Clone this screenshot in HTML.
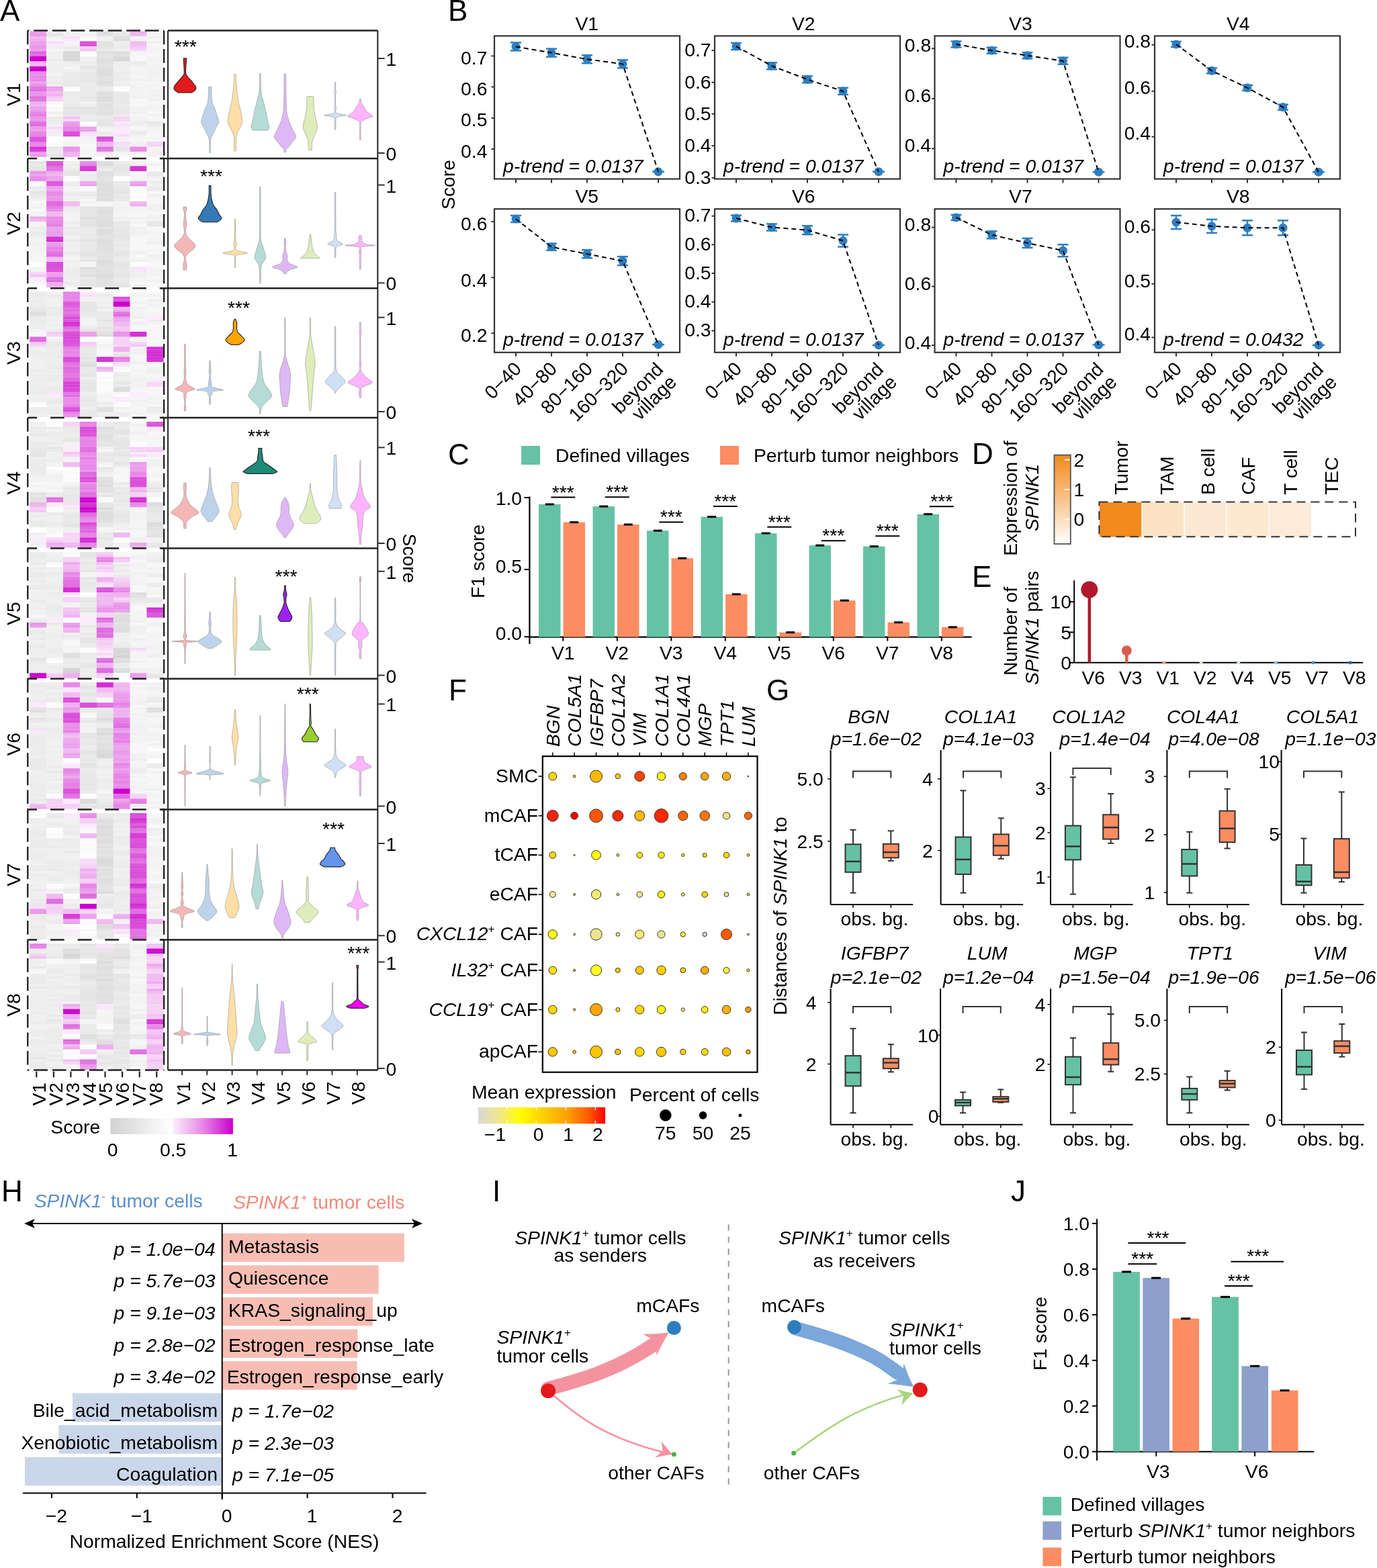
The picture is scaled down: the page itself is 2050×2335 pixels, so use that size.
<!DOCTYPE html>
<html><head><meta charset="utf-8"><style>
html,body{margin:0;padding:0;background:#fff;overflow:hidden;}
svg{display:block;}
text{font-family:"Liberation Sans", Arial, sans-serif;font-size:28.3px;}
</style></head><body>
<svg width="2050" height="2335" viewBox="0 0 2050 2335">
<rect width="2050" height="2335" fill="#fff"/>
<text x="0" y="31" style="font-size:44px;">A</text>
<rect x="44.2" y="46.5" width="25.2" height="4" fill="#EA9BEA"/>
<rect x="44.2" y="50.2" width="25.2" height="4" fill="#E997E9"/>
<rect x="44.2" y="54" width="25.2" height="4" fill="#F0BAF0"/>
<rect x="44.2" y="57.7" width="25.2" height="4" fill="#EEABEE"/>
<rect x="44.2" y="61.4" width="25.2" height="4" fill="#EBA1EB"/>
<rect x="44.2" y="65.2" width="25.2" height="4" fill="#EA9DEA"/>
<rect x="44.2" y="68.9" width="25.2" height="4" fill="#E995E9"/>
<rect x="44.2" y="72.7" width="25.2" height="4" fill="#EBA0EB"/>
<rect x="44.2" y="76.4" width="25.2" height="4" fill="#DF68DF"/>
<rect x="44.2" y="80.1" width="25.2" height="4" fill="#E06FE0"/>
<rect x="44.2" y="83.9" width="25.2" height="7.8" fill="#CC00CC"/>
<rect x="44.2" y="91.3" width="25.2" height="4" fill="#F0B6F0"/>
<rect x="44.2" y="95.1" width="25.2" height="4" fill="#F1BCF1"/>
<rect x="44.2" y="98.8" width="25.2" height="7.8" fill="#CC00CC"/>
<rect x="44.2" y="106.3" width="25.2" height="4" fill="#E88AE8"/>
<rect x="44.2" y="110" width="25.2" height="4" fill="#EA91EA"/>
<rect x="44.2" y="113.7" width="25.2" height="4" fill="#E889E8"/>
<rect x="44.2" y="117.5" width="25.2" height="4" fill="#E886E8"/>
<rect x="44.2" y="121.2" width="25.2" height="4" fill="#EDA7ED"/>
<rect x="44.2" y="125" width="25.2" height="4" fill="#E994E9"/>
<rect x="44.2" y="128.7" width="25.2" height="4" fill="#E278E2"/>
<rect x="44.2" y="132.4" width="25.2" height="4" fill="#DF6CDF"/>
<rect x="44.2" y="136.2" width="25.2" height="4" fill="#E997E9"/>
<rect x="44.2" y="139.9" width="25.2" height="4" fill="#E996E9"/>
<rect x="44.2" y="143.6" width="25.2" height="4" fill="#DF6DDF"/>
<rect x="44.2" y="147.4" width="25.2" height="4" fill="#E277E2"/>
<rect x="44.2" y="151.1" width="25.2" height="4" fill="#EEAFEE"/>
<rect x="44.2" y="154.8" width="25.2" height="4" fill="#F0B9F0"/>
<rect x="44.2" y="158.6" width="25.2" height="4" fill="#EBA2EB"/>
<rect x="44.2" y="162.3" width="25.2" height="4" fill="#EA9DEA"/>
<rect x="44.2" y="166.1" width="25.2" height="4" fill="#E889E8"/>
<rect x="44.2" y="169.8" width="25.2" height="4" fill="#E67EE6"/>
<rect x="44.2" y="173.5" width="25.2" height="4" fill="#E995E9"/>
<rect x="44.2" y="177.3" width="25.2" height="4" fill="#EA98EA"/>
<rect x="44.2" y="181" width="25.2" height="4" fill="#E174E1"/>
<rect x="44.2" y="184.7" width="25.2" height="4" fill="#E06FE0"/>
<rect x="44.2" y="188.5" width="25.2" height="4" fill="#EA9BEA"/>
<rect x="44.2" y="192.2" width="25.2" height="4" fill="#EBA1EB"/>
<rect x="44.2" y="195.9" width="25.2" height="4" fill="#E887E8"/>
<rect x="44.2" y="199.7" width="25.2" height="4" fill="#E784E7"/>
<rect x="44.2" y="203.4" width="25.2" height="4" fill="#DC58DC"/>
<rect x="44.2" y="207.1" width="25.2" height="4" fill="#DB56DB"/>
<rect x="44.2" y="210.9" width="25.2" height="4" fill="#E782E7"/>
<rect x="44.2" y="214.6" width="25.2" height="4" fill="#E889E8"/>
<rect x="44.2" y="218.4" width="25.2" height="4" fill="#D431D4"/>
<rect x="44.2" y="222.1" width="25.2" height="4" fill="#D73CD7"/>
<rect x="44.2" y="225.8" width="25.2" height="4" fill="#ECA3EC"/>
<rect x="44.2" y="229.6" width="25.2" height="4" fill="#EA9BEA"/>
<rect x="69.1" y="46.5" width="25.2" height="4" fill="#ECECEC"/>
<rect x="69.1" y="50.2" width="25.2" height="4" fill="#E5E5E5"/>
<rect x="69.1" y="54" width="25.2" height="4" fill="#F3F3F3"/>
<rect x="69.1" y="57.7" width="25.2" height="4" fill="#F6F6F6"/>
<rect x="69.1" y="61.4" width="25.2" height="4" fill="#F8DDF8"/>
<rect x="69.1" y="65.2" width="25.2" height="4" fill="#FBEAFB"/>
<rect x="69.1" y="68.9" width="25.2" height="4" fill="#F0F0F0"/>
<rect x="69.1" y="72.7" width="25.2" height="4" fill="#F5F5F5"/>
<rect x="69.1" y="76.4" width="25.2" height="4" fill="#F0F0F0"/>
<rect x="69.1" y="80.1" width="25.2" height="4" fill="#EFEFEF"/>
<rect x="69.1" y="83.9" width="25.2" height="4" fill="#F1F1F1"/>
<rect x="69.1" y="87.6" width="25.2" height="4" fill="#EDEDED"/>
<rect x="69.1" y="91.3" width="25.2" height="4" fill="#F0F0F0"/>
<rect x="69.1" y="95.1" width="25.2" height="7.8" fill="#EFEFEF"/>
<rect x="69.1" y="102.5" width="25.2" height="4" fill="#EEEEEE"/>
<rect x="69.1" y="106.3" width="25.2" height="4" fill="#F1F1F1"/>
<rect x="69.1" y="110" width="25.2" height="4" fill="#F2F2F2"/>
<rect x="69.1" y="113.7" width="25.2" height="4" fill="#EEEEEE"/>
<rect x="69.1" y="117.5" width="25.2" height="4" fill="#EFEFEF"/>
<rect x="69.1" y="121.2" width="25.2" height="4" fill="#EAEAEA"/>
<rect x="69.1" y="125" width="25.2" height="4" fill="#F0F0F0"/>
<rect x="69.1" y="128.7" width="25.2" height="4" fill="#EBA2EB"/>
<rect x="69.1" y="132.4" width="25.2" height="4" fill="#EDA7ED"/>
<rect x="69.1" y="136.2" width="25.2" height="4" fill="#F1BCF1"/>
<rect x="69.1" y="139.9" width="25.2" height="4" fill="#EFB2EF"/>
<rect x="69.1" y="143.6" width="25.2" height="4" fill="#F5CEF5"/>
<rect x="69.1" y="147.4" width="25.2" height="4" fill="#F6D3F6"/>
<rect x="69.1" y="151.1" width="25.2" height="4" fill="#F8F8F8"/>
<rect x="69.1" y="154.8" width="25.2" height="4" fill="#FCFCFC"/>
<rect x="69.1" y="158.6" width="25.2" height="7.8" fill="#F9F9F9"/>
<rect x="69.1" y="166.1" width="25.2" height="4" fill="#F0F0F0"/>
<rect x="69.1" y="169.8" width="25.2" height="4" fill="#F6F6F6"/>
<rect x="69.1" y="173.5" width="25.2" height="4" fill="#EBEBEB"/>
<rect x="69.1" y="177.3" width="25.2" height="4" fill="#ECECEC"/>
<rect x="69.1" y="181" width="25.2" height="4" fill="#EDEDED"/>
<rect x="69.1" y="184.7" width="25.2" height="4" fill="#F1F1F1"/>
<rect x="69.1" y="188.5" width="25.2" height="4" fill="#F8DAF8"/>
<rect x="69.1" y="192.2" width="25.2" height="4" fill="#FBE8FB"/>
<rect x="69.1" y="195.9" width="25.2" height="4" fill="#EEEEEE"/>
<rect x="69.1" y="199.7" width="25.2" height="4" fill="#F1F1F1"/>
<rect x="69.1" y="203.4" width="25.2" height="7.8" fill="#FFFFFF"/>
<rect x="69.1" y="210.9" width="25.2" height="4" fill="#FAFAFA"/>
<rect x="69.1" y="214.6" width="25.2" height="4" fill="#FBFBFB"/>
<rect x="69.1" y="218.4" width="25.2" height="4" fill="#E7E7E7"/>
<rect x="69.1" y="222.1" width="25.2" height="4" fill="#EBEBEB"/>
<rect x="69.1" y="225.8" width="25.2" height="4" fill="#ECECEC"/>
<rect x="69.1" y="229.6" width="25.2" height="4" fill="#E5E5E5"/>
<rect x="94" y="46.5" width="25.2" height="4" fill="#F1F1F1"/>
<rect x="94" y="50.2" width="25.2" height="4" fill="#F2F2F2"/>
<rect x="94" y="54" width="25.2" height="4" fill="#F9E0F9"/>
<rect x="94" y="57.7" width="25.2" height="4" fill="#FBE9FB"/>
<rect x="94" y="61.4" width="25.2" height="4" fill="#F5F5F5"/>
<rect x="94" y="65.2" width="25.2" height="4" fill="#F2F2F2"/>
<rect x="94" y="68.9" width="25.2" height="4" fill="#EAEAEA"/>
<rect x="94" y="72.7" width="25.2" height="4" fill="#EDEDED"/>
<rect x="94" y="76.4" width="25.2" height="4" fill="#D5D5D5"/>
<rect x="94" y="80.1" width="25.2" height="4" fill="#D7D7D7"/>
<rect x="94" y="83.9" width="25.2" height="4" fill="#DADADA"/>
<rect x="94" y="87.6" width="25.2" height="4" fill="#D8D8D8"/>
<rect x="94" y="91.3" width="25.2" height="4" fill="#EEEEEE"/>
<rect x="94" y="95.1" width="25.2" height="4" fill="#EFEFEF"/>
<rect x="94" y="98.8" width="25.2" height="4" fill="#F5F5F5"/>
<rect x="94" y="102.5" width="25.2" height="4" fill="#F0F0F0"/>
<rect x="94" y="106.3" width="25.2" height="4" fill="#EBEBEB"/>
<rect x="94" y="110" width="25.2" height="4" fill="#EAEAEA"/>
<rect x="94" y="113.7" width="25.2" height="4" fill="#EBEBEB"/>
<rect x="94" y="117.5" width="25.2" height="4" fill="#EAEAEA"/>
<rect x="94" y="121.2" width="25.2" height="7.8" fill="#E7E7E7"/>
<rect x="94" y="128.7" width="25.2" height="4" fill="#F9F9F9"/>
<rect x="94" y="132.4" width="25.2" height="4" fill="#FDFDFD"/>
<rect x="94" y="136.2" width="25.2" height="4" fill="#EAEAEA"/>
<rect x="94" y="139.9" width="25.2" height="4" fill="#EBEBEB"/>
<rect x="94" y="143.6" width="25.2" height="4" fill="#ECECEC"/>
<rect x="94" y="147.4" width="25.2" height="4" fill="#EBEBEB"/>
<rect x="94" y="151.1" width="25.2" height="4" fill="#EDEDED"/>
<rect x="94" y="154.8" width="25.2" height="4" fill="#EAEAEA"/>
<rect x="94" y="158.6" width="25.2" height="4" fill="#E4E4E4"/>
<rect x="94" y="162.3" width="25.2" height="7.8" fill="#E5E5E5"/>
<rect x="94" y="169.8" width="25.2" height="4" fill="#E7E7E7"/>
<rect x="94" y="173.5" width="25.2" height="4" fill="#F3C2F3"/>
<rect x="94" y="177.3" width="25.2" height="4" fill="#F7D5F7"/>
<rect x="94" y="181" width="25.2" height="4" fill="#EBA2EB"/>
<rect x="94" y="184.7" width="25.2" height="4" fill="#E997E9"/>
<rect x="94" y="188.5" width="25.2" height="4" fill="#E783E7"/>
<rect x="94" y="192.2" width="25.2" height="4" fill="#E785E7"/>
<rect x="94" y="195.9" width="25.2" height="4" fill="#DA4EDA"/>
<rect x="94" y="199.7" width="25.2" height="4" fill="#D94BD9"/>
<rect x="94" y="203.4" width="25.2" height="4" fill="#F7F7F7"/>
<rect x="94" y="207.1" width="25.2" height="4" fill="#F8F8F8"/>
<rect x="94" y="210.9" width="25.2" height="7.8" fill="#F4F4F4"/>
<rect x="94" y="218.4" width="25.2" height="4" fill="#E995E9"/>
<rect x="94" y="222.1" width="25.2" height="4" fill="#E996E9"/>
<rect x="94" y="225.8" width="25.2" height="4" fill="#EFB3EF"/>
<rect x="94" y="229.6" width="25.2" height="4" fill="#EFB1EF"/>
<rect x="118.9" y="46.5" width="25.2" height="4" fill="#F7F7F7"/>
<rect x="118.9" y="50.2" width="25.2" height="4" fill="#F1F1F1"/>
<rect x="118.9" y="54" width="25.2" height="4" fill="#F8F8F8"/>
<rect x="118.9" y="57.7" width="25.2" height="4" fill="#FFFFFF"/>
<rect x="118.9" y="61.4" width="25.2" height="4" fill="#DA51DA"/>
<rect x="118.9" y="65.2" width="25.2" height="4" fill="#D94BD9"/>
<rect x="118.9" y="68.9" width="25.2" height="4" fill="#F6D2F6"/>
<rect x="118.9" y="72.7" width="25.2" height="4" fill="#F3C2F3"/>
<rect x="118.9" y="76.4" width="25.2" height="4" fill="#FCFCFC"/>
<rect x="118.9" y="80.1" width="25.2" height="4" fill="#FFFFFF"/>
<rect x="118.9" y="83.9" width="25.2" height="4" fill="#F1F1F1"/>
<rect x="118.9" y="87.6" width="25.2" height="4" fill="#F0F0F0"/>
<rect x="118.9" y="91.3" width="25.2" height="4" fill="#ECECEC"/>
<rect x="118.9" y="95.1" width="25.2" height="4" fill="#EDEDED"/>
<rect x="118.9" y="98.8" width="25.2" height="4" fill="#E5E5E5"/>
<rect x="118.9" y="102.5" width="25.2" height="4" fill="#EAEAEA"/>
<rect x="118.9" y="106.3" width="25.2" height="4" fill="#E8E8E8"/>
<rect x="118.9" y="110" width="25.2" height="4" fill="#EAEAEA"/>
<rect x="118.9" y="113.7" width="25.2" height="4" fill="#E7E7E7"/>
<rect x="118.9" y="117.5" width="25.2" height="4" fill="#E6E6E6"/>
<rect x="118.9" y="121.2" width="25.2" height="4" fill="#EAEAEA"/>
<rect x="118.9" y="125" width="25.2" height="4" fill="#ECECEC"/>
<rect x="118.9" y="128.7" width="25.2" height="4" fill="#EBEBEB"/>
<rect x="118.9" y="132.4" width="25.2" height="4" fill="#EAEAEA"/>
<rect x="118.9" y="136.2" width="25.2" height="4" fill="#EBEBEB"/>
<rect x="118.9" y="139.9" width="25.2" height="4" fill="#EAEAEA"/>
<rect x="118.9" y="143.6" width="25.2" height="4" fill="#E6E6E6"/>
<rect x="118.9" y="147.4" width="25.2" height="4" fill="#E8E8E8"/>
<rect x="118.9" y="151.1" width="25.2" height="4" fill="#F3F3F3"/>
<rect x="118.9" y="154.8" width="25.2" height="4" fill="#F0F0F0"/>
<rect x="118.9" y="158.6" width="25.2" height="4" fill="#E4E4E4"/>
<rect x="118.9" y="162.3" width="25.2" height="7.8" fill="#E6E6E6"/>
<rect x="118.9" y="169.8" width="25.2" height="4" fill="#EAEAEA"/>
<rect x="118.9" y="173.5" width="25.2" height="4" fill="#ECECEC"/>
<rect x="118.9" y="177.3" width="25.2" height="4" fill="#E8E8E8"/>
<rect x="118.9" y="181" width="25.2" height="7.8" fill="#FFFFFF"/>
<rect x="118.9" y="188.5" width="25.2" height="4" fill="#ECA7EC"/>
<rect x="118.9" y="192.2" width="25.2" height="4" fill="#EA9DEA"/>
<rect x="118.9" y="195.9" width="25.2" height="7.8" fill="#F9E0F9"/>
<rect x="118.9" y="203.4" width="25.2" height="7.8" fill="#F2F2F2"/>
<rect x="118.9" y="210.9" width="25.2" height="4" fill="#F5F5F5"/>
<rect x="118.9" y="214.6" width="25.2" height="7.8" fill="#F7F7F7"/>
<rect x="118.9" y="222.1" width="25.2" height="4" fill="#F4F4F4"/>
<rect x="118.9" y="225.8" width="25.2" height="4" fill="#F5F5F5"/>
<rect x="118.9" y="229.6" width="25.2" height="4" fill="#F6F6F6"/>
<rect x="143.8" y="46.5" width="25.2" height="4" fill="#DDDDDD"/>
<rect x="143.8" y="50.2" width="25.2" height="4" fill="#E1E1E1"/>
<rect x="143.8" y="54" width="25.2" height="4" fill="#F1F1F1"/>
<rect x="143.8" y="57.7" width="25.2" height="4" fill="#F0F0F0"/>
<rect x="143.8" y="61.4" width="25.2" height="4" fill="#E2E2E2"/>
<rect x="143.8" y="65.2" width="25.2" height="4" fill="#E0E0E0"/>
<rect x="143.8" y="68.9" width="25.2" height="4" fill="#E5E5E5"/>
<rect x="143.8" y="72.7" width="25.2" height="4" fill="#EAEAEA"/>
<rect x="143.8" y="76.4" width="25.2" height="4" fill="#DFDFDF"/>
<rect x="143.8" y="80.1" width="25.2" height="4" fill="#E2E2E2"/>
<rect x="143.8" y="83.9" width="25.2" height="4" fill="#E4E4E4"/>
<rect x="143.8" y="87.6" width="25.2" height="7.8" fill="#DFDFDF"/>
<rect x="143.8" y="95.1" width="25.2" height="4" fill="#E4E4E4"/>
<rect x="143.8" y="98.8" width="25.2" height="4" fill="#E2E2E2"/>
<rect x="143.8" y="102.5" width="25.2" height="11.5" fill="#DDDDDD"/>
<rect x="143.8" y="113.7" width="25.2" height="4" fill="#E3E3E3"/>
<rect x="143.8" y="117.5" width="25.2" height="4" fill="#E2E2E2"/>
<rect x="143.8" y="121.2" width="25.2" height="4" fill="#DDDDDD"/>
<rect x="143.8" y="125" width="25.2" height="4" fill="#E3E3E3"/>
<rect x="143.8" y="128.7" width="25.2" height="4" fill="#ECECEC"/>
<rect x="143.8" y="132.4" width="25.2" height="4" fill="#E9E9E9"/>
<rect x="143.8" y="136.2" width="25.2" height="4" fill="#DFDFDF"/>
<rect x="143.8" y="139.9" width="25.2" height="4" fill="#E0E0E0"/>
<rect x="143.8" y="143.6" width="25.2" height="4" fill="#DDDDDD"/>
<rect x="143.8" y="147.4" width="25.2" height="4" fill="#DCDCDC"/>
<rect x="143.8" y="151.1" width="25.2" height="4" fill="#E4E4E4"/>
<rect x="143.8" y="154.8" width="25.2" height="4" fill="#E1E1E1"/>
<rect x="143.8" y="158.6" width="25.2" height="4" fill="#E0E0E0"/>
<rect x="143.8" y="162.3" width="25.2" height="4" fill="#E3E3E3"/>
<rect x="143.8" y="166.1" width="25.2" height="4" fill="#DFDFDF"/>
<rect x="143.8" y="169.8" width="25.2" height="4" fill="#E3E3E3"/>
<rect x="143.8" y="173.5" width="25.2" height="4" fill="#EBEBEB"/>
<rect x="143.8" y="177.3" width="25.2" height="11.5" fill="#E6E6E6"/>
<rect x="143.8" y="188.5" width="25.2" height="4" fill="#F2F2F2"/>
<rect x="143.8" y="192.2" width="25.2" height="4" fill="#F5F5F5"/>
<rect x="143.8" y="195.9" width="25.2" height="4" fill="#ECECEC"/>
<rect x="143.8" y="199.7" width="25.2" height="4" fill="#EDEDED"/>
<rect x="143.8" y="203.4" width="25.2" height="4" fill="#D94BD9"/>
<rect x="143.8" y="207.1" width="25.2" height="4" fill="#DC5BDC"/>
<rect x="143.8" y="210.9" width="25.2" height="4" fill="#EFB4EF"/>
<rect x="143.8" y="214.6" width="25.2" height="4" fill="#F0B7F0"/>
<rect x="143.8" y="218.4" width="25.2" height="4" fill="#E072E0"/>
<rect x="143.8" y="222.1" width="25.2" height="4" fill="#E279E2"/>
<rect x="143.8" y="225.8" width="25.2" height="4" fill="#FAE7FA"/>
<rect x="143.8" y="229.6" width="25.2" height="4" fill="#FBEBFB"/>
<rect x="168.7" y="46.5" width="25.2" height="7.8" fill="#E8E8E8"/>
<rect x="168.7" y="54" width="25.2" height="4" fill="#E0E0E0"/>
<rect x="168.7" y="57.7" width="25.2" height="4" fill="#DCDCDC"/>
<rect x="168.7" y="61.4" width="25.2" height="4" fill="#EEEEEE"/>
<rect x="168.7" y="65.2" width="25.2" height="4" fill="#EBEBEB"/>
<rect x="168.7" y="68.9" width="25.2" height="4" fill="#EAEAEA"/>
<rect x="168.7" y="72.7" width="25.2" height="4" fill="#F0F0F0"/>
<rect x="168.7" y="76.4" width="25.2" height="4" fill="#DDDDDD"/>
<rect x="168.7" y="80.1" width="25.2" height="4" fill="#E0E0E0"/>
<rect x="168.7" y="83.9" width="25.2" height="4" fill="#D8D8D8"/>
<rect x="168.7" y="87.6" width="25.2" height="4" fill="#D6D6D6"/>
<rect x="168.7" y="91.3" width="25.2" height="4" fill="#EDEDED"/>
<rect x="168.7" y="95.1" width="25.2" height="7.8" fill="#EEEEEE"/>
<rect x="168.7" y="102.5" width="25.2" height="4" fill="#F0F0F0"/>
<rect x="168.7" y="106.3" width="25.2" height="4" fill="#EBEBEB"/>
<rect x="168.7" y="110" width="25.2" height="4" fill="#EEEEEE"/>
<rect x="168.7" y="113.7" width="25.2" height="7.8" fill="#ECECEC"/>
<rect x="168.7" y="121.2" width="25.2" height="4" fill="#F0F0F0"/>
<rect x="168.7" y="125" width="25.2" height="4" fill="#EEEEEE"/>
<rect x="168.7" y="128.7" width="25.2" height="4" fill="#FCFCFC"/>
<rect x="168.7" y="132.4" width="25.2" height="4" fill="#FEFEFE"/>
<rect x="168.7" y="136.2" width="25.2" height="4" fill="#EBEBEB"/>
<rect x="168.7" y="139.9" width="25.2" height="4" fill="#E8E8E8"/>
<rect x="168.7" y="143.6" width="25.2" height="4" fill="#E9E9E9"/>
<rect x="168.7" y="147.4" width="25.2" height="7.8" fill="#E8E8E8"/>
<rect x="168.7" y="154.8" width="25.2" height="4" fill="#EAEAEA"/>
<rect x="168.7" y="158.6" width="25.2" height="11.5" fill="#E8E8E8"/>
<rect x="168.7" y="169.8" width="25.2" height="4" fill="#ECECEC"/>
<rect x="168.7" y="173.5" width="25.2" height="4" fill="#F6D3F6"/>
<rect x="168.7" y="177.3" width="25.2" height="4" fill="#F7D5F7"/>
<rect x="168.7" y="181" width="25.2" height="4" fill="#FBEBFB"/>
<rect x="168.7" y="184.7" width="25.2" height="4" fill="#F9E1F9"/>
<rect x="168.7" y="188.5" width="25.2" height="4" fill="#FBEAFB"/>
<rect x="168.7" y="192.2" width="25.2" height="7.8" fill="#FBEBFB"/>
<rect x="168.7" y="199.7" width="25.2" height="4" fill="#F8DCF8"/>
<rect x="168.7" y="203.4" width="25.2" height="4" fill="#F1F1F1"/>
<rect x="168.7" y="207.1" width="25.2" height="4" fill="#F4F4F4"/>
<rect x="168.7" y="210.9" width="25.2" height="4" fill="#F8DAF8"/>
<rect x="168.7" y="214.6" width="25.2" height="4" fill="#F9E0F9"/>
<rect x="168.7" y="218.4" width="25.2" height="4" fill="#E5E5E5"/>
<rect x="168.7" y="222.1" width="25.2" height="4" fill="#E9E9E9"/>
<rect x="168.7" y="225.8" width="25.2" height="4" fill="#F6F6F6"/>
<rect x="168.7" y="229.6" width="25.2" height="4" fill="#F7F7F7"/>
<rect x="193.5" y="46.5" width="25.2" height="4" fill="#EEAEEE"/>
<rect x="193.5" y="50.2" width="25.2" height="4" fill="#F1BAF1"/>
<rect x="193.5" y="54" width="25.2" height="4" fill="#F5F5F5"/>
<rect x="193.5" y="57.7" width="25.2" height="4" fill="#F1F1F1"/>
<rect x="193.5" y="61.4" width="25.2" height="4" fill="#F1BCF1"/>
<rect x="193.5" y="65.2" width="25.2" height="4" fill="#F1BDF1"/>
<rect x="193.5" y="68.9" width="25.2" height="4" fill="#F4C9F4"/>
<rect x="193.5" y="72.7" width="25.2" height="4" fill="#F7D5F7"/>
<rect x="193.5" y="76.4" width="25.2" height="4" fill="#F3F3F3"/>
<rect x="193.5" y="80.1" width="25.2" height="4" fill="#F4F4F4"/>
<rect x="193.5" y="83.9" width="25.2" height="4" fill="#F8F8F8"/>
<rect x="193.5" y="87.6" width="25.2" height="4" fill="#F7F7F7"/>
<rect x="193.5" y="91.3" width="25.2" height="4" fill="#EBEBEB"/>
<rect x="193.5" y="95.1" width="25.2" height="4" fill="#EDEDED"/>
<rect x="193.5" y="98.8" width="25.2" height="4" fill="#F4F4F4"/>
<rect x="193.5" y="102.5" width="25.2" height="4" fill="#F3F3F3"/>
<rect x="193.5" y="106.3" width="25.2" height="4" fill="#F2F2F2"/>
<rect x="193.5" y="110" width="25.2" height="4" fill="#F3F3F3"/>
<rect x="193.5" y="113.7" width="25.2" height="4" fill="#F6F6F6"/>
<rect x="193.5" y="117.5" width="25.2" height="4" fill="#F0F0F0"/>
<rect x="193.5" y="121.2" width="25.2" height="7.8" fill="#F4F4F4"/>
<rect x="193.5" y="128.7" width="25.2" height="4" fill="#F0F0F0"/>
<rect x="193.5" y="132.4" width="25.2" height="4" fill="#F3F3F3"/>
<rect x="193.5" y="136.2" width="25.2" height="4" fill="#F5F5F5"/>
<rect x="193.5" y="139.9" width="25.2" height="4" fill="#F4F4F4"/>
<rect x="193.5" y="143.6" width="25.2" height="4" fill="#F1F1F1"/>
<rect x="193.5" y="147.4" width="25.2" height="4" fill="#F8F8F8"/>
<rect x="193.5" y="151.1" width="25.2" height="4" fill="#F6F6F6"/>
<rect x="193.5" y="154.8" width="25.2" height="4" fill="#F8F8F8"/>
<rect x="193.5" y="158.6" width="25.2" height="4" fill="#F1F1F1"/>
<rect x="193.5" y="162.3" width="25.2" height="4" fill="#F2F2F2"/>
<rect x="193.5" y="166.1" width="25.2" height="4" fill="#F0F0F0"/>
<rect x="193.5" y="169.8" width="25.2" height="4" fill="#F6F6F6"/>
<rect x="193.5" y="173.5" width="25.2" height="4" fill="#F2F2F2"/>
<rect x="193.5" y="177.3" width="25.2" height="4" fill="#F1F1F1"/>
<rect x="193.5" y="181" width="25.2" height="4" fill="#EDEDED"/>
<rect x="193.5" y="184.7" width="25.2" height="4" fill="#F1F1F1"/>
<rect x="193.5" y="188.5" width="25.2" height="4" fill="#F7F7F7"/>
<rect x="193.5" y="192.2" width="25.2" height="4" fill="#F2F2F2"/>
<rect x="193.5" y="195.9" width="25.2" height="4" fill="#EBEBEB"/>
<rect x="193.5" y="199.7" width="25.2" height="4" fill="#F1F1F1"/>
<rect x="193.5" y="203.4" width="25.2" height="4" fill="#F5F5F5"/>
<rect x="193.5" y="207.1" width="25.2" height="4" fill="#F6F6F6"/>
<rect x="193.5" y="210.9" width="25.2" height="4" fill="#F1F1F1"/>
<rect x="193.5" y="214.6" width="25.2" height="4" fill="#F0F0F0"/>
<rect x="193.5" y="218.4" width="25.2" height="4" fill="#E98CE9"/>
<rect x="193.5" y="222.1" width="25.2" height="4" fill="#E886E8"/>
<rect x="193.5" y="225.8" width="25.2" height="4" fill="#F1F1F1"/>
<rect x="193.5" y="229.6" width="25.2" height="4" fill="#F8F8F8"/>
<rect x="218.4" y="46.5" width="25.2" height="4" fill="#F5F5F5"/>
<rect x="218.4" y="50.2" width="25.2" height="4" fill="#F6F6F6"/>
<rect x="218.4" y="54" width="25.2" height="4" fill="#F1F1F1"/>
<rect x="218.4" y="57.7" width="25.2" height="4" fill="#F7F7F7"/>
<rect x="218.4" y="61.4" width="25.2" height="4" fill="#F1F1F1"/>
<rect x="218.4" y="65.2" width="25.2" height="4" fill="#F7F7F7"/>
<rect x="218.4" y="68.9" width="25.2" height="4" fill="#F4F4F4"/>
<rect x="218.4" y="72.7" width="25.2" height="4" fill="#F3F3F3"/>
<rect x="218.4" y="76.4" width="25.2" height="4" fill="#F4F4F4"/>
<rect x="218.4" y="80.1" width="25.2" height="4" fill="#F7F7F7"/>
<rect x="218.4" y="83.9" width="25.2" height="4" fill="#F2F2F2"/>
<rect x="218.4" y="87.6" width="25.2" height="4" fill="#F1F1F1"/>
<rect x="218.4" y="91.3" width="25.2" height="4" fill="#F4F4F4"/>
<rect x="218.4" y="95.1" width="25.2" height="4" fill="#F2F2F2"/>
<rect x="218.4" y="98.8" width="25.2" height="7.8" fill="#F1F1F1"/>
<rect x="218.4" y="106.3" width="25.2" height="4" fill="#F0F0F0"/>
<rect x="218.4" y="110" width="25.2" height="11.5" fill="#F2F2F2"/>
<rect x="218.4" y="121.2" width="25.2" height="4" fill="#F6F6F6"/>
<rect x="218.4" y="125" width="25.2" height="4" fill="#F2F2F2"/>
<rect x="218.4" y="128.7" width="25.2" height="4" fill="#F4F4F4"/>
<rect x="218.4" y="132.4" width="25.2" height="4" fill="#F1F1F1"/>
<rect x="218.4" y="136.2" width="25.2" height="4" fill="#F3F3F3"/>
<rect x="218.4" y="139.9" width="25.2" height="4" fill="#F0F0F0"/>
<rect x="218.4" y="143.6" width="25.2" height="4" fill="#F2F2F2"/>
<rect x="218.4" y="147.4" width="25.2" height="4" fill="#F0F0F0"/>
<rect x="218.4" y="151.1" width="25.2" height="4" fill="#F6F6F6"/>
<rect x="218.4" y="154.8" width="25.2" height="4" fill="#F4F4F4"/>
<rect x="218.4" y="158.6" width="25.2" height="4" fill="#F2F2F2"/>
<rect x="218.4" y="162.3" width="25.2" height="4" fill="#F4F4F4"/>
<rect x="218.4" y="166.1" width="25.2" height="4" fill="#F7F7F7"/>
<rect x="218.4" y="169.8" width="25.2" height="4" fill="#F1F1F1"/>
<rect x="218.4" y="173.5" width="25.2" height="4" fill="#F7F7F7"/>
<rect x="218.4" y="177.3" width="25.2" height="4" fill="#F3F3F3"/>
<rect x="218.4" y="181" width="25.2" height="4" fill="#E8E8E8"/>
<rect x="218.4" y="184.7" width="25.2" height="4" fill="#EBEBEB"/>
<rect x="218.4" y="188.5" width="25.2" height="4" fill="#F3F3F3"/>
<rect x="218.4" y="192.2" width="25.2" height="4" fill="#F4F4F4"/>
<rect x="218.4" y="195.9" width="25.2" height="4" fill="#F6F6F6"/>
<rect x="218.4" y="199.7" width="25.2" height="4" fill="#F8F8F8"/>
<rect x="218.4" y="203.4" width="25.2" height="4" fill="#F3F3F3"/>
<rect x="218.4" y="207.1" width="25.2" height="4" fill="#F7F7F7"/>
<rect x="218.4" y="210.9" width="25.2" height="7.8" fill="#F6D3F6"/>
<rect x="218.4" y="218.4" width="25.2" height="7.8" fill="#F3F3F3"/>
<rect x="218.4" y="225.8" width="25.2" height="4" fill="#F0F0F0"/>
<rect x="218.4" y="229.6" width="25.2" height="4" fill="#F1F1F1"/>
<line x1="41.3" y1="45.5" x2="41.3" y2="236" stroke="#222" stroke-width="2.4" stroke-dasharray="20.7 6.9"/>
<line x1="244.1" y1="45.5" x2="244.1" y2="236" stroke="#222" stroke-width="2.4" stroke-dasharray="20.7 6.9"/>
<rect x="44.2" y="239.8" width="25.2" height="4.1" fill="#E5E5E5"/>
<rect x="44.2" y="243.6" width="25.2" height="4.1" fill="#EAEAEA"/>
<rect x="44.2" y="247.3" width="25.2" height="4.1" fill="#E6E6E6"/>
<rect x="44.2" y="251.1" width="25.2" height="4.1" fill="#E5E5E5"/>
<rect x="44.2" y="254.8" width="25.2" height="4.1" fill="#E995E9"/>
<rect x="44.2" y="258.6" width="25.2" height="4.1" fill="#ECA5EC"/>
<rect x="44.2" y="262.3" width="25.2" height="4.1" fill="#E98FE9"/>
<rect x="44.2" y="266.1" width="25.2" height="4.1" fill="#E98BE9"/>
<rect x="44.2" y="269.8" width="25.2" height="7.8" fill="#FAFAFA"/>
<rect x="44.2" y="277.4" width="25.2" height="4.1" fill="#ECECEC"/>
<rect x="44.2" y="281.1" width="25.2" height="4.1" fill="#EEEEEE"/>
<rect x="44.2" y="284.9" width="25.2" height="4.1" fill="#E5E5E5"/>
<rect x="44.2" y="288.6" width="25.2" height="4.1" fill="#E8E8E8"/>
<rect x="44.2" y="292.4" width="25.2" height="4.1" fill="#ECECEC"/>
<rect x="44.2" y="296.1" width="25.2" height="4.1" fill="#F2F2F2"/>
<rect x="44.2" y="299.9" width="25.2" height="4.1" fill="#F8F8F8"/>
<rect x="44.2" y="303.7" width="25.2" height="4.1" fill="#F4F4F4"/>
<rect x="44.2" y="307.4" width="25.2" height="4.1" fill="#F2F2F2"/>
<rect x="44.2" y="311.2" width="25.2" height="4.1" fill="#F8F8F8"/>
<rect x="44.2" y="314.9" width="25.2" height="4.1" fill="#F2F2F2"/>
<rect x="44.2" y="318.7" width="25.2" height="4.1" fill="#F3F3F3"/>
<rect x="44.2" y="322.4" width="25.2" height="4.1" fill="#EDA9ED"/>
<rect x="44.2" y="326.2" width="25.2" height="4.1" fill="#EFB5EF"/>
<rect x="44.2" y="329.9" width="25.2" height="7.8" fill="#F4F4F4"/>
<rect x="44.2" y="337.5" width="25.2" height="4.1" fill="#ECECEC"/>
<rect x="44.2" y="341.2" width="25.2" height="4.1" fill="#EEEEEE"/>
<rect x="44.2" y="345" width="25.2" height="4.1" fill="#EAEAEA"/>
<rect x="44.2" y="348.7" width="25.2" height="4.1" fill="#ECECEC"/>
<rect x="44.2" y="352.5" width="25.2" height="4.1" fill="#F1F1F1"/>
<rect x="44.2" y="356.2" width="25.2" height="4.1" fill="#F3F3F3"/>
<rect x="44.2" y="360" width="25.2" height="7.8" fill="#F0F0F0"/>
<rect x="44.2" y="367.5" width="25.2" height="7.8" fill="#F2F2F2"/>
<rect x="44.2" y="375" width="25.2" height="4.1" fill="#F5F5F5"/>
<rect x="44.2" y="378.8" width="25.2" height="4.1" fill="#F4F4F4"/>
<rect x="44.2" y="382.5" width="25.2" height="4.1" fill="#F6F6F6"/>
<rect x="44.2" y="386.3" width="25.2" height="4.1" fill="#F5F5F5"/>
<rect x="44.2" y="390" width="25.2" height="4.1" fill="#FEFEFE"/>
<rect x="44.2" y="393.8" width="25.2" height="4.1" fill="#FFFFFF"/>
<rect x="44.2" y="397.6" width="25.2" height="7.8" fill="#F3F3F3"/>
<rect x="44.2" y="405.1" width="25.2" height="4.1" fill="#F7D5F7"/>
<rect x="44.2" y="408.8" width="25.2" height="4.1" fill="#F4C6F4"/>
<rect x="44.2" y="412.6" width="25.2" height="4.1" fill="#FBEBFB"/>
<rect x="44.2" y="416.3" width="25.2" height="4.1" fill="#FBEAFB"/>
<rect x="44.2" y="420.1" width="25.2" height="4.1" fill="#F8F8F8"/>
<rect x="44.2" y="423.8" width="25.2" height="4.1" fill="#FFFFFF"/>
<rect x="69.1" y="239.8" width="25.2" height="4.1" fill="#DC5BDC"/>
<rect x="69.1" y="243.6" width="25.2" height="4.1" fill="#DB54DB"/>
<rect x="69.1" y="247.3" width="25.2" height="4.1" fill="#E175E1"/>
<rect x="69.1" y="251.1" width="25.2" height="4.1" fill="#E277E2"/>
<rect x="69.1" y="254.8" width="25.2" height="4.1" fill="#EEADEE"/>
<rect x="69.1" y="258.6" width="25.2" height="4.1" fill="#F0B8F0"/>
<rect x="69.1" y="262.3" width="25.2" height="4.1" fill="#EBA0EB"/>
<rect x="69.1" y="266.1" width="25.2" height="4.1" fill="#ECA5EC"/>
<rect x="69.1" y="269.8" width="25.2" height="7.8" fill="#DC59DC"/>
<rect x="69.1" y="277.4" width="25.2" height="4.1" fill="#EBA1EB"/>
<rect x="69.1" y="281.1" width="25.2" height="4.1" fill="#ECA6EC"/>
<rect x="69.1" y="284.9" width="25.2" height="4.1" fill="#E98BE9"/>
<rect x="69.1" y="288.6" width="25.2" height="4.1" fill="#E98CE9"/>
<rect x="69.1" y="292.4" width="25.2" height="4.1" fill="#EA99EA"/>
<rect x="69.1" y="296.1" width="25.2" height="4.1" fill="#E994E9"/>
<rect x="69.1" y="299.9" width="25.2" height="4.1" fill="#DF69DF"/>
<rect x="69.1" y="303.7" width="25.2" height="4.1" fill="#E06EE0"/>
<rect x="69.1" y="307.4" width="25.2" height="4.1" fill="#E67FE6"/>
<rect x="69.1" y="311.2" width="25.2" height="4.1" fill="#E98EE9"/>
<rect x="69.1" y="314.9" width="25.2" height="7.8" fill="#F0B9F0"/>
<rect x="69.1" y="322.4" width="25.2" height="4.1" fill="#E88AE8"/>
<rect x="69.1" y="326.2" width="25.2" height="4.1" fill="#E98BE9"/>
<rect x="69.1" y="329.9" width="25.2" height="4.1" fill="#E888E8"/>
<rect x="69.1" y="333.7" width="25.2" height="4.1" fill="#E67DE6"/>
<rect x="69.1" y="337.5" width="25.2" height="4.1" fill="#ECA5EC"/>
<rect x="69.1" y="341.2" width="25.2" height="4.1" fill="#ECA4EC"/>
<rect x="69.1" y="345" width="25.2" height="4.1" fill="#EBA0EB"/>
<rect x="69.1" y="348.7" width="25.2" height="4.1" fill="#EBA1EB"/>
<rect x="69.1" y="352.5" width="25.2" height="4.1" fill="#D535D5"/>
<rect x="69.1" y="356.2" width="25.2" height="4.1" fill="#D32DD3"/>
<rect x="69.1" y="360" width="25.2" height="4.1" fill="#ECA4EC"/>
<rect x="69.1" y="363.7" width="25.2" height="4.1" fill="#EA9AEA"/>
<rect x="69.1" y="367.5" width="25.2" height="4.1" fill="#E67FE6"/>
<rect x="69.1" y="371.3" width="25.2" height="4.1" fill="#E783E7"/>
<rect x="69.1" y="375" width="25.2" height="4.1" fill="#E175E1"/>
<rect x="69.1" y="378.8" width="25.2" height="4.1" fill="#DF6BDF"/>
<rect x="69.1" y="382.5" width="25.2" height="4.1" fill="#F1BBF1"/>
<rect x="69.1" y="386.3" width="25.2" height="4.1" fill="#F1BDF1"/>
<rect x="69.1" y="390" width="25.2" height="4.1" fill="#DA50DA"/>
<rect x="69.1" y="393.8" width="25.2" height="4.1" fill="#DA4EDA"/>
<rect x="69.1" y="397.6" width="25.2" height="4.1" fill="#DA50DA"/>
<rect x="69.1" y="401.3" width="25.2" height="4.1" fill="#DB55DB"/>
<rect x="69.1" y="405.1" width="25.2" height="4.1" fill="#ECA4EC"/>
<rect x="69.1" y="408.8" width="25.2" height="4.1" fill="#EBA2EB"/>
<rect x="69.1" y="412.6" width="25.2" height="4.1" fill="#E173E1"/>
<rect x="69.1" y="416.3" width="25.2" height="4.1" fill="#DF68DF"/>
<rect x="69.1" y="420.1" width="25.2" height="4.1" fill="#EEAEEE"/>
<rect x="69.1" y="423.8" width="25.2" height="4.1" fill="#EFB1EF"/>
<rect x="94" y="239.8" width="25.2" height="4.1" fill="#F0F0F0"/>
<rect x="94" y="243.6" width="25.2" height="4.1" fill="#ECECEC"/>
<rect x="94" y="247.3" width="25.2" height="4.1" fill="#EFEFEF"/>
<rect x="94" y="251.1" width="25.2" height="4.1" fill="#EAEAEA"/>
<rect x="94" y="254.8" width="25.2" height="4.1" fill="#E4E4E4"/>
<rect x="94" y="258.6" width="25.2" height="4.1" fill="#E6E6E6"/>
<rect x="94" y="262.3" width="25.2" height="4.1" fill="#FDFDFD"/>
<rect x="94" y="266.1" width="25.2" height="4.1" fill="#FEFEFE"/>
<rect x="94" y="269.8" width="25.2" height="4.1" fill="#EFEFEF"/>
<rect x="94" y="273.6" width="25.2" height="4.1" fill="#ECECEC"/>
<rect x="94" y="277.4" width="25.2" height="7.8" fill="#F4F4F4"/>
<rect x="94" y="284.9" width="25.2" height="4.1" fill="#EEEEEE"/>
<rect x="94" y="288.6" width="25.2" height="4.1" fill="#EBEBEB"/>
<rect x="94" y="292.4" width="25.2" height="4.1" fill="#F1F1F1"/>
<rect x="94" y="296.1" width="25.2" height="4.1" fill="#ECECEC"/>
<rect x="94" y="299.9" width="25.2" height="7.8" fill="#F1BDF1"/>
<rect x="94" y="307.4" width="25.2" height="4.1" fill="#EAEAEA"/>
<rect x="94" y="311.2" width="25.2" height="4.1" fill="#EEEEEE"/>
<rect x="94" y="314.9" width="25.2" height="4.1" fill="#F1F1F1"/>
<rect x="94" y="318.7" width="25.2" height="4.1" fill="#F2F2F2"/>
<rect x="94" y="322.4" width="25.2" height="4.1" fill="#F4F4F4"/>
<rect x="94" y="326.2" width="25.2" height="4.1" fill="#F2F2F2"/>
<rect x="94" y="329.9" width="25.2" height="4.1" fill="#ECECEC"/>
<rect x="94" y="333.7" width="25.2" height="4.1" fill="#F2F2F2"/>
<rect x="94" y="337.5" width="25.2" height="4.1" fill="#ECECEC"/>
<rect x="94" y="341.2" width="25.2" height="4.1" fill="#EFEFEF"/>
<rect x="94" y="345" width="25.2" height="4.1" fill="#EBEBEB"/>
<rect x="94" y="348.7" width="25.2" height="4.1" fill="#EEEEEE"/>
<rect x="94" y="352.5" width="25.2" height="4.1" fill="#F2F2F2"/>
<rect x="94" y="356.2" width="25.2" height="4.1" fill="#EBEBEB"/>
<rect x="94" y="360" width="25.2" height="4.1" fill="#F1F1F1"/>
<rect x="94" y="363.7" width="25.2" height="4.1" fill="#EEEEEE"/>
<rect x="94" y="367.5" width="25.2" height="4.1" fill="#F1F1F1"/>
<rect x="94" y="371.3" width="25.2" height="4.1" fill="#F0F0F0"/>
<rect x="94" y="375" width="25.2" height="4.1" fill="#ECECEC"/>
<rect x="94" y="378.8" width="25.2" height="4.1" fill="#F1F1F1"/>
<rect x="94" y="382.5" width="25.2" height="4.1" fill="#F4F4F4"/>
<rect x="94" y="386.3" width="25.2" height="7.8" fill="#F0F0F0"/>
<rect x="94" y="393.8" width="25.2" height="4.1" fill="#F4F4F4"/>
<rect x="94" y="397.6" width="25.2" height="4.1" fill="#EEEEEE"/>
<rect x="94" y="401.3" width="25.2" height="4.1" fill="#ECECEC"/>
<rect x="94" y="405.1" width="25.2" height="4.1" fill="#EBEBEB"/>
<rect x="94" y="408.8" width="25.2" height="7.8" fill="#EDEDED"/>
<rect x="94" y="416.3" width="25.2" height="4.1" fill="#F1F1F1"/>
<rect x="94" y="420.1" width="25.2" height="4.1" fill="#EAEAEA"/>
<rect x="94" y="423.8" width="25.2" height="4.1" fill="#F0F0F0"/>
<rect x="118.9" y="239.8" width="25.2" height="4.1" fill="#E98EE9"/>
<rect x="118.9" y="243.6" width="25.2" height="4.1" fill="#E680E6"/>
<rect x="118.9" y="247.3" width="25.2" height="4.1" fill="#D73ED7"/>
<rect x="118.9" y="251.1" width="25.2" height="4.1" fill="#D537D5"/>
<rect x="118.9" y="254.8" width="25.2" height="4.1" fill="#F1F1F1"/>
<rect x="118.9" y="258.6" width="25.2" height="4.1" fill="#ECECEC"/>
<rect x="118.9" y="262.3" width="25.2" height="7.8" fill="#EDEDED"/>
<rect x="118.9" y="269.8" width="25.2" height="4.1" fill="#EDA8ED"/>
<rect x="118.9" y="273.6" width="25.2" height="4.1" fill="#EBA1EB"/>
<rect x="118.9" y="277.4" width="25.2" height="7.8" fill="#FBFBFB"/>
<rect x="118.9" y="284.9" width="25.2" height="4.1" fill="#ECECEC"/>
<rect x="118.9" y="288.6" width="25.2" height="4.1" fill="#EAEAEA"/>
<rect x="118.9" y="292.4" width="25.2" height="4.1" fill="#F1F1F1"/>
<rect x="118.9" y="296.1" width="25.2" height="4.1" fill="#F7F7F7"/>
<rect x="118.9" y="299.9" width="25.2" height="4.1" fill="#F2F2F2"/>
<rect x="118.9" y="303.7" width="25.2" height="4.1" fill="#F7F7F7"/>
<rect x="118.9" y="307.4" width="25.2" height="7.8" fill="#E6E6E6"/>
<rect x="118.9" y="314.9" width="25.2" height="4.1" fill="#E8E8E8"/>
<rect x="118.9" y="318.7" width="25.2" height="4.1" fill="#E6E6E6"/>
<rect x="118.9" y="322.4" width="25.2" height="4.1" fill="#DFDFDF"/>
<rect x="118.9" y="326.2" width="25.2" height="4.1" fill="#E4E4E4"/>
<rect x="118.9" y="329.9" width="25.2" height="4.1" fill="#E3E3E3"/>
<rect x="118.9" y="333.7" width="25.2" height="4.1" fill="#E2E2E2"/>
<rect x="118.9" y="337.5" width="25.2" height="4.1" fill="#E9E9E9"/>
<rect x="118.9" y="341.2" width="25.2" height="4.1" fill="#EBEBEB"/>
<rect x="118.9" y="345" width="25.2" height="4.1" fill="#ECECEC"/>
<rect x="118.9" y="348.7" width="25.2" height="4.1" fill="#E8E8E8"/>
<rect x="118.9" y="352.5" width="25.2" height="4.1" fill="#EAEAEA"/>
<rect x="118.9" y="356.2" width="25.2" height="4.1" fill="#E4E4E4"/>
<rect x="118.9" y="360" width="25.2" height="4.1" fill="#EAEAEA"/>
<rect x="118.9" y="363.7" width="25.2" height="4.1" fill="#E8E8E8"/>
<rect x="118.9" y="367.5" width="25.2" height="4.1" fill="#EAEAEA"/>
<rect x="118.9" y="371.3" width="25.2" height="4.1" fill="#E9E9E9"/>
<rect x="118.9" y="375" width="25.2" height="4.1" fill="#E6E6E6"/>
<rect x="118.9" y="378.8" width="25.2" height="4.1" fill="#E4E4E4"/>
<rect x="118.9" y="382.5" width="25.2" height="4.1" fill="#EBEBEB"/>
<rect x="118.9" y="386.3" width="25.2" height="4.1" fill="#E5E5E5"/>
<rect x="118.9" y="390" width="25.2" height="4.1" fill="#F4F4F4"/>
<rect x="118.9" y="393.8" width="25.2" height="4.1" fill="#F3F3F3"/>
<rect x="118.9" y="397.6" width="25.2" height="4.1" fill="#DEDEDE"/>
<rect x="118.9" y="401.3" width="25.2" height="4.1" fill="#E2E2E2"/>
<rect x="118.9" y="405.1" width="25.2" height="4.1" fill="#E4E4E4"/>
<rect x="118.9" y="408.8" width="25.2" height="4.1" fill="#DEDEDE"/>
<rect x="118.9" y="412.6" width="25.2" height="4.1" fill="#E9E9E9"/>
<rect x="118.9" y="416.3" width="25.2" height="4.1" fill="#E6E6E6"/>
<rect x="118.9" y="420.1" width="25.2" height="4.1" fill="#E8E8E8"/>
<rect x="118.9" y="423.8" width="25.2" height="4.1" fill="#E7E7E7"/>
<rect x="143.8" y="239.8" width="25.2" height="7.8" fill="#DDDDDD"/>
<rect x="143.8" y="247.3" width="25.2" height="4.1" fill="#E6E6E6"/>
<rect x="143.8" y="251.1" width="25.2" height="4.1" fill="#EBEBEB"/>
<rect x="143.8" y="254.8" width="25.2" height="4.1" fill="#E0E0E0"/>
<rect x="143.8" y="258.6" width="25.2" height="4.1" fill="#DEDEDE"/>
<rect x="143.8" y="262.3" width="25.2" height="4.1" fill="#E3E3E3"/>
<rect x="143.8" y="266.1" width="25.2" height="4.1" fill="#E4E4E4"/>
<rect x="143.8" y="269.8" width="25.2" height="4.1" fill="#E0E0E0"/>
<rect x="143.8" y="273.6" width="25.2" height="4.1" fill="#DDDDDD"/>
<rect x="143.8" y="277.4" width="25.2" height="4.1" fill="#DEDEDE"/>
<rect x="143.8" y="281.1" width="25.2" height="4.1" fill="#DDDDDD"/>
<rect x="143.8" y="284.9" width="25.2" height="4.1" fill="#DFDFDF"/>
<rect x="143.8" y="288.6" width="25.2" height="4.1" fill="#DDDDDD"/>
<rect x="143.8" y="292.4" width="25.2" height="7.8" fill="#DEDEDE"/>
<rect x="143.8" y="299.9" width="25.2" height="4.1" fill="#F5F5F5"/>
<rect x="143.8" y="303.7" width="25.2" height="4.1" fill="#F7F7F7"/>
<rect x="143.8" y="307.4" width="25.2" height="4.1" fill="#E2E2E2"/>
<rect x="143.8" y="311.2" width="25.2" height="7.8" fill="#DFDFDF"/>
<rect x="143.8" y="318.7" width="25.2" height="4.1" fill="#E0E0E0"/>
<rect x="143.8" y="322.4" width="25.2" height="7.8" fill="#DFDFDF"/>
<rect x="143.8" y="329.9" width="25.2" height="4.1" fill="#DCDCDC"/>
<rect x="143.8" y="333.7" width="25.2" height="4.1" fill="#DEDEDE"/>
<rect x="143.8" y="337.5" width="25.2" height="4.1" fill="#E4E4E4"/>
<rect x="143.8" y="341.2" width="25.2" height="4.1" fill="#DDDDDD"/>
<rect x="143.8" y="345" width="25.2" height="4.1" fill="#E0E0E0"/>
<rect x="143.8" y="348.7" width="25.2" height="4.1" fill="#E1E1E1"/>
<rect x="143.8" y="352.5" width="25.2" height="4.1" fill="#E3E3E3"/>
<rect x="143.8" y="356.2" width="25.2" height="11.6" fill="#DEDEDE"/>
<rect x="143.8" y="367.5" width="25.2" height="4.1" fill="#DFDFDF"/>
<rect x="143.8" y="371.3" width="25.2" height="4.1" fill="#E0E0E0"/>
<rect x="143.8" y="375" width="25.2" height="4.1" fill="#E4E4E4"/>
<rect x="143.8" y="378.8" width="25.2" height="7.8" fill="#E3E3E3"/>
<rect x="143.8" y="386.3" width="25.2" height="7.8" fill="#DCDCDC"/>
<rect x="143.8" y="393.8" width="25.2" height="4.1" fill="#E2E2E2"/>
<rect x="143.8" y="397.6" width="25.2" height="4.1" fill="#E3E3E3"/>
<rect x="143.8" y="401.3" width="25.2" height="4.1" fill="#E0E0E0"/>
<rect x="143.8" y="405.1" width="25.2" height="4.1" fill="#E1E1E1"/>
<rect x="143.8" y="408.8" width="25.2" height="4.1" fill="#DCDCDC"/>
<rect x="143.8" y="412.6" width="25.2" height="4.1" fill="#DFDFDF"/>
<rect x="143.8" y="416.3" width="25.2" height="11.6" fill="#E3E3E3"/>
<rect x="168.7" y="239.8" width="25.2" height="4.1" fill="#ECECEC"/>
<rect x="168.7" y="243.6" width="25.2" height="4.1" fill="#E6E6E6"/>
<rect x="168.7" y="247.3" width="25.2" height="7.8" fill="#E5E5E5"/>
<rect x="168.7" y="254.8" width="25.2" height="4.1" fill="#E8E8E8"/>
<rect x="168.7" y="258.6" width="25.2" height="4.1" fill="#E9E9E9"/>
<rect x="168.7" y="262.3" width="25.2" height="4.1" fill="#FFFFFF"/>
<rect x="168.7" y="266.1" width="25.2" height="4.1" fill="#FEFEFE"/>
<rect x="168.7" y="269.8" width="25.2" height="4.1" fill="#E9E9E9"/>
<rect x="168.7" y="273.6" width="25.2" height="4.1" fill="#EAEAEA"/>
<rect x="168.7" y="277.4" width="25.2" height="7.8" fill="#E8E8E8"/>
<rect x="168.7" y="284.9" width="25.2" height="4.1" fill="#E4E4E4"/>
<rect x="168.7" y="288.6" width="25.2" height="4.1" fill="#EAEAEA"/>
<rect x="168.7" y="292.4" width="25.2" height="4.1" fill="#E6E6E6"/>
<rect x="168.7" y="296.1" width="25.2" height="4.1" fill="#EBEBEB"/>
<rect x="168.7" y="299.9" width="25.2" height="4.1" fill="#F5F5F5"/>
<rect x="168.7" y="303.7" width="25.2" height="4.1" fill="#F2F2F2"/>
<rect x="168.7" y="307.4" width="25.2" height="4.1" fill="#F1F1F1"/>
<rect x="168.7" y="311.2" width="25.2" height="4.1" fill="#F2F2F2"/>
<rect x="168.7" y="314.9" width="25.2" height="4.1" fill="#F5F5F5"/>
<rect x="168.7" y="318.7" width="25.2" height="4.1" fill="#F6F6F6"/>
<rect x="168.7" y="322.4" width="25.2" height="7.8" fill="#F1F1F1"/>
<rect x="168.7" y="329.9" width="25.2" height="4.1" fill="#E8E8E8"/>
<rect x="168.7" y="333.7" width="25.2" height="4.1" fill="#E9E9E9"/>
<rect x="168.7" y="337.5" width="25.2" height="4.1" fill="#E7E7E7"/>
<rect x="168.7" y="341.2" width="25.2" height="4.1" fill="#E6E6E6"/>
<rect x="168.7" y="345" width="25.2" height="4.1" fill="#E9E9E9"/>
<rect x="168.7" y="348.7" width="25.2" height="4.1" fill="#E4E4E4"/>
<rect x="168.7" y="352.5" width="25.2" height="4.1" fill="#E6E6E6"/>
<rect x="168.7" y="356.2" width="25.2" height="4.1" fill="#E8E8E8"/>
<rect x="168.7" y="360" width="25.2" height="4.1" fill="#ECECEC"/>
<rect x="168.7" y="363.7" width="25.2" height="4.1" fill="#E9E9E9"/>
<rect x="168.7" y="367.5" width="25.2" height="4.1" fill="#EBEBEB"/>
<rect x="168.7" y="371.3" width="25.2" height="4.1" fill="#E8E8E8"/>
<rect x="168.7" y="375" width="25.2" height="7.8" fill="#E6E6E6"/>
<rect x="168.7" y="382.5" width="25.2" height="4.1" fill="#ECECEC"/>
<rect x="168.7" y="386.3" width="25.2" height="4.1" fill="#EAEAEA"/>
<rect x="168.7" y="390" width="25.2" height="4.1" fill="#E6E6E6"/>
<rect x="168.7" y="393.8" width="25.2" height="4.1" fill="#E4E4E4"/>
<rect x="168.7" y="397.6" width="25.2" height="4.1" fill="#E8E8E8"/>
<rect x="168.7" y="401.3" width="25.2" height="4.1" fill="#E9E9E9"/>
<rect x="168.7" y="405.1" width="25.2" height="4.1" fill="#E7E7E7"/>
<rect x="168.7" y="408.8" width="25.2" height="4.1" fill="#E6E6E6"/>
<rect x="168.7" y="412.6" width="25.2" height="4.1" fill="#E9E9E9"/>
<rect x="168.7" y="416.3" width="25.2" height="4.1" fill="#EBEBEB"/>
<rect x="168.7" y="420.1" width="25.2" height="4.1" fill="#E6E6E6"/>
<rect x="168.7" y="423.8" width="25.2" height="4.1" fill="#E4E4E4"/>
<rect x="193.5" y="239.8" width="25.2" height="7.8" fill="#F3F3F3"/>
<rect x="193.5" y="247.3" width="25.2" height="4.1" fill="#D536D5"/>
<rect x="193.5" y="251.1" width="25.2" height="4.1" fill="#D42ED4"/>
<rect x="193.5" y="254.8" width="25.2" height="7.8" fill="#F6F6F6"/>
<rect x="193.5" y="262.3" width="25.2" height="4.1" fill="#F4F4F4"/>
<rect x="193.5" y="266.1" width="25.2" height="4.1" fill="#F2F2F2"/>
<rect x="193.5" y="269.8" width="25.2" height="4.1" fill="#EDA7ED"/>
<rect x="193.5" y="273.6" width="25.2" height="4.1" fill="#EA9BEA"/>
<rect x="193.5" y="277.4" width="25.2" height="4.1" fill="#FFFFFF"/>
<rect x="193.5" y="281.1" width="25.2" height="7.8" fill="#FAFAFA"/>
<rect x="193.5" y="288.6" width="25.2" height="4.1" fill="#FEFEFE"/>
<rect x="193.5" y="292.4" width="25.2" height="4.1" fill="#FAFAFA"/>
<rect x="193.5" y="296.1" width="25.2" height="4.1" fill="#FFFFFF"/>
<rect x="193.5" y="299.9" width="25.2" height="4.1" fill="#F0B8F0"/>
<rect x="193.5" y="303.7" width="25.2" height="4.1" fill="#EEAFEE"/>
<rect x="193.5" y="307.4" width="25.2" height="4.1" fill="#F2F2F2"/>
<rect x="193.5" y="311.2" width="25.2" height="4.1" fill="#F3F3F3"/>
<rect x="193.5" y="314.9" width="25.2" height="4.1" fill="#F5F5F5"/>
<rect x="193.5" y="318.7" width="25.2" height="4.1" fill="#F8F8F8"/>
<rect x="193.5" y="322.4" width="25.2" height="4.1" fill="#F1F1F1"/>
<rect x="193.5" y="326.2" width="25.2" height="4.1" fill="#F3F3F3"/>
<rect x="193.5" y="329.9" width="25.2" height="4.1" fill="#F2F2F2"/>
<rect x="193.5" y="333.7" width="25.2" height="4.1" fill="#F8F8F8"/>
<rect x="193.5" y="337.5" width="25.2" height="4.1" fill="#F1F1F1"/>
<rect x="193.5" y="341.2" width="25.2" height="7.8" fill="#F0F0F0"/>
<rect x="193.5" y="348.7" width="25.2" height="4.1" fill="#F3F3F3"/>
<rect x="193.5" y="352.5" width="25.2" height="7.8" fill="#F7F7F7"/>
<rect x="193.5" y="360" width="25.2" height="4.1" fill="#F6F6F6"/>
<rect x="193.5" y="363.7" width="25.2" height="4.1" fill="#F8F8F8"/>
<rect x="193.5" y="367.5" width="25.2" height="4.1" fill="#F7F7F7"/>
<rect x="193.5" y="371.3" width="25.2" height="4.1" fill="#F3F3F3"/>
<rect x="193.5" y="375" width="25.2" height="4.1" fill="#F1F1F1"/>
<rect x="193.5" y="378.8" width="25.2" height="4.1" fill="#F7F7F7"/>
<rect x="193.5" y="382.5" width="25.2" height="4.1" fill="#F6F6F6"/>
<rect x="193.5" y="386.3" width="25.2" height="4.1" fill="#F0F0F0"/>
<rect x="193.5" y="390" width="25.2" height="4.1" fill="#FDFDFD"/>
<rect x="193.5" y="393.8" width="25.2" height="4.1" fill="#FBFBFB"/>
<rect x="193.5" y="397.6" width="25.2" height="4.1" fill="#FAE5FA"/>
<rect x="193.5" y="401.3" width="25.2" height="4.1" fill="#FAE4FA"/>
<rect x="193.5" y="405.1" width="25.2" height="4.1" fill="#F1F1F1"/>
<rect x="193.5" y="408.8" width="25.2" height="4.1" fill="#F0F0F0"/>
<rect x="193.5" y="412.6" width="25.2" height="4.1" fill="#F2F2F2"/>
<rect x="193.5" y="416.3" width="25.2" height="4.1" fill="#F3F3F3"/>
<rect x="193.5" y="420.1" width="25.2" height="4.1" fill="#F8F8F8"/>
<rect x="193.5" y="423.8" width="25.2" height="4.1" fill="#F1F1F1"/>
<rect x="218.4" y="239.8" width="25.2" height="4.1" fill="#F8F8F8"/>
<rect x="218.4" y="243.6" width="25.2" height="4.1" fill="#F2F2F2"/>
<rect x="218.4" y="247.3" width="25.2" height="4.1" fill="#FBFBFB"/>
<rect x="218.4" y="251.1" width="25.2" height="4.1" fill="#FFFFFF"/>
<rect x="218.4" y="254.8" width="25.2" height="4.1" fill="#EBEBEB"/>
<rect x="218.4" y="258.6" width="25.2" height="4.1" fill="#E7E7E7"/>
<rect x="218.4" y="262.3" width="25.2" height="4.1" fill="#F0F0F0"/>
<rect x="218.4" y="266.1" width="25.2" height="4.1" fill="#F4F4F4"/>
<rect x="218.4" y="269.8" width="25.2" height="4.1" fill="#EDEDED"/>
<rect x="218.4" y="273.6" width="25.2" height="4.1" fill="#F1F1F1"/>
<rect x="218.4" y="277.4" width="25.2" height="4.1" fill="#ECECEC"/>
<rect x="218.4" y="281.1" width="25.2" height="4.1" fill="#EDEDED"/>
<rect x="218.4" y="284.9" width="25.2" height="4.1" fill="#F7F7F7"/>
<rect x="218.4" y="288.6" width="25.2" height="4.1" fill="#F0F0F0"/>
<rect x="218.4" y="292.4" width="25.2" height="4.1" fill="#F3F3F3"/>
<rect x="218.4" y="296.1" width="25.2" height="7.8" fill="#F6F6F6"/>
<rect x="218.4" y="303.7" width="25.2" height="7.8" fill="#F0F0F0"/>
<rect x="218.4" y="311.2" width="25.2" height="4.1" fill="#F1F1F1"/>
<rect x="218.4" y="314.9" width="25.2" height="4.1" fill="#F7F7F7"/>
<rect x="218.4" y="318.7" width="25.2" height="4.1" fill="#F2F2F2"/>
<rect x="218.4" y="322.4" width="25.2" height="4.1" fill="#F0F0F0"/>
<rect x="218.4" y="326.2" width="25.2" height="4.1" fill="#F1F1F1"/>
<rect x="218.4" y="329.9" width="25.2" height="4.1" fill="#E7E7E7"/>
<rect x="218.4" y="333.7" width="25.2" height="4.1" fill="#E6E6E6"/>
<rect x="218.4" y="337.5" width="25.2" height="4.1" fill="#F8F8F8"/>
<rect x="218.4" y="341.2" width="25.2" height="4.1" fill="#F5F5F5"/>
<rect x="218.4" y="345" width="25.2" height="4.1" fill="#F2F2F2"/>
<rect x="218.4" y="348.7" width="25.2" height="4.1" fill="#F6F6F6"/>
<rect x="218.4" y="352.5" width="25.2" height="4.1" fill="#F3F3F3"/>
<rect x="218.4" y="356.2" width="25.2" height="4.1" fill="#F2F2F2"/>
<rect x="218.4" y="360" width="25.2" height="4.1" fill="#F0F0F0"/>
<rect x="218.4" y="363.7" width="25.2" height="4.1" fill="#F6F6F6"/>
<rect x="218.4" y="367.5" width="25.2" height="4.1" fill="#F7F7F7"/>
<rect x="218.4" y="371.3" width="25.2" height="4.1" fill="#F5F5F5"/>
<rect x="218.4" y="375" width="25.2" height="4.1" fill="#F8F8F8"/>
<rect x="218.4" y="378.8" width="25.2" height="4.1" fill="#F0F0F0"/>
<rect x="218.4" y="382.5" width="25.2" height="4.1" fill="#F2F2F2"/>
<rect x="218.4" y="386.3" width="25.2" height="4.1" fill="#F4F4F4"/>
<rect x="218.4" y="390" width="25.2" height="7.8" fill="#F8F8F8"/>
<rect x="218.4" y="397.6" width="25.2" height="4.1" fill="#F3F3F3"/>
<rect x="218.4" y="401.3" width="25.2" height="4.1" fill="#F2F2F2"/>
<rect x="218.4" y="405.1" width="25.2" height="4.1" fill="#F3F3F3"/>
<rect x="218.4" y="408.8" width="25.2" height="4.1" fill="#F4F4F4"/>
<rect x="218.4" y="412.6" width="25.2" height="4.1" fill="#F7F7F7"/>
<rect x="218.4" y="416.3" width="25.2" height="4.1" fill="#F1F1F1"/>
<rect x="218.4" y="420.1" width="25.2" height="7.8" fill="#F6F6F6"/>
<line x1="41.3" y1="236" x2="41.3" y2="429.3" stroke="#222" stroke-width="2.4" stroke-dasharray="20.7 6.9"/>
<line x1="244.1" y1="236" x2="244.1" y2="429.3" stroke="#222" stroke-width="2.4" stroke-dasharray="20.7 6.9"/>
<rect x="44.2" y="434.3" width="25.2" height="4" fill="#EBEBEB"/>
<rect x="44.2" y="438" width="25.2" height="4" fill="#EAEAEA"/>
<rect x="44.2" y="441.8" width="25.2" height="4" fill="#EFEFEF"/>
<rect x="44.2" y="445.5" width="25.2" height="11.5" fill="#EDEDED"/>
<rect x="44.2" y="456.7" width="25.2" height="4" fill="#EAEAEA"/>
<rect x="44.2" y="460.4" width="25.2" height="4" fill="#E5E5E5"/>
<rect x="44.2" y="464.2" width="25.2" height="4" fill="#DEDEDE"/>
<rect x="44.2" y="467.9" width="25.2" height="4" fill="#E2E2E2"/>
<rect x="44.2" y="471.6" width="25.2" height="4" fill="#ECECEC"/>
<rect x="44.2" y="475.4" width="25.2" height="4" fill="#EBEBEB"/>
<rect x="44.2" y="479.1" width="25.2" height="4" fill="#EAEAEA"/>
<rect x="44.2" y="482.8" width="25.2" height="4" fill="#EEEEEE"/>
<rect x="44.2" y="486.6" width="25.2" height="4" fill="#EDEDED"/>
<rect x="44.2" y="490.3" width="25.2" height="4" fill="#F2F2F2"/>
<rect x="44.2" y="494" width="25.2" height="4" fill="#F7F7F7"/>
<rect x="44.2" y="497.8" width="25.2" height="4" fill="#F8F8F8"/>
<rect x="44.2" y="501.5" width="25.2" height="4" fill="#DF6CDF"/>
<rect x="44.2" y="505.2" width="25.2" height="4" fill="#DF69DF"/>
<rect x="44.2" y="509" width="25.2" height="4" fill="#F3C4F3"/>
<rect x="44.2" y="512.7" width="25.2" height="4" fill="#F6D2F6"/>
<rect x="44.2" y="516.4" width="25.2" height="4" fill="#F0F0F0"/>
<rect x="44.2" y="520.2" width="25.2" height="4" fill="#EEEEEE"/>
<rect x="44.2" y="523.9" width="25.2" height="4" fill="#ECECEC"/>
<rect x="44.2" y="527.6" width="25.2" height="4" fill="#EDEDED"/>
<rect x="44.2" y="531.4" width="25.2" height="7.8" fill="#EFEFEF"/>
<rect x="44.2" y="538.9" width="25.2" height="4" fill="#F0F0F0"/>
<rect x="44.2" y="542.6" width="25.2" height="4" fill="#F1F1F1"/>
<rect x="44.2" y="546.3" width="25.2" height="4" fill="#EFEFEF"/>
<rect x="44.2" y="550.1" width="25.2" height="4" fill="#EBEBEB"/>
<rect x="44.2" y="553.8" width="25.2" height="4" fill="#F1F1F1"/>
<rect x="44.2" y="557.5" width="25.2" height="4" fill="#ECECEC"/>
<rect x="44.2" y="561.3" width="25.2" height="4" fill="#EFEFEF"/>
<rect x="44.2" y="565" width="25.2" height="4" fill="#EDEDED"/>
<rect x="44.2" y="568.7" width="25.2" height="4" fill="#F0F0F0"/>
<rect x="44.2" y="572.5" width="25.2" height="11.5" fill="#ECECEC"/>
<rect x="44.2" y="583.7" width="25.2" height="4" fill="#EBEBEB"/>
<rect x="44.2" y="587.4" width="25.2" height="4" fill="#F1F1F1"/>
<rect x="44.2" y="591.1" width="25.2" height="4" fill="#EFEFEF"/>
<rect x="44.2" y="594.9" width="25.2" height="4" fill="#EDEDED"/>
<rect x="44.2" y="598.6" width="25.2" height="4" fill="#FBFBFB"/>
<rect x="44.2" y="602.3" width="25.2" height="4" fill="#FFFFFF"/>
<rect x="44.2" y="606.1" width="25.2" height="4" fill="#EEEEEE"/>
<rect x="44.2" y="609.8" width="25.2" height="4" fill="#ECECEC"/>
<rect x="44.2" y="613.5" width="25.2" height="4" fill="#F0F0F0"/>
<rect x="44.2" y="617.3" width="25.2" height="4" fill="#EFEFEF"/>
<rect x="69.1" y="434.3" width="25.2" height="4" fill="#F2F2F2"/>
<rect x="69.1" y="438" width="25.2" height="4" fill="#EBEBEB"/>
<rect x="69.1" y="441.8" width="25.2" height="4" fill="#EEEEEE"/>
<rect x="69.1" y="445.5" width="25.2" height="11.5" fill="#F1F1F1"/>
<rect x="69.1" y="456.7" width="25.2" height="4" fill="#EAEAEA"/>
<rect x="69.1" y="460.4" width="25.2" height="4" fill="#ECECEC"/>
<rect x="69.1" y="464.2" width="25.2" height="4" fill="#EBEBEB"/>
<rect x="69.1" y="467.9" width="25.2" height="4" fill="#ECECEC"/>
<rect x="69.1" y="471.6" width="25.2" height="4" fill="#F2F2F2"/>
<rect x="69.1" y="475.4" width="25.2" height="4" fill="#EFEFEF"/>
<rect x="69.1" y="479.1" width="25.2" height="4" fill="#F1F1F1"/>
<rect x="69.1" y="482.8" width="25.2" height="4" fill="#EDEDED"/>
<rect x="69.1" y="486.6" width="25.2" height="4" fill="#F1F1F1"/>
<rect x="69.1" y="490.3" width="25.2" height="4" fill="#EEEEEE"/>
<rect x="69.1" y="494" width="25.2" height="4" fill="#F4CAF4"/>
<rect x="69.1" y="497.8" width="25.2" height="4" fill="#F6D4F6"/>
<rect x="69.1" y="501.5" width="25.2" height="4" fill="#F8F8F8"/>
<rect x="69.1" y="505.2" width="25.2" height="4" fill="#F1F1F1"/>
<rect x="69.1" y="509" width="25.2" height="7.8" fill="#E9E9E9"/>
<rect x="69.1" y="516.4" width="25.2" height="4" fill="#ECECEC"/>
<rect x="69.1" y="520.2" width="25.2" height="4" fill="#EDEDED"/>
<rect x="69.1" y="523.9" width="25.2" height="4" fill="#EBEBEB"/>
<rect x="69.1" y="527.6" width="25.2" height="7.8" fill="#ECECEC"/>
<rect x="69.1" y="535.1" width="25.2" height="7.8" fill="#EFEFEF"/>
<rect x="69.1" y="542.6" width="25.2" height="4" fill="#ECECEC"/>
<rect x="69.1" y="546.3" width="25.2" height="4" fill="#EAEAEA"/>
<rect x="69.1" y="550.1" width="25.2" height="4" fill="#EDEDED"/>
<rect x="69.1" y="553.8" width="25.2" height="4" fill="#EFEFEF"/>
<rect x="69.1" y="557.5" width="25.2" height="4" fill="#EBEBEB"/>
<rect x="69.1" y="561.3" width="25.2" height="7.8" fill="#ECECEC"/>
<rect x="69.1" y="568.7" width="25.2" height="4" fill="#F0F0F0"/>
<rect x="69.1" y="572.5" width="25.2" height="4" fill="#EEEEEE"/>
<rect x="69.1" y="576.2" width="25.2" height="7.8" fill="#EBEBEB"/>
<rect x="69.1" y="583.7" width="25.2" height="4" fill="#FAE6FA"/>
<rect x="69.1" y="587.4" width="25.2" height="4" fill="#FBEAFB"/>
<rect x="69.1" y="591.1" width="25.2" height="4" fill="#EFEFEF"/>
<rect x="69.1" y="594.9" width="25.2" height="7.8" fill="#EBEBEB"/>
<rect x="69.1" y="602.3" width="25.2" height="4" fill="#F0F0F0"/>
<rect x="69.1" y="606.1" width="25.2" height="4" fill="#EDEDED"/>
<rect x="69.1" y="609.8" width="25.2" height="7.8" fill="#ECECEC"/>
<rect x="69.1" y="617.3" width="25.2" height="4" fill="#F2F2F2"/>
<rect x="94" y="434.3" width="25.2" height="4" fill="#E784E7"/>
<rect x="94" y="438" width="25.2" height="4" fill="#E889E8"/>
<rect x="94" y="441.8" width="25.2" height="4" fill="#E785E7"/>
<rect x="94" y="445.5" width="25.2" height="4" fill="#E886E8"/>
<rect x="94" y="449.2" width="25.2" height="4" fill="#DC5ADC"/>
<rect x="94" y="453" width="25.2" height="4" fill="#DD5EDD"/>
<rect x="94" y="456.7" width="25.2" height="4" fill="#E06EE0"/>
<rect x="94" y="460.4" width="25.2" height="4" fill="#DF6BDF"/>
<rect x="94" y="464.2" width="25.2" height="4" fill="#E175E1"/>
<rect x="94" y="467.9" width="25.2" height="4" fill="#DF6BDF"/>
<rect x="94" y="471.6" width="25.2" height="4" fill="#D94AD9"/>
<rect x="94" y="475.4" width="25.2" height="4" fill="#DC5BDC"/>
<rect x="94" y="479.1" width="25.2" height="4" fill="#D42FD4"/>
<rect x="94" y="482.8" width="25.2" height="4" fill="#D63BD6"/>
<rect x="94" y="486.6" width="25.2" height="4" fill="#E06EE0"/>
<rect x="94" y="490.3" width="25.2" height="4" fill="#E279E2"/>
<rect x="94" y="494" width="25.2" height="4" fill="#DA4FDA"/>
<rect x="94" y="497.8" width="25.2" height="4" fill="#D94CD9"/>
<rect x="94" y="501.5" width="25.2" height="4" fill="#D94AD9"/>
<rect x="94" y="505.2" width="25.2" height="4" fill="#DA51DA"/>
<rect x="94" y="509" width="25.2" height="4" fill="#DB54DB"/>
<rect x="94" y="512.7" width="25.2" height="4" fill="#DC5BDC"/>
<rect x="94" y="516.4" width="25.2" height="4" fill="#E67FE6"/>
<rect x="94" y="520.2" width="25.2" height="4" fill="#E88AE8"/>
<rect x="94" y="523.9" width="25.2" height="4" fill="#E785E7"/>
<rect x="94" y="527.6" width="25.2" height="4" fill="#E888E8"/>
<rect x="94" y="531.4" width="25.2" height="4" fill="#D94BD9"/>
<rect x="94" y="535.1" width="25.2" height="4" fill="#DA4DDA"/>
<rect x="94" y="538.9" width="25.2" height="4" fill="#E070E0"/>
<rect x="94" y="542.6" width="25.2" height="4" fill="#E27AE2"/>
<rect x="94" y="546.3" width="25.2" height="4" fill="#DF69DF"/>
<rect x="94" y="550.1" width="25.2" height="4" fill="#E070E0"/>
<rect x="94" y="553.8" width="25.2" height="4" fill="#E277E2"/>
<rect x="94" y="557.5" width="25.2" height="4" fill="#E27BE2"/>
<rect x="94" y="561.3" width="25.2" height="4" fill="#DF6BDF"/>
<rect x="94" y="565" width="25.2" height="4" fill="#DF69DF"/>
<rect x="94" y="568.7" width="25.2" height="4" fill="#D73FD7"/>
<rect x="94" y="572.5" width="25.2" height="4" fill="#D740D7"/>
<rect x="94" y="576.2" width="25.2" height="4" fill="#DA50DA"/>
<rect x="94" y="579.9" width="25.2" height="4" fill="#D94AD9"/>
<rect x="94" y="583.7" width="25.2" height="4" fill="#E27AE2"/>
<rect x="94" y="587.4" width="25.2" height="4" fill="#E06EE0"/>
<rect x="94" y="591.1" width="25.2" height="4" fill="#E990E9"/>
<rect x="94" y="594.9" width="25.2" height="4" fill="#E88AE8"/>
<rect x="94" y="598.6" width="25.2" height="4" fill="#E98EE9"/>
<rect x="94" y="602.3" width="25.2" height="4" fill="#E681E6"/>
<rect x="94" y="606.1" width="25.2" height="4" fill="#DC58DC"/>
<rect x="94" y="609.8" width="25.2" height="4" fill="#D94CD9"/>
<rect x="94" y="613.5" width="25.2" height="4" fill="#E886E8"/>
<rect x="94" y="617.3" width="25.2" height="4" fill="#E98FE9"/>
<rect x="118.9" y="434.3" width="25.2" height="4" fill="#FBEBFB"/>
<rect x="118.9" y="438" width="25.2" height="4" fill="#F9DEF9"/>
<rect x="118.9" y="441.8" width="25.2" height="4" fill="#F2F2F2"/>
<rect x="118.9" y="445.5" width="25.2" height="4" fill="#F3F3F3"/>
<rect x="118.9" y="449.2" width="25.2" height="4" fill="#E8E8E8"/>
<rect x="118.9" y="453" width="25.2" height="4" fill="#E7E7E7"/>
<rect x="118.9" y="456.7" width="25.2" height="4" fill="#E5E5E5"/>
<rect x="118.9" y="460.4" width="25.2" height="4" fill="#E6E6E6"/>
<rect x="118.9" y="464.2" width="25.2" height="4" fill="#EAEAEA"/>
<rect x="118.9" y="467.9" width="25.2" height="4" fill="#EBEBEB"/>
<rect x="118.9" y="471.6" width="25.2" height="4" fill="#F0F0F0"/>
<rect x="118.9" y="475.4" width="25.2" height="4" fill="#F4F4F4"/>
<rect x="118.9" y="479.1" width="25.2" height="4" fill="#F6F6F6"/>
<rect x="118.9" y="482.8" width="25.2" height="4" fill="#F0F0F0"/>
<rect x="118.9" y="486.6" width="25.2" height="4" fill="#EBEBEB"/>
<rect x="118.9" y="490.3" width="25.2" height="4" fill="#E5E5E5"/>
<rect x="118.9" y="494" width="25.2" height="4" fill="#EBA2EB"/>
<rect x="118.9" y="497.8" width="25.2" height="4" fill="#EBA1EB"/>
<rect x="118.9" y="501.5" width="25.2" height="4" fill="#FDFDFD"/>
<rect x="118.9" y="505.2" width="25.2" height="4" fill="#FAFAFA"/>
<rect x="118.9" y="509" width="25.2" height="4" fill="#F5CFF5"/>
<rect x="118.9" y="512.7" width="25.2" height="4" fill="#F6D3F6"/>
<rect x="118.9" y="516.4" width="25.2" height="4" fill="#E7E7E7"/>
<rect x="118.9" y="520.2" width="25.2" height="4" fill="#E9E9E9"/>
<rect x="118.9" y="523.9" width="25.2" height="7.8" fill="#E8E8E8"/>
<rect x="118.9" y="531.4" width="25.2" height="4" fill="#E4E4E4"/>
<rect x="118.9" y="535.1" width="25.2" height="4" fill="#E9E9E9"/>
<rect x="118.9" y="538.9" width="25.2" height="4" fill="#E0E0E0"/>
<rect x="118.9" y="542.6" width="25.2" height="4" fill="#DEDEDE"/>
<rect x="118.9" y="546.3" width="25.2" height="7.8" fill="#EAEAEA"/>
<rect x="118.9" y="553.8" width="25.2" height="4" fill="#E8E8E8"/>
<rect x="118.9" y="557.5" width="25.2" height="4" fill="#E5E5E5"/>
<rect x="118.9" y="561.3" width="25.2" height="4" fill="#EEEEEE"/>
<rect x="118.9" y="565" width="25.2" height="4" fill="#EBEBEB"/>
<rect x="118.9" y="568.7" width="25.2" height="4" fill="#E5E5E5"/>
<rect x="118.9" y="572.5" width="25.2" height="4" fill="#E7E7E7"/>
<rect x="118.9" y="576.2" width="25.2" height="4" fill="#E5E5E5"/>
<rect x="118.9" y="579.9" width="25.2" height="4" fill="#E8E8E8"/>
<rect x="118.9" y="583.7" width="25.2" height="4" fill="#EEEEEE"/>
<rect x="118.9" y="587.4" width="25.2" height="4" fill="#EAEAEA"/>
<rect x="118.9" y="591.1" width="25.2" height="4" fill="#E9E9E9"/>
<rect x="118.9" y="594.9" width="25.2" height="4" fill="#E5E5E5"/>
<rect x="118.9" y="598.6" width="25.2" height="7.8" fill="#EAEAEA"/>
<rect x="118.9" y="606.1" width="25.2" height="4" fill="#EEEEEE"/>
<rect x="118.9" y="609.8" width="25.2" height="4" fill="#EAEAEA"/>
<rect x="118.9" y="613.5" width="25.2" height="4" fill="#E8E8E8"/>
<rect x="118.9" y="617.3" width="25.2" height="4" fill="#E7E7E7"/>
<rect x="143.8" y="434.3" width="25.2" height="4" fill="#F2F2F2"/>
<rect x="143.8" y="438" width="25.2" height="4" fill="#EBEBEB"/>
<rect x="143.8" y="441.8" width="25.2" height="4" fill="#F1F1F1"/>
<rect x="143.8" y="445.5" width="25.2" height="4" fill="#F2F2F2"/>
<rect x="143.8" y="449.2" width="25.2" height="4" fill="#F0F0F0"/>
<rect x="143.8" y="453" width="25.2" height="4" fill="#F1F1F1"/>
<rect x="143.8" y="456.7" width="25.2" height="4" fill="#ECECEC"/>
<rect x="143.8" y="460.4" width="25.2" height="4" fill="#F2F2F2"/>
<rect x="143.8" y="464.2" width="25.2" height="4" fill="#E8E8E8"/>
<rect x="143.8" y="467.9" width="25.2" height="4" fill="#ECECEC"/>
<rect x="143.8" y="471.6" width="25.2" height="4" fill="#EBEBEB"/>
<rect x="143.8" y="475.4" width="25.2" height="4" fill="#E5E5E5"/>
<rect x="143.8" y="479.1" width="25.2" height="4" fill="#EAEAEA"/>
<rect x="143.8" y="482.8" width="25.2" height="4" fill="#EBEBEB"/>
<rect x="143.8" y="486.6" width="25.2" height="4" fill="#E5E5E5"/>
<rect x="143.8" y="490.3" width="25.2" height="4" fill="#E7E7E7"/>
<rect x="143.8" y="494" width="25.2" height="4" fill="#E2E2E2"/>
<rect x="143.8" y="497.8" width="25.2" height="4" fill="#DDDDDD"/>
<rect x="143.8" y="501.5" width="25.2" height="4" fill="#FFFFFF"/>
<rect x="143.8" y="505.2" width="25.2" height="4" fill="#FAFAFA"/>
<rect x="143.8" y="509" width="25.2" height="4" fill="#F7F7F7"/>
<rect x="143.8" y="512.7" width="25.2" height="4" fill="#F1F1F1"/>
<rect x="143.8" y="516.4" width="25.2" height="4" fill="#F4F4F4"/>
<rect x="143.8" y="520.2" width="25.2" height="4" fill="#F7F7F7"/>
<rect x="143.8" y="523.9" width="25.2" height="7.8" fill="#FAFAFA"/>
<rect x="143.8" y="531.4" width="25.2" height="4" fill="#D430D4"/>
<rect x="143.8" y="535.1" width="25.2" height="4" fill="#D42FD4"/>
<rect x="143.8" y="538.9" width="25.2" height="4" fill="#F8F8F8"/>
<rect x="143.8" y="542.6" width="25.2" height="4" fill="#F9F9F9"/>
<rect x="143.8" y="546.3" width="25.2" height="4" fill="#EEAEEE"/>
<rect x="143.8" y="550.1" width="25.2" height="4" fill="#F1BDF1"/>
<rect x="143.8" y="553.8" width="25.2" height="4" fill="#FDFDFD"/>
<rect x="143.8" y="557.5" width="25.2" height="4" fill="#FFFFFF"/>
<rect x="143.8" y="561.3" width="25.2" height="4" fill="#F9F9F9"/>
<rect x="143.8" y="565" width="25.2" height="4" fill="#FEFEFE"/>
<rect x="143.8" y="568.7" width="25.2" height="4" fill="#F9F9F9"/>
<rect x="143.8" y="572.5" width="25.2" height="4" fill="#FCFCFC"/>
<rect x="143.8" y="576.2" width="25.2" height="4" fill="#FDFDFD"/>
<rect x="143.8" y="579.9" width="25.2" height="4" fill="#FBFBFB"/>
<rect x="143.8" y="583.7" width="25.2" height="4" fill="#F7F7F7"/>
<rect x="143.8" y="587.4" width="25.2" height="4" fill="#F4F4F4"/>
<rect x="143.8" y="591.1" width="25.2" height="4" fill="#F5F5F5"/>
<rect x="143.8" y="594.9" width="25.2" height="4" fill="#F7F7F7"/>
<rect x="143.8" y="598.6" width="25.2" height="4" fill="#EBEBEB"/>
<rect x="143.8" y="602.3" width="25.2" height="4" fill="#F2F2F2"/>
<rect x="143.8" y="606.1" width="25.2" height="4" fill="#E1E1E1"/>
<rect x="143.8" y="609.8" width="25.2" height="4" fill="#DFDFDF"/>
<rect x="143.8" y="613.5" width="25.2" height="4" fill="#F0F0F0"/>
<rect x="143.8" y="617.3" width="25.2" height="4" fill="#ECECEC"/>
<rect x="168.7" y="434.3" width="25.2" height="4" fill="#FFFFFF"/>
<rect x="168.7" y="438" width="25.2" height="4" fill="#FDFDFD"/>
<rect x="168.7" y="441.8" width="25.2" height="4" fill="#DA4EDA"/>
<rect x="168.7" y="445.5" width="25.2" height="4" fill="#DC57DC"/>
<rect x="168.7" y="449.2" width="25.2" height="7.8" fill="#CC00CC"/>
<rect x="168.7" y="456.7" width="25.2" height="4" fill="#F1BBF1"/>
<rect x="168.7" y="460.4" width="25.2" height="4" fill="#EDABED"/>
<rect x="168.7" y="464.2" width="25.2" height="4" fill="#E277E2"/>
<rect x="168.7" y="467.9" width="25.2" height="4" fill="#DF6CDF"/>
<rect x="168.7" y="471.6" width="25.2" height="4" fill="#EBA2EB"/>
<rect x="168.7" y="475.4" width="25.2" height="4" fill="#EDA7ED"/>
<rect x="168.7" y="479.1" width="25.2" height="4" fill="#F0B9F0"/>
<rect x="168.7" y="482.8" width="25.2" height="4" fill="#F0BAF0"/>
<rect x="168.7" y="486.6" width="25.2" height="4" fill="#F5CCF5"/>
<rect x="168.7" y="490.3" width="25.2" height="4" fill="#F3C1F3"/>
<rect x="168.7" y="494" width="25.2" height="4" fill="#E994E9"/>
<rect x="168.7" y="497.8" width="25.2" height="4" fill="#E997E9"/>
<rect x="168.7" y="501.5" width="25.2" height="4" fill="#F6D3F6"/>
<rect x="168.7" y="505.2" width="25.2" height="4" fill="#F6D0F6"/>
<rect x="168.7" y="509" width="25.2" height="4" fill="#F6D2F6"/>
<rect x="168.7" y="512.7" width="25.2" height="4" fill="#F7D5F7"/>
<rect x="168.7" y="516.4" width="25.2" height="4" fill="#EEADEE"/>
<rect x="168.7" y="520.2" width="25.2" height="4" fill="#EEB0EE"/>
<rect x="168.7" y="523.9" width="25.2" height="4" fill="#E9E9E9"/>
<rect x="168.7" y="527.6" width="25.2" height="4" fill="#E4E4E4"/>
<rect x="168.7" y="531.4" width="25.2" height="4" fill="#E67DE6"/>
<rect x="168.7" y="535.1" width="25.2" height="4" fill="#E785E7"/>
<rect x="168.7" y="538.9" width="25.2" height="4" fill="#F8DBF8"/>
<rect x="168.7" y="542.6" width="25.2" height="4" fill="#FAE5FA"/>
<rect x="168.7" y="546.3" width="25.2" height="4" fill="#FAFAFA"/>
<rect x="168.7" y="550.1" width="25.2" height="4" fill="#FDFDFD"/>
<rect x="168.7" y="553.8" width="25.2" height="4" fill="#EFEFEF"/>
<rect x="168.7" y="557.5" width="25.2" height="4" fill="#ECECEC"/>
<rect x="168.7" y="561.3" width="25.2" height="4" fill="#EFEFEF"/>
<rect x="168.7" y="565" width="25.2" height="4" fill="#EEEEEE"/>
<rect x="168.7" y="568.7" width="25.2" height="4" fill="#E5E5E5"/>
<rect x="168.7" y="572.5" width="25.2" height="4" fill="#EBEBEB"/>
<rect x="168.7" y="576.2" width="25.2" height="4" fill="#DEDEDE"/>
<rect x="168.7" y="579.9" width="25.2" height="4" fill="#DDDDDD"/>
<rect x="168.7" y="583.7" width="25.2" height="4" fill="#F9F9F9"/>
<rect x="168.7" y="587.4" width="25.2" height="4" fill="#FDFDFD"/>
<rect x="168.7" y="591.1" width="25.2" height="7.8" fill="#FBEBFB"/>
<rect x="168.7" y="598.6" width="25.2" height="4" fill="#FBFBFB"/>
<rect x="168.7" y="602.3" width="25.2" height="4" fill="#FAFAFA"/>
<rect x="168.7" y="606.1" width="25.2" height="4" fill="#F0F0F0"/>
<rect x="168.7" y="609.8" width="25.2" height="4" fill="#F5F5F5"/>
<rect x="168.7" y="613.5" width="25.2" height="4" fill="#EEEEEE"/>
<rect x="168.7" y="617.3" width="25.2" height="4" fill="#EDEDED"/>
<rect x="193.5" y="434.3" width="25.2" height="4" fill="#F5F5F5"/>
<rect x="193.5" y="438" width="25.2" height="4" fill="#F4F4F4"/>
<rect x="193.5" y="441.8" width="25.2" height="4" fill="#F7F7F7"/>
<rect x="193.5" y="445.5" width="25.2" height="4" fill="#F6F6F6"/>
<rect x="193.5" y="449.2" width="25.2" height="4" fill="#F2F2F2"/>
<rect x="193.5" y="453" width="25.2" height="4" fill="#F7F7F7"/>
<rect x="193.5" y="456.7" width="25.2" height="4" fill="#F0F0F0"/>
<rect x="193.5" y="460.4" width="25.2" height="4" fill="#F4F4F4"/>
<rect x="193.5" y="464.2" width="25.2" height="4" fill="#F3F3F3"/>
<rect x="193.5" y="467.9" width="25.2" height="4" fill="#F2F2F2"/>
<rect x="193.5" y="471.6" width="25.2" height="4" fill="#F0F0F0"/>
<rect x="193.5" y="475.4" width="25.2" height="4" fill="#F6F6F6"/>
<rect x="193.5" y="479.1" width="25.2" height="4" fill="#F0F0F0"/>
<rect x="193.5" y="482.8" width="25.2" height="4" fill="#F4F4F4"/>
<rect x="193.5" y="486.6" width="25.2" height="4" fill="#F8F8F8"/>
<rect x="193.5" y="490.3" width="25.2" height="4" fill="#F1F1F1"/>
<rect x="193.5" y="494" width="25.2" height="4" fill="#D42ED4"/>
<rect x="193.5" y="497.8" width="25.2" height="4" fill="#D534D5"/>
<rect x="193.5" y="501.5" width="25.2" height="4" fill="#F4F4F4"/>
<rect x="193.5" y="505.2" width="25.2" height="4" fill="#F5F5F5"/>
<rect x="193.5" y="509" width="25.2" height="4" fill="#F6D4F6"/>
<rect x="193.5" y="512.7" width="25.2" height="4" fill="#F4C7F4"/>
<rect x="193.5" y="516.4" width="25.2" height="7.8" fill="#F2F2F2"/>
<rect x="193.5" y="523.9" width="25.2" height="4" fill="#F0F0F0"/>
<rect x="193.5" y="527.6" width="25.2" height="4" fill="#F7F7F7"/>
<rect x="193.5" y="531.4" width="25.2" height="7.8" fill="#F6F6F6"/>
<rect x="193.5" y="538.9" width="25.2" height="4" fill="#F0F0F0"/>
<rect x="193.5" y="542.6" width="25.2" height="4" fill="#F7F7F7"/>
<rect x="193.5" y="546.3" width="25.2" height="4" fill="#F6F6F6"/>
<rect x="193.5" y="550.1" width="25.2" height="4" fill="#F4F4F4"/>
<rect x="193.5" y="553.8" width="25.2" height="4" fill="#F6F6F6"/>
<rect x="193.5" y="557.5" width="25.2" height="4" fill="#F4F4F4"/>
<rect x="193.5" y="561.3" width="25.2" height="4" fill="#F2F2F2"/>
<rect x="193.5" y="565" width="25.2" height="4" fill="#F1F1F1"/>
<rect x="193.5" y="568.7" width="25.2" height="4" fill="#F2F2F2"/>
<rect x="193.5" y="572.5" width="25.2" height="4" fill="#F0F0F0"/>
<rect x="193.5" y="576.2" width="25.2" height="4" fill="#F3F3F3"/>
<rect x="193.5" y="579.9" width="25.2" height="4" fill="#F6F6F6"/>
<rect x="193.5" y="583.7" width="25.2" height="7.8" fill="#FBEBFB"/>
<rect x="193.5" y="591.1" width="25.2" height="4" fill="#F6F6F6"/>
<rect x="193.5" y="594.9" width="25.2" height="4" fill="#F2F2F2"/>
<rect x="193.5" y="598.6" width="25.2" height="4" fill="#F4F4F4"/>
<rect x="193.5" y="602.3" width="25.2" height="4" fill="#F3F3F3"/>
<rect x="193.5" y="606.1" width="25.2" height="4" fill="#F6F6F6"/>
<rect x="193.5" y="609.8" width="25.2" height="4" fill="#F4F4F4"/>
<rect x="193.5" y="613.5" width="25.2" height="4" fill="#F2F2F2"/>
<rect x="193.5" y="617.3" width="25.2" height="4" fill="#F5F5F5"/>
<rect x="218.4" y="434.3" width="25.2" height="4" fill="#F8F8F8"/>
<rect x="218.4" y="438" width="25.2" height="4" fill="#F2F2F2"/>
<rect x="218.4" y="441.8" width="25.2" height="4" fill="#F7F7F7"/>
<rect x="218.4" y="445.5" width="25.2" height="4" fill="#F0F0F0"/>
<rect x="218.4" y="449.2" width="25.2" height="7.8" fill="#F2F2F2"/>
<rect x="218.4" y="456.7" width="25.2" height="4" fill="#F6F6F6"/>
<rect x="218.4" y="460.4" width="25.2" height="4" fill="#F8F8F8"/>
<rect x="218.4" y="464.2" width="25.2" height="4" fill="#F6F6F6"/>
<rect x="218.4" y="467.9" width="25.2" height="4" fill="#F3F3F3"/>
<rect x="218.4" y="471.6" width="25.2" height="4" fill="#FBEBFB"/>
<rect x="218.4" y="475.4" width="25.2" height="4" fill="#FAE4FA"/>
<rect x="218.4" y="479.1" width="25.2" height="4" fill="#F2F2F2"/>
<rect x="218.4" y="482.8" width="25.2" height="4" fill="#F7F7F7"/>
<rect x="218.4" y="486.6" width="25.2" height="4" fill="#F5F5F5"/>
<rect x="218.4" y="490.3" width="25.2" height="4" fill="#F6F6F6"/>
<rect x="218.4" y="494" width="25.2" height="4" fill="#F5F5F5"/>
<rect x="218.4" y="497.8" width="25.2" height="4" fill="#F8F8F8"/>
<rect x="218.4" y="501.5" width="25.2" height="4" fill="#F4F4F4"/>
<rect x="218.4" y="505.2" width="25.2" height="4" fill="#F7F7F7"/>
<rect x="218.4" y="509" width="25.2" height="4" fill="#F6F6F6"/>
<rect x="218.4" y="512.7" width="25.2" height="4" fill="#F7F7F7"/>
<rect x="218.4" y="516.4" width="25.2" height="4" fill="#D430D4"/>
<rect x="218.4" y="520.2" width="25.2" height="4" fill="#D637D6"/>
<rect x="218.4" y="523.9" width="25.2" height="4" fill="#D432D4"/>
<rect x="218.4" y="527.6" width="25.2" height="4" fill="#D42FD4"/>
<rect x="218.4" y="531.4" width="25.2" height="4" fill="#D42ED4"/>
<rect x="218.4" y="535.1" width="25.2" height="4" fill="#D534D5"/>
<rect x="218.4" y="538.9" width="25.2" height="4" fill="#F1F1F1"/>
<rect x="218.4" y="542.6" width="25.2" height="4" fill="#F7F7F7"/>
<rect x="218.4" y="546.3" width="25.2" height="4" fill="#F1F1F1"/>
<rect x="218.4" y="550.1" width="25.2" height="4" fill="#F0F0F0"/>
<rect x="218.4" y="553.8" width="25.2" height="4" fill="#F1F1F1"/>
<rect x="218.4" y="557.5" width="25.2" height="4" fill="#F7F7F7"/>
<rect x="218.4" y="561.3" width="25.2" height="4" fill="#F3F3F3"/>
<rect x="218.4" y="565" width="25.2" height="4" fill="#F1F1F1"/>
<rect x="218.4" y="568.7" width="25.2" height="4" fill="#F7D8F7"/>
<rect x="218.4" y="572.5" width="25.2" height="4" fill="#F8D9F8"/>
<rect x="218.4" y="576.2" width="25.2" height="4" fill="#F6F6F6"/>
<rect x="218.4" y="579.9" width="25.2" height="4" fill="#F5F5F5"/>
<rect x="218.4" y="583.7" width="25.2" height="7.8" fill="#F6F6F6"/>
<rect x="218.4" y="591.1" width="25.2" height="4" fill="#F1F1F1"/>
<rect x="218.4" y="594.9" width="25.2" height="4" fill="#F5F5F5"/>
<rect x="218.4" y="598.6" width="25.2" height="4" fill="#F3F3F3"/>
<rect x="218.4" y="602.3" width="25.2" height="4" fill="#F7F7F7"/>
<rect x="218.4" y="606.1" width="25.2" height="7.8" fill="#EBEBEB"/>
<rect x="218.4" y="613.5" width="25.2" height="4" fill="#F1F1F1"/>
<rect x="218.4" y="617.3" width="25.2" height="4" fill="#F7F7F7"/>
<line x1="41.3" y1="429.3" x2="41.3" y2="622" stroke="#222" stroke-width="2.4" stroke-dasharray="20.7 6.9"/>
<line x1="244.1" y1="429.3" x2="244.1" y2="622" stroke="#222" stroke-width="2.4" stroke-dasharray="20.7 6.9"/>
<rect x="44.2" y="628" width="25.2" height="4" fill="#F1F1F1"/>
<rect x="44.2" y="631.8" width="25.2" height="4" fill="#F2F2F2"/>
<rect x="44.2" y="635.5" width="25.2" height="4" fill="#EBEBEB"/>
<rect x="44.2" y="639.2" width="25.2" height="4" fill="#ECECEC"/>
<rect x="44.2" y="643" width="25.2" height="4" fill="#EBEBEB"/>
<rect x="44.2" y="646.8" width="25.2" height="4" fill="#EAEAEA"/>
<rect x="44.2" y="650.5" width="25.2" height="4" fill="#F1F1F1"/>
<rect x="44.2" y="654.2" width="25.2" height="4" fill="#F0F0F0"/>
<rect x="44.2" y="658" width="25.2" height="4" fill="#E9E9E9"/>
<rect x="44.2" y="661.8" width="25.2" height="4" fill="#EBEBEB"/>
<rect x="44.2" y="665.5" width="25.2" height="4" fill="#E9E9E9"/>
<rect x="44.2" y="669.2" width="25.2" height="4" fill="#E6E6E6"/>
<rect x="44.2" y="673" width="25.2" height="7.8" fill="#E5E5E5"/>
<rect x="44.2" y="680.5" width="25.2" height="4" fill="#F0F0F0"/>
<rect x="44.2" y="684.2" width="25.2" height="4" fill="#ECECEC"/>
<rect x="44.2" y="688" width="25.2" height="7.8" fill="#EDEDED"/>
<rect x="44.2" y="695.5" width="25.2" height="4" fill="#EAEAEA"/>
<rect x="44.2" y="699.2" width="25.2" height="7.8" fill="#ECECEC"/>
<rect x="44.2" y="706.8" width="25.2" height="4" fill="#F0F0F0"/>
<rect x="44.2" y="710.5" width="25.2" height="7.8" fill="#F3F3F3"/>
<rect x="44.2" y="718" width="25.2" height="4" fill="#F8F8F8"/>
<rect x="44.2" y="721.8" width="25.2" height="4" fill="#F4F4F4"/>
<rect x="44.2" y="725.5" width="25.2" height="4" fill="#F7F7F7"/>
<rect x="44.2" y="729.2" width="25.2" height="4" fill="#F5F5F5"/>
<rect x="44.2" y="733" width="25.2" height="4" fill="#E4E4E4"/>
<rect x="44.2" y="736.8" width="25.2" height="4" fill="#E7E7E7"/>
<rect x="44.2" y="740.5" width="25.2" height="4" fill="#DFDFDF"/>
<rect x="44.2" y="744.2" width="25.2" height="4" fill="#E2E2E2"/>
<rect x="44.2" y="748" width="25.2" height="4" fill="#EFB3EF"/>
<rect x="44.2" y="751.8" width="25.2" height="4" fill="#F0BAF0"/>
<rect x="44.2" y="755.5" width="25.2" height="4" fill="#F6D2F6"/>
<rect x="44.2" y="759.2" width="25.2" height="4" fill="#F4C8F4"/>
<rect x="44.2" y="763" width="25.2" height="4" fill="#F1F1F1"/>
<rect x="44.2" y="766.8" width="25.2" height="4" fill="#EBEBEB"/>
<rect x="44.2" y="770.5" width="25.2" height="4" fill="#F1F1F1"/>
<rect x="44.2" y="774.2" width="25.2" height="4" fill="#EBEBEB"/>
<rect x="44.2" y="778" width="25.2" height="4" fill="#EAEAEA"/>
<rect x="44.2" y="781.8" width="25.2" height="4" fill="#ECECEC"/>
<rect x="44.2" y="785.5" width="25.2" height="4" fill="#FEFEFE"/>
<rect x="44.2" y="789.2" width="25.2" height="4" fill="#FFFFFF"/>
<rect x="44.2" y="793" width="25.2" height="4" fill="#F0F0F0"/>
<rect x="44.2" y="796.8" width="25.2" height="4" fill="#F4F4F4"/>
<rect x="44.2" y="800.5" width="25.2" height="4" fill="#FBEAFB"/>
<rect x="44.2" y="804.2" width="25.2" height="4" fill="#FBEBFB"/>
<rect x="44.2" y="808" width="25.2" height="4" fill="#F1F1F1"/>
<rect x="44.2" y="811.8" width="25.2" height="4" fill="#F4F4F4"/>
<rect x="69.1" y="628" width="25.2" height="4" fill="#FBFBFB"/>
<rect x="69.1" y="631.8" width="25.2" height="4" fill="#FFFFFF"/>
<rect x="69.1" y="635.5" width="25.2" height="4" fill="#ECECEC"/>
<rect x="69.1" y="639.2" width="25.2" height="4" fill="#F2F2F2"/>
<rect x="69.1" y="643" width="25.2" height="7.8" fill="#ECECEC"/>
<rect x="69.1" y="650.5" width="25.2" height="4" fill="#F0F0F0"/>
<rect x="69.1" y="654.2" width="25.2" height="4" fill="#EEEEEE"/>
<rect x="69.1" y="658" width="25.2" height="4" fill="#EBEBEB"/>
<rect x="69.1" y="661.8" width="25.2" height="4" fill="#EFEFEF"/>
<rect x="69.1" y="665.5" width="25.2" height="4" fill="#E5E5E5"/>
<rect x="69.1" y="669.2" width="25.2" height="4" fill="#EAEAEA"/>
<rect x="69.1" y="673" width="25.2" height="7.8" fill="#F0F0F0"/>
<rect x="69.1" y="680.5" width="25.2" height="4" fill="#EFEFEF"/>
<rect x="69.1" y="684.2" width="25.2" height="4" fill="#EDEDED"/>
<rect x="69.1" y="688" width="25.2" height="7.8" fill="#F3F3F3"/>
<rect x="69.1" y="695.5" width="25.2" height="4" fill="#FFFFFF"/>
<rect x="69.1" y="699.2" width="25.2" height="4" fill="#F9F9F9"/>
<rect x="69.1" y="703" width="25.2" height="4" fill="#F7F7F7"/>
<rect x="69.1" y="706.8" width="25.2" height="4" fill="#F0F0F0"/>
<rect x="69.1" y="710.5" width="25.2" height="7.8" fill="#F2F2F2"/>
<rect x="69.1" y="718" width="25.2" height="4" fill="#F7F7F7"/>
<rect x="69.1" y="721.8" width="25.2" height="4" fill="#F4F4F4"/>
<rect x="69.1" y="725.5" width="25.2" height="4" fill="#F3F3F3"/>
<rect x="69.1" y="729.2" width="25.2" height="4" fill="#F7F7F7"/>
<rect x="69.1" y="733" width="25.2" height="4" fill="#ECECEC"/>
<rect x="69.1" y="736.8" width="25.2" height="4" fill="#EEEEEE"/>
<rect x="69.1" y="740.5" width="25.2" height="4" fill="#E071E0"/>
<rect x="69.1" y="744.2" width="25.2" height="4" fill="#E176E1"/>
<rect x="69.1" y="748" width="25.2" height="4" fill="#FBEBFB"/>
<rect x="69.1" y="751.8" width="25.2" height="4" fill="#FBEAFB"/>
<rect x="69.1" y="755.5" width="25.2" height="7.8" fill="#FBFBFB"/>
<rect x="69.1" y="763" width="25.2" height="4" fill="#EBEBEB"/>
<rect x="69.1" y="766.8" width="25.2" height="4" fill="#F1F1F1"/>
<rect x="69.1" y="770.5" width="25.2" height="4" fill="#EFEFEF"/>
<rect x="69.1" y="774.2" width="25.2" height="4" fill="#F0F0F0"/>
<rect x="69.1" y="778" width="25.2" height="4" fill="#EBEBEB"/>
<rect x="69.1" y="781.8" width="25.2" height="4" fill="#EEEEEE"/>
<rect x="69.1" y="785.5" width="25.2" height="4" fill="#F6F6F6"/>
<rect x="69.1" y="789.2" width="25.2" height="4" fill="#F5F5F5"/>
<rect x="69.1" y="793" width="25.2" height="4" fill="#F9F9F9"/>
<rect x="69.1" y="796.8" width="25.2" height="4" fill="#FCFCFC"/>
<rect x="69.1" y="800.5" width="25.2" height="4" fill="#F7D5F7"/>
<rect x="69.1" y="804.2" width="25.2" height="4" fill="#F4C9F4"/>
<rect x="69.1" y="808" width="25.2" height="4" fill="#EEAFEE"/>
<rect x="69.1" y="811.8" width="25.2" height="4" fill="#EFB2EF"/>
<rect x="94" y="628" width="25.2" height="4" fill="#F6D3F6"/>
<rect x="94" y="631.8" width="25.2" height="4" fill="#F6D4F6"/>
<rect x="94" y="635.5" width="25.2" height="7.8" fill="#EBEBEB"/>
<rect x="94" y="643" width="25.2" height="4" fill="#ECECEC"/>
<rect x="94" y="646.8" width="25.2" height="4" fill="#EDEDED"/>
<rect x="94" y="650.5" width="25.2" height="4" fill="#E8E8E8"/>
<rect x="94" y="654.2" width="25.2" height="4" fill="#E5E5E5"/>
<rect x="94" y="658" width="25.2" height="4" fill="#F3F3F3"/>
<rect x="94" y="661.8" width="25.2" height="4" fill="#F2F2F2"/>
<rect x="94" y="665.5" width="25.2" height="4" fill="#FBECFB"/>
<rect x="94" y="669.2" width="25.2" height="4" fill="#FBEBFB"/>
<rect x="94" y="673" width="25.2" height="4" fill="#F3C5F3"/>
<rect x="94" y="676.8" width="25.2" height="4" fill="#F7D5F7"/>
<rect x="94" y="680.5" width="25.2" height="4" fill="#F1F1F1"/>
<rect x="94" y="684.2" width="25.2" height="4" fill="#F3F3F3"/>
<rect x="94" y="688" width="25.2" height="4" fill="#F1BDF1"/>
<rect x="94" y="691.8" width="25.2" height="4" fill="#F1BBF1"/>
<rect x="94" y="695.5" width="25.2" height="4" fill="#FEFEFE"/>
<rect x="94" y="699.2" width="25.2" height="4" fill="#FBFBFB"/>
<rect x="94" y="703" width="25.2" height="4" fill="#FAFAFA"/>
<rect x="94" y="706.8" width="25.2" height="4" fill="#FDFDFD"/>
<rect x="94" y="710.5" width="25.2" height="4" fill="#F9F9F9"/>
<rect x="94" y="714.2" width="25.2" height="4" fill="#FAFAFA"/>
<rect x="94" y="718" width="25.2" height="4" fill="#F3F3F3"/>
<rect x="94" y="721.8" width="25.2" height="4" fill="#F0F0F0"/>
<rect x="94" y="725.5" width="25.2" height="4" fill="#E7E7E7"/>
<rect x="94" y="729.2" width="25.2" height="7.8" fill="#EAEAEA"/>
<rect x="94" y="736.8" width="25.2" height="4" fill="#E8E8E8"/>
<rect x="94" y="740.5" width="25.2" height="4" fill="#E9E9E9"/>
<rect x="94" y="744.2" width="25.2" height="4" fill="#E8E8E8"/>
<rect x="94" y="748" width="25.2" height="4" fill="#F8DDF8"/>
<rect x="94" y="751.8" width="25.2" height="4" fill="#FBEAFB"/>
<rect x="94" y="755.5" width="25.2" height="4" fill="#EDEDED"/>
<rect x="94" y="759.2" width="25.2" height="4" fill="#F0F0F0"/>
<rect x="94" y="763" width="25.2" height="4" fill="#EBEBEB"/>
<rect x="94" y="766.8" width="25.2" height="4" fill="#E7E7E7"/>
<rect x="94" y="770.5" width="25.2" height="4" fill="#E9E9E9"/>
<rect x="94" y="774.2" width="25.2" height="4" fill="#EAEAEA"/>
<rect x="94" y="778" width="25.2" height="4" fill="#E7E7E7"/>
<rect x="94" y="781.8" width="25.2" height="4" fill="#E6E6E6"/>
<rect x="94" y="785.5" width="25.2" height="4" fill="#F0F0F0"/>
<rect x="94" y="789.2" width="25.2" height="4" fill="#F1F1F1"/>
<rect x="94" y="793" width="25.2" height="4" fill="#F6D4F6"/>
<rect x="94" y="796.8" width="25.2" height="4" fill="#F6D3F6"/>
<rect x="94" y="800.5" width="25.2" height="4" fill="#F7D5F7"/>
<rect x="94" y="804.2" width="25.2" height="4" fill="#F6D3F6"/>
<rect x="94" y="808" width="25.2" height="4" fill="#F0BAF0"/>
<rect x="94" y="811.8" width="25.2" height="4" fill="#F0B7F0"/>
<rect x="118.9" y="628" width="25.2" height="4" fill="#E784E7"/>
<rect x="118.9" y="631.8" width="25.2" height="4" fill="#E88AE8"/>
<rect x="118.9" y="635.5" width="25.2" height="4" fill="#D94BD9"/>
<rect x="118.9" y="639.2" width="25.2" height="4" fill="#DA4FDA"/>
<rect x="118.9" y="643" width="25.2" height="4" fill="#DC58DC"/>
<rect x="118.9" y="646.8" width="25.2" height="4" fill="#DB56DB"/>
<rect x="118.9" y="650.5" width="25.2" height="4" fill="#E88AE8"/>
<rect x="118.9" y="654.2" width="25.2" height="4" fill="#E783E7"/>
<rect x="118.9" y="658" width="25.2" height="4" fill="#E886E8"/>
<rect x="118.9" y="661.8" width="25.2" height="4" fill="#E887E8"/>
<rect x="118.9" y="665.5" width="25.2" height="4" fill="#E173E1"/>
<rect x="118.9" y="669.2" width="25.2" height="4" fill="#E06EE0"/>
<rect x="118.9" y="673" width="25.2" height="4" fill="#E98BE9"/>
<rect x="118.9" y="676.8" width="25.2" height="4" fill="#EA90EA"/>
<rect x="118.9" y="680.5" width="25.2" height="4" fill="#E781E7"/>
<rect x="118.9" y="684.2" width="25.2" height="4" fill="#E98BE9"/>
<rect x="118.9" y="688" width="25.2" height="4" fill="#E98DE9"/>
<rect x="118.9" y="691.8" width="25.2" height="4" fill="#E886E8"/>
<rect x="118.9" y="695.5" width="25.2" height="4" fill="#E888E8"/>
<rect x="118.9" y="699.2" width="25.2" height="4" fill="#EA91EA"/>
<rect x="118.9" y="703" width="25.2" height="4" fill="#DF68DF"/>
<rect x="118.9" y="706.8" width="25.2" height="4" fill="#E071E0"/>
<rect x="118.9" y="710.5" width="25.2" height="4" fill="#D94CD9"/>
<rect x="118.9" y="714.2" width="25.2" height="4" fill="#DC58DC"/>
<rect x="118.9" y="718" width="25.2" height="4" fill="#EA90EA"/>
<rect x="118.9" y="721.8" width="25.2" height="4" fill="#E888E8"/>
<rect x="118.9" y="725.5" width="25.2" height="4" fill="#E67FE6"/>
<rect x="118.9" y="729.2" width="25.2" height="4" fill="#E889E8"/>
<rect x="118.9" y="733" width="25.2" height="4" fill="#E071E0"/>
<rect x="118.9" y="736.8" width="25.2" height="4" fill="#E175E1"/>
<rect x="118.9" y="740.5" width="25.2" height="4" fill="#CC00CC"/>
<rect x="118.9" y="744.2" width="25.2" height="4" fill="#CD06CD"/>
<rect x="118.9" y="748" width="25.2" height="4" fill="#D63BD6"/>
<rect x="118.9" y="751.8" width="25.2" height="4" fill="#D431D4"/>
<rect x="118.9" y="755.5" width="25.2" height="4" fill="#CC00CC"/>
<rect x="118.9" y="759.2" width="25.2" height="4" fill="#D012D0"/>
<rect x="118.9" y="763" width="25.2" height="4" fill="#DF6BDF"/>
<rect x="118.9" y="766.8" width="25.2" height="4" fill="#E174E1"/>
<rect x="118.9" y="770.5" width="25.2" height="4" fill="#E886E8"/>
<rect x="118.9" y="774.2" width="25.2" height="4" fill="#E98DE9"/>
<rect x="118.9" y="778" width="25.2" height="4" fill="#D94BD9"/>
<rect x="118.9" y="781.8" width="25.2" height="4" fill="#DD5EDD"/>
<rect x="118.9" y="785.5" width="25.2" height="4" fill="#E06DE0"/>
<rect x="118.9" y="789.2" width="25.2" height="4" fill="#DF68DF"/>
<rect x="118.9" y="793" width="25.2" height="4" fill="#E783E7"/>
<rect x="118.9" y="796.8" width="25.2" height="4" fill="#E886E8"/>
<rect x="118.9" y="800.5" width="25.2" height="4" fill="#D32CD3"/>
<rect x="118.9" y="804.2" width="25.2" height="4" fill="#D42FD4"/>
<rect x="118.9" y="808" width="25.2" height="4" fill="#E886E8"/>
<rect x="118.9" y="811.8" width="25.2" height="4" fill="#E98CE9"/>
<rect x="143.8" y="628" width="25.2" height="4" fill="#EDEDED"/>
<rect x="143.8" y="631.8" width="25.2" height="4" fill="#ECECEC"/>
<rect x="143.8" y="635.5" width="25.2" height="4" fill="#DEDEDE"/>
<rect x="143.8" y="639.2" width="25.2" height="4" fill="#E2E2E2"/>
<rect x="143.8" y="643" width="25.2" height="4" fill="#E4E4E4"/>
<rect x="143.8" y="646.8" width="25.2" height="4" fill="#E0E0E0"/>
<rect x="143.8" y="650.5" width="25.2" height="4" fill="#DEDEDE"/>
<rect x="143.8" y="654.2" width="25.2" height="4" fill="#E2E2E2"/>
<rect x="143.8" y="658" width="25.2" height="4" fill="#E7E7E7"/>
<rect x="143.8" y="661.8" width="25.2" height="4" fill="#E6E6E6"/>
<rect x="143.8" y="665.5" width="25.2" height="4" fill="#F1F1F1"/>
<rect x="143.8" y="669.2" width="25.2" height="4" fill="#F6F6F6"/>
<rect x="143.8" y="673" width="25.2" height="4" fill="#EAEAEA"/>
<rect x="143.8" y="676.8" width="25.2" height="4" fill="#E9E9E9"/>
<rect x="143.8" y="680.5" width="25.2" height="7.8" fill="#E8E8E8"/>
<rect x="143.8" y="688" width="25.2" height="4" fill="#F2F2F2"/>
<rect x="143.8" y="691.8" width="25.2" height="4" fill="#F8F8F8"/>
<rect x="143.8" y="695.5" width="25.2" height="4" fill="#E7E7E7"/>
<rect x="143.8" y="699.2" width="25.2" height="4" fill="#E9E9E9"/>
<rect x="143.8" y="703" width="25.2" height="7.8" fill="#F1F1F1"/>
<rect x="143.8" y="710.5" width="25.2" height="4" fill="#E0E0E0"/>
<rect x="143.8" y="714.2" width="25.2" height="4" fill="#DEDEDE"/>
<rect x="143.8" y="718" width="25.2" height="4" fill="#E0E0E0"/>
<rect x="143.8" y="721.8" width="25.2" height="4" fill="#DDDDDD"/>
<rect x="143.8" y="725.5" width="25.2" height="4" fill="#E3E3E3"/>
<rect x="143.8" y="729.2" width="25.2" height="4" fill="#DFDFDF"/>
<rect x="143.8" y="733" width="25.2" height="4" fill="#EBEBEB"/>
<rect x="143.8" y="736.8" width="25.2" height="4" fill="#E6E6E6"/>
<rect x="143.8" y="740.5" width="25.2" height="4" fill="#FBFBFB"/>
<rect x="143.8" y="744.2" width="25.2" height="4" fill="#FAFAFA"/>
<rect x="143.8" y="748" width="25.2" height="4" fill="#E7E7E7"/>
<rect x="143.8" y="751.8" width="25.2" height="4" fill="#E5E5E5"/>
<rect x="143.8" y="755.5" width="25.2" height="4" fill="#DCDCDC"/>
<rect x="143.8" y="759.2" width="25.2" height="4" fill="#E2E2E2"/>
<rect x="143.8" y="763" width="25.2" height="11.6" fill="#DEDEDE"/>
<rect x="143.8" y="774.2" width="25.2" height="4" fill="#E0E0E0"/>
<rect x="143.8" y="778" width="25.2" height="4" fill="#E7E7E7"/>
<rect x="143.8" y="781.8" width="25.2" height="4" fill="#E9E9E9"/>
<rect x="143.8" y="785.5" width="25.2" height="4" fill="#F5F5F5"/>
<rect x="143.8" y="789.2" width="25.2" height="4" fill="#F3F3F3"/>
<rect x="143.8" y="793" width="25.2" height="7.8" fill="#EBEBEB"/>
<rect x="143.8" y="800.5" width="25.2" height="4" fill="#E4E4E4"/>
<rect x="143.8" y="804.2" width="25.2" height="7.8" fill="#EBEBEB"/>
<rect x="143.8" y="811.8" width="25.2" height="4" fill="#EAEAEA"/>
<rect x="168.7" y="628" width="25.2" height="4" fill="#E5E5E5"/>
<rect x="168.7" y="631.8" width="25.2" height="4" fill="#EBEBEB"/>
<rect x="168.7" y="635.5" width="25.2" height="4" fill="#E9E9E9"/>
<rect x="168.7" y="639.2" width="25.2" height="7.8" fill="#E4E4E4"/>
<rect x="168.7" y="646.8" width="25.2" height="4" fill="#ECECEC"/>
<rect x="168.7" y="650.5" width="25.2" height="4" fill="#E9E9E9"/>
<rect x="168.7" y="654.2" width="25.2" height="4" fill="#E6E6E6"/>
<rect x="168.7" y="658" width="25.2" height="7.8" fill="#E5E5E5"/>
<rect x="168.7" y="665.5" width="25.2" height="4" fill="#E6E6E6"/>
<rect x="168.7" y="669.2" width="25.2" height="4" fill="#EAEAEA"/>
<rect x="168.7" y="673" width="25.2" height="4" fill="#E7E7E7"/>
<rect x="168.7" y="676.8" width="25.2" height="4" fill="#E5E5E5"/>
<rect x="168.7" y="680.5" width="25.2" height="4" fill="#EBEBEB"/>
<rect x="168.7" y="684.2" width="25.2" height="4" fill="#EAEAEA"/>
<rect x="168.7" y="688" width="25.2" height="4" fill="#E5E5E5"/>
<rect x="168.7" y="691.8" width="25.2" height="4" fill="#EBEBEB"/>
<rect x="168.7" y="695.5" width="25.2" height="4" fill="#F5F5F5"/>
<rect x="168.7" y="699.2" width="25.2" height="4" fill="#F6F6F6"/>
<rect x="168.7" y="703" width="25.2" height="4" fill="#F5F5F5"/>
<rect x="168.7" y="706.8" width="25.2" height="4" fill="#F7F7F7"/>
<rect x="168.7" y="710.5" width="25.2" height="4" fill="#F6F6F6"/>
<rect x="168.7" y="714.2" width="25.2" height="4" fill="#F7F7F7"/>
<rect x="168.7" y="718" width="25.2" height="4" fill="#ECECEC"/>
<rect x="168.7" y="721.8" width="25.2" height="4" fill="#F0F0F0"/>
<rect x="168.7" y="725.5" width="25.2" height="4" fill="#E8E8E8"/>
<rect x="168.7" y="729.2" width="25.2" height="4" fill="#EAEAEA"/>
<rect x="168.7" y="733" width="25.2" height="4" fill="#E8E8E8"/>
<rect x="168.7" y="736.8" width="25.2" height="4" fill="#EBEBEB"/>
<rect x="168.7" y="740.5" width="25.2" height="4" fill="#E8E8E8"/>
<rect x="168.7" y="744.2" width="25.2" height="4" fill="#E6E6E6"/>
<rect x="168.7" y="748" width="25.2" height="4" fill="#ECECEC"/>
<rect x="168.7" y="751.8" width="25.2" height="4" fill="#EBEBEB"/>
<rect x="168.7" y="755.5" width="25.2" height="4" fill="#EEEEEE"/>
<rect x="168.7" y="759.2" width="25.2" height="4" fill="#EAEAEA"/>
<rect x="168.7" y="763" width="25.2" height="4" fill="#E8E8E8"/>
<rect x="168.7" y="766.8" width="25.2" height="4" fill="#E5E5E5"/>
<rect x="168.7" y="770.5" width="25.2" height="7.8" fill="#E8E8E8"/>
<rect x="168.7" y="778" width="25.2" height="4" fill="#EEEEEE"/>
<rect x="168.7" y="781.8" width="25.2" height="4" fill="#F1F1F1"/>
<rect x="168.7" y="785.5" width="25.2" height="4" fill="#F0F0F0"/>
<rect x="168.7" y="789.2" width="25.2" height="4" fill="#F7F7F7"/>
<rect x="168.7" y="793" width="25.2" height="4" fill="#F0B7F0"/>
<rect x="168.7" y="796.8" width="25.2" height="4" fill="#F0B9F0"/>
<rect x="168.7" y="800.5" width="25.2" height="4" fill="#FDFDFD"/>
<rect x="168.7" y="804.2" width="25.2" height="4" fill="#FFFFFF"/>
<rect x="168.7" y="808" width="25.2" height="7.8" fill="#F3F3F3"/>
<rect x="193.5" y="628" width="25.2" height="4" fill="#F8F8F8"/>
<rect x="193.5" y="631.8" width="25.2" height="4" fill="#F1F1F1"/>
<rect x="193.5" y="635.5" width="25.2" height="7.8" fill="#F5F5F5"/>
<rect x="193.5" y="643" width="25.2" height="4" fill="#F0F0F0"/>
<rect x="193.5" y="646.8" width="25.2" height="7.8" fill="#F5F5F5"/>
<rect x="193.5" y="654.2" width="25.2" height="4" fill="#F7F7F7"/>
<rect x="193.5" y="658" width="25.2" height="4" fill="#FBFBFB"/>
<rect x="193.5" y="661.8" width="25.2" height="4" fill="#FFFFFF"/>
<rect x="193.5" y="665.5" width="25.2" height="4" fill="#F6D2F6"/>
<rect x="193.5" y="669.2" width="25.2" height="4" fill="#F6D1F6"/>
<rect x="193.5" y="673" width="25.2" height="4" fill="#FBEBFB"/>
<rect x="193.5" y="676.8" width="25.2" height="4" fill="#F7D9F7"/>
<rect x="193.5" y="680.5" width="25.2" height="4" fill="#F6F6F6"/>
<rect x="193.5" y="684.2" width="25.2" height="4" fill="#F5F5F5"/>
<rect x="193.5" y="688" width="25.2" height="4" fill="#EA9CEA"/>
<rect x="193.5" y="691.8" width="25.2" height="4" fill="#ECA5EC"/>
<rect x="193.5" y="695.5" width="25.2" height="4" fill="#EA9DEA"/>
<rect x="193.5" y="699.2" width="25.2" height="4" fill="#EB9FEB"/>
<rect x="193.5" y="703" width="25.2" height="4" fill="#E888E8"/>
<rect x="193.5" y="706.8" width="25.2" height="4" fill="#E98DE9"/>
<rect x="193.5" y="710.5" width="25.2" height="4" fill="#D94CD9"/>
<rect x="193.5" y="714.2" width="25.2" height="7.8" fill="#DA4FDA"/>
<rect x="193.5" y="721.8" width="25.2" height="4" fill="#DA52DA"/>
<rect x="193.5" y="725.5" width="25.2" height="4" fill="#F1BCF1"/>
<rect x="193.5" y="729.2" width="25.2" height="4" fill="#EFB2EF"/>
<rect x="193.5" y="733" width="25.2" height="4" fill="#F6D4F6"/>
<rect x="193.5" y="736.8" width="25.2" height="4" fill="#F5CFF5"/>
<rect x="193.5" y="740.5" width="25.2" height="4" fill="#D430D4"/>
<rect x="193.5" y="744.2" width="25.2" height="4" fill="#D42ED4"/>
<rect x="193.5" y="748" width="25.2" height="4" fill="#E888E8"/>
<rect x="193.5" y="751.8" width="25.2" height="4" fill="#EA91EA"/>
<rect x="193.5" y="755.5" width="25.2" height="4" fill="#F5F5F5"/>
<rect x="193.5" y="759.2" width="25.2" height="4" fill="#F6F6F6"/>
<rect x="193.5" y="763" width="25.2" height="7.8" fill="#F3F3F3"/>
<rect x="193.5" y="770.5" width="25.2" height="4" fill="#F2F2F2"/>
<rect x="193.5" y="774.2" width="25.2" height="7.8" fill="#F5F5F5"/>
<rect x="193.5" y="781.8" width="25.2" height="4" fill="#F6F6F6"/>
<rect x="193.5" y="785.5" width="25.2" height="4" fill="#F0F0F0"/>
<rect x="193.5" y="789.2" width="25.2" height="4" fill="#F6F6F6"/>
<rect x="193.5" y="793" width="25.2" height="4" fill="#F7F7F7"/>
<rect x="193.5" y="796.8" width="25.2" height="4" fill="#F4F4F4"/>
<rect x="193.5" y="800.5" width="25.2" height="4" fill="#F0F0F0"/>
<rect x="193.5" y="804.2" width="25.2" height="4" fill="#F2F2F2"/>
<rect x="193.5" y="808" width="25.2" height="4" fill="#EDA9ED"/>
<rect x="193.5" y="811.8" width="25.2" height="4" fill="#EEAFEE"/>
<rect x="218.4" y="628" width="25.2" height="4" fill="#DC5CDC"/>
<rect x="218.4" y="631.8" width="25.2" height="4" fill="#DB53DB"/>
<rect x="218.4" y="635.5" width="25.2" height="7.8" fill="#FBEBFB"/>
<rect x="218.4" y="643" width="25.2" height="4" fill="#F7F7F7"/>
<rect x="218.4" y="646.8" width="25.2" height="11.6" fill="#F5F5F5"/>
<rect x="218.4" y="658" width="25.2" height="4" fill="#F6F6F6"/>
<rect x="218.4" y="661.8" width="25.2" height="4" fill="#F5F5F5"/>
<rect x="218.4" y="665.5" width="25.2" height="4" fill="#F6D3F6"/>
<rect x="218.4" y="669.2" width="25.2" height="4" fill="#F4C8F4"/>
<rect x="218.4" y="673" width="25.2" height="4" fill="#FBEBFB"/>
<rect x="218.4" y="676.8" width="25.2" height="4" fill="#FBE8FB"/>
<rect x="218.4" y="680.5" width="25.2" height="4" fill="#F6F6F6"/>
<rect x="218.4" y="684.2" width="25.2" height="7.8" fill="#F1F1F1"/>
<rect x="218.4" y="691.8" width="25.2" height="4" fill="#F0F0F0"/>
<rect x="218.4" y="695.5" width="25.2" height="4" fill="#F6F6F6"/>
<rect x="218.4" y="699.2" width="25.2" height="4" fill="#F7F7F7"/>
<rect x="218.4" y="703" width="25.2" height="4" fill="#F5F5F5"/>
<rect x="218.4" y="706.8" width="25.2" height="4" fill="#F3F3F3"/>
<rect x="218.4" y="710.5" width="25.2" height="4" fill="#F7F7F7"/>
<rect x="218.4" y="714.2" width="25.2" height="4" fill="#F6F6F6"/>
<rect x="218.4" y="718" width="25.2" height="4" fill="#EEEEEE"/>
<rect x="218.4" y="721.8" width="25.2" height="4" fill="#ECECEC"/>
<rect x="218.4" y="725.5" width="25.2" height="4" fill="#E6E6E6"/>
<rect x="218.4" y="729.2" width="25.2" height="4" fill="#E7E7E7"/>
<rect x="218.4" y="733" width="25.2" height="7.8" fill="#F3F3F3"/>
<rect x="218.4" y="740.5" width="25.2" height="4" fill="#FDFDFD"/>
<rect x="218.4" y="744.2" width="25.2" height="4" fill="#FFFFFF"/>
<rect x="218.4" y="748" width="25.2" height="4" fill="#DCDCDC"/>
<rect x="218.4" y="751.8" width="25.2" height="4" fill="#E1E1E1"/>
<rect x="218.4" y="755.5" width="25.2" height="4" fill="#E4E4E4"/>
<rect x="218.4" y="759.2" width="25.2" height="4" fill="#E5E5E5"/>
<rect x="218.4" y="763" width="25.2" height="4" fill="#EAEAEA"/>
<rect x="218.4" y="766.8" width="25.2" height="4" fill="#E9E9E9"/>
<rect x="218.4" y="770.5" width="25.2" height="4" fill="#EBEBEB"/>
<rect x="218.4" y="774.2" width="25.2" height="4" fill="#E8E8E8"/>
<rect x="218.4" y="778" width="25.2" height="4" fill="#DCDCDC"/>
<rect x="218.4" y="781.8" width="25.2" height="4" fill="#DFDFDF"/>
<rect x="218.4" y="785.5" width="25.2" height="4" fill="#E1E1E1"/>
<rect x="218.4" y="789.2" width="25.2" height="7.8" fill="#E4E4E4"/>
<rect x="218.4" y="796.8" width="25.2" height="4" fill="#E0E0E0"/>
<rect x="218.4" y="800.5" width="25.2" height="4" fill="#F3F3F3"/>
<rect x="218.4" y="804.2" width="25.2" height="4" fill="#F1F1F1"/>
<rect x="218.4" y="808" width="25.2" height="4" fill="#E9E9E9"/>
<rect x="218.4" y="811.8" width="25.2" height="4" fill="#E6E6E6"/>
<line x1="41.3" y1="622" x2="41.3" y2="816.5" stroke="#222" stroke-width="2.4" stroke-dasharray="20.7 6.9"/>
<line x1="244.1" y1="622" x2="244.1" y2="816.5" stroke="#222" stroke-width="2.4" stroke-dasharray="20.7 6.9"/>
<rect x="44.2" y="822" width="25.2" height="4.1" fill="#EBEBEB"/>
<rect x="44.2" y="825.8" width="25.2" height="7.8" fill="#EAEAEA"/>
<rect x="44.2" y="833.3" width="25.2" height="4.1" fill="#EFEFEF"/>
<rect x="44.2" y="837" width="25.2" height="4.1" fill="#EBEBEB"/>
<rect x="44.2" y="840.8" width="25.2" height="4.1" fill="#F2F2F2"/>
<rect x="44.2" y="844.5" width="25.2" height="4.1" fill="#EBEBEB"/>
<rect x="44.2" y="848.3" width="25.2" height="4.1" fill="#F1F1F1"/>
<rect x="44.2" y="852" width="25.2" height="4.1" fill="#EBEBEB"/>
<rect x="44.2" y="855.8" width="25.2" height="4.1" fill="#EAEAEA"/>
<rect x="44.2" y="859.6" width="25.2" height="4.1" fill="#F0F0F0"/>
<rect x="44.2" y="863.3" width="25.2" height="4.1" fill="#ECECEC"/>
<rect x="44.2" y="867.1" width="25.2" height="4.1" fill="#F0F0F0"/>
<rect x="44.2" y="870.8" width="25.2" height="4.1" fill="#EBEBEB"/>
<rect x="44.2" y="874.6" width="25.2" height="4.1" fill="#EAEAEA"/>
<rect x="44.2" y="878.3" width="25.2" height="7.8" fill="#F0F0F0"/>
<rect x="44.2" y="885.9" width="25.2" height="4.1" fill="#F1F1F1"/>
<rect x="44.2" y="889.6" width="25.2" height="4.1" fill="#F0F0F0"/>
<rect x="44.2" y="893.4" width="25.2" height="4.1" fill="#EBEBEB"/>
<rect x="44.2" y="897.1" width="25.2" height="4.1" fill="#EFEFEF"/>
<rect x="44.2" y="900.9" width="25.2" height="4.1" fill="#F0F0F0"/>
<rect x="44.2" y="904.6" width="25.2" height="4.1" fill="#EEEEEE"/>
<rect x="44.2" y="908.4" width="25.2" height="4.1" fill="#F1F1F1"/>
<rect x="44.2" y="912.1" width="25.2" height="4.1" fill="#F2F2F2"/>
<rect x="44.2" y="915.9" width="25.2" height="4.1" fill="#F8F8F8"/>
<rect x="44.2" y="919.7" width="25.2" height="4.1" fill="#F0F0F0"/>
<rect x="44.2" y="923.4" width="25.2" height="4.1" fill="#EAEAEA"/>
<rect x="44.2" y="927.2" width="25.2" height="4.1" fill="#E994E9"/>
<rect x="44.2" y="930.9" width="25.2" height="4.1" fill="#EBA2EB"/>
<rect x="44.2" y="934.7" width="25.2" height="4.1" fill="#F1F1F1"/>
<rect x="44.2" y="938.4" width="25.2" height="4.1" fill="#EBEBEB"/>
<rect x="44.2" y="942.2" width="25.2" height="4.1" fill="#ECECEC"/>
<rect x="44.2" y="945.9" width="25.2" height="4.1" fill="#F0F0F0"/>
<rect x="44.2" y="949.7" width="25.2" height="4.1" fill="#EBEBEB"/>
<rect x="44.2" y="953.5" width="25.2" height="4.1" fill="#F1F1F1"/>
<rect x="44.2" y="957.2" width="25.2" height="4.1" fill="#EEEEEE"/>
<rect x="44.2" y="961" width="25.2" height="4.1" fill="#EAEAEA"/>
<rect x="44.2" y="964.7" width="25.2" height="4.1" fill="#EDEDED"/>
<rect x="44.2" y="968.5" width="25.2" height="4.1" fill="#EFEFEF"/>
<rect x="44.2" y="972.2" width="25.2" height="4.1" fill="#EEEEEE"/>
<rect x="44.2" y="976" width="25.2" height="4.1" fill="#EFEFEF"/>
<rect x="44.2" y="979.8" width="25.2" height="4.1" fill="#E5E5E5"/>
<rect x="44.2" y="983.5" width="25.2" height="4.1" fill="#EAEAEA"/>
<rect x="44.2" y="987.3" width="25.2" height="4.1" fill="#EDEDED"/>
<rect x="44.2" y="991" width="25.2" height="7.8" fill="#EFEFEF"/>
<rect x="44.2" y="998.5" width="25.2" height="4.1" fill="#EDEDED"/>
<rect x="44.2" y="1002.3" width="25.2" height="4.1" fill="#CC00CC"/>
<rect x="44.2" y="1006" width="25.2" height="4.1" fill="#CE0CCE"/>
<rect x="69.1" y="822" width="25.2" height="4.1" fill="#F2F2F2"/>
<rect x="69.1" y="825.8" width="25.2" height="4.1" fill="#F0F0F0"/>
<rect x="69.1" y="829.5" width="25.2" height="4.1" fill="#EFEFEF"/>
<rect x="69.1" y="833.3" width="25.2" height="4.1" fill="#ECECEC"/>
<rect x="69.1" y="837" width="25.2" height="4.1" fill="#F8F8F8"/>
<rect x="69.1" y="840.8" width="25.2" height="4.1" fill="#FFFFFF"/>
<rect x="69.1" y="844.5" width="25.2" height="4.1" fill="#F0F0F0"/>
<rect x="69.1" y="848.3" width="25.2" height="4.1" fill="#F1F1F1"/>
<rect x="69.1" y="852" width="25.2" height="4.1" fill="#EDEDED"/>
<rect x="69.1" y="855.8" width="25.2" height="4.1" fill="#EFEFEF"/>
<rect x="69.1" y="859.6" width="25.2" height="4.1" fill="#F2F2F2"/>
<rect x="69.1" y="863.3" width="25.2" height="4.1" fill="#F1F1F1"/>
<rect x="69.1" y="867.1" width="25.2" height="4.1" fill="#EFEFEF"/>
<rect x="69.1" y="870.8" width="25.2" height="4.1" fill="#ECECEC"/>
<rect x="69.1" y="874.6" width="25.2" height="4.1" fill="#EDEDED"/>
<rect x="69.1" y="878.3" width="25.2" height="4.1" fill="#F1F1F1"/>
<rect x="69.1" y="882.1" width="25.2" height="4.1" fill="#EDEDED"/>
<rect x="69.1" y="885.9" width="25.2" height="7.8" fill="#EFEFEF"/>
<rect x="69.1" y="893.4" width="25.2" height="4.1" fill="#F1F1F1"/>
<rect x="69.1" y="897.1" width="25.2" height="4.1" fill="#F0F0F0"/>
<rect x="69.1" y="900.9" width="25.2" height="4.1" fill="#ECECEC"/>
<rect x="69.1" y="904.6" width="25.2" height="4.1" fill="#EAEAEA"/>
<rect x="69.1" y="908.4" width="25.2" height="4.1" fill="#ECECEC"/>
<rect x="69.1" y="912.1" width="25.2" height="4.1" fill="#EDEDED"/>
<rect x="69.1" y="915.9" width="25.2" height="4.1" fill="#EFEFEF"/>
<rect x="69.1" y="919.7" width="25.2" height="7.8" fill="#FBEBFB"/>
<rect x="69.1" y="927.2" width="25.2" height="4.1" fill="#EAEAEA"/>
<rect x="69.1" y="930.9" width="25.2" height="4.1" fill="#F1F1F1"/>
<rect x="69.1" y="934.7" width="25.2" height="4.1" fill="#F0F0F0"/>
<rect x="69.1" y="938.4" width="25.2" height="4.1" fill="#F1F1F1"/>
<rect x="69.1" y="942.2" width="25.2" height="4.1" fill="#EFEFEF"/>
<rect x="69.1" y="945.9" width="25.2" height="4.1" fill="#ECECEC"/>
<rect x="69.1" y="949.7" width="25.2" height="4.1" fill="#F1F1F1"/>
<rect x="69.1" y="953.5" width="25.2" height="4.1" fill="#F0F0F0"/>
<rect x="69.1" y="957.2" width="25.2" height="4.1" fill="#EFEFEF"/>
<rect x="69.1" y="961" width="25.2" height="4.1" fill="#F1F1F1"/>
<rect x="69.1" y="964.7" width="25.2" height="4.1" fill="#EDEDED"/>
<rect x="69.1" y="968.5" width="25.2" height="4.1" fill="#EBEBEB"/>
<rect x="69.1" y="972.2" width="25.2" height="4.1" fill="#EEEEEE"/>
<rect x="69.1" y="976" width="25.2" height="4.1" fill="#F0F0F0"/>
<rect x="69.1" y="979.8" width="25.2" height="4.1" fill="#FAFAFA"/>
<rect x="69.1" y="983.5" width="25.2" height="4.1" fill="#FEFEFE"/>
<rect x="69.1" y="987.3" width="25.2" height="4.1" fill="#F1F1F1"/>
<rect x="69.1" y="991" width="25.2" height="4.1" fill="#ECECEC"/>
<rect x="69.1" y="994.8" width="25.2" height="7.8" fill="#EFEFEF"/>
<rect x="69.1" y="1002.3" width="25.2" height="4.1" fill="#F6D1F6"/>
<rect x="69.1" y="1006" width="25.2" height="4.1" fill="#F4C8F4"/>
<rect x="94" y="822" width="25.2" height="4.1" fill="#FAFAFA"/>
<rect x="94" y="825.8" width="25.2" height="4.1" fill="#FEFEFE"/>
<rect x="94" y="829.5" width="25.2" height="4.1" fill="#F6D4F6"/>
<rect x="94" y="833.3" width="25.2" height="4.1" fill="#F6D1F6"/>
<rect x="94" y="837" width="25.2" height="4.1" fill="#EEACEE"/>
<rect x="94" y="840.8" width="25.2" height="7.8" fill="#F1BBF1"/>
<rect x="94" y="848.3" width="25.2" height="4.1" fill="#EEB0EE"/>
<rect x="94" y="852" width="25.2" height="4.1" fill="#E88AE8"/>
<rect x="94" y="855.8" width="25.2" height="4.1" fill="#E990E9"/>
<rect x="94" y="859.6" width="25.2" height="4.1" fill="#E279E2"/>
<rect x="94" y="863.3" width="25.2" height="4.1" fill="#E071E0"/>
<rect x="94" y="867.1" width="25.2" height="4.1" fill="#E070E0"/>
<rect x="94" y="870.8" width="25.2" height="4.1" fill="#E072E0"/>
<rect x="94" y="874.6" width="25.2" height="7.8" fill="#D42ED4"/>
<rect x="94" y="882.1" width="25.2" height="4.1" fill="#F9DEF9"/>
<rect x="94" y="885.9" width="25.2" height="4.1" fill="#FBEBFB"/>
<rect x="94" y="889.6" width="25.2" height="4.1" fill="#F5CDF5"/>
<rect x="94" y="893.4" width="25.2" height="4.1" fill="#F6D2F6"/>
<rect x="94" y="897.1" width="25.2" height="4.1" fill="#F3F3F3"/>
<rect x="94" y="900.9" width="25.2" height="4.1" fill="#F4F4F4"/>
<rect x="94" y="904.6" width="25.2" height="4.1" fill="#F4C6F4"/>
<rect x="94" y="908.4" width="25.2" height="4.1" fill="#F3C3F3"/>
<rect x="94" y="912.1" width="25.2" height="4.1" fill="#F1BEF1"/>
<rect x="94" y="915.9" width="25.2" height="4.1" fill="#EFB4EF"/>
<rect x="94" y="919.7" width="25.2" height="4.1" fill="#F9F9F9"/>
<rect x="94" y="923.4" width="25.2" height="4.1" fill="#FDFDFD"/>
<rect x="94" y="927.2" width="25.2" height="4.1" fill="#ECA4EC"/>
<rect x="94" y="930.9" width="25.2" height="4.1" fill="#E997E9"/>
<rect x="94" y="934.7" width="25.2" height="4.1" fill="#F0B9F0"/>
<rect x="94" y="938.4" width="25.2" height="4.1" fill="#EFB3EF"/>
<rect x="94" y="942.2" width="25.2" height="4.1" fill="#EEEEEE"/>
<rect x="94" y="945.9" width="25.2" height="4.1" fill="#EAEAEA"/>
<rect x="94" y="949.7" width="25.2" height="4.1" fill="#F0F0F0"/>
<rect x="94" y="953.5" width="25.2" height="4.1" fill="#F8F8F8"/>
<rect x="94" y="957.2" width="25.2" height="4.1" fill="#F7F7F7"/>
<rect x="94" y="961" width="25.2" height="4.1" fill="#F4F4F4"/>
<rect x="94" y="964.7" width="25.2" height="4.1" fill="#F5F5F5"/>
<rect x="94" y="968.5" width="25.2" height="4.1" fill="#F2F2F2"/>
<rect x="94" y="972.2" width="25.2" height="4.1" fill="#E2E2E2"/>
<rect x="94" y="976" width="25.2" height="4.1" fill="#DFDFDF"/>
<rect x="94" y="979.8" width="25.2" height="4.1" fill="#ECECEC"/>
<rect x="94" y="983.5" width="25.2" height="4.1" fill="#EAEAEA"/>
<rect x="94" y="987.3" width="25.2" height="4.1" fill="#EBEBEB"/>
<rect x="94" y="991" width="25.2" height="4.1" fill="#ECECEC"/>
<rect x="94" y="994.8" width="25.2" height="4.1" fill="#D4D4D4"/>
<rect x="94" y="998.5" width="25.2" height="4.1" fill="#D2D2D2"/>
<rect x="94" y="1002.3" width="25.2" height="7.8" fill="#EEAFEE"/>
<rect x="118.9" y="822" width="25.2" height="4.1" fill="#E5E5E5"/>
<rect x="118.9" y="825.8" width="25.2" height="4.1" fill="#E4E4E4"/>
<rect x="118.9" y="829.5" width="25.2" height="4.1" fill="#E8E8E8"/>
<rect x="118.9" y="833.3" width="25.2" height="4.1" fill="#EBEBEB"/>
<rect x="118.9" y="837" width="25.2" height="4.1" fill="#E8E8E8"/>
<rect x="118.9" y="840.8" width="25.2" height="4.1" fill="#ECECEC"/>
<rect x="118.9" y="844.5" width="25.2" height="4.1" fill="#EBEBEB"/>
<rect x="118.9" y="848.3" width="25.2" height="4.1" fill="#E5E5E5"/>
<rect x="118.9" y="852" width="25.2" height="4.1" fill="#F5F5F5"/>
<rect x="118.9" y="855.8" width="25.2" height="4.1" fill="#F3F3F3"/>
<rect x="118.9" y="859.6" width="25.2" height="4.1" fill="#E5E5E5"/>
<rect x="118.9" y="863.3" width="25.2" height="4.1" fill="#ECECEC"/>
<rect x="118.9" y="867.1" width="25.2" height="4.1" fill="#E6E6E6"/>
<rect x="118.9" y="870.8" width="25.2" height="7.8" fill="#E9E9E9"/>
<rect x="118.9" y="878.3" width="25.2" height="4.1" fill="#ECECEC"/>
<rect x="118.9" y="882.1" width="25.2" height="4.1" fill="#FDFDFD"/>
<rect x="118.9" y="885.9" width="25.2" height="4.1" fill="#FBFBFB"/>
<rect x="118.9" y="889.6" width="25.2" height="4.1" fill="#E8E8E8"/>
<rect x="118.9" y="893.4" width="25.2" height="4.1" fill="#E5E5E5"/>
<rect x="118.9" y="897.1" width="25.2" height="7.8" fill="#ECECEC"/>
<rect x="118.9" y="904.6" width="25.2" height="4.1" fill="#E6E6E6"/>
<rect x="118.9" y="908.4" width="25.2" height="4.1" fill="#E4E4E4"/>
<rect x="118.9" y="912.1" width="25.2" height="4.1" fill="#F2F2F2"/>
<rect x="118.9" y="915.9" width="25.2" height="4.1" fill="#F3F3F3"/>
<rect x="118.9" y="919.7" width="25.2" height="7.8" fill="#FBEBFB"/>
<rect x="118.9" y="927.2" width="25.2" height="4.1" fill="#F1F1F1"/>
<rect x="118.9" y="930.9" width="25.2" height="4.1" fill="#EAEAEA"/>
<rect x="118.9" y="934.7" width="25.2" height="7.8" fill="#F0F0F0"/>
<rect x="118.9" y="942.2" width="25.2" height="4.1" fill="#E9E9E9"/>
<rect x="118.9" y="945.9" width="25.2" height="4.1" fill="#ECECEC"/>
<rect x="118.9" y="949.7" width="25.2" height="4.1" fill="#E4E4E4"/>
<rect x="118.9" y="953.5" width="25.2" height="4.1" fill="#E5E5E5"/>
<rect x="118.9" y="957.2" width="25.2" height="4.1" fill="#EAEAEA"/>
<rect x="118.9" y="961" width="25.2" height="4.1" fill="#ECECEC"/>
<rect x="118.9" y="964.7" width="25.2" height="4.1" fill="#FDFDFD"/>
<rect x="118.9" y="968.5" width="25.2" height="4.1" fill="#FAFAFA"/>
<rect x="118.9" y="972.2" width="25.2" height="4.1" fill="#E9E9E9"/>
<rect x="118.9" y="976" width="25.2" height="4.1" fill="#EAEAEA"/>
<rect x="118.9" y="979.8" width="25.2" height="4.1" fill="#EBEBEB"/>
<rect x="118.9" y="983.5" width="25.2" height="4.1" fill="#EDEDED"/>
<rect x="118.9" y="987.3" width="25.2" height="4.1" fill="#E6E6E6"/>
<rect x="118.9" y="991" width="25.2" height="4.1" fill="#E5E5E5"/>
<rect x="118.9" y="994.8" width="25.2" height="4.1" fill="#EEEEEE"/>
<rect x="118.9" y="998.5" width="25.2" height="4.1" fill="#EBEBEB"/>
<rect x="118.9" y="1002.3" width="25.2" height="4.1" fill="#ECECEC"/>
<rect x="118.9" y="1006" width="25.2" height="4.1" fill="#EBEBEB"/>
<rect x="143.8" y="822" width="25.2" height="4.1" fill="#F6D3F6"/>
<rect x="143.8" y="825.8" width="25.2" height="4.1" fill="#F3C2F3"/>
<rect x="143.8" y="829.5" width="25.2" height="4.1" fill="#E98CE9"/>
<rect x="143.8" y="833.3" width="25.2" height="4.1" fill="#E781E7"/>
<rect x="143.8" y="837" width="25.2" height="4.1" fill="#F3C2F3"/>
<rect x="143.8" y="840.8" width="25.2" height="4.1" fill="#F7D5F7"/>
<rect x="143.8" y="844.5" width="25.2" height="4.1" fill="#F4C9F4"/>
<rect x="143.8" y="848.3" width="25.2" height="4.1" fill="#F7D5F7"/>
<rect x="143.8" y="852" width="25.2" height="7.8" fill="#FBEBFB"/>
<rect x="143.8" y="859.6" width="25.2" height="4.1" fill="#EEADEE"/>
<rect x="143.8" y="863.3" width="25.2" height="4.1" fill="#F0B6F0"/>
<rect x="143.8" y="867.1" width="25.2" height="4.1" fill="#F8DBF8"/>
<rect x="143.8" y="870.8" width="25.2" height="4.1" fill="#FBEBFB"/>
<rect x="143.8" y="874.6" width="25.2" height="4.1" fill="#DC5ADC"/>
<rect x="143.8" y="878.3" width="25.2" height="4.1" fill="#DB54DB"/>
<rect x="143.8" y="882.1" width="25.2" height="4.1" fill="#F0B7F0"/>
<rect x="143.8" y="885.9" width="25.2" height="4.1" fill="#EFB3EF"/>
<rect x="143.8" y="889.6" width="25.2" height="4.1" fill="#F1BCF1"/>
<rect x="143.8" y="893.4" width="25.2" height="4.1" fill="#F0B7F0"/>
<rect x="143.8" y="897.1" width="25.2" height="4.1" fill="#F0B9F0"/>
<rect x="143.8" y="900.9" width="25.2" height="4.1" fill="#EEADEE"/>
<rect x="143.8" y="904.6" width="25.2" height="4.1" fill="#EA99EA"/>
<rect x="143.8" y="908.4" width="25.2" height="4.1" fill="#E995E9"/>
<rect x="143.8" y="912.1" width="25.2" height="4.1" fill="#F6D4F6"/>
<rect x="143.8" y="915.9" width="25.2" height="4.1" fill="#F6D2F6"/>
<rect x="143.8" y="919.7" width="25.2" height="4.1" fill="#DF6ADF"/>
<rect x="143.8" y="923.4" width="25.2" height="4.1" fill="#E278E2"/>
<rect x="143.8" y="927.2" width="25.2" height="4.1" fill="#EFB1EF"/>
<rect x="143.8" y="930.9" width="25.2" height="4.1" fill="#EFB5EF"/>
<rect x="143.8" y="934.7" width="25.2" height="4.1" fill="#DF6ADF"/>
<rect x="143.8" y="938.4" width="25.2" height="4.1" fill="#DF6CDF"/>
<rect x="143.8" y="942.2" width="25.2" height="4.1" fill="#E278E2"/>
<rect x="143.8" y="945.9" width="25.2" height="4.1" fill="#DF6DDF"/>
<rect x="143.8" y="949.7" width="25.2" height="4.1" fill="#F4C7F4"/>
<rect x="143.8" y="953.5" width="25.2" height="4.1" fill="#F6D2F6"/>
<rect x="143.8" y="957.2" width="25.2" height="4.1" fill="#F5CCF5"/>
<rect x="143.8" y="961" width="25.2" height="4.1" fill="#F7D5F7"/>
<rect x="143.8" y="964.7" width="25.2" height="4.1" fill="#F8DCF8"/>
<rect x="143.8" y="968.5" width="25.2" height="4.1" fill="#FBECFB"/>
<rect x="143.8" y="972.2" width="25.2" height="4.1" fill="#F8D9F8"/>
<rect x="143.8" y="976" width="25.2" height="4.1" fill="#FBEBFB"/>
<rect x="143.8" y="979.8" width="25.2" height="4.1" fill="#E174E1"/>
<rect x="143.8" y="983.5" width="25.2" height="4.1" fill="#DF6BDF"/>
<rect x="143.8" y="987.3" width="25.2" height="4.1" fill="#F0B7F0"/>
<rect x="143.8" y="991" width="25.2" height="4.1" fill="#EFB2EF"/>
<rect x="143.8" y="994.8" width="25.2" height="4.1" fill="#DF6CDF"/>
<rect x="143.8" y="998.5" width="25.2" height="4.1" fill="#DF6BDF"/>
<rect x="143.8" y="1002.3" width="25.2" height="4.1" fill="#F5CDF5"/>
<rect x="143.8" y="1006" width="25.2" height="4.1" fill="#F7D6F7"/>
<rect x="168.7" y="822" width="25.2" height="4.1" fill="#F8F8F8"/>
<rect x="168.7" y="825.8" width="25.2" height="4.1" fill="#F7F7F7"/>
<rect x="168.7" y="829.5" width="25.2" height="4.1" fill="#F3C4F3"/>
<rect x="168.7" y="833.3" width="25.2" height="4.1" fill="#F5CBF5"/>
<rect x="168.7" y="837" width="25.2" height="4.1" fill="#F1F1F1"/>
<rect x="168.7" y="840.8" width="25.2" height="4.1" fill="#EAEAEA"/>
<rect x="168.7" y="844.5" width="25.2" height="4.1" fill="#F0F0F0"/>
<rect x="168.7" y="848.3" width="25.2" height="4.1" fill="#ECECEC"/>
<rect x="168.7" y="852" width="25.2" height="4.1" fill="#F2F2F2"/>
<rect x="168.7" y="855.8" width="25.2" height="4.1" fill="#EAEAEA"/>
<rect x="168.7" y="859.6" width="25.2" height="4.1" fill="#F6D4F6"/>
<rect x="168.7" y="863.3" width="25.2" height="4.1" fill="#F5CDF5"/>
<rect x="168.7" y="867.1" width="25.2" height="4.1" fill="#F4C6F4"/>
<rect x="168.7" y="870.8" width="25.2" height="4.1" fill="#F3C1F3"/>
<rect x="168.7" y="874.6" width="25.2" height="4.1" fill="#E98EE9"/>
<rect x="168.7" y="878.3" width="25.2" height="4.1" fill="#E889E8"/>
<rect x="168.7" y="882.1" width="25.2" height="4.1" fill="#EEAFEE"/>
<rect x="168.7" y="885.9" width="25.2" height="4.1" fill="#F0B6F0"/>
<rect x="168.7" y="889.6" width="25.2" height="4.1" fill="#F7D5F7"/>
<rect x="168.7" y="893.4" width="25.2" height="4.1" fill="#F4C9F4"/>
<rect x="168.7" y="897.1" width="25.2" height="4.1" fill="#EBA1EB"/>
<rect x="168.7" y="900.9" width="25.2" height="4.1" fill="#E997E9"/>
<rect x="168.7" y="904.6" width="25.2" height="4.1" fill="#E998E9"/>
<rect x="168.7" y="908.4" width="25.2" height="4.1" fill="#ECA4EC"/>
<rect x="168.7" y="912.1" width="25.2" height="4.1" fill="#E2E2E2"/>
<rect x="168.7" y="915.9" width="25.2" height="4.1" fill="#DEDEDE"/>
<rect x="168.7" y="919.7" width="25.2" height="7.8" fill="#DDDDDD"/>
<rect x="168.7" y="927.2" width="25.2" height="4.1" fill="#E1E1E1"/>
<rect x="168.7" y="930.9" width="25.2" height="4.1" fill="#E0E0E0"/>
<rect x="168.7" y="934.7" width="25.2" height="7.8" fill="#DEDEDE"/>
<rect x="168.7" y="942.2" width="25.2" height="4.1" fill="#EFEFEF"/>
<rect x="168.7" y="945.9" width="25.2" height="7.8" fill="#F0F0F0"/>
<rect x="168.7" y="953.5" width="25.2" height="4.1" fill="#EFEFEF"/>
<rect x="168.7" y="957.2" width="25.2" height="4.1" fill="#ECECEC"/>
<rect x="168.7" y="961" width="25.2" height="4.1" fill="#EBEBEB"/>
<rect x="168.7" y="964.7" width="25.2" height="4.1" fill="#D8D8D8"/>
<rect x="168.7" y="968.5" width="25.2" height="4.1" fill="#D5D5D5"/>
<rect x="168.7" y="972.2" width="25.2" height="4.1" fill="#D8D8D8"/>
<rect x="168.7" y="976" width="25.2" height="4.1" fill="#D2D2D2"/>
<rect x="168.7" y="979.8" width="25.2" height="4.1" fill="#E2E2E2"/>
<rect x="168.7" y="983.5" width="25.2" height="4.1" fill="#DFDFDF"/>
<rect x="168.7" y="987.3" width="25.2" height="7.8" fill="#EBEBEB"/>
<rect x="168.7" y="994.8" width="25.2" height="4.1" fill="#E0E0E0"/>
<rect x="168.7" y="998.5" width="25.2" height="4.1" fill="#DCDCDC"/>
<rect x="168.7" y="1002.3" width="25.2" height="4.1" fill="#FFFFFF"/>
<rect x="168.7" y="1006" width="25.2" height="4.1" fill="#FCFCFC"/>
<rect x="193.5" y="822" width="25.2" height="4.1" fill="#F7F7F7"/>
<rect x="193.5" y="825.8" width="25.2" height="4.1" fill="#F2F2F2"/>
<rect x="193.5" y="829.5" width="25.2" height="4.1" fill="#F1F1F1"/>
<rect x="193.5" y="833.3" width="25.2" height="4.1" fill="#F7F7F7"/>
<rect x="193.5" y="837" width="25.2" height="4.1" fill="#F3F3F3"/>
<rect x="193.5" y="840.8" width="25.2" height="4.1" fill="#F1F1F1"/>
<rect x="193.5" y="844.5" width="25.2" height="4.1" fill="#F3F3F3"/>
<rect x="193.5" y="848.3" width="25.2" height="4.1" fill="#F5F5F5"/>
<rect x="193.5" y="852" width="25.2" height="4.1" fill="#F0F0F0"/>
<rect x="193.5" y="855.8" width="25.2" height="11.6" fill="#F4F4F4"/>
<rect x="193.5" y="867.1" width="25.2" height="4.1" fill="#F1F1F1"/>
<rect x="193.5" y="870.8" width="25.2" height="4.1" fill="#F6F6F6"/>
<rect x="193.5" y="874.6" width="25.2" height="7.8" fill="#F7F7F7"/>
<rect x="193.5" y="882.1" width="25.2" height="4.1" fill="#DFDFDF"/>
<rect x="193.5" y="885.9" width="25.2" height="4.1" fill="#E2E2E2"/>
<rect x="193.5" y="889.6" width="25.2" height="4.1" fill="#E7E7E7"/>
<rect x="193.5" y="893.4" width="25.2" height="4.1" fill="#EAEAEA"/>
<rect x="193.5" y="897.1" width="25.2" height="4.1" fill="#F0F0F0"/>
<rect x="193.5" y="900.9" width="25.2" height="4.1" fill="#F7F7F7"/>
<rect x="193.5" y="904.6" width="25.2" height="4.1" fill="#F8F8F8"/>
<rect x="193.5" y="908.4" width="25.2" height="15.3" fill="#F4F4F4"/>
<rect x="193.5" y="923.4" width="25.2" height="4.1" fill="#F0F0F0"/>
<rect x="193.5" y="927.2" width="25.2" height="4.1" fill="#F8F8F8"/>
<rect x="193.5" y="930.9" width="25.2" height="4.1" fill="#F2F2F2"/>
<rect x="193.5" y="934.7" width="25.2" height="7.8" fill="#F1F1F1"/>
<rect x="193.5" y="942.2" width="25.2" height="4.1" fill="#F2F2F2"/>
<rect x="193.5" y="945.9" width="25.2" height="4.1" fill="#F7F7F7"/>
<rect x="193.5" y="949.7" width="25.2" height="4.1" fill="#F0F0F0"/>
<rect x="193.5" y="953.5" width="25.2" height="4.1" fill="#F1F1F1"/>
<rect x="193.5" y="957.2" width="25.2" height="4.1" fill="#F6F6F6"/>
<rect x="193.5" y="961" width="25.2" height="4.1" fill="#F2F2F2"/>
<rect x="193.5" y="964.7" width="25.2" height="4.1" fill="#F7D8F7"/>
<rect x="193.5" y="968.5" width="25.2" height="4.1" fill="#FBEAFB"/>
<rect x="193.5" y="972.2" width="25.2" height="4.1" fill="#F5F5F5"/>
<rect x="193.5" y="976" width="25.2" height="4.1" fill="#F4F4F4"/>
<rect x="193.5" y="979.8" width="25.2" height="4.1" fill="#F6F6F6"/>
<rect x="193.5" y="983.5" width="25.2" height="4.1" fill="#F1F1F1"/>
<rect x="193.5" y="987.3" width="25.2" height="4.1" fill="#F7F7F7"/>
<rect x="193.5" y="991" width="25.2" height="4.1" fill="#F6F6F6"/>
<rect x="193.5" y="994.8" width="25.2" height="4.1" fill="#F0F0F0"/>
<rect x="193.5" y="998.5" width="25.2" height="4.1" fill="#F1F1F1"/>
<rect x="193.5" y="1002.3" width="25.2" height="7.8" fill="#EBA0EB"/>
<rect x="218.4" y="822" width="25.2" height="4.1" fill="#F2F2F2"/>
<rect x="218.4" y="825.8" width="25.2" height="4.1" fill="#F1F1F1"/>
<rect x="218.4" y="829.5" width="25.2" height="4.1" fill="#EDEDED"/>
<rect x="218.4" y="833.3" width="25.2" height="4.1" fill="#EBEBEB"/>
<rect x="218.4" y="837" width="25.2" height="4.1" fill="#F5F5F5"/>
<rect x="218.4" y="840.8" width="25.2" height="4.1" fill="#F7F7F7"/>
<rect x="218.4" y="844.5" width="25.2" height="4.1" fill="#F1F1F1"/>
<rect x="218.4" y="848.3" width="25.2" height="4.1" fill="#F5F5F5"/>
<rect x="218.4" y="852" width="25.2" height="4.1" fill="#F0F0F0"/>
<rect x="218.4" y="855.8" width="25.2" height="4.1" fill="#EBEBEB"/>
<rect x="218.4" y="859.6" width="25.2" height="4.1" fill="#F7F7F7"/>
<rect x="218.4" y="863.3" width="25.2" height="4.1" fill="#F8F8F8"/>
<rect x="218.4" y="867.1" width="25.2" height="7.8" fill="#EDEDED"/>
<rect x="218.4" y="874.6" width="25.2" height="4.1" fill="#F7F7F7"/>
<rect x="218.4" y="878.3" width="25.2" height="4.1" fill="#F4F4F4"/>
<rect x="218.4" y="882.1" width="25.2" height="4.1" fill="#F3F3F3"/>
<rect x="218.4" y="885.9" width="25.2" height="4.1" fill="#F8F8F8"/>
<rect x="218.4" y="889.6" width="25.2" height="4.1" fill="#EAEAEA"/>
<rect x="218.4" y="893.4" width="25.2" height="4.1" fill="#E7E7E7"/>
<rect x="218.4" y="897.1" width="25.2" height="4.1" fill="#F2F2F2"/>
<rect x="218.4" y="900.9" width="25.2" height="4.1" fill="#F3F3F3"/>
<rect x="218.4" y="904.6" width="25.2" height="4.1" fill="#D430D4"/>
<rect x="218.4" y="908.4" width="25.2" height="4.1" fill="#D740D7"/>
<rect x="218.4" y="912.1" width="25.2" height="4.1" fill="#DC59DC"/>
<rect x="218.4" y="915.9" width="25.2" height="4.1" fill="#DC5CDC"/>
<rect x="218.4" y="919.7" width="25.2" height="7.8" fill="#F7F7F7"/>
<rect x="218.4" y="927.2" width="25.2" height="4.1" fill="#F0F0F0"/>
<rect x="218.4" y="930.9" width="25.2" height="4.1" fill="#F4F4F4"/>
<rect x="218.4" y="934.7" width="25.2" height="4.1" fill="#F8F8F8"/>
<rect x="218.4" y="938.4" width="25.2" height="4.1" fill="#F7F7F7"/>
<rect x="218.4" y="942.2" width="25.2" height="4.1" fill="#F2F2F2"/>
<rect x="218.4" y="945.9" width="25.2" height="4.1" fill="#F3F3F3"/>
<rect x="218.4" y="949.7" width="25.2" height="4.1" fill="#F5F5F5"/>
<rect x="218.4" y="953.5" width="25.2" height="4.1" fill="#F3F3F3"/>
<rect x="218.4" y="957.2" width="25.2" height="4.1" fill="#F4F4F4"/>
<rect x="218.4" y="961" width="25.2" height="4.1" fill="#F1F1F1"/>
<rect x="218.4" y="964.7" width="25.2" height="4.1" fill="#F3F3F3"/>
<rect x="218.4" y="968.5" width="25.2" height="4.1" fill="#F4F4F4"/>
<rect x="218.4" y="972.2" width="25.2" height="4.1" fill="#F0F0F0"/>
<rect x="218.4" y="976" width="25.2" height="4.1" fill="#F1F1F1"/>
<rect x="218.4" y="979.8" width="25.2" height="4.1" fill="#F8F8F8"/>
<rect x="218.4" y="983.5" width="25.2" height="4.1" fill="#F6F6F6"/>
<rect x="218.4" y="987.3" width="25.2" height="4.1" fill="#F7F7F7"/>
<rect x="218.4" y="991" width="25.2" height="4.1" fill="#F5F5F5"/>
<rect x="218.4" y="994.8" width="25.2" height="4.1" fill="#F0F0F0"/>
<rect x="218.4" y="998.5" width="25.2" height="4.1" fill="#F1F1F1"/>
<rect x="218.4" y="1002.3" width="25.2" height="4.1" fill="#EBEBEB"/>
<rect x="218.4" y="1006" width="25.2" height="4.1" fill="#E4E4E4"/>
<line x1="41.3" y1="816.5" x2="41.3" y2="1010.8" stroke="#222" stroke-width="2.4" stroke-dasharray="20.7 6.9"/>
<line x1="244.1" y1="816.5" x2="244.1" y2="1010.8" stroke="#222" stroke-width="2.4" stroke-dasharray="20.7 6.9"/>
<rect x="44.2" y="1016.1" width="25.2" height="4.1" fill="#EFEFEF"/>
<rect x="44.2" y="1019.9" width="25.2" height="4.1" fill="#ECECEC"/>
<rect x="44.2" y="1023.6" width="25.2" height="4.1" fill="#EFEFEF"/>
<rect x="44.2" y="1027.4" width="25.2" height="4.1" fill="#ECECEC"/>
<rect x="44.2" y="1031.2" width="25.2" height="4.1" fill="#EEEEEE"/>
<rect x="44.2" y="1034.9" width="25.2" height="4.1" fill="#F1F1F1"/>
<rect x="44.2" y="1038.7" width="25.2" height="4.1" fill="#EFEFEF"/>
<rect x="44.2" y="1042.5" width="25.2" height="4.1" fill="#ECECEC"/>
<rect x="44.2" y="1046.2" width="25.2" height="4.1" fill="#FBEAFB"/>
<rect x="44.2" y="1050" width="25.2" height="4.1" fill="#FBE8FB"/>
<rect x="44.2" y="1053.8" width="25.2" height="4.1" fill="#E4E4E4"/>
<rect x="44.2" y="1057.5" width="25.2" height="4.1" fill="#DEDEDE"/>
<rect x="44.2" y="1061.3" width="25.2" height="4.1" fill="#ECECEC"/>
<rect x="44.2" y="1065.1" width="25.2" height="4.1" fill="#EFEFEF"/>
<rect x="44.2" y="1068.9" width="25.2" height="4.1" fill="#E5E5E5"/>
<rect x="44.2" y="1072.6" width="25.2" height="4.1" fill="#E9E9E9"/>
<rect x="44.2" y="1076.4" width="25.2" height="4.1" fill="#F2F2F2"/>
<rect x="44.2" y="1080.2" width="25.2" height="4.1" fill="#EEEEEE"/>
<rect x="44.2" y="1083.9" width="25.2" height="4.1" fill="#F9E1F9"/>
<rect x="44.2" y="1087.7" width="25.2" height="4.1" fill="#FBE9FB"/>
<rect x="44.2" y="1091.5" width="25.2" height="4.1" fill="#EEEEEE"/>
<rect x="44.2" y="1095.2" width="25.2" height="11.6" fill="#EBEBEB"/>
<rect x="44.2" y="1106.5" width="25.2" height="4.1" fill="#ECECEC"/>
<rect x="44.2" y="1110.3" width="25.2" height="4.1" fill="#EDEDED"/>
<rect x="44.2" y="1114.1" width="25.2" height="7.8" fill="#ECECEC"/>
<rect x="44.2" y="1121.6" width="25.2" height="4.1" fill="#EBEBEB"/>
<rect x="44.2" y="1125.4" width="25.2" height="4.1" fill="#EEEEEE"/>
<rect x="44.2" y="1129.1" width="25.2" height="4.1" fill="#EBEBEB"/>
<rect x="44.2" y="1132.9" width="25.2" height="11.6" fill="#E9E9E9"/>
<rect x="44.2" y="1144.2" width="25.2" height="4.1" fill="#ECECEC"/>
<rect x="44.2" y="1148" width="25.2" height="4.1" fill="#F0F0F0"/>
<rect x="44.2" y="1151.7" width="25.2" height="7.8" fill="#EEEEEE"/>
<rect x="44.2" y="1159.3" width="25.2" height="4.1" fill="#EFEFEF"/>
<rect x="44.2" y="1163.1" width="25.2" height="4.1" fill="#EEEEEE"/>
<rect x="44.2" y="1166.8" width="25.2" height="11.6" fill="#ECECEC"/>
<rect x="44.2" y="1178.1" width="25.2" height="4.1" fill="#EEEEEE"/>
<rect x="44.2" y="1181.9" width="25.2" height="4.1" fill="#EDEDED"/>
<rect x="44.2" y="1185.7" width="25.2" height="4.1" fill="#EFEFEF"/>
<rect x="44.2" y="1189.4" width="25.2" height="4.1" fill="#EAEAEA"/>
<rect x="44.2" y="1193.2" width="25.2" height="4.1" fill="#EDEDED"/>
<rect x="44.2" y="1197" width="25.2" height="4.1" fill="#F1BCF1"/>
<rect x="44.2" y="1200.7" width="25.2" height="4.1" fill="#EEB0EE"/>
<rect x="69.1" y="1016.1" width="25.2" height="7.8" fill="#EEEEEE"/>
<rect x="69.1" y="1023.6" width="25.2" height="4.1" fill="#ECECEC"/>
<rect x="69.1" y="1027.4" width="25.2" height="4.1" fill="#F2F2F2"/>
<rect x="69.1" y="1031.2" width="25.2" height="4.1" fill="#ECECEC"/>
<rect x="69.1" y="1034.9" width="25.2" height="4.1" fill="#F0F0F0"/>
<rect x="69.1" y="1038.7" width="25.2" height="7.8" fill="#EBEBEB"/>
<rect x="69.1" y="1046.2" width="25.2" height="4.1" fill="#FFFFFF"/>
<rect x="69.1" y="1050" width="25.2" height="4.1" fill="#FCFCFC"/>
<rect x="69.1" y="1053.8" width="25.2" height="4.1" fill="#EAEAEA"/>
<rect x="69.1" y="1057.5" width="25.2" height="4.1" fill="#EDEDED"/>
<rect x="69.1" y="1061.3" width="25.2" height="4.1" fill="#EEEEEE"/>
<rect x="69.1" y="1065.1" width="25.2" height="4.1" fill="#F0F0F0"/>
<rect x="69.1" y="1068.9" width="25.2" height="4.1" fill="#EBEBEB"/>
<rect x="69.1" y="1072.6" width="25.2" height="4.1" fill="#ECECEC"/>
<rect x="69.1" y="1076.4" width="25.2" height="4.1" fill="#F2F2F2"/>
<rect x="69.1" y="1080.2" width="25.2" height="4.1" fill="#F0F0F0"/>
<rect x="69.1" y="1083.9" width="25.2" height="4.1" fill="#EBEBEB"/>
<rect x="69.1" y="1087.7" width="25.2" height="7.8" fill="#EDEDED"/>
<rect x="69.1" y="1095.2" width="25.2" height="7.8" fill="#EFEFEF"/>
<rect x="69.1" y="1102.8" width="25.2" height="7.8" fill="#F1F1F1"/>
<rect x="69.1" y="1110.3" width="25.2" height="4.1" fill="#EEEEEE"/>
<rect x="69.1" y="1114.1" width="25.2" height="11.6" fill="#F0F0F0"/>
<rect x="69.1" y="1125.4" width="25.2" height="4.1" fill="#EEEEEE"/>
<rect x="69.1" y="1129.1" width="25.2" height="7.8" fill="#F0F0F0"/>
<rect x="69.1" y="1136.7" width="25.2" height="4.1" fill="#F1F1F1"/>
<rect x="69.1" y="1140.4" width="25.2" height="4.1" fill="#EBEBEB"/>
<rect x="69.1" y="1144.2" width="25.2" height="4.1" fill="#F1F1F1"/>
<rect x="69.1" y="1148" width="25.2" height="4.1" fill="#EAEAEA"/>
<rect x="69.1" y="1151.7" width="25.2" height="4.1" fill="#F0F0F0"/>
<rect x="69.1" y="1155.5" width="25.2" height="4.1" fill="#EFEFEF"/>
<rect x="69.1" y="1159.3" width="25.2" height="4.1" fill="#EEEEEE"/>
<rect x="69.1" y="1163.1" width="25.2" height="4.1" fill="#F2F2F2"/>
<rect x="69.1" y="1166.8" width="25.2" height="4.1" fill="#EFEFEF"/>
<rect x="69.1" y="1170.6" width="25.2" height="4.1" fill="#EDEDED"/>
<rect x="69.1" y="1174.4" width="25.2" height="4.1" fill="#F0F0F0"/>
<rect x="69.1" y="1178.1" width="25.2" height="4.1" fill="#F1F1F1"/>
<rect x="69.1" y="1181.9" width="25.2" height="4.1" fill="#FDFDFD"/>
<rect x="69.1" y="1185.7" width="25.2" height="4.1" fill="#FBFBFB"/>
<rect x="69.1" y="1189.4" width="25.2" height="4.1" fill="#F6D0F6"/>
<rect x="69.1" y="1193.2" width="25.2" height="4.1" fill="#F6D1F6"/>
<rect x="69.1" y="1197" width="25.2" height="4.1" fill="#F6D4F6"/>
<rect x="69.1" y="1200.7" width="25.2" height="4.1" fill="#F5CBF5"/>
<rect x="94" y="1016.1" width="25.2" height="4.1" fill="#E886E8"/>
<rect x="94" y="1019.9" width="25.2" height="4.1" fill="#E889E8"/>
<rect x="94" y="1023.6" width="25.2" height="4.1" fill="#FAE6FA"/>
<rect x="94" y="1027.4" width="25.2" height="4.1" fill="#FAE3FA"/>
<rect x="94" y="1031.2" width="25.2" height="4.1" fill="#F1BBF1"/>
<rect x="94" y="1034.9" width="25.2" height="4.1" fill="#F1BCF1"/>
<rect x="94" y="1038.7" width="25.2" height="4.1" fill="#DA50DA"/>
<rect x="94" y="1042.5" width="25.2" height="4.1" fill="#DA4FDA"/>
<rect x="94" y="1046.2" width="25.2" height="4.1" fill="#EEAFEE"/>
<rect x="94" y="1050" width="25.2" height="4.1" fill="#EFB2EF"/>
<rect x="94" y="1053.8" width="25.2" height="4.1" fill="#E997E9"/>
<rect x="94" y="1057.5" width="25.2" height="4.1" fill="#EBA1EB"/>
<rect x="94" y="1061.3" width="25.2" height="4.1" fill="#DA52DA"/>
<rect x="94" y="1065.1" width="25.2" height="4.1" fill="#D94BD9"/>
<rect x="94" y="1068.9" width="25.2" height="4.1" fill="#DC5CDC"/>
<rect x="94" y="1072.6" width="25.2" height="4.1" fill="#DA4EDA"/>
<rect x="94" y="1076.4" width="25.2" height="4.1" fill="#E98FE9"/>
<rect x="94" y="1080.2" width="25.2" height="4.1" fill="#E98EE9"/>
<rect x="94" y="1083.9" width="25.2" height="4.1" fill="#EA91EA"/>
<rect x="94" y="1087.7" width="25.2" height="4.1" fill="#E782E7"/>
<rect x="94" y="1091.5" width="25.2" height="4.1" fill="#F0B6F0"/>
<rect x="94" y="1095.2" width="25.2" height="4.1" fill="#F1BDF1"/>
<rect x="94" y="1099" width="25.2" height="4.1" fill="#EDAAED"/>
<rect x="94" y="1102.8" width="25.2" height="4.1" fill="#EDABED"/>
<rect x="94" y="1106.5" width="25.2" height="4.1" fill="#EBA1EB"/>
<rect x="94" y="1110.3" width="25.2" height="4.1" fill="#EBA0EB"/>
<rect x="94" y="1114.1" width="25.2" height="4.1" fill="#F1BDF1"/>
<rect x="94" y="1117.8" width="25.2" height="4.1" fill="#F1BBF1"/>
<rect x="94" y="1121.6" width="25.2" height="4.1" fill="#EBA1EB"/>
<rect x="94" y="1125.4" width="25.2" height="4.1" fill="#EDA8ED"/>
<rect x="94" y="1129.1" width="25.2" height="7.8" fill="#FCFCFC"/>
<rect x="94" y="1136.7" width="25.2" height="4.1" fill="#FBEBFB"/>
<rect x="94" y="1140.4" width="25.2" height="4.1" fill="#FAE6FA"/>
<rect x="94" y="1144.2" width="25.2" height="4.1" fill="#E785E7"/>
<rect x="94" y="1148" width="25.2" height="4.1" fill="#E88AE8"/>
<rect x="94" y="1151.7" width="25.2" height="4.1" fill="#EA9CEA"/>
<rect x="94" y="1155.5" width="25.2" height="4.1" fill="#ECA7EC"/>
<rect x="94" y="1159.3" width="25.2" height="4.1" fill="#E98BE9"/>
<rect x="94" y="1163.1" width="25.2" height="4.1" fill="#E888E8"/>
<rect x="94" y="1166.8" width="25.2" height="4.1" fill="#E67FE6"/>
<rect x="94" y="1170.6" width="25.2" height="4.1" fill="#E785E7"/>
<rect x="94" y="1174.4" width="25.2" height="4.1" fill="#DA4FDA"/>
<rect x="94" y="1178.1" width="25.2" height="4.1" fill="#DA52DA"/>
<rect x="94" y="1181.9" width="25.2" height="4.1" fill="#E072E0"/>
<rect x="94" y="1185.7" width="25.2" height="4.1" fill="#E279E2"/>
<rect x="94" y="1189.4" width="25.2" height="4.1" fill="#FBECFB"/>
<rect x="94" y="1193.2" width="25.2" height="4.1" fill="#FBEAFB"/>
<rect x="94" y="1197" width="25.2" height="4.1" fill="#F6D0F6"/>
<rect x="94" y="1200.7" width="25.2" height="4.1" fill="#F6D3F6"/>
<rect x="118.9" y="1016.1" width="25.2" height="4.1" fill="#ECECEC"/>
<rect x="118.9" y="1019.9" width="25.2" height="4.1" fill="#E7E7E7"/>
<rect x="118.9" y="1023.6" width="25.2" height="4.1" fill="#E8E8E8"/>
<rect x="118.9" y="1027.4" width="25.2" height="4.1" fill="#EBEBEB"/>
<rect x="118.9" y="1031.2" width="25.2" height="4.1" fill="#E5E5E5"/>
<rect x="118.9" y="1034.9" width="25.2" height="4.1" fill="#E7E7E7"/>
<rect x="118.9" y="1038.7" width="25.2" height="4.1" fill="#ECECEC"/>
<rect x="118.9" y="1042.5" width="25.2" height="4.1" fill="#EBEBEB"/>
<rect x="118.9" y="1046.2" width="25.2" height="4.1" fill="#DA50DA"/>
<rect x="118.9" y="1050" width="25.2" height="4.1" fill="#D94BD9"/>
<rect x="118.9" y="1053.8" width="25.2" height="4.1" fill="#EBEBEB"/>
<rect x="118.9" y="1057.5" width="25.2" height="4.1" fill="#EAEAEA"/>
<rect x="118.9" y="1061.3" width="25.2" height="4.1" fill="#F7F7F7"/>
<rect x="118.9" y="1065.1" width="25.2" height="4.1" fill="#F8F8F8"/>
<rect x="118.9" y="1068.9" width="25.2" height="4.1" fill="#EBEBEB"/>
<rect x="118.9" y="1072.6" width="25.2" height="4.1" fill="#E7E7E7"/>
<rect x="118.9" y="1076.4" width="25.2" height="4.1" fill="#F1F1F1"/>
<rect x="118.9" y="1080.2" width="25.2" height="4.1" fill="#F2F2F2"/>
<rect x="118.9" y="1083.9" width="25.2" height="7.8" fill="#F4F4F4"/>
<rect x="118.9" y="1091.5" width="25.2" height="4.1" fill="#E6E6E6"/>
<rect x="118.9" y="1095.2" width="25.2" height="4.1" fill="#E5E5E5"/>
<rect x="118.9" y="1099" width="25.2" height="7.8" fill="#E9E9E9"/>
<rect x="118.9" y="1106.5" width="25.2" height="4.1" fill="#E7E7E7"/>
<rect x="118.9" y="1110.3" width="25.2" height="4.1" fill="#ECECEC"/>
<rect x="118.9" y="1114.1" width="25.2" height="4.1" fill="#E9E9E9"/>
<rect x="118.9" y="1117.8" width="25.2" height="4.1" fill="#E4E4E4"/>
<rect x="118.9" y="1121.6" width="25.2" height="4.1" fill="#E7E7E7"/>
<rect x="118.9" y="1125.4" width="25.2" height="4.1" fill="#EAEAEA"/>
<rect x="118.9" y="1129.1" width="25.2" height="4.1" fill="#E6E6E6"/>
<rect x="118.9" y="1132.9" width="25.2" height="4.1" fill="#EAEAEA"/>
<rect x="118.9" y="1136.7" width="25.2" height="4.1" fill="#E4E4E4"/>
<rect x="118.9" y="1140.4" width="25.2" height="4.1" fill="#E6E6E6"/>
<rect x="118.9" y="1144.2" width="25.2" height="4.1" fill="#EBEBEB"/>
<rect x="118.9" y="1148" width="25.2" height="7.8" fill="#E9E9E9"/>
<rect x="118.9" y="1155.5" width="25.2" height="4.1" fill="#E6E6E6"/>
<rect x="118.9" y="1159.3" width="25.2" height="7.8" fill="#E8E8E8"/>
<rect x="118.9" y="1166.8" width="25.2" height="4.1" fill="#E6E6E6"/>
<rect x="118.9" y="1170.6" width="25.2" height="4.1" fill="#E9E9E9"/>
<rect x="118.9" y="1174.4" width="25.2" height="4.1" fill="#E8E8E8"/>
<rect x="118.9" y="1178.1" width="25.2" height="4.1" fill="#ECECEC"/>
<rect x="118.9" y="1181.9" width="25.2" height="4.1" fill="#FDFDFD"/>
<rect x="118.9" y="1185.7" width="25.2" height="4.1" fill="#FBFBFB"/>
<rect x="118.9" y="1189.4" width="25.2" height="7.8" fill="#DDDDDD"/>
<rect x="118.9" y="1197" width="25.2" height="4.1" fill="#EAEAEA"/>
<rect x="118.9" y="1200.7" width="25.2" height="4.1" fill="#E5E5E5"/>
<rect x="143.8" y="1016.1" width="25.2" height="4.1" fill="#D32DD3"/>
<rect x="143.8" y="1019.9" width="25.2" height="4.1" fill="#D42DD4"/>
<rect x="143.8" y="1023.6" width="25.2" height="4.1" fill="#F0B8F0"/>
<rect x="143.8" y="1027.4" width="25.2" height="4.1" fill="#F1BCF1"/>
<rect x="143.8" y="1031.2" width="25.2" height="4.1" fill="#F6D3F6"/>
<rect x="143.8" y="1034.9" width="25.2" height="4.1" fill="#F6D4F6"/>
<rect x="143.8" y="1038.7" width="25.2" height="7.8" fill="#F8F8F8"/>
<rect x="143.8" y="1046.2" width="25.2" height="4.1" fill="#E176E1"/>
<rect x="143.8" y="1050" width="25.2" height="4.1" fill="#DF6DDF"/>
<rect x="143.8" y="1053.8" width="25.2" height="4.1" fill="#EAEAEA"/>
<rect x="143.8" y="1057.5" width="25.2" height="4.1" fill="#E7E7E7"/>
<rect x="143.8" y="1061.3" width="25.2" height="4.1" fill="#E5E5E5"/>
<rect x="143.8" y="1065.1" width="25.2" height="4.1" fill="#E6E6E6"/>
<rect x="143.8" y="1068.9" width="25.2" height="4.1" fill="#DDDDDD"/>
<rect x="143.8" y="1072.6" width="25.2" height="4.1" fill="#E3E3E3"/>
<rect x="143.8" y="1076.4" width="25.2" height="4.1" fill="#EFEFEF"/>
<rect x="143.8" y="1080.2" width="25.2" height="4.1" fill="#EDEDED"/>
<rect x="143.8" y="1083.9" width="25.2" height="4.1" fill="#E0E0E0"/>
<rect x="143.8" y="1087.7" width="25.2" height="4.1" fill="#DFDFDF"/>
<rect x="143.8" y="1091.5" width="25.2" height="4.1" fill="#DCDCDC"/>
<rect x="143.8" y="1095.2" width="25.2" height="4.1" fill="#E3E3E3"/>
<rect x="143.8" y="1099" width="25.2" height="4.1" fill="#E1E1E1"/>
<rect x="143.8" y="1102.8" width="25.2" height="4.1" fill="#E4E4E4"/>
<rect x="143.8" y="1106.5" width="25.2" height="4.1" fill="#E0E0E0"/>
<rect x="143.8" y="1110.3" width="25.2" height="4.1" fill="#E1E1E1"/>
<rect x="143.8" y="1114.1" width="25.2" height="4.1" fill="#DEDEDE"/>
<rect x="143.8" y="1117.8" width="25.2" height="4.1" fill="#DCDCDC"/>
<rect x="143.8" y="1121.6" width="25.2" height="7.8" fill="#D9D9D9"/>
<rect x="143.8" y="1129.1" width="25.2" height="4.1" fill="#EDEDED"/>
<rect x="143.8" y="1132.9" width="25.2" height="7.8" fill="#F1F1F1"/>
<rect x="143.8" y="1140.4" width="25.2" height="4.1" fill="#ECECEC"/>
<rect x="143.8" y="1144.2" width="25.2" height="4.1" fill="#EFEFEF"/>
<rect x="143.8" y="1148" width="25.2" height="4.1" fill="#F2F2F2"/>
<rect x="143.8" y="1151.7" width="25.2" height="4.1" fill="#EEEEEE"/>
<rect x="143.8" y="1155.5" width="25.2" height="4.1" fill="#F2F2F2"/>
<rect x="143.8" y="1159.3" width="25.2" height="4.1" fill="#ECECEC"/>
<rect x="143.8" y="1163.1" width="25.2" height="4.1" fill="#EDEDED"/>
<rect x="143.8" y="1166.8" width="25.2" height="4.1" fill="#F0F0F0"/>
<rect x="143.8" y="1170.6" width="25.2" height="4.1" fill="#ECECEC"/>
<rect x="143.8" y="1174.4" width="25.2" height="4.1" fill="#F2F2F2"/>
<rect x="143.8" y="1178.1" width="25.2" height="4.1" fill="#F7F7F7"/>
<rect x="143.8" y="1181.9" width="25.2" height="4.1" fill="#EEEEEE"/>
<rect x="143.8" y="1185.7" width="25.2" height="4.1" fill="#F0F0F0"/>
<rect x="143.8" y="1189.4" width="25.2" height="4.1" fill="#ECECEC"/>
<rect x="143.8" y="1193.2" width="25.2" height="4.1" fill="#EBEBEB"/>
<rect x="143.8" y="1197" width="25.2" height="4.1" fill="#E7E7E7"/>
<rect x="143.8" y="1200.7" width="25.2" height="4.1" fill="#E5E5E5"/>
<rect x="168.7" y="1016.1" width="25.2" height="4.1" fill="#F1BDF1"/>
<rect x="168.7" y="1019.9" width="25.2" height="4.1" fill="#EFB2EF"/>
<rect x="168.7" y="1023.6" width="25.2" height="4.1" fill="#F0B9F0"/>
<rect x="168.7" y="1027.4" width="25.2" height="4.1" fill="#EEADEE"/>
<rect x="168.7" y="1031.2" width="25.2" height="4.1" fill="#EBA1EB"/>
<rect x="168.7" y="1034.9" width="25.2" height="4.1" fill="#EA9DEA"/>
<rect x="168.7" y="1038.7" width="25.2" height="4.1" fill="#EB9EEB"/>
<rect x="168.7" y="1042.5" width="25.2" height="4.1" fill="#E995E9"/>
<rect x="168.7" y="1046.2" width="25.2" height="4.1" fill="#E680E6"/>
<rect x="168.7" y="1050" width="25.2" height="4.1" fill="#E98EE9"/>
<rect x="168.7" y="1053.8" width="25.2" height="4.1" fill="#EFB4EF"/>
<rect x="168.7" y="1057.5" width="25.2" height="4.1" fill="#EFB0EF"/>
<rect x="168.7" y="1061.3" width="25.2" height="4.1" fill="#EEAFEE"/>
<rect x="168.7" y="1065.1" width="25.2" height="4.1" fill="#EFB2EF"/>
<rect x="168.7" y="1068.9" width="25.2" height="4.1" fill="#E782E7"/>
<rect x="168.7" y="1072.6" width="25.2" height="4.1" fill="#E67EE6"/>
<rect x="168.7" y="1076.4" width="25.2" height="4.1" fill="#E174E1"/>
<rect x="168.7" y="1080.2" width="25.2" height="4.1" fill="#DF6DDF"/>
<rect x="168.7" y="1083.9" width="25.2" height="4.1" fill="#E997E9"/>
<rect x="168.7" y="1087.7" width="25.2" height="4.1" fill="#ECA3EC"/>
<rect x="168.7" y="1091.5" width="25.2" height="4.1" fill="#E67FE6"/>
<rect x="168.7" y="1095.2" width="25.2" height="4.1" fill="#E783E7"/>
<rect x="168.7" y="1099" width="25.2" height="4.1" fill="#E98EE9"/>
<rect x="168.7" y="1102.8" width="25.2" height="4.1" fill="#E680E6"/>
<rect x="168.7" y="1106.5" width="25.2" height="4.1" fill="#EB9FEB"/>
<rect x="168.7" y="1110.3" width="25.2" height="7.8" fill="#ECA5EC"/>
<rect x="168.7" y="1117.8" width="25.2" height="4.1" fill="#E997E9"/>
<rect x="168.7" y="1121.6" width="25.2" height="4.1" fill="#EA9CEA"/>
<rect x="168.7" y="1125.4" width="25.2" height="4.1" fill="#ECA3EC"/>
<rect x="168.7" y="1129.1" width="25.2" height="4.1" fill="#EA9DEA"/>
<rect x="168.7" y="1132.9" width="25.2" height="4.1" fill="#ECA7EC"/>
<rect x="168.7" y="1136.7" width="25.2" height="4.1" fill="#E782E7"/>
<rect x="168.7" y="1140.4" width="25.2" height="4.1" fill="#EA91EA"/>
<rect x="168.7" y="1144.2" width="25.2" height="4.1" fill="#EBA0EB"/>
<rect x="168.7" y="1148" width="25.2" height="4.1" fill="#EA99EA"/>
<rect x="168.7" y="1151.7" width="25.2" height="4.1" fill="#E887E8"/>
<rect x="168.7" y="1155.5" width="25.2" height="4.1" fill="#E680E6"/>
<rect x="168.7" y="1159.3" width="25.2" height="4.1" fill="#E98CE9"/>
<rect x="168.7" y="1163.1" width="25.2" height="4.1" fill="#E783E7"/>
<rect x="168.7" y="1166.8" width="25.2" height="4.1" fill="#E990E9"/>
<rect x="168.7" y="1170.6" width="25.2" height="4.1" fill="#E88AE8"/>
<rect x="168.7" y="1174.4" width="25.2" height="7.8" fill="#CC00CC"/>
<rect x="168.7" y="1181.9" width="25.2" height="4.1" fill="#E172E1"/>
<rect x="168.7" y="1185.7" width="25.2" height="4.1" fill="#DF6BDF"/>
<rect x="168.7" y="1189.4" width="25.2" height="4.1" fill="#ECA6EC"/>
<rect x="168.7" y="1193.2" width="25.2" height="4.1" fill="#E996E9"/>
<rect x="168.7" y="1197" width="25.2" height="4.1" fill="#E888E8"/>
<rect x="168.7" y="1200.7" width="25.2" height="4.1" fill="#E889E8"/>
<rect x="193.5" y="1016.1" width="25.2" height="4.1" fill="#F2F2F2"/>
<rect x="193.5" y="1019.9" width="25.2" height="4.1" fill="#F6F6F6"/>
<rect x="193.5" y="1023.6" width="25.2" height="4.1" fill="#F3F3F3"/>
<rect x="193.5" y="1027.4" width="25.2" height="7.8" fill="#F5F5F5"/>
<rect x="193.5" y="1034.9" width="25.2" height="4.1" fill="#F2F2F2"/>
<rect x="193.5" y="1038.7" width="25.2" height="4.1" fill="#F3F3F3"/>
<rect x="193.5" y="1042.5" width="25.2" height="7.8" fill="#F1F1F1"/>
<rect x="193.5" y="1050" width="25.2" height="4.1" fill="#F7F7F7"/>
<rect x="193.5" y="1053.8" width="25.2" height="4.1" fill="#F3F3F3"/>
<rect x="193.5" y="1057.5" width="25.2" height="4.1" fill="#F5F5F5"/>
<rect x="193.5" y="1061.3" width="25.2" height="4.1" fill="#F1F1F1"/>
<rect x="193.5" y="1065.1" width="25.2" height="4.1" fill="#F4F4F4"/>
<rect x="193.5" y="1068.9" width="25.2" height="4.1" fill="#F3F3F3"/>
<rect x="193.5" y="1072.6" width="25.2" height="4.1" fill="#F4F4F4"/>
<rect x="193.5" y="1076.4" width="25.2" height="4.1" fill="#F2F2F2"/>
<rect x="193.5" y="1080.2" width="25.2" height="4.1" fill="#F1F1F1"/>
<rect x="193.5" y="1083.9" width="25.2" height="7.8" fill="#F2F2F2"/>
<rect x="193.5" y="1091.5" width="25.2" height="4.1" fill="#F1F1F1"/>
<rect x="193.5" y="1095.2" width="25.2" height="4.1" fill="#F6F6F6"/>
<rect x="193.5" y="1099" width="25.2" height="4.1" fill="#F2F2F2"/>
<rect x="193.5" y="1102.8" width="25.2" height="4.1" fill="#F3F3F3"/>
<rect x="193.5" y="1106.5" width="25.2" height="4.1" fill="#F7F7F7"/>
<rect x="193.5" y="1110.3" width="25.2" height="4.1" fill="#F6F6F6"/>
<rect x="193.5" y="1114.1" width="25.2" height="7.8" fill="#F7F7F7"/>
<rect x="193.5" y="1121.6" width="25.2" height="4.1" fill="#F1F1F1"/>
<rect x="193.5" y="1125.4" width="25.2" height="4.1" fill="#F2F2F2"/>
<rect x="193.5" y="1129.1" width="25.2" height="4.1" fill="#F0F0F0"/>
<rect x="193.5" y="1132.9" width="25.2" height="7.8" fill="#F5F5F5"/>
<rect x="193.5" y="1140.4" width="25.2" height="4.1" fill="#F3F3F3"/>
<rect x="193.5" y="1144.2" width="25.2" height="4.1" fill="#EDEDED"/>
<rect x="193.5" y="1148" width="25.2" height="4.1" fill="#EFEFEF"/>
<rect x="193.5" y="1151.7" width="25.2" height="4.1" fill="#F6F6F6"/>
<rect x="193.5" y="1155.5" width="25.2" height="4.1" fill="#F2F2F2"/>
<rect x="193.5" y="1159.3" width="25.2" height="4.1" fill="#F7F7F7"/>
<rect x="193.5" y="1163.1" width="25.2" height="4.1" fill="#F3F3F3"/>
<rect x="193.5" y="1166.8" width="25.2" height="4.1" fill="#F5F5F5"/>
<rect x="193.5" y="1170.6" width="25.2" height="7.8" fill="#F1F1F1"/>
<rect x="193.5" y="1178.1" width="25.2" height="4.1" fill="#F7F7F7"/>
<rect x="193.5" y="1181.9" width="25.2" height="7.8" fill="#F6D4F6"/>
<rect x="193.5" y="1189.4" width="25.2" height="7.8" fill="#E67EE6"/>
<rect x="193.5" y="1197" width="25.2" height="4.1" fill="#F1F1F1"/>
<rect x="193.5" y="1200.7" width="25.2" height="4.1" fill="#F2F2F2"/>
<rect x="218.4" y="1016.1" width="25.2" height="4.1" fill="#F2F2F2"/>
<rect x="218.4" y="1019.9" width="25.2" height="4.1" fill="#F3F3F3"/>
<rect x="218.4" y="1023.6" width="25.2" height="4.1" fill="#F0F0F0"/>
<rect x="218.4" y="1027.4" width="25.2" height="4.1" fill="#F2F2F2"/>
<rect x="218.4" y="1031.2" width="25.2" height="4.1" fill="#F5F5F5"/>
<rect x="218.4" y="1034.9" width="25.2" height="4.1" fill="#F1F1F1"/>
<rect x="218.4" y="1038.7" width="25.2" height="4.1" fill="#EBEBEB"/>
<rect x="218.4" y="1042.5" width="25.2" height="4.1" fill="#E9E9E9"/>
<rect x="218.4" y="1046.2" width="25.2" height="4.1" fill="#F6F6F6"/>
<rect x="218.4" y="1050" width="25.2" height="4.1" fill="#F2F2F2"/>
<rect x="218.4" y="1053.8" width="25.2" height="4.1" fill="#DFDFDF"/>
<rect x="218.4" y="1057.5" width="25.2" height="4.1" fill="#E1E1E1"/>
<rect x="218.4" y="1061.3" width="25.2" height="4.1" fill="#F3F3F3"/>
<rect x="218.4" y="1065.1" width="25.2" height="4.1" fill="#F0F0F0"/>
<rect x="218.4" y="1068.9" width="25.2" height="4.1" fill="#F7F7F7"/>
<rect x="218.4" y="1072.6" width="25.2" height="4.1" fill="#F6F6F6"/>
<rect x="218.4" y="1076.4" width="25.2" height="4.1" fill="#F2F2F2"/>
<rect x="218.4" y="1080.2" width="25.2" height="4.1" fill="#F0F0F0"/>
<rect x="218.4" y="1083.9" width="25.2" height="4.1" fill="#F7F7F7"/>
<rect x="218.4" y="1087.7" width="25.2" height="4.1" fill="#F5F5F5"/>
<rect x="218.4" y="1091.5" width="25.2" height="4.1" fill="#F0F0F0"/>
<rect x="218.4" y="1095.2" width="25.2" height="4.1" fill="#F2F2F2"/>
<rect x="218.4" y="1099" width="25.2" height="4.1" fill="#F1F1F1"/>
<rect x="218.4" y="1102.8" width="25.2" height="4.1" fill="#F6F6F6"/>
<rect x="218.4" y="1106.5" width="25.2" height="4.1" fill="#F2F2F2"/>
<rect x="218.4" y="1110.3" width="25.2" height="4.1" fill="#F7F7F7"/>
<rect x="218.4" y="1114.1" width="25.2" height="4.1" fill="#FEFEFE"/>
<rect x="218.4" y="1117.8" width="25.2" height="4.1" fill="#F9F9F9"/>
<rect x="218.4" y="1121.6" width="25.2" height="4.1" fill="#F6F6F6"/>
<rect x="218.4" y="1125.4" width="25.2" height="4.1" fill="#F3F3F3"/>
<rect x="218.4" y="1129.1" width="25.2" height="4.1" fill="#FEFEFE"/>
<rect x="218.4" y="1132.9" width="25.2" height="4.1" fill="#FFFFFF"/>
<rect x="218.4" y="1136.7" width="25.2" height="4.1" fill="#ECECEC"/>
<rect x="218.4" y="1140.4" width="25.2" height="4.1" fill="#EBEBEB"/>
<rect x="218.4" y="1144.2" width="25.2" height="4.1" fill="#F8F8F8"/>
<rect x="218.4" y="1148" width="25.2" height="4.1" fill="#F3F3F3"/>
<rect x="218.4" y="1151.7" width="25.2" height="4.1" fill="#F7F7F7"/>
<rect x="218.4" y="1155.5" width="25.2" height="7.8" fill="#F6F6F6"/>
<rect x="218.4" y="1163.1" width="25.2" height="4.1" fill="#F7F7F7"/>
<rect x="218.4" y="1166.8" width="25.2" height="4.1" fill="#F5F5F5"/>
<rect x="218.4" y="1170.6" width="25.2" height="4.1" fill="#F4F4F4"/>
<rect x="218.4" y="1174.4" width="25.2" height="4.1" fill="#F0F0F0"/>
<rect x="218.4" y="1178.1" width="25.2" height="4.1" fill="#F6F6F6"/>
<rect x="218.4" y="1181.9" width="25.2" height="4.1" fill="#F3F3F3"/>
<rect x="218.4" y="1185.7" width="25.2" height="4.1" fill="#F4F4F4"/>
<rect x="218.4" y="1189.4" width="25.2" height="4.1" fill="#F7F7F7"/>
<rect x="218.4" y="1193.2" width="25.2" height="4.1" fill="#F1F1F1"/>
<rect x="218.4" y="1197" width="25.2" height="4.1" fill="#F6F6F6"/>
<rect x="218.4" y="1200.7" width="25.2" height="4.1" fill="#F0F0F0"/>
<line x1="41.3" y1="1010.8" x2="41.3" y2="1205.5" stroke="#222" stroke-width="2.4" stroke-dasharray="20.7 6.9"/>
<line x1="244.1" y1="1010.8" x2="244.1" y2="1205.5" stroke="#222" stroke-width="2.4" stroke-dasharray="20.7 6.9"/>
<rect x="44.2" y="1210.8" width="25.2" height="7.8" fill="#FEFEFE"/>
<rect x="44.2" y="1218.3" width="25.2" height="4.1" fill="#ECECEC"/>
<rect x="44.2" y="1222.1" width="25.2" height="4.1" fill="#EEEEEE"/>
<rect x="44.2" y="1225.8" width="25.2" height="4.1" fill="#F2F2F2"/>
<rect x="44.2" y="1229.6" width="25.2" height="4.1" fill="#EFEFEF"/>
<rect x="44.2" y="1233.3" width="25.2" height="4.1" fill="#EEEEEE"/>
<rect x="44.2" y="1237.1" width="25.2" height="4.1" fill="#ECECEC"/>
<rect x="44.2" y="1240.8" width="25.2" height="4.1" fill="#EAEAEA"/>
<rect x="44.2" y="1244.6" width="25.2" height="7.8" fill="#EDEDED"/>
<rect x="44.2" y="1252.1" width="25.2" height="7.8" fill="#ECECEC"/>
<rect x="44.2" y="1259.6" width="25.2" height="4.1" fill="#EBEBEB"/>
<rect x="44.2" y="1263.4" width="25.2" height="4.1" fill="#F0F0F0"/>
<rect x="44.2" y="1267.1" width="25.2" height="4.1" fill="#EFEFEF"/>
<rect x="44.2" y="1270.9" width="25.2" height="7.8" fill="#ECECEC"/>
<rect x="44.2" y="1278.4" width="25.2" height="7.8" fill="#EEEEEE"/>
<rect x="44.2" y="1285.9" width="25.2" height="4.1" fill="#F1F1F1"/>
<rect x="44.2" y="1289.6" width="25.2" height="4.1" fill="#EDEDED"/>
<rect x="44.2" y="1293.4" width="25.2" height="4.1" fill="#ECECEC"/>
<rect x="44.2" y="1297.1" width="25.2" height="4.1" fill="#F1F1F1"/>
<rect x="44.2" y="1300.9" width="25.2" height="4.1" fill="#EBEBEB"/>
<rect x="44.2" y="1304.7" width="25.2" height="4.1" fill="#EFEFEF"/>
<rect x="44.2" y="1308.4" width="25.2" height="4.1" fill="#EDEDED"/>
<rect x="44.2" y="1312.2" width="25.2" height="4.1" fill="#F1F1F1"/>
<rect x="44.2" y="1315.9" width="25.2" height="4.1" fill="#EEEEEE"/>
<rect x="44.2" y="1319.7" width="25.2" height="4.1" fill="#F0F0F0"/>
<rect x="44.2" y="1323.4" width="25.2" height="4.1" fill="#EBEBEB"/>
<rect x="44.2" y="1327.2" width="25.2" height="7.8" fill="#EFEFEF"/>
<rect x="44.2" y="1334.7" width="25.2" height="4.1" fill="#EEEEEE"/>
<rect x="44.2" y="1338.4" width="25.2" height="4.1" fill="#EAEAEA"/>
<rect x="44.2" y="1342.2" width="25.2" height="4.1" fill="#EBEBEB"/>
<rect x="44.2" y="1345.9" width="25.2" height="4.1" fill="#F8DCF8"/>
<rect x="44.2" y="1349.7" width="25.2" height="4.1" fill="#F9E2F9"/>
<rect x="44.2" y="1353.5" width="25.2" height="4.1" fill="#EA9CEA"/>
<rect x="44.2" y="1357.2" width="25.2" height="4.1" fill="#EA98EA"/>
<rect x="44.2" y="1361" width="25.2" height="4.1" fill="#EAEAEA"/>
<rect x="44.2" y="1364.7" width="25.2" height="7.8" fill="#ECECEC"/>
<rect x="44.2" y="1372.2" width="25.2" height="4.1" fill="#F0F0F0"/>
<rect x="44.2" y="1376" width="25.2" height="4.1" fill="#EEEEEE"/>
<rect x="44.2" y="1379.7" width="25.2" height="4.1" fill="#EBEBEB"/>
<rect x="44.2" y="1383.5" width="25.2" height="4.1" fill="#EDEDED"/>
<rect x="44.2" y="1387.2" width="25.2" height="4.1" fill="#EEEEEE"/>
<rect x="44.2" y="1391" width="25.2" height="4.1" fill="#EDEDED"/>
<rect x="44.2" y="1394.7" width="25.2" height="4.1" fill="#EBEBEB"/>
<rect x="69.1" y="1210.8" width="25.2" height="4.1" fill="#EBEBEB"/>
<rect x="69.1" y="1214.6" width="25.2" height="4.1" fill="#EAEAEA"/>
<rect x="69.1" y="1218.3" width="25.2" height="4.1" fill="#F2F2F2"/>
<rect x="69.1" y="1222.1" width="25.2" height="4.1" fill="#F0F0F0"/>
<rect x="69.1" y="1225.8" width="25.2" height="4.1" fill="#EBEBEB"/>
<rect x="69.1" y="1229.6" width="25.2" height="4.1" fill="#F0F0F0"/>
<rect x="69.1" y="1233.3" width="25.2" height="4.1" fill="#FFFFFF"/>
<rect x="69.1" y="1237.1" width="25.2" height="4.1" fill="#FDFDFD"/>
<rect x="69.1" y="1240.8" width="25.2" height="4.1" fill="#F9F9F9"/>
<rect x="69.1" y="1244.6" width="25.2" height="4.1" fill="#FCFCFC"/>
<rect x="69.1" y="1248.3" width="25.2" height="4.1" fill="#EDEDED"/>
<rect x="69.1" y="1252.1" width="25.2" height="4.1" fill="#ECECEC"/>
<rect x="69.1" y="1255.8" width="25.2" height="4.1" fill="#EEEEEE"/>
<rect x="69.1" y="1259.6" width="25.2" height="4.1" fill="#EAEAEA"/>
<rect x="69.1" y="1263.4" width="25.2" height="4.1" fill="#F1F1F1"/>
<rect x="69.1" y="1267.1" width="25.2" height="7.8" fill="#EFEFEF"/>
<rect x="69.1" y="1274.6" width="25.2" height="4.1" fill="#F1F1F1"/>
<rect x="69.1" y="1278.4" width="25.2" height="4.1" fill="#EFEFEF"/>
<rect x="69.1" y="1282.1" width="25.2" height="7.8" fill="#ECECEC"/>
<rect x="69.1" y="1289.6" width="25.2" height="4.1" fill="#EBEBEB"/>
<rect x="69.1" y="1293.4" width="25.2" height="4.1" fill="#EAEAEA"/>
<rect x="69.1" y="1297.1" width="25.2" height="4.1" fill="#F0F0F0"/>
<rect x="69.1" y="1300.9" width="25.2" height="4.1" fill="#F1F1F1"/>
<rect x="69.1" y="1304.7" width="25.2" height="4.1" fill="#ECECEC"/>
<rect x="69.1" y="1308.4" width="25.2" height="4.1" fill="#EBEBEB"/>
<rect x="69.1" y="1312.2" width="25.2" height="4.1" fill="#EFEFEF"/>
<rect x="69.1" y="1315.9" width="25.2" height="7.8" fill="#FFFFFF"/>
<rect x="69.1" y="1323.4" width="25.2" height="4.1" fill="#F1F1F1"/>
<rect x="69.1" y="1327.2" width="25.2" height="4.1" fill="#F6F6F6"/>
<rect x="69.1" y="1330.9" width="25.2" height="4.1" fill="#F1BCF1"/>
<rect x="69.1" y="1334.7" width="25.2" height="4.1" fill="#F1BBF1"/>
<rect x="69.1" y="1338.4" width="25.2" height="4.1" fill="#DF6DDF"/>
<rect x="69.1" y="1342.2" width="25.2" height="4.1" fill="#DF6ADF"/>
<rect x="69.1" y="1345.9" width="25.2" height="4.1" fill="#F6D4F6"/>
<rect x="69.1" y="1349.7" width="25.2" height="4.1" fill="#F5CCF5"/>
<rect x="69.1" y="1353.5" width="25.2" height="4.1" fill="#F5CEF5"/>
<rect x="69.1" y="1357.2" width="25.2" height="4.1" fill="#F6D2F6"/>
<rect x="69.1" y="1361" width="25.2" height="4.1" fill="#EDEDED"/>
<rect x="69.1" y="1364.7" width="25.2" height="4.1" fill="#F1F1F1"/>
<rect x="69.1" y="1368.5" width="25.2" height="4.1" fill="#ECECEC"/>
<rect x="69.1" y="1372.2" width="25.2" height="4.1" fill="#EAEAEA"/>
<rect x="69.1" y="1376" width="25.2" height="7.8" fill="#F5F5F5"/>
<rect x="69.1" y="1383.5" width="25.2" height="4.1" fill="#F1F1F1"/>
<rect x="69.1" y="1387.2" width="25.2" height="4.1" fill="#F0F0F0"/>
<rect x="69.1" y="1391" width="25.2" height="4.1" fill="#F1F1F1"/>
<rect x="69.1" y="1394.7" width="25.2" height="4.1" fill="#F2F2F2"/>
<rect x="94" y="1210.8" width="25.2" height="7.8" fill="#FBEAFB"/>
<rect x="94" y="1218.3" width="25.2" height="4.1" fill="#F1F1F1"/>
<rect x="94" y="1222.1" width="25.2" height="4.1" fill="#F2F2F2"/>
<rect x="94" y="1225.8" width="25.2" height="4.1" fill="#EFEFEF"/>
<rect x="94" y="1229.6" width="25.2" height="4.1" fill="#EBEBEB"/>
<rect x="94" y="1233.3" width="25.2" height="4.1" fill="#F0F0F0"/>
<rect x="94" y="1237.1" width="25.2" height="4.1" fill="#EBEBEB"/>
<rect x="94" y="1240.8" width="25.2" height="4.1" fill="#EEEEEE"/>
<rect x="94" y="1244.6" width="25.2" height="4.1" fill="#F2F2F2"/>
<rect x="94" y="1248.3" width="25.2" height="4.1" fill="#EBEBEB"/>
<rect x="94" y="1252.1" width="25.2" height="4.1" fill="#EAEAEA"/>
<rect x="94" y="1255.8" width="25.2" height="4.1" fill="#EEEEEE"/>
<rect x="94" y="1259.6" width="25.2" height="4.1" fill="#ECECEC"/>
<rect x="94" y="1263.4" width="25.2" height="4.1" fill="#F0F0F0"/>
<rect x="94" y="1267.1" width="25.2" height="4.1" fill="#EAEAEA"/>
<rect x="94" y="1270.9" width="25.2" height="7.8" fill="#F1F1F1"/>
<rect x="94" y="1278.4" width="25.2" height="4.1" fill="#F0F0F0"/>
<rect x="94" y="1282.1" width="25.2" height="4.1" fill="#EDEDED"/>
<rect x="94" y="1285.9" width="25.2" height="4.1" fill="#ECECEC"/>
<rect x="94" y="1289.6" width="25.2" height="4.1" fill="#EFEFEF"/>
<rect x="94" y="1293.4" width="25.2" height="4.1" fill="#EEEEEE"/>
<rect x="94" y="1297.1" width="25.2" height="7.8" fill="#EDEDED"/>
<rect x="94" y="1304.7" width="25.2" height="4.1" fill="#EEEEEE"/>
<rect x="94" y="1308.4" width="25.2" height="4.1" fill="#EFEFEF"/>
<rect x="94" y="1312.2" width="25.2" height="4.1" fill="#F1F1F1"/>
<rect x="94" y="1315.9" width="25.2" height="4.1" fill="#F7F7F7"/>
<rect x="94" y="1319.7" width="25.2" height="4.1" fill="#F1F1F1"/>
<rect x="94" y="1323.4" width="25.2" height="4.1" fill="#ECECEC"/>
<rect x="94" y="1327.2" width="25.2" height="4.1" fill="#EEEEEE"/>
<rect x="94" y="1330.9" width="25.2" height="4.1" fill="#FDFDFD"/>
<rect x="94" y="1334.7" width="25.2" height="4.1" fill="#FBFBFB"/>
<rect x="94" y="1338.4" width="25.2" height="4.1" fill="#F2F2F2"/>
<rect x="94" y="1342.2" width="25.2" height="4.1" fill="#F1F1F1"/>
<rect x="94" y="1345.9" width="25.2" height="4.1" fill="#EDEDED"/>
<rect x="94" y="1349.7" width="25.2" height="4.1" fill="#EEEEEE"/>
<rect x="94" y="1353.5" width="25.2" height="7.8" fill="#F1BDF1"/>
<rect x="94" y="1361" width="25.2" height="4.1" fill="#D73CD7"/>
<rect x="94" y="1364.7" width="25.2" height="4.1" fill="#D740D7"/>
<rect x="94" y="1368.5" width="25.2" height="4.1" fill="#ECA7EC"/>
<rect x="94" y="1372.2" width="25.2" height="4.1" fill="#EBA2EB"/>
<rect x="94" y="1376" width="25.2" height="4.1" fill="#FEFEFE"/>
<rect x="94" y="1379.7" width="25.2" height="4.1" fill="#F8F8F8"/>
<rect x="94" y="1383.5" width="25.2" height="4.1" fill="#FBEBFB"/>
<rect x="94" y="1387.2" width="25.2" height="4.1" fill="#FBEAFB"/>
<rect x="94" y="1391" width="25.2" height="4.1" fill="#F2F2F2"/>
<rect x="94" y="1394.7" width="25.2" height="4.1" fill="#F5F5F5"/>
<rect x="118.9" y="1210.8" width="25.2" height="4.1" fill="#EA91EA"/>
<rect x="118.9" y="1214.6" width="25.2" height="4.1" fill="#E888E8"/>
<rect x="118.9" y="1218.3" width="25.2" height="4.1" fill="#F6D3F6"/>
<rect x="118.9" y="1222.1" width="25.2" height="4.1" fill="#F5CBF5"/>
<rect x="118.9" y="1225.8" width="25.2" height="4.1" fill="#FAE4FA"/>
<rect x="118.9" y="1229.6" width="25.2" height="4.1" fill="#FBEBFB"/>
<rect x="118.9" y="1233.3" width="25.2" height="4.1" fill="#F8F8F8"/>
<rect x="118.9" y="1237.1" width="25.2" height="4.1" fill="#FAFAFA"/>
<rect x="118.9" y="1240.8" width="25.2" height="4.1" fill="#F0BAF0"/>
<rect x="118.9" y="1244.6" width="25.2" height="4.1" fill="#F0B6F0"/>
<rect x="118.9" y="1248.3" width="25.2" height="4.1" fill="#F9F9F9"/>
<rect x="118.9" y="1252.1" width="25.2" height="4.1" fill="#FDFDFD"/>
<rect x="118.9" y="1255.8" width="25.2" height="4.1" fill="#FBFBFB"/>
<rect x="118.9" y="1259.6" width="25.2" height="4.1" fill="#FDFDFD"/>
<rect x="118.9" y="1263.4" width="25.2" height="4.1" fill="#FBFBFB"/>
<rect x="118.9" y="1267.1" width="25.2" height="4.1" fill="#FCFCFC"/>
<rect x="118.9" y="1270.9" width="25.2" height="4.1" fill="#FDFDFD"/>
<rect x="118.9" y="1274.6" width="25.2" height="4.1" fill="#FBFBFB"/>
<rect x="118.9" y="1278.4" width="25.2" height="4.1" fill="#F8DCF8"/>
<rect x="118.9" y="1282.1" width="25.2" height="4.1" fill="#F9DEF9"/>
<rect x="118.9" y="1285.9" width="25.2" height="4.1" fill="#F7D5F7"/>
<rect x="118.9" y="1289.6" width="25.2" height="4.1" fill="#F6D2F6"/>
<rect x="118.9" y="1293.4" width="25.2" height="4.1" fill="#EEADEE"/>
<rect x="118.9" y="1297.1" width="25.2" height="4.1" fill="#F1BCF1"/>
<rect x="118.9" y="1300.9" width="25.2" height="4.1" fill="#EFB1EF"/>
<rect x="118.9" y="1304.7" width="25.2" height="4.1" fill="#EEACEE"/>
<rect x="118.9" y="1308.4" width="25.2" height="4.1" fill="#F6D2F6"/>
<rect x="118.9" y="1312.2" width="25.2" height="4.1" fill="#F4CAF4"/>
<rect x="118.9" y="1315.9" width="25.2" height="4.1" fill="#E888E8"/>
<rect x="118.9" y="1319.7" width="25.2" height="4.1" fill="#E889E8"/>
<rect x="118.9" y="1323.4" width="25.2" height="4.1" fill="#EA99EA"/>
<rect x="118.9" y="1327.2" width="25.2" height="4.1" fill="#EBA1EB"/>
<rect x="118.9" y="1330.9" width="25.2" height="4.1" fill="#DF69DF"/>
<rect x="118.9" y="1334.7" width="25.2" height="4.1" fill="#E070E0"/>
<rect x="118.9" y="1338.4" width="25.2" height="4.1" fill="#FDFDFD"/>
<rect x="118.9" y="1342.2" width="25.2" height="4.1" fill="#F9F9F9"/>
<rect x="118.9" y="1345.9" width="25.2" height="7.8" fill="#CC00CC"/>
<rect x="118.9" y="1353.5" width="25.2" height="4.1" fill="#F6D0F6"/>
<rect x="118.9" y="1357.2" width="25.2" height="4.1" fill="#F7D5F7"/>
<rect x="118.9" y="1361" width="25.2" height="4.1" fill="#EBA1EB"/>
<rect x="118.9" y="1364.7" width="25.2" height="4.1" fill="#ECA3EC"/>
<rect x="118.9" y="1368.5" width="25.2" height="4.1" fill="#FEFEFE"/>
<rect x="118.9" y="1372.2" width="25.2" height="4.1" fill="#F9F9F9"/>
<rect x="118.9" y="1376" width="25.2" height="4.1" fill="#FFFFFF"/>
<rect x="118.9" y="1379.7" width="25.2" height="4.1" fill="#FEFEFE"/>
<rect x="118.9" y="1383.5" width="25.2" height="4.1" fill="#F9F9F9"/>
<rect x="118.9" y="1387.2" width="25.2" height="4.1" fill="#FFFFFF"/>
<rect x="118.9" y="1391" width="25.2" height="4.1" fill="#FBFBFB"/>
<rect x="118.9" y="1394.7" width="25.2" height="4.1" fill="#F9F9F9"/>
<rect x="143.8" y="1210.8" width="25.2" height="4.1" fill="#ECECEC"/>
<rect x="143.8" y="1214.6" width="25.2" height="4.1" fill="#E9E9E9"/>
<rect x="143.8" y="1218.3" width="25.2" height="4.1" fill="#E2E2E2"/>
<rect x="143.8" y="1222.1" width="25.2" height="4.1" fill="#DDDDDD"/>
<rect x="143.8" y="1225.8" width="25.2" height="4.1" fill="#E2E2E2"/>
<rect x="143.8" y="1229.6" width="25.2" height="4.1" fill="#DCDCDC"/>
<rect x="143.8" y="1233.3" width="25.2" height="4.1" fill="#DEDEDE"/>
<rect x="143.8" y="1237.1" width="25.2" height="4.1" fill="#DFDFDF"/>
<rect x="143.8" y="1240.8" width="25.2" height="4.1" fill="#DCDCDC"/>
<rect x="143.8" y="1244.6" width="25.2" height="4.1" fill="#E1E1E1"/>
<rect x="143.8" y="1248.3" width="25.2" height="7.8" fill="#DEDEDE"/>
<rect x="143.8" y="1255.8" width="25.2" height="4.1" fill="#E2E2E2"/>
<rect x="143.8" y="1259.6" width="25.2" height="4.1" fill="#DFDFDF"/>
<rect x="143.8" y="1263.4" width="25.2" height="4.1" fill="#E3E3E3"/>
<rect x="143.8" y="1267.1" width="25.2" height="4.1" fill="#E1E1E1"/>
<rect x="143.8" y="1270.9" width="25.2" height="4.1" fill="#E3E3E3"/>
<rect x="143.8" y="1274.6" width="25.2" height="4.1" fill="#E1E1E1"/>
<rect x="143.8" y="1278.4" width="25.2" height="7.8" fill="#D9D9D9"/>
<rect x="143.8" y="1285.9" width="25.2" height="4.1" fill="#DDDDDD"/>
<rect x="143.8" y="1289.6" width="25.2" height="4.1" fill="#E2E2E2"/>
<rect x="143.8" y="1293.4" width="25.2" height="4.1" fill="#DFDFDF"/>
<rect x="143.8" y="1297.1" width="25.2" height="4.1" fill="#E2E2E2"/>
<rect x="143.8" y="1300.9" width="25.2" height="4.1" fill="#E1E1E1"/>
<rect x="143.8" y="1304.7" width="25.2" height="4.1" fill="#E3E3E3"/>
<rect x="143.8" y="1308.4" width="25.2" height="4.1" fill="#DDDDDD"/>
<rect x="143.8" y="1312.2" width="25.2" height="4.1" fill="#DFDFDF"/>
<rect x="143.8" y="1315.9" width="25.2" height="4.1" fill="#E2E2E2"/>
<rect x="143.8" y="1319.7" width="25.2" height="4.1" fill="#E4E4E4"/>
<rect x="143.8" y="1323.4" width="25.2" height="4.1" fill="#E2E2E2"/>
<rect x="143.8" y="1327.2" width="25.2" height="4.1" fill="#DCDCDC"/>
<rect x="143.8" y="1330.9" width="25.2" height="4.1" fill="#EFEFEF"/>
<rect x="143.8" y="1334.7" width="25.2" height="4.1" fill="#EBEBEB"/>
<rect x="143.8" y="1338.4" width="25.2" height="4.1" fill="#E8E8E8"/>
<rect x="143.8" y="1342.2" width="25.2" height="4.1" fill="#EAEAEA"/>
<rect x="143.8" y="1345.9" width="25.2" height="4.1" fill="#E5E5E5"/>
<rect x="143.8" y="1349.7" width="25.2" height="4.1" fill="#EBEBEB"/>
<rect x="143.8" y="1353.5" width="25.2" height="4.1" fill="#F5F5F5"/>
<rect x="143.8" y="1357.2" width="25.2" height="4.1" fill="#F2F2F2"/>
<rect x="143.8" y="1361" width="25.2" height="4.1" fill="#FAFAFA"/>
<rect x="143.8" y="1364.7" width="25.2" height="4.1" fill="#FCFCFC"/>
<rect x="143.8" y="1368.5" width="25.2" height="4.1" fill="#F1BCF1"/>
<rect x="143.8" y="1372.2" width="25.2" height="4.1" fill="#F0B9F0"/>
<rect x="143.8" y="1376" width="25.2" height="4.1" fill="#DDDDDD"/>
<rect x="143.8" y="1379.7" width="25.2" height="4.1" fill="#DCDCDC"/>
<rect x="143.8" y="1383.5" width="25.2" height="4.1" fill="#E5E5E5"/>
<rect x="143.8" y="1387.2" width="25.2" height="4.1" fill="#EAEAEA"/>
<rect x="143.8" y="1391" width="25.2" height="4.1" fill="#E5E5E5"/>
<rect x="143.8" y="1394.7" width="25.2" height="4.1" fill="#E8E8E8"/>
<rect x="168.7" y="1210.8" width="25.2" height="4.1" fill="#ECECEC"/>
<rect x="168.7" y="1214.6" width="25.2" height="4.1" fill="#EFEFEF"/>
<rect x="168.7" y="1218.3" width="25.2" height="4.1" fill="#EDEDED"/>
<rect x="168.7" y="1222.1" width="25.2" height="4.1" fill="#EBEBEB"/>
<rect x="168.7" y="1225.8" width="25.2" height="4.1" fill="#F1F1F1"/>
<rect x="168.7" y="1229.6" width="25.2" height="4.1" fill="#EEEEEE"/>
<rect x="168.7" y="1233.3" width="25.2" height="7.8" fill="#F0F0F0"/>
<rect x="168.7" y="1240.8" width="25.2" height="4.1" fill="#F2F2F2"/>
<rect x="168.7" y="1244.6" width="25.2" height="4.1" fill="#EAEAEA"/>
<rect x="168.7" y="1248.3" width="25.2" height="4.1" fill="#EDEDED"/>
<rect x="168.7" y="1252.1" width="25.2" height="4.1" fill="#EBEBEB"/>
<rect x="168.7" y="1255.8" width="25.2" height="4.1" fill="#EEEEEE"/>
<rect x="168.7" y="1259.6" width="25.2" height="4.1" fill="#F1F1F1"/>
<rect x="168.7" y="1263.4" width="25.2" height="4.1" fill="#F0F0F0"/>
<rect x="168.7" y="1267.1" width="25.2" height="4.1" fill="#EAEAEA"/>
<rect x="168.7" y="1270.9" width="25.2" height="4.1" fill="#EBEBEB"/>
<rect x="168.7" y="1274.6" width="25.2" height="4.1" fill="#F1F1F1"/>
<rect x="168.7" y="1278.4" width="25.2" height="4.1" fill="#EFEFEF"/>
<rect x="168.7" y="1282.1" width="25.2" height="4.1" fill="#EDEDED"/>
<rect x="168.7" y="1285.9" width="25.2" height="4.1" fill="#EEEEEE"/>
<rect x="168.7" y="1289.6" width="25.2" height="4.1" fill="#EBEBEB"/>
<rect x="168.7" y="1293.4" width="25.2" height="4.1" fill="#F1F1F1"/>
<rect x="168.7" y="1297.1" width="25.2" height="4.1" fill="#EDEDED"/>
<rect x="168.7" y="1300.9" width="25.2" height="4.1" fill="#F1F1F1"/>
<rect x="168.7" y="1304.7" width="25.2" height="4.1" fill="#EFEFEF"/>
<rect x="168.7" y="1308.4" width="25.2" height="4.1" fill="#EBEBEB"/>
<rect x="168.7" y="1312.2" width="25.2" height="4.1" fill="#EDEDED"/>
<rect x="168.7" y="1315.9" width="25.2" height="4.1" fill="#ECECEC"/>
<rect x="168.7" y="1319.7" width="25.2" height="4.1" fill="#F1F1F1"/>
<rect x="168.7" y="1323.4" width="25.2" height="4.1" fill="#EFEFEF"/>
<rect x="168.7" y="1327.2" width="25.2" height="4.1" fill="#EAEAEA"/>
<rect x="168.7" y="1330.9" width="25.2" height="4.1" fill="#EBEBEB"/>
<rect x="168.7" y="1334.7" width="25.2" height="4.1" fill="#EDEDED"/>
<rect x="168.7" y="1338.4" width="25.2" height="4.1" fill="#EEEEEE"/>
<rect x="168.7" y="1342.2" width="25.2" height="4.1" fill="#EFEFEF"/>
<rect x="168.7" y="1345.9" width="25.2" height="7.8" fill="#EDEDED"/>
<rect x="168.7" y="1353.5" width="25.2" height="4.1" fill="#EAEAEA"/>
<rect x="168.7" y="1357.2" width="25.2" height="4.1" fill="#EFEFEF"/>
<rect x="168.7" y="1361" width="25.2" height="4.1" fill="#EFB3EF"/>
<rect x="168.7" y="1364.7" width="25.2" height="4.1" fill="#EDAAED"/>
<rect x="168.7" y="1368.5" width="25.2" height="4.1" fill="#EEEEEE"/>
<rect x="168.7" y="1372.2" width="25.2" height="4.1" fill="#F2F2F2"/>
<rect x="168.7" y="1376" width="25.2" height="4.1" fill="#F3C3F3"/>
<rect x="168.7" y="1379.7" width="25.2" height="4.1" fill="#F4C6F4"/>
<rect x="168.7" y="1383.5" width="25.2" height="4.1" fill="#FBEBFB"/>
<rect x="168.7" y="1387.2" width="25.2" height="4.1" fill="#F9E1F9"/>
<rect x="168.7" y="1391" width="25.2" height="4.1" fill="#FAFAFA"/>
<rect x="168.7" y="1394.7" width="25.2" height="4.1" fill="#FCFCFC"/>
<rect x="193.5" y="1210.8" width="25.2" height="4.1" fill="#D94DD9"/>
<rect x="193.5" y="1214.6" width="25.2" height="4.1" fill="#DA52DA"/>
<rect x="193.5" y="1218.3" width="25.2" height="4.1" fill="#D431D4"/>
<rect x="193.5" y="1222.1" width="25.2" height="4.1" fill="#D73FD7"/>
<rect x="193.5" y="1225.8" width="25.2" height="4.1" fill="#DD5EDD"/>
<rect x="193.5" y="1229.6" width="25.2" height="4.1" fill="#D94AD9"/>
<rect x="193.5" y="1233.3" width="25.2" height="4.1" fill="#E071E0"/>
<rect x="193.5" y="1237.1" width="25.2" height="4.1" fill="#E176E1"/>
<rect x="193.5" y="1240.8" width="25.2" height="4.1" fill="#D73CD7"/>
<rect x="193.5" y="1244.6" width="25.2" height="4.1" fill="#D639D6"/>
<rect x="193.5" y="1248.3" width="25.2" height="7.8" fill="#DB54DB"/>
<rect x="193.5" y="1255.8" width="25.2" height="4.1" fill="#DA4EDA"/>
<rect x="193.5" y="1259.6" width="25.2" height="4.1" fill="#DA4DDA"/>
<rect x="193.5" y="1263.4" width="25.2" height="4.1" fill="#E177E1"/>
<rect x="193.5" y="1267.1" width="25.2" height="4.1" fill="#E279E2"/>
<rect x="193.5" y="1270.9" width="25.2" height="4.1" fill="#DD5CDD"/>
<rect x="193.5" y="1274.6" width="25.2" height="4.1" fill="#DB55DB"/>
<rect x="193.5" y="1278.4" width="25.2" height="4.1" fill="#DF6CDF"/>
<rect x="193.5" y="1282.1" width="25.2" height="4.1" fill="#E176E1"/>
<rect x="193.5" y="1285.9" width="25.2" height="4.1" fill="#DB57DB"/>
<rect x="193.5" y="1289.6" width="25.2" height="4.1" fill="#DA50DA"/>
<rect x="193.5" y="1293.4" width="25.2" height="4.1" fill="#DB54DB"/>
<rect x="193.5" y="1297.1" width="25.2" height="4.1" fill="#DA4EDA"/>
<rect x="193.5" y="1300.9" width="25.2" height="4.1" fill="#DA51DA"/>
<rect x="193.5" y="1304.7" width="25.2" height="4.1" fill="#DA4FDA"/>
<rect x="193.5" y="1308.4" width="25.2" height="4.1" fill="#DF68DF"/>
<rect x="193.5" y="1312.2" width="25.2" height="4.1" fill="#DF6DDF"/>
<rect x="193.5" y="1315.9" width="25.2" height="4.1" fill="#D42FD4"/>
<rect x="193.5" y="1319.7" width="25.2" height="4.1" fill="#D740D7"/>
<rect x="193.5" y="1323.4" width="25.2" height="4.1" fill="#E070E0"/>
<rect x="193.5" y="1327.2" width="25.2" height="4.1" fill="#E06EE0"/>
<rect x="193.5" y="1330.9" width="25.2" height="7.8" fill="#D94DD9"/>
<rect x="193.5" y="1338.4" width="25.2" height="4.1" fill="#DA4EDA"/>
<rect x="193.5" y="1342.2" width="25.2" height="4.1" fill="#D94BD9"/>
<rect x="193.5" y="1345.9" width="25.2" height="4.1" fill="#D32CD3"/>
<rect x="193.5" y="1349.7" width="25.2" height="4.1" fill="#D73CD7"/>
<rect x="193.5" y="1353.5" width="25.2" height="7.8" fill="#E06FE0"/>
<rect x="193.5" y="1361" width="25.2" height="4.1" fill="#D432D4"/>
<rect x="193.5" y="1364.7" width="25.2" height="4.1" fill="#D42ED4"/>
<rect x="193.5" y="1368.5" width="25.2" height="4.1" fill="#D94CD9"/>
<rect x="193.5" y="1372.2" width="25.2" height="4.1" fill="#D94AD9"/>
<rect x="193.5" y="1376" width="25.2" height="4.1" fill="#DA4DDA"/>
<rect x="193.5" y="1379.7" width="25.2" height="4.1" fill="#DA4EDA"/>
<rect x="193.5" y="1383.5" width="25.2" height="4.1" fill="#E175E1"/>
<rect x="193.5" y="1387.2" width="25.2" height="4.1" fill="#E071E0"/>
<rect x="193.5" y="1391" width="25.2" height="4.1" fill="#E27AE2"/>
<rect x="193.5" y="1394.7" width="25.2" height="4.1" fill="#DF6DDF"/>
<rect x="218.4" y="1210.8" width="25.2" height="4.1" fill="#F7F7F7"/>
<rect x="218.4" y="1214.6" width="25.2" height="4.1" fill="#F5F5F5"/>
<rect x="218.4" y="1218.3" width="25.2" height="7.8" fill="#F1F1F1"/>
<rect x="218.4" y="1225.8" width="25.2" height="4.1" fill="#F5F5F5"/>
<rect x="218.4" y="1229.6" width="25.2" height="4.1" fill="#F8F8F8"/>
<rect x="218.4" y="1233.3" width="25.2" height="4.1" fill="#EDEDED"/>
<rect x="218.4" y="1237.1" width="25.2" height="4.1" fill="#F0F0F0"/>
<rect x="218.4" y="1240.8" width="25.2" height="4.1" fill="#F3F3F3"/>
<rect x="218.4" y="1244.6" width="25.2" height="4.1" fill="#F7F7F7"/>
<rect x="218.4" y="1248.3" width="25.2" height="4.1" fill="#F1F1F1"/>
<rect x="218.4" y="1252.1" width="25.2" height="4.1" fill="#F4F4F4"/>
<rect x="218.4" y="1255.8" width="25.2" height="4.1" fill="#F7F7F7"/>
<rect x="218.4" y="1259.6" width="25.2" height="7.8" fill="#F2F2F2"/>
<rect x="218.4" y="1267.1" width="25.2" height="4.1" fill="#F0F0F0"/>
<rect x="218.4" y="1270.9" width="25.2" height="4.1" fill="#F1F1F1"/>
<rect x="218.4" y="1274.6" width="25.2" height="4.1" fill="#F2F2F2"/>
<rect x="218.4" y="1278.4" width="25.2" height="4.1" fill="#F6F6F6"/>
<rect x="218.4" y="1282.1" width="25.2" height="4.1" fill="#F2F2F2"/>
<rect x="218.4" y="1285.9" width="25.2" height="4.1" fill="#F3F3F3"/>
<rect x="218.4" y="1289.6" width="25.2" height="4.1" fill="#F2F2F2"/>
<rect x="218.4" y="1293.4" width="25.2" height="4.1" fill="#F5F5F5"/>
<rect x="218.4" y="1297.1" width="25.2" height="4.1" fill="#F7F7F7"/>
<rect x="218.4" y="1300.9" width="25.2" height="4.1" fill="#F5F5F5"/>
<rect x="218.4" y="1304.7" width="25.2" height="4.1" fill="#F2F2F2"/>
<rect x="218.4" y="1308.4" width="25.2" height="4.1" fill="#F6F6F6"/>
<rect x="218.4" y="1312.2" width="25.2" height="4.1" fill="#F8F8F8"/>
<rect x="218.4" y="1315.9" width="25.2" height="4.1" fill="#EFEFEF"/>
<rect x="218.4" y="1319.7" width="25.2" height="4.1" fill="#EBEBEB"/>
<rect x="218.4" y="1323.4" width="25.2" height="4.1" fill="#F0F0F0"/>
<rect x="218.4" y="1327.2" width="25.2" height="4.1" fill="#F1F1F1"/>
<rect x="218.4" y="1330.9" width="25.2" height="4.1" fill="#F3F3F3"/>
<rect x="218.4" y="1334.7" width="25.2" height="4.1" fill="#F1F1F1"/>
<rect x="218.4" y="1338.4" width="25.2" height="4.1" fill="#F2F2F2"/>
<rect x="218.4" y="1342.2" width="25.2" height="4.1" fill="#F4F4F4"/>
<rect x="218.4" y="1345.9" width="25.2" height="4.1" fill="#F1F1F1"/>
<rect x="218.4" y="1349.7" width="25.2" height="4.1" fill="#EFEFEF"/>
<rect x="218.4" y="1353.5" width="25.2" height="4.1" fill="#F7F7F7"/>
<rect x="218.4" y="1357.2" width="25.2" height="4.1" fill="#F2F2F2"/>
<rect x="218.4" y="1361" width="25.2" height="4.1" fill="#F3F3F3"/>
<rect x="218.4" y="1364.7" width="25.2" height="4.1" fill="#F6F6F6"/>
<rect x="218.4" y="1368.5" width="25.2" height="4.1" fill="#F0BAF0"/>
<rect x="218.4" y="1372.2" width="25.2" height="4.1" fill="#EFB5EF"/>
<rect x="218.4" y="1376" width="25.2" height="4.1" fill="#F5F5F5"/>
<rect x="218.4" y="1379.7" width="25.2" height="4.1" fill="#F3F3F3"/>
<rect x="218.4" y="1383.5" width="25.2" height="4.1" fill="#F0F0F0"/>
<rect x="218.4" y="1387.2" width="25.2" height="4.1" fill="#F3F3F3"/>
<rect x="218.4" y="1391" width="25.2" height="4.1" fill="#F0F0F0"/>
<rect x="218.4" y="1394.7" width="25.2" height="4.1" fill="#F5F5F5"/>
<line x1="41.3" y1="1205.5" x2="41.3" y2="1399.5" stroke="#222" stroke-width="2.4" stroke-dasharray="20.7 6.9"/>
<line x1="244.1" y1="1205.5" x2="244.1" y2="1399.5" stroke="#222" stroke-width="2.4" stroke-dasharray="20.7 6.9"/>
<rect x="44.2" y="1405.1" width="25.2" height="4.1" fill="#E784E7"/>
<rect x="44.2" y="1408.9" width="25.2" height="4.1" fill="#E888E8"/>
<rect x="44.2" y="1412.6" width="25.2" height="4.1" fill="#EFEFEF"/>
<rect x="44.2" y="1416.4" width="25.2" height="4.1" fill="#ECECEC"/>
<rect x="44.2" y="1420.1" width="25.2" height="4.1" fill="#F6D1F6"/>
<rect x="44.2" y="1423.9" width="25.2" height="4.1" fill="#F3C2F3"/>
<rect x="44.2" y="1427.6" width="25.2" height="4.1" fill="#F1F1F1"/>
<rect x="44.2" y="1431.4" width="25.2" height="4.1" fill="#EFEFEF"/>
<rect x="44.2" y="1435.1" width="25.2" height="4.1" fill="#F2F2F2"/>
<rect x="44.2" y="1438.9" width="25.2" height="4.1" fill="#EAEAEA"/>
<rect x="44.2" y="1442.6" width="25.2" height="4.1" fill="#F5F5F5"/>
<rect x="44.2" y="1446.4" width="25.2" height="4.1" fill="#F6F6F6"/>
<rect x="44.2" y="1450.1" width="25.2" height="4.1" fill="#EDEDED"/>
<rect x="44.2" y="1453.9" width="25.2" height="11.6" fill="#EBEBEB"/>
<rect x="44.2" y="1465.1" width="25.2" height="4.1" fill="#F0F0F0"/>
<rect x="44.2" y="1468.9" width="25.2" height="4.1" fill="#EBEBEB"/>
<rect x="44.2" y="1472.6" width="25.2" height="4.1" fill="#F1F1F1"/>
<rect x="44.2" y="1476.4" width="25.2" height="4.1" fill="#EDEDED"/>
<rect x="44.2" y="1480.1" width="25.2" height="4.1" fill="#EEEEEE"/>
<rect x="44.2" y="1483.9" width="25.2" height="4.1" fill="#EFEFEF"/>
<rect x="44.2" y="1487.6" width="25.2" height="4.1" fill="#EEEEEE"/>
<rect x="44.2" y="1491.4" width="25.2" height="7.8" fill="#EFEFEF"/>
<rect x="44.2" y="1498.9" width="25.2" height="4.1" fill="#EDEDED"/>
<rect x="44.2" y="1502.7" width="25.2" height="4.1" fill="#F0F0F0"/>
<rect x="44.2" y="1506.4" width="25.2" height="4.1" fill="#ECECEC"/>
<rect x="44.2" y="1510.2" width="25.2" height="11.6" fill="#F0F0F0"/>
<rect x="44.2" y="1521.4" width="25.2" height="4.1" fill="#ECECEC"/>
<rect x="44.2" y="1525.2" width="25.2" height="4.1" fill="#F0F0F0"/>
<rect x="44.2" y="1528.9" width="25.2" height="4.1" fill="#F2F2F2"/>
<rect x="44.2" y="1532.7" width="25.2" height="4.1" fill="#EEEEEE"/>
<rect x="44.2" y="1536.4" width="25.2" height="4.1" fill="#ECECEC"/>
<rect x="44.2" y="1540.2" width="25.2" height="4.1" fill="#EEEEEE"/>
<rect x="44.2" y="1543.9" width="25.2" height="4.1" fill="#F2F2F2"/>
<rect x="44.2" y="1547.7" width="25.2" height="4.1" fill="#EBEBEB"/>
<rect x="44.2" y="1551.4" width="25.2" height="4.1" fill="#EAEAEA"/>
<rect x="44.2" y="1555.2" width="25.2" height="4.1" fill="#EEEEEE"/>
<rect x="44.2" y="1558.9" width="25.2" height="4.1" fill="#EFEFEF"/>
<rect x="44.2" y="1562.7" width="25.2" height="4.1" fill="#F0F0F0"/>
<rect x="44.2" y="1566.4" width="25.2" height="4.1" fill="#EDEDED"/>
<rect x="44.2" y="1570.2" width="25.2" height="4.1" fill="#ECECEC"/>
<rect x="44.2" y="1573.9" width="25.2" height="4.1" fill="#E6E6E6"/>
<rect x="44.2" y="1577.7" width="25.2" height="4.1" fill="#F0F0F0"/>
<rect x="44.2" y="1581.4" width="25.2" height="4.1" fill="#EBEBEB"/>
<rect x="44.2" y="1585.2" width="25.2" height="4.1" fill="#EAEAEA"/>
<rect x="44.2" y="1588.9" width="25.2" height="4.1" fill="#EBEBEB"/>
<rect x="69.1" y="1405.1" width="25.2" height="4.1" fill="#EAEAEA"/>
<rect x="69.1" y="1408.9" width="25.2" height="7.8" fill="#EEEEEE"/>
<rect x="69.1" y="1416.4" width="25.2" height="4.1" fill="#EBEBEB"/>
<rect x="69.1" y="1420.1" width="25.2" height="4.1" fill="#ECECEC"/>
<rect x="69.1" y="1423.9" width="25.2" height="4.1" fill="#E7E7E7"/>
<rect x="69.1" y="1427.6" width="25.2" height="7.8" fill="#F9F9F9"/>
<rect x="69.1" y="1435.1" width="25.2" height="4.1" fill="#F0F0F0"/>
<rect x="69.1" y="1438.9" width="25.2" height="4.1" fill="#F1F1F1"/>
<rect x="69.1" y="1442.6" width="25.2" height="4.1" fill="#EBEBEB"/>
<rect x="69.1" y="1446.4" width="25.2" height="4.1" fill="#EAEAEA"/>
<rect x="69.1" y="1450.1" width="25.2" height="4.1" fill="#F0F0F0"/>
<rect x="69.1" y="1453.9" width="25.2" height="4.1" fill="#ECECEC"/>
<rect x="69.1" y="1457.6" width="25.2" height="4.1" fill="#F2F2F2"/>
<rect x="69.1" y="1461.4" width="25.2" height="4.1" fill="#EEEEEE"/>
<rect x="69.1" y="1465.1" width="25.2" height="4.1" fill="#EFEFEF"/>
<rect x="69.1" y="1468.9" width="25.2" height="4.1" fill="#EDEDED"/>
<rect x="69.1" y="1472.6" width="25.2" height="4.1" fill="#F0F0F0"/>
<rect x="69.1" y="1476.4" width="25.2" height="4.1" fill="#EEEEEE"/>
<rect x="69.1" y="1480.1" width="25.2" height="4.1" fill="#EDEDED"/>
<rect x="69.1" y="1483.9" width="25.2" height="4.1" fill="#F1F1F1"/>
<rect x="69.1" y="1487.6" width="25.2" height="4.1" fill="#EBEBEB"/>
<rect x="69.1" y="1491.4" width="25.2" height="4.1" fill="#F0F0F0"/>
<rect x="69.1" y="1495.1" width="25.2" height="4.1" fill="#EBEBEB"/>
<rect x="69.1" y="1498.9" width="25.2" height="4.1" fill="#EFEFEF"/>
<rect x="69.1" y="1502.7" width="25.2" height="4.1" fill="#EDEDED"/>
<rect x="69.1" y="1506.4" width="25.2" height="4.1" fill="#F1F1F1"/>
<rect x="69.1" y="1510.2" width="25.2" height="4.1" fill="#EAEAEA"/>
<rect x="69.1" y="1513.9" width="25.2" height="4.1" fill="#EFEFEF"/>
<rect x="69.1" y="1517.7" width="25.2" height="4.1" fill="#E7E7E7"/>
<rect x="69.1" y="1521.4" width="25.2" height="4.1" fill="#EBEBEB"/>
<rect x="69.1" y="1525.2" width="25.2" height="4.1" fill="#F2F2F2"/>
<rect x="69.1" y="1528.9" width="25.2" height="4.1" fill="#EFEFEF"/>
<rect x="69.1" y="1532.7" width="25.2" height="11.6" fill="#ECECEC"/>
<rect x="69.1" y="1543.9" width="25.2" height="4.1" fill="#EDEDED"/>
<rect x="69.1" y="1547.7" width="25.2" height="7.8" fill="#ECECEC"/>
<rect x="69.1" y="1555.2" width="25.2" height="4.1" fill="#F0F0F0"/>
<rect x="69.1" y="1558.9" width="25.2" height="4.1" fill="#EFEFEF"/>
<rect x="69.1" y="1562.7" width="25.2" height="4.1" fill="#ECECEC"/>
<rect x="69.1" y="1566.4" width="25.2" height="4.1" fill="#F2F2F2"/>
<rect x="69.1" y="1570.2" width="25.2" height="4.1" fill="#ECECEC"/>
<rect x="69.1" y="1573.9" width="25.2" height="4.1" fill="#EFEFEF"/>
<rect x="69.1" y="1577.7" width="25.2" height="4.1" fill="#EBEBEB"/>
<rect x="69.1" y="1581.4" width="25.2" height="7.8" fill="#F1F1F1"/>
<rect x="69.1" y="1588.9" width="25.2" height="4.1" fill="#ECECEC"/>
<rect x="94" y="1405.1" width="25.2" height="4.1" fill="#EAEAEA"/>
<rect x="94" y="1408.9" width="25.2" height="4.1" fill="#EBEBEB"/>
<rect x="94" y="1412.6" width="25.2" height="4.1" fill="#DEDEDE"/>
<rect x="94" y="1416.4" width="25.2" height="4.1" fill="#DFDFDF"/>
<rect x="94" y="1420.1" width="25.2" height="4.1" fill="#D6D6D6"/>
<rect x="94" y="1423.9" width="25.2" height="4.1" fill="#D9D9D9"/>
<rect x="94" y="1427.6" width="25.2" height="4.1" fill="#F1F1F1"/>
<rect x="94" y="1431.4" width="25.2" height="4.1" fill="#F5F5F5"/>
<rect x="94" y="1435.1" width="25.2" height="4.1" fill="#EFEFEF"/>
<rect x="94" y="1438.9" width="25.2" height="4.1" fill="#EEEEEE"/>
<rect x="94" y="1442.6" width="25.2" height="4.1" fill="#EFEFEF"/>
<rect x="94" y="1446.4" width="25.2" height="4.1" fill="#F1F1F1"/>
<rect x="94" y="1450.1" width="25.2" height="4.1" fill="#ECECEC"/>
<rect x="94" y="1453.9" width="25.2" height="4.1" fill="#F1F1F1"/>
<rect x="94" y="1457.6" width="25.2" height="4.1" fill="#EDEDED"/>
<rect x="94" y="1461.4" width="25.2" height="4.1" fill="#F0F0F0"/>
<rect x="94" y="1465.1" width="25.2" height="4.1" fill="#F1F1F1"/>
<rect x="94" y="1468.9" width="25.2" height="4.1" fill="#EBEBEB"/>
<rect x="94" y="1472.6" width="25.2" height="4.1" fill="#F1F1F1"/>
<rect x="94" y="1476.4" width="25.2" height="4.1" fill="#F2F2F2"/>
<rect x="94" y="1480.1" width="25.2" height="4.1" fill="#ECECEC"/>
<rect x="94" y="1483.9" width="25.2" height="4.1" fill="#EAEAEA"/>
<rect x="94" y="1487.6" width="25.2" height="4.1" fill="#EBEBEB"/>
<rect x="94" y="1491.4" width="25.2" height="4.1" fill="#F2F2F2"/>
<rect x="94" y="1495.1" width="25.2" height="4.1" fill="#EDAAED"/>
<rect x="94" y="1498.9" width="25.2" height="4.1" fill="#F1BDF1"/>
<rect x="94" y="1502.7" width="25.2" height="4.1" fill="#CC00CC"/>
<rect x="94" y="1506.4" width="25.2" height="4.1" fill="#CE0ACE"/>
<rect x="94" y="1510.2" width="25.2" height="4.1" fill="#EEACEE"/>
<rect x="94" y="1513.9" width="25.2" height="4.1" fill="#EEAEEE"/>
<rect x="94" y="1517.7" width="25.2" height="4.1" fill="#F6D3F6"/>
<rect x="94" y="1521.4" width="25.2" height="4.1" fill="#F3C4F3"/>
<rect x="94" y="1525.2" width="25.2" height="4.1" fill="#DF6DDF"/>
<rect x="94" y="1528.9" width="25.2" height="4.1" fill="#E27AE2"/>
<rect x="94" y="1532.7" width="25.2" height="7.8" fill="#FBEBFB"/>
<rect x="94" y="1540.2" width="25.2" height="4.1" fill="#FFFFFF"/>
<rect x="94" y="1543.9" width="25.2" height="4.1" fill="#F8F8F8"/>
<rect x="94" y="1547.7" width="25.2" height="4.1" fill="#DF6BDF"/>
<rect x="94" y="1551.4" width="25.2" height="4.1" fill="#E177E1"/>
<rect x="94" y="1555.2" width="25.2" height="4.1" fill="#F0BAF0"/>
<rect x="94" y="1558.9" width="25.2" height="4.1" fill="#EDAAED"/>
<rect x="94" y="1562.7" width="25.2" height="4.1" fill="#FCFCFC"/>
<rect x="94" y="1566.4" width="25.2" height="4.1" fill="#FAFAFA"/>
<rect x="94" y="1570.2" width="25.2" height="4.1" fill="#FBFBFB"/>
<rect x="94" y="1573.9" width="25.2" height="4.1" fill="#F9F9F9"/>
<rect x="94" y="1577.7" width="25.2" height="4.1" fill="#F3C2F3"/>
<rect x="94" y="1581.4" width="25.2" height="4.1" fill="#F7D6F7"/>
<rect x="94" y="1585.2" width="25.2" height="4.1" fill="#F3F3F3"/>
<rect x="94" y="1588.9" width="25.2" height="4.1" fill="#F7F7F7"/>
<rect x="118.9" y="1405.1" width="25.2" height="4.1" fill="#E5E5E5"/>
<rect x="118.9" y="1408.9" width="25.2" height="4.1" fill="#E8E8E8"/>
<rect x="118.9" y="1412.6" width="25.2" height="4.1" fill="#E5E5E5"/>
<rect x="118.9" y="1416.4" width="25.2" height="4.1" fill="#E7E7E7"/>
<rect x="118.9" y="1420.1" width="25.2" height="4.1" fill="#E5E5E5"/>
<rect x="118.9" y="1423.9" width="25.2" height="4.1" fill="#E9E9E9"/>
<rect x="118.9" y="1427.6" width="25.2" height="4.1" fill="#F9F9F9"/>
<rect x="118.9" y="1431.4" width="25.2" height="4.1" fill="#FEFEFE"/>
<rect x="118.9" y="1435.1" width="25.2" height="4.1" fill="#E8E8E8"/>
<rect x="118.9" y="1438.9" width="25.2" height="4.1" fill="#E5E5E5"/>
<rect x="118.9" y="1442.6" width="25.2" height="4.1" fill="#E7E7E7"/>
<rect x="118.9" y="1446.4" width="25.2" height="4.1" fill="#E8E8E8"/>
<rect x="118.9" y="1450.1" width="25.2" height="4.1" fill="#E3E3E3"/>
<rect x="118.9" y="1453.9" width="25.2" height="4.1" fill="#DFDFDF"/>
<rect x="118.9" y="1457.6" width="25.2" height="4.1" fill="#E6E6E6"/>
<rect x="118.9" y="1461.4" width="25.2" height="4.1" fill="#ECECEC"/>
<rect x="118.9" y="1465.1" width="25.2" height="4.1" fill="#EBEBEB"/>
<rect x="118.9" y="1468.9" width="25.2" height="4.1" fill="#EAEAEA"/>
<rect x="118.9" y="1472.6" width="25.2" height="4.1" fill="#E6E6E6"/>
<rect x="118.9" y="1476.4" width="25.2" height="4.1" fill="#E5E5E5"/>
<rect x="118.9" y="1480.1" width="25.2" height="4.1" fill="#E6E6E6"/>
<rect x="118.9" y="1483.9" width="25.2" height="4.1" fill="#E5E5E5"/>
<rect x="118.9" y="1487.6" width="25.2" height="4.1" fill="#E4E4E4"/>
<rect x="118.9" y="1491.4" width="25.2" height="4.1" fill="#E8E8E8"/>
<rect x="118.9" y="1495.1" width="25.2" height="4.1" fill="#E7E7E7"/>
<rect x="118.9" y="1498.9" width="25.2" height="4.1" fill="#E8E8E8"/>
<rect x="118.9" y="1502.7" width="25.2" height="4.1" fill="#E7E7E7"/>
<rect x="118.9" y="1506.4" width="25.2" height="4.1" fill="#E4E4E4"/>
<rect x="118.9" y="1510.2" width="25.2" height="4.1" fill="#EAEAEA"/>
<rect x="118.9" y="1513.9" width="25.2" height="4.1" fill="#E9E9E9"/>
<rect x="118.9" y="1517.7" width="25.2" height="7.8" fill="#F4F4F4"/>
<rect x="118.9" y="1525.2" width="25.2" height="4.1" fill="#EAEAEA"/>
<rect x="118.9" y="1528.9" width="25.2" height="4.1" fill="#ECECEC"/>
<rect x="118.9" y="1532.7" width="25.2" height="4.1" fill="#EBEBEB"/>
<rect x="118.9" y="1536.4" width="25.2" height="4.1" fill="#EAEAEA"/>
<rect x="118.9" y="1540.2" width="25.2" height="7.8" fill="#DFDFDF"/>
<rect x="118.9" y="1547.7" width="25.2" height="4.1" fill="#E7E7E7"/>
<rect x="118.9" y="1551.4" width="25.2" height="4.1" fill="#ECECEC"/>
<rect x="118.9" y="1555.2" width="25.2" height="7.8" fill="#FBFBFB"/>
<rect x="118.9" y="1562.7" width="25.2" height="4.1" fill="#F5CFF5"/>
<rect x="118.9" y="1566.4" width="25.2" height="4.1" fill="#F4C6F4"/>
<rect x="118.9" y="1570.2" width="25.2" height="4.1" fill="#FFFFFF"/>
<rect x="118.9" y="1573.9" width="25.2" height="4.1" fill="#F8F8F8"/>
<rect x="118.9" y="1577.7" width="25.2" height="4.1" fill="#E172E1"/>
<rect x="118.9" y="1581.4" width="25.2" height="4.1" fill="#E27AE2"/>
<rect x="118.9" y="1585.2" width="25.2" height="4.1" fill="#EA9AEA"/>
<rect x="118.9" y="1588.9" width="25.2" height="4.1" fill="#EBA2EB"/>
<rect x="143.8" y="1405.1" width="25.2" height="4.1" fill="#FAE5FA"/>
<rect x="143.8" y="1408.9" width="25.2" height="4.1" fill="#F9E0F9"/>
<rect x="143.8" y="1412.6" width="25.2" height="4.1" fill="#E6E6E6"/>
<rect x="143.8" y="1416.4" width="25.2" height="4.1" fill="#E5E5E5"/>
<rect x="143.8" y="1420.1" width="25.2" height="4.1" fill="#E3E3E3"/>
<rect x="143.8" y="1423.9" width="25.2" height="4.1" fill="#E2E2E2"/>
<rect x="143.8" y="1427.6" width="25.2" height="4.1" fill="#E3E3E3"/>
<rect x="143.8" y="1431.4" width="25.2" height="4.1" fill="#DCDCDC"/>
<rect x="143.8" y="1435.1" width="25.2" height="4.1" fill="#E2E2E2"/>
<rect x="143.8" y="1438.9" width="25.2" height="4.1" fill="#DFDFDF"/>
<rect x="143.8" y="1442.6" width="25.2" height="4.1" fill="#E1E1E1"/>
<rect x="143.8" y="1446.4" width="25.2" height="4.1" fill="#E0E0E0"/>
<rect x="143.8" y="1450.1" width="25.2" height="4.1" fill="#DFDFDF"/>
<rect x="143.8" y="1453.9" width="25.2" height="4.1" fill="#E4E4E4"/>
<rect x="143.8" y="1457.6" width="25.2" height="4.1" fill="#DCDCDC"/>
<rect x="143.8" y="1461.4" width="25.2" height="4.1" fill="#E2E2E2"/>
<rect x="143.8" y="1465.1" width="25.2" height="4.1" fill="#E3E3E3"/>
<rect x="143.8" y="1468.9" width="25.2" height="4.1" fill="#E0E0E0"/>
<rect x="143.8" y="1472.6" width="25.2" height="4.1" fill="#E1E1E1"/>
<rect x="143.8" y="1476.4" width="25.2" height="4.1" fill="#E4E4E4"/>
<rect x="143.8" y="1480.1" width="25.2" height="4.1" fill="#DEDEDE"/>
<rect x="143.8" y="1483.9" width="25.2" height="4.1" fill="#E1E1E1"/>
<rect x="143.8" y="1487.6" width="25.2" height="4.1" fill="#E2E2E2"/>
<rect x="143.8" y="1491.4" width="25.2" height="4.1" fill="#DFDFDF"/>
<rect x="143.8" y="1495.1" width="25.2" height="4.1" fill="#FBEBFB"/>
<rect x="143.8" y="1498.9" width="25.2" height="4.1" fill="#FAE6FA"/>
<rect x="143.8" y="1502.7" width="25.2" height="4.1" fill="#F4F4F4"/>
<rect x="143.8" y="1506.4" width="25.2" height="7.8" fill="#F5F5F5"/>
<rect x="143.8" y="1513.9" width="25.2" height="4.1" fill="#F3F3F3"/>
<rect x="143.8" y="1517.7" width="25.2" height="4.1" fill="#F5F5F5"/>
<rect x="143.8" y="1521.4" width="25.2" height="4.1" fill="#F4F4F4"/>
<rect x="143.8" y="1525.2" width="25.2" height="4.1" fill="#FAFAFA"/>
<rect x="143.8" y="1528.9" width="25.2" height="4.1" fill="#FDFDFD"/>
<rect x="143.8" y="1532.7" width="25.2" height="4.1" fill="#ECECEC"/>
<rect x="143.8" y="1536.4" width="25.2" height="4.1" fill="#F1F1F1"/>
<rect x="143.8" y="1540.2" width="25.2" height="4.1" fill="#E8E8E8"/>
<rect x="143.8" y="1543.9" width="25.2" height="4.1" fill="#EAEAEA"/>
<rect x="143.8" y="1547.7" width="25.2" height="7.8" fill="#E0E0E0"/>
<rect x="143.8" y="1555.2" width="25.2" height="4.1" fill="#EEB0EE"/>
<rect x="143.8" y="1558.9" width="25.2" height="4.1" fill="#EEADEE"/>
<rect x="143.8" y="1562.7" width="25.2" height="4.1" fill="#F1F1F1"/>
<rect x="143.8" y="1566.4" width="25.2" height="4.1" fill="#EEEEEE"/>
<rect x="143.8" y="1570.2" width="25.2" height="7.8" fill="#E8E8E8"/>
<rect x="143.8" y="1577.7" width="25.2" height="4.1" fill="#EBEBEB"/>
<rect x="143.8" y="1581.4" width="25.2" height="4.1" fill="#E6E6E6"/>
<rect x="143.8" y="1585.2" width="25.2" height="4.1" fill="#EBEBEB"/>
<rect x="143.8" y="1588.9" width="25.2" height="4.1" fill="#F1F1F1"/>
<rect x="168.7" y="1405.1" width="25.2" height="4.1" fill="#E8E8E8"/>
<rect x="168.7" y="1408.9" width="25.2" height="4.1" fill="#E9E9E9"/>
<rect x="168.7" y="1412.6" width="25.2" height="11.6" fill="#E3E3E3"/>
<rect x="168.7" y="1423.9" width="25.2" height="4.1" fill="#DCDCDC"/>
<rect x="168.7" y="1427.6" width="25.2" height="4.1" fill="#E7E7E7"/>
<rect x="168.7" y="1431.4" width="25.2" height="7.8" fill="#EBEBEB"/>
<rect x="168.7" y="1438.9" width="25.2" height="4.1" fill="#E5E5E5"/>
<rect x="168.7" y="1442.6" width="25.2" height="4.1" fill="#F1F1F1"/>
<rect x="168.7" y="1446.4" width="25.2" height="4.1" fill="#F2F2F2"/>
<rect x="168.7" y="1450.1" width="25.2" height="4.1" fill="#E5E5E5"/>
<rect x="168.7" y="1453.9" width="25.2" height="4.1" fill="#E7E7E7"/>
<rect x="168.7" y="1457.6" width="25.2" height="4.1" fill="#EAEAEA"/>
<rect x="168.7" y="1461.4" width="25.2" height="7.8" fill="#E8E8E8"/>
<rect x="168.7" y="1468.9" width="25.2" height="4.1" fill="#E5E5E5"/>
<rect x="168.7" y="1472.6" width="25.2" height="4.1" fill="#E7E7E7"/>
<rect x="168.7" y="1476.4" width="25.2" height="4.1" fill="#ECECEC"/>
<rect x="168.7" y="1480.1" width="25.2" height="4.1" fill="#EAEAEA"/>
<rect x="168.7" y="1483.9" width="25.2" height="7.8" fill="#E8E8E8"/>
<rect x="168.7" y="1491.4" width="25.2" height="7.8" fill="#EAEAEA"/>
<rect x="168.7" y="1498.9" width="25.2" height="4.1" fill="#E5E5E5"/>
<rect x="168.7" y="1502.7" width="25.2" height="4.1" fill="#E9E9E9"/>
<rect x="168.7" y="1506.4" width="25.2" height="4.1" fill="#E7E7E7"/>
<rect x="168.7" y="1510.2" width="25.2" height="4.1" fill="#E8E8E8"/>
<rect x="168.7" y="1513.9" width="25.2" height="4.1" fill="#E6E6E6"/>
<rect x="168.7" y="1517.7" width="25.2" height="7.8" fill="#DFDFDF"/>
<rect x="168.7" y="1525.2" width="25.2" height="4.1" fill="#E7E7E7"/>
<rect x="168.7" y="1528.9" width="25.2" height="4.1" fill="#E4E4E4"/>
<rect x="168.7" y="1532.7" width="25.2" height="4.1" fill="#E6E6E6"/>
<rect x="168.7" y="1536.4" width="25.2" height="4.1" fill="#E9E9E9"/>
<rect x="168.7" y="1540.2" width="25.2" height="4.1" fill="#E4E4E4"/>
<rect x="168.7" y="1543.9" width="25.2" height="4.1" fill="#E5E5E5"/>
<rect x="168.7" y="1547.7" width="25.2" height="4.1" fill="#EAEAEA"/>
<rect x="168.7" y="1551.4" width="25.2" height="4.1" fill="#E6E6E6"/>
<rect x="168.7" y="1555.2" width="25.2" height="4.1" fill="#E7E7E7"/>
<rect x="168.7" y="1558.9" width="25.2" height="4.1" fill="#E6E6E6"/>
<rect x="168.7" y="1562.7" width="25.2" height="4.1" fill="#EBEBEB"/>
<rect x="168.7" y="1566.4" width="25.2" height="4.1" fill="#E5E5E5"/>
<rect x="168.7" y="1570.2" width="25.2" height="4.1" fill="#E9E9E9"/>
<rect x="168.7" y="1573.9" width="25.2" height="4.1" fill="#EBEBEB"/>
<rect x="168.7" y="1577.7" width="25.2" height="4.1" fill="#E6E6E6"/>
<rect x="168.7" y="1581.4" width="25.2" height="4.1" fill="#E7E7E7"/>
<rect x="168.7" y="1585.2" width="25.2" height="4.1" fill="#EAEAEA"/>
<rect x="168.7" y="1588.9" width="25.2" height="4.1" fill="#E9E9E9"/>
<rect x="193.5" y="1405.1" width="25.2" height="4.1" fill="#F3F3F3"/>
<rect x="193.5" y="1408.9" width="25.2" height="4.1" fill="#F0F0F0"/>
<rect x="193.5" y="1412.6" width="25.2" height="4.1" fill="#F4F4F4"/>
<rect x="193.5" y="1416.4" width="25.2" height="4.1" fill="#F3F3F3"/>
<rect x="193.5" y="1420.1" width="25.2" height="4.1" fill="#F6F6F6"/>
<rect x="193.5" y="1423.9" width="25.2" height="4.1" fill="#F2F2F2"/>
<rect x="193.5" y="1427.6" width="25.2" height="4.1" fill="#F3F3F3"/>
<rect x="193.5" y="1431.4" width="25.2" height="4.1" fill="#F5F5F5"/>
<rect x="193.5" y="1435.1" width="25.2" height="4.1" fill="#F6F6F6"/>
<rect x="193.5" y="1438.9" width="25.2" height="7.8" fill="#F3F3F3"/>
<rect x="193.5" y="1446.4" width="25.2" height="4.1" fill="#F5F5F5"/>
<rect x="193.5" y="1450.1" width="25.2" height="4.1" fill="#F7F7F7"/>
<rect x="193.5" y="1453.9" width="25.2" height="4.1" fill="#F2F2F2"/>
<rect x="193.5" y="1457.6" width="25.2" height="4.1" fill="#F8F8F8"/>
<rect x="193.5" y="1461.4" width="25.2" height="4.1" fill="#F6F6F6"/>
<rect x="193.5" y="1465.1" width="25.2" height="4.1" fill="#F3F3F3"/>
<rect x="193.5" y="1468.9" width="25.2" height="4.1" fill="#F5F5F5"/>
<rect x="193.5" y="1472.6" width="25.2" height="4.1" fill="#F3F3F3"/>
<rect x="193.5" y="1476.4" width="25.2" height="4.1" fill="#F1F1F1"/>
<rect x="193.5" y="1480.1" width="25.2" height="4.1" fill="#F6F6F6"/>
<rect x="193.5" y="1483.9" width="25.2" height="4.1" fill="#F3F3F3"/>
<rect x="193.5" y="1487.6" width="25.2" height="7.8" fill="#F4F4F4"/>
<rect x="193.5" y="1495.1" width="25.2" height="4.1" fill="#F7F7F7"/>
<rect x="193.5" y="1498.9" width="25.2" height="4.1" fill="#F6F6F6"/>
<rect x="193.5" y="1502.7" width="25.2" height="4.1" fill="#F0F0F0"/>
<rect x="193.5" y="1506.4" width="25.2" height="4.1" fill="#F5F5F5"/>
<rect x="193.5" y="1510.2" width="25.2" height="7.8" fill="#EEEEEE"/>
<rect x="193.5" y="1517.7" width="25.2" height="4.1" fill="#F7F7F7"/>
<rect x="193.5" y="1521.4" width="25.2" height="4.1" fill="#F3F3F3"/>
<rect x="193.5" y="1525.2" width="25.2" height="4.1" fill="#F4F4F4"/>
<rect x="193.5" y="1528.9" width="25.2" height="4.1" fill="#F7F7F7"/>
<rect x="193.5" y="1532.7" width="25.2" height="7.8" fill="#F4F4F4"/>
<rect x="193.5" y="1540.2" width="25.2" height="4.1" fill="#E8E8E8"/>
<rect x="193.5" y="1543.9" width="25.2" height="4.1" fill="#EBEBEB"/>
<rect x="193.5" y="1547.7" width="25.2" height="4.1" fill="#F5F5F5"/>
<rect x="193.5" y="1551.4" width="25.2" height="4.1" fill="#F6F6F6"/>
<rect x="193.5" y="1555.2" width="25.2" height="4.1" fill="#F3F3F3"/>
<rect x="193.5" y="1558.9" width="25.2" height="4.1" fill="#F0F0F0"/>
<rect x="193.5" y="1562.7" width="25.2" height="4.1" fill="#E174E1"/>
<rect x="193.5" y="1566.4" width="25.2" height="4.1" fill="#E071E0"/>
<rect x="193.5" y="1570.2" width="25.2" height="7.8" fill="#F6F6F6"/>
<rect x="193.5" y="1577.7" width="25.2" height="4.1" fill="#F1F1F1"/>
<rect x="193.5" y="1581.4" width="25.2" height="4.1" fill="#F2F2F2"/>
<rect x="193.5" y="1585.2" width="25.2" height="4.1" fill="#F1F1F1"/>
<rect x="193.5" y="1588.9" width="25.2" height="4.1" fill="#F7F7F7"/>
<rect x="218.4" y="1405.1" width="25.2" height="4.1" fill="#F3C5F3"/>
<rect x="218.4" y="1408.9" width="25.2" height="4.1" fill="#F3C4F3"/>
<rect x="218.4" y="1412.6" width="25.2" height="4.1" fill="#CE0ACE"/>
<rect x="218.4" y="1416.4" width="25.2" height="4.1" fill="#CD03CD"/>
<rect x="218.4" y="1420.1" width="25.2" height="4.1" fill="#F3C3F3"/>
<rect x="218.4" y="1423.9" width="25.2" height="4.1" fill="#F6D3F6"/>
<rect x="218.4" y="1427.6" width="25.2" height="4.1" fill="#F6D4F6"/>
<rect x="218.4" y="1431.4" width="25.2" height="4.1" fill="#F6D1F6"/>
<rect x="218.4" y="1435.1" width="25.2" height="4.1" fill="#EDABED"/>
<rect x="218.4" y="1438.9" width="25.2" height="4.1" fill="#F0BAF0"/>
<rect x="218.4" y="1442.6" width="25.2" height="4.1" fill="#F5CFF5"/>
<rect x="218.4" y="1446.4" width="25.2" height="4.1" fill="#F6D3F6"/>
<rect x="218.4" y="1450.1" width="25.2" height="4.1" fill="#F1BEF1"/>
<rect x="218.4" y="1453.9" width="25.2" height="7.8" fill="#F1BCF1"/>
<rect x="218.4" y="1461.4" width="25.2" height="4.1" fill="#EEAEEE"/>
<rect x="218.4" y="1465.1" width="25.2" height="4.1" fill="#F5CCF5"/>
<rect x="218.4" y="1468.9" width="25.2" height="4.1" fill="#F6D2F6"/>
<rect x="218.4" y="1472.6" width="25.2" height="4.1" fill="#EDA9ED"/>
<rect x="218.4" y="1476.4" width="25.2" height="4.1" fill="#F1BEF1"/>
<rect x="218.4" y="1480.1" width="25.2" height="7.8" fill="#F4CAF4"/>
<rect x="218.4" y="1487.6" width="25.2" height="4.1" fill="#F5CCF5"/>
<rect x="218.4" y="1491.4" width="25.2" height="4.1" fill="#F4CAF4"/>
<rect x="218.4" y="1495.1" width="25.2" height="4.1" fill="#F7D5F7"/>
<rect x="218.4" y="1498.9" width="25.2" height="7.8" fill="#F6D2F6"/>
<rect x="218.4" y="1506.4" width="25.2" height="4.1" fill="#F5CFF5"/>
<rect x="218.4" y="1510.2" width="25.2" height="4.1" fill="#F3C3F3"/>
<rect x="218.4" y="1513.9" width="25.2" height="4.1" fill="#F5CBF5"/>
<rect x="218.4" y="1517.7" width="25.2" height="4.1" fill="#D73CD7"/>
<rect x="218.4" y="1521.4" width="25.2" height="4.1" fill="#D63AD6"/>
<rect x="218.4" y="1525.2" width="25.2" height="4.1" fill="#E98FE9"/>
<rect x="218.4" y="1528.9" width="25.2" height="4.1" fill="#E783E7"/>
<rect x="218.4" y="1532.7" width="25.2" height="4.1" fill="#F4C8F4"/>
<rect x="218.4" y="1536.4" width="25.2" height="4.1" fill="#F3C3F3"/>
<rect x="218.4" y="1540.2" width="25.2" height="4.1" fill="#F0B8F0"/>
<rect x="218.4" y="1543.9" width="25.2" height="4.1" fill="#EFB4EF"/>
<rect x="218.4" y="1547.7" width="25.2" height="4.1" fill="#F6D1F6"/>
<rect x="218.4" y="1551.4" width="25.2" height="4.1" fill="#F6D2F6"/>
<rect x="218.4" y="1555.2" width="25.2" height="4.1" fill="#F0B9F0"/>
<rect x="218.4" y="1558.9" width="25.2" height="4.1" fill="#EFB4EF"/>
<rect x="218.4" y="1562.7" width="25.2" height="4.1" fill="#F1BBF1"/>
<rect x="218.4" y="1566.4" width="25.2" height="4.1" fill="#EEAFEE"/>
<rect x="218.4" y="1570.2" width="25.2" height="4.1" fill="#F7D5F7"/>
<rect x="218.4" y="1573.9" width="25.2" height="4.1" fill="#F6D2F6"/>
<rect x="218.4" y="1577.7" width="25.2" height="4.1" fill="#F3C3F3"/>
<rect x="218.4" y="1581.4" width="25.2" height="4.1" fill="#F5CCF5"/>
<rect x="218.4" y="1585.2" width="25.2" height="4.1" fill="#F6D2F6"/>
<rect x="218.4" y="1588.9" width="25.2" height="4.1" fill="#F5CFF5"/>
<line x1="41.3" y1="1399.5" x2="41.3" y2="1593.5" stroke="#222" stroke-width="2.4" stroke-dasharray="20.7 6.9"/>
<line x1="244.1" y1="1399.5" x2="244.1" y2="1593.5" stroke="#222" stroke-width="2.4" stroke-dasharray="20.7 6.9"/>
<line x1="41.3" y1="45.5" x2="244.1" y2="45.5" stroke="#222" stroke-width="2.4" stroke-dasharray="20.7 6.9" stroke-dashoffset="18.6"/>
<line x1="41.3" y1="1593.5" x2="244.1" y2="1593.5" stroke="#222" stroke-width="2.4" stroke-dasharray="20.7 6.9" stroke-dashoffset="18.6"/>
<line x1="41.3" y1="236" x2="244.1" y2="236" stroke="#222" stroke-width="2.6" stroke-dasharray="20.7 20" stroke-dashoffset="7"/>
<line x1="41.3" y1="429.3" x2="244.1" y2="429.3" stroke="#222" stroke-width="2.6" stroke-dasharray="20.7 20" stroke-dashoffset="7"/>
<line x1="41.3" y1="622" x2="244.1" y2="622" stroke="#222" stroke-width="2.6" stroke-dasharray="20.7 20" stroke-dashoffset="7"/>
<line x1="41.3" y1="816.5" x2="244.1" y2="816.5" stroke="#222" stroke-width="2.6" stroke-dasharray="20.7 20" stroke-dashoffset="7"/>
<line x1="41.3" y1="1010.8" x2="244.1" y2="1010.8" stroke="#222" stroke-width="2.6" stroke-dasharray="20.7 20" stroke-dashoffset="7"/>
<line x1="41.3" y1="1205.5" x2="244.1" y2="1205.5" stroke="#222" stroke-width="2.6" stroke-dasharray="20.7 20" stroke-dashoffset="7"/>
<line x1="41.3" y1="1399.5" x2="244.1" y2="1399.5" stroke="#222" stroke-width="2.6" stroke-dasharray="20.7 20" stroke-dashoffset="7"/>
<line x1="250" y1="45.5" x2="250" y2="1593.5" stroke="#333" stroke-width="2.2"/>
<line x1="562.3" y1="45.5" x2="562.3" y2="1593.5" stroke="#333" stroke-width="2.2"/>
<line x1="250" y1="45.5" x2="562.3" y2="45.5" stroke="#222" stroke-width="2.4"/>
<line x1="240" y1="236" x2="562.3" y2="236" stroke="#222" stroke-width="2.4"/>
<line x1="240" y1="429.3" x2="562.3" y2="429.3" stroke="#222" stroke-width="2.4"/>
<line x1="240" y1="622" x2="562.3" y2="622" stroke="#222" stroke-width="2.4"/>
<line x1="240" y1="816.5" x2="562.3" y2="816.5" stroke="#222" stroke-width="2.4"/>
<line x1="240" y1="1010.8" x2="562.3" y2="1010.8" stroke="#222" stroke-width="2.4"/>
<line x1="240" y1="1205.5" x2="562.3" y2="1205.5" stroke="#222" stroke-width="2.4"/>
<line x1="240" y1="1399.5" x2="562.3" y2="1399.5" stroke="#222" stroke-width="2.4"/>
<line x1="250" y1="1593.5" x2="562.3" y2="1593.5" stroke="#222" stroke-width="2.4"/>
<path d="M273.3 86.7 L277.5 86.7 C277.5 87.3 277.6 88.5 277.5 90.2 C277.4 91.9 277.1 94.8 276.9 97.1 C276.8 99.5 276.6 101.9 276.6 104.1 C276.6 106.3 276.2 108.4 276.8 110.2 C277.3 111.9 278.2 112.6 279.7 114.5 C281.2 116.4 283.9 119.2 285.8 121.5 C287.7 123.8 290.0 126.7 291.0 128.4 C292.0 130.2 292.2 130.8 291.9 131.9 C291.6 133.1 290.4 134.4 289.3 135.4 C288.1 136.4 285.7 137.6 284.9 138.0 L265.8 138.0 C265.1 137.6 262.6 136.4 261.5 135.4 C260.3 134.4 259.2 133.1 258.9 131.9 C258.6 130.8 258.7 130.2 259.7 128.4 C260.7 126.7 263.1 123.8 264.9 121.5 C266.8 119.2 269.5 116.4 271.0 114.5 C272.5 112.6 273.5 111.9 274.0 110.2 C274.5 108.4 274.2 106.3 274.2 104.1 C274.1 101.9 274.0 99.5 273.8 97.1 C273.7 94.8 273.4 91.9 273.3 90.2 C273.2 88.5 273.3 87.3 273.3 86.7 Z" fill="#E31A1C" stroke="#222" stroke-width="1.1"/>
<path d="M310.5 129.3 L314.7 129.3 C314.7 130.3 314.6 132.6 314.7 135.4 C314.7 138.1 314.9 142.6 315.2 145.8 C315.5 149.0 315.5 151.6 316.4 154.5 C317.3 157.4 319.3 160.3 320.4 163.2 C321.5 166.1 322.1 169.0 323.0 171.9 C323.9 174.8 325.3 178.6 325.6 180.6 C325.9 182.6 325.6 182.0 324.7 184.1 C323.9 186.1 321.8 189.9 320.4 192.7 C318.9 195.6 317.1 199.1 316.1 201.4 C315.0 203.8 314.4 204.3 314.0 206.7 C313.5 209.0 313.4 211.9 313.3 215.3 C313.2 218.8 313.3 225.5 313.3 227.5 L311.9 227.5 C311.9 225.5 312.0 218.8 311.9 215.3 C311.8 211.9 311.6 209.0 311.2 206.7 C310.7 204.3 310.2 203.8 309.1 201.4 C308.0 199.1 306.2 195.6 304.8 192.7 C303.3 189.9 301.3 186.1 300.4 184.1 C299.5 182.0 299.2 182.6 299.5 180.6 C299.8 178.6 301.3 174.8 302.1 171.9 C303.0 169.0 303.7 166.1 304.8 163.2 C305.9 160.3 307.9 157.4 308.8 154.5 C309.6 151.6 309.7 149.0 310.0 145.8 C310.3 142.6 310.4 138.1 310.5 135.4 C310.6 132.6 310.5 130.3 310.5 129.3 Z" fill="#BDD3EA" stroke="#8E8E8E" stroke-width="0.6"/>
<path d="M348.4 110.7 L351.5 110.7 C351.5 112.8 351.4 118.2 351.7 123.2 C352.0 128.2 352.8 135.7 353.4 140.6 C354.0 145.5 354.3 148.4 355.2 152.8 C356.0 157.1 357.7 162.0 358.6 166.7 C359.6 171.3 360.7 177.1 360.7 180.6 C360.7 184.1 359.9 184.6 358.6 187.5 C357.4 190.4 354.6 195.1 353.4 198.0 C352.2 200.9 351.6 202.6 351.3 204.9 C351.0 207.2 351.7 209.6 351.7 211.9 C351.7 214.2 351.4 216.6 351.3 218.8 C351.3 221.0 351.3 223.9 351.3 224.9 L348.6 224.9 C348.6 223.9 348.6 221.0 348.6 218.8 C348.5 216.6 348.2 214.2 348.2 211.9 C348.2 209.6 348.8 207.2 348.6 204.9 C348.3 202.6 347.7 200.9 346.5 198.0 C345.3 195.1 342.5 190.4 341.3 187.5 C340.0 184.6 339.2 184.1 339.2 180.6 C339.2 177.1 340.3 171.3 341.3 166.7 C342.2 162.0 343.9 157.1 344.7 152.8 C345.6 148.4 345.9 145.5 346.5 140.6 C347.1 135.7 347.9 128.2 348.2 123.2 C348.5 118.2 348.4 112.8 348.4 110.7 Z" fill="#FFDFA6" stroke="#8E8E8E" stroke-width="0.6"/>
<path d="M386.5 109.3 L388.2 109.3 C388.2 111.6 388.0 118.3 388.2 123.2 C388.3 128.1 388.5 134.5 389.1 138.9 C389.6 143.2 390.5 144.7 391.7 149.3 C392.8 153.9 394.7 160.9 396.0 166.7 C397.3 172.5 398.7 180.3 399.5 184.1 C400.3 187.8 400.9 187.8 400.9 189.3 C400.9 190.7 400.0 191.9 399.5 192.7 C399.0 193.6 398.3 193.9 398.1 194.1 L376.5 194.1 C376.3 193.9 375.6 193.6 375.2 192.7 C374.7 191.9 373.8 190.7 373.8 189.3 C373.8 187.8 374.3 187.8 375.2 184.1 C376.0 180.3 377.3 172.5 378.6 166.7 C379.9 160.9 381.8 153.9 383.0 149.3 C384.1 144.7 385.0 143.2 385.6 138.9 C386.2 134.5 386.3 128.1 386.5 123.2 C386.6 118.3 386.5 111.6 386.5 109.3 Z" fill="#B5DBD6" stroke="#8E8E8E" stroke-width="0.6"/>
<path d="M423.1 110.2 L425.6 110.2 C425.6 113.8 425.6 125.4 425.7 131.9 C425.8 138.4 425.9 143.5 426.1 149.3 C426.3 155.1 426.2 161.5 427.0 166.7 C427.7 171.9 429.0 176.2 430.4 180.6 C431.9 184.9 434.0 189.3 435.6 192.7 C437.2 196.2 439.2 199.4 440.0 201.4 C440.8 203.5 440.9 203.5 440.3 204.9 C439.8 206.4 438.3 207.8 436.5 210.1 C434.7 212.4 431.3 216.8 429.6 218.8 C427.8 220.9 426.7 221.0 426.1 222.3 C425.4 223.6 425.8 225.9 425.7 226.6 L423.0 226.6 C422.9 225.9 423.2 223.6 422.6 222.3 C422.0 221.0 420.9 220.9 419.1 218.8 C417.4 216.8 414.0 212.4 412.2 210.1 C410.4 207.8 408.9 206.4 408.4 204.9 C407.8 203.5 407.9 203.5 408.7 201.4 C409.5 199.4 411.5 196.2 413.0 192.7 C414.6 189.3 416.8 184.9 418.3 180.6 C419.7 176.2 421.0 171.9 421.7 166.7 C422.5 161.5 422.4 155.1 422.6 149.3 C422.8 143.5 422.9 138.4 423.0 131.9 C423.0 125.4 423.1 113.8 423.1 110.2 Z" fill="#DEB8F6" stroke="#8E8E8E" stroke-width="0.6"/>
<path d="M457.0 143.6 L466.8 143.6 C466.8 144.5 467.0 146.9 467.1 149.3 C467.2 151.7 467.0 155.1 467.1 158.0 C467.2 160.9 467.5 163.8 468.0 166.7 C468.4 169.6 469.0 172.5 469.7 175.4 C470.4 178.3 471.5 181.5 472.0 184.1 C472.4 186.7 472.7 188.7 472.3 191.0 C471.9 193.3 470.6 195.6 469.7 198.0 C468.8 200.3 467.5 202.9 466.8 204.9 C466.0 206.9 465.4 207.8 465.0 210.1 C464.6 212.4 464.6 216.6 464.5 218.8 C464.4 221.0 464.5 222.4 464.5 223.2 L459.3 223.2 C459.3 222.4 459.4 221.0 459.3 218.8 C459.2 216.6 459.1 212.4 458.8 210.1 C458.4 207.8 457.8 206.9 457.0 204.9 C456.2 202.9 455.0 200.3 454.1 198.0 C453.1 195.6 451.8 193.3 451.5 191.0 C451.1 188.7 451.4 186.7 451.8 184.1 C452.2 181.5 453.4 178.3 454.1 175.4 C454.7 172.5 455.4 169.6 455.8 166.7 C456.2 163.8 456.5 160.9 456.7 158.0 C456.8 155.1 456.6 151.7 456.7 149.3 C456.7 146.9 457.0 144.5 457.0 143.6 Z" fill="#DEEDBA" stroke="#8E8E8E" stroke-width="0.6"/>
<path d="M498.4 122.7 L499.8 122.7 C499.8 124.7 499.6 132.1 499.8 134.5 C500.0 136.9 500.8 136.2 500.8 137.1 C500.8 138.1 500.0 136.8 499.8 140.3 C499.6 143.7 499.6 154.6 499.8 158.0 C500.0 161.4 500.8 159.7 500.8 160.6 C500.9 161.5 499.8 162.2 500.0 163.5 C500.1 164.9 499.1 167.5 501.7 168.8 C504.3 170.1 514.6 170.6 515.6 171.4 C516.6 172.1 510.2 172.5 507.8 173.1 C505.3 173.7 502.1 173.8 500.8 175.0 C499.5 176.3 500.1 177.6 500.0 180.6 C499.8 183.6 500.0 191.0 500.0 193.1 L498.2 193.1 C498.2 191.0 498.4 183.6 498.2 180.6 C498.1 177.6 498.7 176.3 497.3 175.0 C496.0 173.8 492.9 173.7 490.4 173.1 C487.9 172.5 481.6 172.1 482.6 171.4 C483.6 170.6 493.9 170.1 496.5 168.8 C499.1 167.5 498.1 164.9 498.2 163.5 C498.4 162.2 497.3 161.5 497.3 160.6 C497.4 159.7 498.2 161.4 498.4 158.0 C498.6 154.6 498.6 143.7 498.4 140.3 C498.2 136.8 497.3 138.1 497.3 137.1 C497.3 136.2 498.2 136.9 498.4 134.5 C498.6 132.1 498.4 124.7 498.4 122.7 Z" fill="#CFDFF6" stroke="#8E8E8E" stroke-width="0.6"/>
<path d="M535.4 147.2 L537.2 147.2 C537.3 148.1 537.2 150.7 538.0 152.8 C538.9 154.9 540.9 157.4 542.4 159.7 C543.8 162.0 545.1 164.9 546.7 166.7 C548.3 168.4 550.6 169.0 551.9 170.2 C553.2 171.3 555.4 172.6 554.5 173.6 C553.7 174.6 549.3 175.1 546.7 176.2 C544.1 177.4 540.5 179.3 538.9 180.6 C537.3 181.9 537.3 180.6 537.0 184.1 C536.7 187.5 537.0 197.4 537.0 201.4 C537.0 205.5 537.1 207.2 537.2 208.4 L535.4 208.4 C535.4 207.2 535.6 205.5 535.6 201.4 C535.6 197.4 535.9 187.5 535.6 184.1 C535.3 180.6 535.3 181.9 533.7 180.6 C532.1 179.3 528.5 177.4 525.9 176.2 C523.2 175.1 518.9 174.6 518.0 173.6 C517.2 172.6 519.3 171.3 520.6 170.2 C521.9 169.0 524.3 168.4 525.9 166.7 C527.4 164.9 528.8 162.0 530.2 159.7 C531.7 157.4 533.7 154.9 534.5 152.8 C535.4 150.7 535.3 148.1 535.4 147.2 Z" fill="#FFB4FF" stroke="#8E8E8E" stroke-width="0.6"/>
<text x="276.2" y="79.4" text-anchor="middle">***</text>
<line x1="562.3" y1="87" x2="572.7" y2="87" stroke="#333" stroke-width="2"/>
<line x1="562.3" y1="227.9" x2="572.7" y2="227.9" stroke="#333" stroke-width="2"/>
<text x="574.5" y="98">1</text>
<text x="574.5" y="238.9">0</text>
<text x="30" y="140.8" text-anchor="middle" transform="rotate(-90 30 140.8)">V1</text>
<path d="M272.9 308.1 L277.8 308.1 C277.8 308.9 278.0 311.2 277.8 312.5 C277.6 313.8 276.7 314.2 276.4 316.0 C276.2 317.7 276.2 320.6 276.4 322.9 C276.6 325.2 277.3 327.5 277.5 329.9 C277.6 332.2 277.7 334.5 277.5 336.8 C277.3 339.1 276.2 341.5 276.2 343.8 C276.3 346.1 276.7 348.4 278.0 350.7 C279.3 353.0 282.0 355.4 284.1 357.7 C286.2 360.0 289.8 362.6 290.7 364.6 C291.5 366.7 291.0 367.8 289.3 369.8 C287.6 371.9 282.7 374.8 280.6 376.8 C278.5 378.8 277.5 380.3 276.8 382.0 C276.0 383.7 276.1 385.5 276.2 387.2 C276.4 389.0 277.6 390.7 277.8 392.4 C278.1 394.2 277.8 396.1 277.8 397.7 C277.8 399.2 277.8 401.3 277.8 402.0 L272.9 402.0 C272.9 401.3 272.9 399.2 272.9 397.7 C272.9 396.1 272.7 394.2 272.9 392.4 C273.2 390.7 274.3 389.0 274.5 387.2 C274.7 385.5 274.7 383.7 274.0 382.0 C273.3 380.3 272.2 378.8 270.2 376.8 C268.1 374.8 263.2 371.9 261.5 369.8 C259.8 367.8 259.2 366.7 260.1 364.6 C261.0 362.6 264.6 360.0 266.7 357.7 C268.8 355.4 271.5 353.0 272.8 350.7 C274.1 348.4 274.4 346.1 274.5 343.8 C274.6 341.5 273.5 339.1 273.3 336.8 C273.1 334.5 273.1 332.2 273.3 329.9 C273.5 327.5 274.2 325.2 274.3 322.9 C274.5 320.6 274.6 317.7 274.3 316.0 C274.1 314.2 273.2 313.8 272.9 312.5 C272.7 311.2 272.9 308.9 272.9 308.1 Z" fill="#F4B6B6" stroke="#8E8E8E" stroke-width="0.6"/>
<path d="M311.2 276.3 L314.0 276.3 C314.0 278.3 313.8 284.7 314.0 288.1 C314.2 291.6 314.5 293.9 315.2 296.8 C315.8 299.7 316.5 302.9 317.8 305.5 C319.1 308.1 321.6 310.2 323.0 312.5 C324.5 314.8 325.3 317.4 326.5 319.4 C327.6 321.5 329.8 323.2 330.0 324.6 C330.1 326.1 328.5 327.1 327.4 328.1 C326.2 329.1 323.7 330.3 323.0 330.7 L302.1 330.7 C301.4 330.3 299.0 329.1 297.8 328.1 C296.6 327.1 295.0 326.1 295.2 324.6 C295.3 323.2 297.5 321.5 298.7 319.4 C299.8 317.4 300.7 314.8 302.1 312.5 C303.6 310.2 306.1 308.1 307.4 305.5 C308.7 302.9 309.3 299.7 310.0 296.8 C310.6 293.9 311.0 291.6 311.2 288.1 C311.4 284.7 311.2 278.3 311.2 276.3 Z" fill="#3579B7" stroke="#222" stroke-width="1.1"/>
<path d="M349.1 326.4 L350.8 326.4 C350.8 327.0 350.7 325.8 350.6 329.9 C350.6 333.9 350.5 346.7 350.6 350.7 C350.8 354.8 351.3 353.0 351.3 354.2 C351.4 355.4 350.7 356.4 350.8 357.7 C350.9 359.0 351.9 360.3 352.0 362.0 C352.1 363.8 351.1 366.2 351.3 368.1 C351.6 370.0 350.6 371.9 353.4 373.3 C356.2 374.8 367.9 375.8 368.2 376.8 C368.5 377.8 358.1 378.5 355.2 379.4 C352.3 380.3 351.6 378.8 350.8 382.0 C350.1 385.2 350.7 395.8 350.6 398.5 L349.3 398.5 C349.2 395.8 349.8 385.2 349.1 382.0 C348.3 378.8 347.6 380.3 344.7 379.4 C341.8 378.5 331.4 377.8 331.7 376.8 C332.0 375.8 343.7 374.8 346.5 373.3 C349.3 371.9 348.3 370.0 348.6 368.1 C348.8 366.2 347.8 363.8 347.9 362.0 C347.9 360.3 349.0 359.0 349.1 357.7 C349.2 356.4 348.5 355.4 348.6 354.2 C348.6 353.0 349.1 354.8 349.3 350.7 C349.4 346.7 349.3 333.9 349.3 329.9 C349.2 325.8 349.1 327.0 349.1 326.4 Z" fill="#FFDFA6" stroke="#8E8E8E" stroke-width="0.6"/>
<path d="M386.6 278.1 L388.0 278.1 C388.0 288.4 387.9 327.0 388.0 340.3 C388.1 353.6 388.1 353.0 388.7 357.7 C389.3 362.3 390.7 364.9 391.7 368.1 C392.6 371.3 393.6 374.2 394.3 376.8 C394.9 379.4 396.1 381.4 395.7 383.7 C395.2 386.1 392.8 388.7 391.7 390.7 C390.6 392.7 389.6 392.7 389.1 395.9 C388.5 399.1 388.3 405.5 388.2 409.8 C388.0 414.1 388.2 419.7 388.2 421.6 L386.5 421.6 C386.5 419.7 386.6 414.1 386.5 409.8 C386.3 405.5 386.2 399.1 385.6 395.9 C385.0 392.7 384.1 392.7 383.0 390.7 C381.9 388.7 379.4 386.1 379.0 383.7 C378.5 381.4 379.7 379.4 380.4 376.8 C381.0 374.2 382.0 371.3 383.0 368.1 C383.9 364.9 385.3 362.3 385.9 357.7 C386.5 353.0 386.5 353.6 386.6 340.3 C386.7 327.0 386.6 288.4 386.6 278.1 Z" fill="#B5DBD6" stroke="#8E8E8E" stroke-width="0.6"/>
<path d="M423.6 354.7 L425.0 354.7 C425.2 355.8 425.7 358.9 425.7 361.2 C425.7 363.4 425.0 365.8 425.0 368.1 C425.1 370.4 425.6 373.0 426.1 375.1 C426.5 377.1 427.5 378.2 427.8 380.3 C428.1 382.3 427.2 385.2 427.8 387.2 C428.4 389.3 428.7 390.7 431.3 392.4 C433.8 394.2 442.8 396.2 443.1 397.7 C443.4 399.1 435.6 400.0 433.0 401.1 C430.5 402.3 428.9 403.5 427.8 404.6 C426.7 405.7 426.7 407.1 426.4 407.6 L422.3 407.6 C422.0 407.1 422.0 405.7 420.9 404.6 C419.8 403.5 418.2 402.3 415.7 401.1 C413.1 400.0 405.3 399.1 405.6 397.7 C405.9 396.2 414.8 394.2 417.4 392.4 C419.9 390.7 420.3 389.3 420.9 387.2 C421.4 385.2 420.6 382.3 420.9 380.3 C421.2 378.2 422.1 377.1 422.6 375.1 C423.1 373.0 423.6 370.4 423.6 368.1 C423.7 365.8 423.0 363.4 423.0 361.2 C423.0 358.9 423.5 355.8 423.6 354.7 Z" fill="#DEB8F6" stroke="#8E8E8E" stroke-width="0.6"/>
<path d="M461.2 349.0 L462.6 349.0 C462.8 350.4 463.3 354.8 463.6 357.7 C463.9 360.6 463.9 363.5 464.5 366.4 C465.1 369.3 465.9 372.7 467.1 375.1 C468.3 377.4 469.9 378.7 471.4 380.3 C473.0 381.9 475.8 383.9 476.7 384.6 L447.1 384.6 C448.0 383.9 450.7 381.9 452.3 380.3 C453.9 378.7 455.5 377.4 456.7 375.1 C457.8 372.7 458.7 369.3 459.3 366.4 C459.9 363.5 459.8 360.6 460.2 357.7 C460.5 354.8 461.0 350.4 461.2 349.0 Z" fill="#DEEDBA" stroke="#8E8E8E" stroke-width="0.6"/>
<path d="M498.4 286.4 L499.8 286.4 C499.8 295.4 499.8 329.9 500.0 340.3 C500.1 350.7 500.5 346.1 500.8 349.0 C501.1 351.9 500.1 355.4 501.7 357.7 C503.3 360.0 509.7 361.6 510.4 362.9 C511.1 364.2 507.7 364.6 506.0 365.5 C504.4 366.4 501.5 365.1 500.5 368.1 C499.5 371.1 500.0 381.1 500.0 383.7 L498.2 383.7 C498.1 381.1 498.7 371.1 497.7 368.1 C496.7 365.1 493.8 366.4 492.1 365.5 C490.5 364.6 487.1 364.2 487.8 362.9 C488.5 361.6 494.9 360.0 496.5 357.7 C498.1 355.4 497.1 351.9 497.3 349.0 C497.6 346.1 498.0 350.7 498.2 340.3 C498.4 329.9 498.4 295.4 498.4 286.4 Z" fill="#CFDFF6" stroke="#8E8E8E" stroke-width="0.6"/>
<path d="M535.4 350.2 L537.2 350.2 C537.4 350.9 538.7 353.0 538.9 354.2 C539.1 355.4 538.2 356.7 538.4 357.7 C538.5 358.7 538.7 359.3 539.8 360.3 C540.9 361.3 541.8 362.9 545.0 363.8 C548.2 364.6 559.5 364.9 558.9 365.5 C558.3 366.1 545.1 366.7 541.5 367.2 C537.9 367.8 537.9 367.4 537.3 369.0 C536.7 370.6 538.1 374.9 538.0 376.8 C538.0 378.7 537.3 378.5 537.2 380.3 C537.0 382.0 537.3 385.2 537.3 387.2 C537.4 389.3 537.4 390.1 537.3 392.4 C537.3 394.8 537.2 399.7 537.2 401.1 L535.4 401.1 C535.4 399.7 535.3 394.8 535.2 392.4 C535.2 390.1 535.2 389.3 535.2 387.2 C535.3 385.2 535.5 382.0 535.4 380.3 C535.3 378.5 534.6 378.7 534.5 376.8 C534.5 374.9 535.8 370.6 535.2 369.0 C534.7 367.4 534.7 367.8 531.1 367.2 C527.5 366.7 514.3 366.1 513.7 365.5 C513.1 364.9 524.4 364.6 527.6 363.8 C530.8 362.9 531.7 361.3 532.8 360.3 C533.9 359.3 534.1 358.7 534.2 357.7 C534.3 356.7 533.5 355.4 533.7 354.2 C533.9 353.0 535.1 350.9 535.4 350.2 Z" fill="#FFB4FF" stroke="#8E8E8E" stroke-width="0.6"/>
<text x="314.6" y="272.2" text-anchor="middle">***</text>
<line x1="562.3" y1="275.5" x2="572.7" y2="275.5" stroke="#333" stroke-width="2"/>
<line x1="562.3" y1="421.4" x2="572.7" y2="421.4" stroke="#333" stroke-width="2"/>
<text x="574.5" y="286.5">1</text>
<text x="574.5" y="432.4">0</text>
<text x="30" y="332.6" text-anchor="middle" transform="rotate(-90 30 332.6)">V2</text>
<path d="M274.7 512.4 L276.1 512.4 C276.1 513.6 276.2 517.1 276.2 519.4 C276.2 521.7 276.1 522.6 276.1 526.3 C276.1 530.1 276.1 537.3 276.2 542.0 C276.4 546.6 276.8 551.0 276.8 554.2 C276.8 557.3 276.1 558.8 276.2 561.1 C276.4 563.4 276.7 566.0 277.5 568.1 C278.2 570.1 278.5 571.4 280.6 573.3 C282.7 575.2 289.9 577.9 290.2 579.4 C290.4 580.8 284.4 580.9 282.3 582.0 C280.2 583.0 278.3 584.0 277.5 585.4 C276.6 586.9 277.3 588.9 277.1 590.7 C276.9 592.4 276.2 593.8 276.1 595.9 C275.9 597.9 276.0 600.8 276.1 602.8 C276.2 604.9 276.8 606.4 276.8 608.0 C276.8 609.6 276.2 611.7 276.1 612.4 L274.7 612.4 C274.6 611.7 274.0 609.6 274.0 608.0 C274.0 606.4 274.6 604.9 274.7 602.8 C274.8 600.8 274.9 597.9 274.7 595.9 C274.5 593.8 273.9 592.4 273.6 590.7 C273.4 588.9 274.2 586.9 273.3 585.4 C272.4 584.0 270.5 583.0 268.4 582.0 C266.3 580.9 260.3 580.8 260.6 579.4 C260.9 577.9 268.0 575.2 270.2 573.3 C272.3 571.4 272.6 570.1 273.3 568.1 C274.0 566.0 274.4 563.4 274.5 561.1 C274.6 558.8 274.0 557.3 274.0 554.2 C274.0 551.0 274.4 546.6 274.5 542.0 C274.6 537.3 274.7 530.1 274.7 526.3 C274.7 522.6 274.5 521.7 274.5 519.4 C274.5 517.1 274.7 513.6 274.7 512.4 Z" fill="#F4B6B6" stroke="#8E8E8E" stroke-width="0.6"/>
<path d="M311.9 537.3 L313.3 537.3 C313.3 538.9 313.5 544.4 313.6 547.2 C313.7 550.0 314.0 551.8 314.0 554.2 C313.9 556.5 313.2 558.8 313.3 561.1 C313.3 563.4 314.0 566.0 314.3 568.1 C314.6 570.1 314.9 571.8 315.2 573.3 C315.5 574.7 313.2 575.5 316.1 576.7 C318.9 578.0 332.4 579.6 332.6 580.6 C332.7 581.6 319.7 581.9 316.9 582.8 C314.2 583.8 316.6 585.0 316.1 586.3 C315.5 587.6 313.9 589.1 313.4 590.7 C313.0 592.2 313.6 594.0 313.6 595.9 C313.6 597.8 313.3 600.9 313.3 602.0 L311.9 602.0 C311.8 600.9 311.6 597.8 311.5 595.9 C311.5 594.0 312.1 592.2 311.7 590.7 C311.3 589.1 309.7 587.6 309.1 586.3 C308.5 585.0 311.0 583.8 308.2 582.8 C305.5 581.9 292.4 581.6 292.6 580.6 C292.7 579.6 306.2 578.0 309.1 576.7 C312.0 575.5 309.7 574.7 310.0 573.3 C310.3 571.8 310.5 570.1 310.8 568.1 C311.2 566.0 311.8 563.4 311.9 561.1 C311.9 558.8 311.2 556.5 311.2 554.2 C311.1 551.8 311.4 550.0 311.5 547.2 C311.6 544.4 311.8 538.9 311.9 537.3 Z" fill="#BDD3EA" stroke="#8E8E8E" stroke-width="0.6"/>
<path d="M349.1 475.4 L350.8 475.4 C351.1 476.4 352.3 478.7 352.6 481.1 C352.8 483.6 352.3 487.5 352.6 489.8 C352.8 492.2 353.1 493.3 354.3 495.1 C355.5 496.8 357.9 498.5 359.5 500.3 C361.1 502.0 363.4 504.0 363.9 505.5 C364.3 506.9 363.1 507.9 362.1 509.0 C361.1 510.1 358.9 511.3 357.8 512.1 C356.6 512.8 355.6 513.2 355.2 513.5 L344.7 513.5 C344.3 513.2 343.3 512.8 342.1 512.1 C341.0 511.3 338.8 510.1 337.8 509.0 C336.8 507.9 335.6 506.9 336.0 505.5 C336.5 504.0 338.8 502.0 340.4 500.3 C342.0 498.5 344.4 496.8 345.6 495.1 C346.8 493.3 347.1 492.2 347.3 489.8 C347.6 487.5 347.1 483.6 347.3 481.1 C347.6 478.7 348.8 476.4 349.1 475.4 Z" fill="#FFA500" stroke="#222" stroke-width="1.1"/>
<path d="M386.5 523.0 L388.2 523.0 C388.3 524.7 388.4 528.7 388.7 533.3 C389.0 537.9 389.4 545.5 389.9 550.7 C390.4 555.9 390.8 560.8 391.7 564.6 C392.5 568.3 393.5 570.4 395.1 573.3 C396.7 576.2 399.6 579.2 401.2 582.0 C402.8 584.7 405.0 587.5 404.7 589.8 C404.4 592.1 401.5 593.7 399.5 595.9 C397.5 598.0 394.3 600.8 392.5 602.8 C390.7 604.9 389.4 605.9 388.7 608.0 C388.0 610.2 388.3 614.6 388.2 615.9 L386.5 615.9 C386.4 614.6 386.7 610.2 385.9 608.0 C385.2 605.9 383.9 604.9 382.1 602.8 C380.3 600.8 377.2 598.0 375.2 595.9 C373.1 593.7 370.2 592.1 369.9 589.8 C369.6 587.5 371.8 584.7 373.4 582.0 C375.0 579.2 377.9 576.2 379.5 573.3 C381.1 570.4 382.1 568.3 383.0 564.6 C383.8 560.8 384.2 555.9 384.7 550.7 C385.2 545.5 385.6 537.9 385.9 533.3 C386.2 528.7 386.4 524.7 386.5 523.0 Z" fill="#B5DBD6" stroke="#8E8E8E" stroke-width="0.6"/>
<path d="M423.8 473.3 L424.9 473.3 C424.9 481.6 424.7 512.9 424.9 522.9 C425.1 532.9 425.4 530.1 426.1 533.3 C426.7 536.5 427.8 539.1 428.7 542.0 C429.6 544.9 430.6 547.8 431.3 550.7 C432.0 553.6 432.5 556.5 432.7 559.4 C432.8 562.3 432.4 564.3 432.2 568.1 C431.9 571.8 431.7 577.6 431.3 582.0 C430.9 586.3 430.1 590.2 429.6 594.1 C429.0 598.0 428.1 603.5 427.8 605.4 L420.9 605.4 C420.6 603.5 419.7 598.0 419.1 594.1 C418.5 590.2 417.8 586.3 417.4 582.0 C417.0 577.6 416.8 571.8 416.5 568.1 C416.3 564.3 415.9 562.3 416.0 559.4 C416.1 556.5 416.7 553.6 417.4 550.7 C418.1 547.8 419.1 544.9 420.0 542.0 C420.9 539.1 422.0 536.5 422.6 533.3 C423.2 530.1 423.6 532.9 423.8 522.9 C424.0 512.9 423.8 481.6 423.8 473.3 Z" fill="#DEB8F6" stroke="#8E8E8E" stroke-width="0.6"/>
<path d="M461.4 473.3 L462.4 473.3 C462.5 477.5 462.3 491.4 462.8 498.5 C463.3 505.6 464.5 510.7 465.4 515.9 C466.2 521.1 467.3 525.5 468.0 529.8 C468.6 534.2 469.2 538.5 469.2 542.0 C469.2 545.5 468.5 546.3 468.0 550.7 C467.5 555.0 466.7 562.3 466.2 568.1 C465.7 573.9 465.5 579.6 465.0 585.4 C464.6 591.2 464.0 598.5 463.6 602.8 C463.3 607.2 462.9 610.1 462.8 611.5 L461.0 611.5 C460.9 610.1 460.5 607.2 460.2 602.8 C459.8 598.5 459.2 591.2 458.8 585.4 C458.3 579.6 458.0 573.9 457.5 568.1 C457.1 562.3 456.3 555.0 455.8 550.7 C455.3 546.3 454.6 545.5 454.6 542.0 C454.6 538.5 455.2 534.2 455.8 529.8 C456.4 525.5 457.5 521.1 458.4 515.9 C459.3 510.7 460.5 505.6 461.0 498.5 C461.5 491.4 461.3 477.5 461.4 473.3 Z" fill="#DEEDBA" stroke="#8E8E8E" stroke-width="0.6"/>
<path d="M498.4 486.4 L499.8 486.4 C499.8 493.0 499.7 515.6 499.8 526.3 C499.9 537.1 499.6 545.5 500.5 550.7 C501.4 555.9 502.9 554.7 505.2 557.6 C507.4 560.5 513.4 565.2 513.9 568.1 C514.3 571.0 510.0 572.7 507.8 575.0 C505.6 577.3 502.2 580.2 500.8 582.0 C499.5 583.7 500.0 584.9 499.8 585.4 L498.4 585.4 C498.2 584.9 498.7 583.7 497.3 582.0 C496.0 580.2 492.6 577.3 490.4 575.0 C488.2 572.7 483.9 571.0 484.3 568.1 C484.7 565.2 490.8 560.5 493.0 557.6 C495.2 554.7 496.8 555.9 497.7 550.7 C498.6 545.5 498.3 537.1 498.4 526.3 C498.5 515.6 498.4 493.0 498.4 486.4 Z" fill="#CFDFF6" stroke="#8E8E8E" stroke-width="0.6"/>
<path d="M534.9 480.3 L537.7 480.3 C537.6 481.0 537.0 482.2 537.0 484.6 C537.0 487.1 537.7 492.2 537.7 495.1 C537.7 497.9 537.1 495.6 537.0 502.0 C536.9 508.4 536.9 526.6 537.0 533.3 C537.1 540.0 537.7 539.1 537.7 542.0 C537.7 544.9 536.3 548.1 537.0 550.7 C537.6 553.3 539.6 555.3 541.5 557.6 C543.4 559.9 546.3 562.6 548.5 564.6 C550.6 566.6 555.4 568.1 554.5 569.8 C553.7 571.5 546.0 573.6 543.2 575.0 C540.4 576.5 538.5 576.7 537.7 578.5 C536.8 580.2 538.1 583.1 538.0 585.4 C537.9 587.8 537.3 591.2 537.2 592.4 L535.4 592.4 C535.3 591.2 534.6 587.8 534.5 585.4 C534.5 583.1 535.8 580.2 534.9 578.5 C534.0 576.7 532.1 576.5 529.3 575.0 C526.5 573.6 518.9 571.5 518.0 569.8 C517.2 568.1 521.9 566.6 524.1 564.6 C526.3 562.6 529.2 559.9 531.1 557.6 C533.0 555.3 535.0 553.3 535.6 550.7 C536.2 548.1 534.9 544.9 534.9 542.0 C534.9 539.1 535.5 540.0 535.6 533.3 C535.7 526.6 535.7 508.4 535.6 502.0 C535.5 495.6 534.9 497.9 534.9 495.1 C534.9 492.2 535.6 487.1 535.6 484.6 C535.6 482.2 535.0 481.0 534.9 480.3 Z" fill="#FFB4FF" stroke="#8E8E8E" stroke-width="0.6"/>
<text x="355.4" y="468.2" text-anchor="middle">***</text>
<line x1="562.3" y1="472.7" x2="572.7" y2="472.7" stroke="#333" stroke-width="2"/>
<line x1="562.3" y1="613" x2="572.7" y2="613" stroke="#333" stroke-width="2"/>
<text x="574.5" y="483.7">1</text>
<text x="574.5" y="624">0</text>
<text x="30" y="525.6" text-anchor="middle" transform="rotate(-90 30 525.6)">V3</text>
<path d="M273.6 719.3 L277.1 719.3 C277.2 720.5 277.5 724.0 277.5 726.3 C277.4 728.6 276.8 730.9 276.8 733.2 C276.8 735.6 276.8 737.9 277.5 740.2 C278.1 742.5 279.2 744.8 280.6 747.2 C282.0 749.5 283.5 751.8 285.8 754.1 C288.1 756.4 292.9 759.3 294.5 761.1 C296.1 762.8 296.8 763.1 295.4 764.5 C293.9 766.0 288.4 768.0 285.8 769.7 C283.2 771.5 281.1 773.5 279.7 775.0 C278.3 776.4 277.9 777.0 277.5 778.4 C277.0 779.9 277.2 782.2 277.1 783.7 C277.1 785.1 277.1 786.6 277.1 787.1 L273.6 787.1 C273.6 786.6 273.7 785.1 273.6 783.7 C273.6 782.2 273.7 779.9 273.3 778.4 C272.9 777.0 272.4 776.4 271.0 775.0 C269.6 773.5 267.6 771.5 264.9 769.7 C262.3 768.0 256.8 766.0 255.4 764.5 C253.9 763.1 254.7 762.8 256.3 761.1 C257.9 759.3 262.6 756.4 264.9 754.1 C267.3 751.8 268.8 749.5 270.2 747.2 C271.6 744.8 272.7 742.5 273.3 740.2 C273.9 737.9 274.0 735.6 274.0 733.2 C274.0 730.9 273.4 728.6 273.3 726.3 C273.2 724.0 273.6 720.5 273.6 719.3 Z" fill="#F4B6B6" stroke="#8E8E8E" stroke-width="0.6"/>
<path d="M311.9 696.7 L313.3 696.7 C313.3 698.8 313.4 704.6 313.6 708.9 C313.9 713.3 314.1 718.5 314.7 722.8 C315.2 727.2 315.8 730.9 316.9 735.0 C318.0 739.0 320.0 743.7 321.3 747.2 C322.6 750.6 323.9 753.5 324.7 755.8 C325.6 758.2 326.3 759.3 326.1 761.1 C326.0 762.8 325.0 764.5 323.9 766.3 C322.8 768.0 320.8 769.8 319.5 771.5 C318.2 773.2 316.6 775.5 316.1 776.4 L309.1 776.4 C308.5 775.5 306.9 773.2 305.6 771.5 C304.3 769.8 302.4 768.0 301.3 766.3 C300.2 764.5 299.2 762.8 299.0 761.1 C298.9 759.3 299.6 758.2 300.4 755.8 C301.2 753.5 302.6 750.6 303.9 747.2 C305.2 743.7 307.1 739.0 308.2 735.0 C309.3 730.9 309.9 727.2 310.5 722.8 C311.0 718.5 311.3 713.3 311.5 708.9 C311.8 704.6 311.8 698.8 311.9 696.7 Z" fill="#BDD3EA" stroke="#8E8E8E" stroke-width="0.6"/>
<path d="M345.6 718.5 L354.3 718.5 C354.4 719.2 355.0 720.4 355.2 722.8 C355.3 725.3 355.3 729.8 355.2 733.2 C355.0 736.7 354.3 740.2 354.3 743.7 C354.3 747.2 354.6 751.2 355.2 754.1 C355.7 757.0 357.0 759.0 357.8 761.1 C358.5 763.1 359.5 764.5 359.5 766.3 C359.5 768.0 358.6 769.5 357.8 771.5 C356.9 773.5 355.2 776.1 354.3 778.4 C353.3 780.8 352.5 783.7 352.0 785.4 C351.6 787.1 351.7 788.0 351.7 788.5 L348.2 788.5 C348.2 788.0 348.3 787.1 347.9 785.4 C347.4 783.7 346.6 780.8 345.6 778.4 C344.6 776.1 343.0 773.5 342.1 771.5 C341.3 769.5 340.4 768.0 340.4 766.3 C340.4 764.5 341.4 763.1 342.1 761.1 C342.9 759.0 344.2 757.0 344.7 754.1 C345.3 751.2 345.6 747.2 345.6 743.7 C345.6 740.2 344.9 736.7 344.7 733.2 C344.6 729.8 344.6 725.3 344.7 722.8 C344.9 720.4 345.5 719.2 345.6 718.5 Z" fill="#FFDFA6" stroke="#8E8E8E" stroke-width="0.6"/>
<path d="M384.9 667.5 L389.8 667.5 C389.8 668.6 389.8 672.2 389.9 674.1 C390.1 676.1 390.5 677.3 390.8 679.4 C391.1 681.4 390.9 684.6 391.7 686.3 C392.4 688.1 393.3 688.3 395.1 689.8 C397.0 691.2 400.5 693.3 403.0 695.0 C405.4 696.7 408.3 698.9 409.9 700.2 C411.5 701.5 413.1 702.0 412.5 702.8 C411.9 703.7 407.5 705.0 406.4 705.4 L368.2 705.4 C367.2 705.0 362.7 703.7 362.1 702.8 C361.5 702.0 363.1 701.5 364.7 700.2 C366.3 698.9 369.2 696.7 371.7 695.0 C374.1 693.3 377.6 691.2 379.5 689.8 C381.4 688.3 382.2 688.1 383.0 686.3 C383.7 684.6 383.6 681.4 383.8 679.4 C384.1 677.3 384.5 676.1 384.7 674.1 C384.9 672.2 384.9 668.6 384.9 667.5 Z" fill="#1E8A78" stroke="#222" stroke-width="1.1"/>
<path d="M423.5 740.7 L425.2 740.7 C425.8 741.8 427.8 744.9 428.7 747.2 C429.6 749.4 430.1 751.8 430.4 754.1 C430.7 756.4 430.3 758.7 430.4 761.1 C430.6 763.4 430.6 765.7 431.3 768.0 C432.0 770.3 433.8 772.6 434.8 775.0 C435.8 777.3 437.5 779.6 437.4 781.9 C437.2 784.2 435.4 786.6 433.9 788.9 C432.5 791.2 430.1 793.9 428.7 795.8 C427.3 797.8 426.2 799.9 425.7 800.7 L423.0 800.7 C422.5 799.9 421.4 797.8 420.0 795.8 C418.6 793.9 416.2 791.2 414.8 788.9 C413.3 786.6 411.5 784.2 411.3 781.9 C411.2 779.6 412.9 777.3 413.9 775.0 C414.9 772.6 416.7 770.3 417.4 768.0 C418.1 765.7 418.1 763.4 418.3 761.1 C418.4 758.7 418.0 756.4 418.3 754.1 C418.5 751.8 419.1 749.4 420.0 747.2 C420.9 744.9 422.9 741.8 423.5 740.7 Z" fill="#DEB8F6" stroke="#8E8E8E" stroke-width="0.6"/>
<path d="M461.4 719.9 L462.4 719.9 C462.5 721.5 462.3 726.4 462.8 729.8 C463.3 733.2 464.5 736.7 465.4 740.2 C466.2 743.7 466.8 747.2 468.0 750.6 C469.1 754.1 470.9 758.2 472.3 761.1 C473.8 764.0 475.8 766.0 476.7 768.0 C477.5 770.0 477.8 771.8 477.5 773.2 C477.2 774.7 475.9 775.7 474.9 776.7 C473.9 777.7 472.0 778.9 471.4 779.3 L452.3 779.3 C451.7 778.9 449.9 777.7 448.9 776.7 C447.8 775.7 446.5 774.7 446.2 773.2 C446.0 771.8 446.2 770.0 447.1 768.0 C448.0 766.0 450.0 764.0 451.5 761.1 C452.9 758.2 454.6 754.1 455.8 750.6 C457.0 747.2 457.5 743.7 458.4 740.2 C459.3 736.7 460.5 733.2 461.0 729.8 C461.5 726.4 461.3 721.5 461.4 719.9 Z" fill="#DEEDBA" stroke="#8E8E8E" stroke-width="0.6"/>
<path d="M497.7 677.6 L500.5 677.6 C500.6 679.9 501.0 686.3 501.2 691.5 C501.4 696.7 501.6 703.1 501.7 708.9 C501.8 714.7 501.4 721.1 501.7 726.3 C502.0 731.5 502.7 736.7 503.4 740.2 C504.2 743.7 505.2 745.1 506.0 747.2 C506.9 749.2 508.4 750.7 508.6 752.4 C508.9 754.0 507.9 756.4 507.8 757.2 L490.4 757.2 C490.3 756.4 489.2 754.0 489.5 752.4 C489.8 750.7 491.3 749.2 492.1 747.2 C493.0 745.1 494.0 743.7 494.7 740.2 C495.5 736.7 496.2 731.5 496.5 726.3 C496.8 721.1 496.4 714.7 496.5 708.9 C496.6 703.1 496.8 696.7 497.0 691.5 C497.2 686.3 497.6 679.9 497.7 677.6 Z" fill="#CFDFF6" stroke="#8E8E8E" stroke-width="0.6"/>
<path d="M535.8 686.0 L536.8 686.0 C536.8 688.3 536.9 695.2 537.0 700.2 C537.0 705.2 536.8 711.5 537.2 715.9 C537.5 720.2 538.3 723.1 538.9 726.3 C539.5 729.5 539.8 732.1 540.6 735.0 C541.5 737.9 542.7 741.1 544.1 743.7 C545.6 746.3 548.2 748.6 549.3 750.6 C550.5 752.7 552.1 754.1 551.1 755.8 C550.0 757.6 545.0 758.7 543.2 761.1 C541.5 763.4 541.2 766.9 540.6 769.7 C540.1 772.6 540.3 775.5 540.1 778.4 C539.9 781.3 539.8 784.2 539.4 787.1 C539.1 790.0 538.3 792.9 538.0 795.8 C537.7 798.7 537.6 802.1 537.5 804.5 C537.4 807.0 537.4 809.6 537.3 810.6 L535.2 810.6 C535.2 809.6 535.2 807.0 535.1 804.5 C535.0 802.1 534.9 798.7 534.5 795.8 C534.2 792.9 533.5 790.0 533.2 787.1 C532.8 784.2 532.7 781.3 532.5 778.4 C532.3 775.5 532.5 772.6 531.9 769.7 C531.4 766.9 531.1 763.4 529.3 761.1 C527.6 758.7 522.5 757.6 521.5 755.8 C520.5 754.1 522.1 752.7 523.2 750.6 C524.4 748.6 527.0 746.3 528.5 743.7 C529.9 741.1 531.1 737.9 531.9 735.0 C532.8 732.1 533.1 729.5 533.7 726.3 C534.3 723.1 535.1 720.2 535.4 715.9 C535.7 711.5 535.5 705.2 535.6 700.2 C535.6 695.2 535.7 688.3 535.8 686.0 Z" fill="#FFB4FF" stroke="#8E8E8E" stroke-width="0.6"/>
<text x="385.4" y="659.4" text-anchor="middle">***</text>
<line x1="562.3" y1="666.4" x2="572.7" y2="666.4" stroke="#333" stroke-width="2"/>
<line x1="562.3" y1="809" x2="572.7" y2="809" stroke="#333" stroke-width="2"/>
<text x="574.5" y="677.4">1</text>
<text x="574.5" y="820">0</text>
<text x="30" y="719.2" text-anchor="middle" transform="rotate(-90 30 719.2)">V4</text>
<path d="M275.0 853.4 L275.7 853.4 C275.8 861.0 275.8 887.7 275.9 899.4 C276.0 911.2 276.0 917.4 276.1 923.8 C276.1 930.1 276.0 934.5 276.1 937.7 C276.2 940.9 276.4 941.0 276.8 942.9 C277.1 944.8 278.0 947.2 278.0 949.0 C278.0 950.7 273.9 952.3 276.8 953.3 C279.7 954.3 295.0 954.5 295.4 955.1 C295.7 955.6 281.8 955.9 278.9 956.8 C275.9 957.7 277.9 958.8 277.5 960.3 C277.0 961.7 276.5 963.5 276.2 965.5 C276.0 967.5 276.0 968.7 275.9 972.4 C275.8 976.2 275.9 985.5 275.9 988.1 L274.9 988.1 C274.9 985.5 274.9 976.2 274.9 972.4 C274.8 968.7 274.8 967.5 274.5 965.5 C274.2 963.5 273.7 961.7 273.3 960.3 C272.9 958.8 274.9 957.7 271.9 956.8 C268.9 955.9 255.0 955.6 255.4 955.1 C255.7 954.5 271.1 954.3 274.0 953.3 C276.9 952.3 272.8 950.7 272.8 949.0 C272.8 947.2 273.7 944.8 274.0 942.9 C274.3 941.0 274.6 940.9 274.7 937.7 C274.8 934.5 274.7 930.1 274.7 923.8 C274.7 917.4 274.8 911.2 274.9 899.4 C274.9 887.7 275.0 861.0 275.0 853.4 Z" fill="#F4B6B6" stroke="#8E8E8E" stroke-width="0.6"/>
<path d="M311.9 911.3 L313.3 911.3 C313.3 912.8 313.4 917.6 313.6 920.3 C313.8 923.0 314.3 924.3 314.3 927.2 C314.3 930.1 313.5 934.8 313.6 937.7 C313.8 940.6 313.6 942.6 315.2 944.6 C316.7 946.7 320.5 948.1 323.0 949.8 C325.5 951.6 329.7 953.3 330.0 955.1 C330.2 956.8 327.1 958.5 324.7 960.3 C322.4 962.0 317.5 964.6 316.1 965.5 L309.1 965.5 C307.7 964.6 302.7 962.0 300.4 960.3 C298.1 958.5 294.9 956.8 295.2 955.1 C295.5 953.3 299.7 951.6 302.1 949.8 C304.6 948.1 308.4 946.7 310.0 944.6 C311.5 942.6 311.4 940.6 311.5 937.7 C311.7 934.8 310.8 930.1 310.8 927.2 C310.8 924.3 311.4 923.0 311.5 920.3 C311.7 917.6 311.8 912.8 311.9 911.3 Z" fill="#BDD3EA" stroke="#8E8E8E" stroke-width="0.6"/>
<path d="M349.6 859.5 L350.3 859.5 C350.4 862.4 350.5 871.0 350.8 876.8 C351.1 882.6 351.7 888.4 352.0 894.2 C352.4 900.0 352.8 904.4 352.9 911.6 C353.0 918.8 353.0 930.4 352.9 937.7 C352.8 944.9 352.6 949.3 352.4 955.1 C352.1 960.9 351.6 966.6 351.3 972.4 C351.0 978.2 350.8 984.3 350.6 989.8 C350.5 995.3 350.5 1002.9 350.5 1005.5 L349.4 1005.5 C349.4 1002.9 349.4 995.3 349.3 989.8 C349.1 984.3 348.8 978.2 348.6 972.4 C348.3 966.6 347.8 960.9 347.5 955.1 C347.3 949.3 347.1 944.9 347.0 937.7 C346.9 930.4 346.8 918.8 347.0 911.6 C347.1 904.4 347.5 900.0 347.9 894.2 C348.2 888.4 348.8 882.6 349.1 876.8 C349.4 871.0 349.5 862.4 349.6 859.5 Z" fill="#FFDFA6" stroke="#8E8E8E" stroke-width="0.6"/>
<path d="M386.6 916.5 L388.0 916.5 C388.1 918.0 388.5 922.0 388.7 925.5 C388.9 929.0 388.7 933.3 389.1 937.7 C389.4 942.0 389.6 947.8 390.8 951.6 C392.0 955.3 394.1 958.0 396.0 960.3 C397.9 962.6 401.1 964.2 402.1 965.5 C403.1 966.8 402.1 967.7 402.1 968.1 L372.5 968.1 C372.5 967.7 371.5 966.8 372.5 965.5 C373.6 964.2 376.7 962.6 378.6 960.3 C380.5 958.0 382.7 955.3 383.8 951.6 C385.0 947.8 385.2 942.0 385.6 937.7 C385.9 933.3 385.8 929.0 385.9 925.5 C386.1 922.0 386.5 918.0 386.6 916.5 Z" fill="#B5DBD6" stroke="#8E8E8E" stroke-width="0.6"/>
<path d="M423.5 872.1 L425.2 872.1 C425.2 873.2 425.1 876.3 425.4 878.6 C425.7 880.8 426.8 883.8 427.0 885.5 C427.1 887.3 426.3 887.0 426.1 889.0 C425.9 891.0 425.3 894.8 425.7 897.7 C426.2 900.6 427.6 903.8 428.7 906.4 C429.8 909.0 431.2 911.3 432.2 913.3 C433.2 915.4 434.5 917.1 434.8 918.6 C435.1 920.0 434.5 920.9 433.9 922.0 C433.3 923.2 431.7 924.9 431.3 925.5 L417.4 925.5 C417.0 924.9 415.4 923.2 414.8 922.0 C414.2 920.9 413.6 920.0 413.9 918.6 C414.2 917.1 415.5 915.4 416.5 913.3 C417.5 911.3 418.9 909.0 420.0 906.4 C421.1 903.8 422.5 900.6 423.0 897.7 C423.4 894.8 422.8 891.0 422.6 889.0 C422.4 887.0 421.6 887.3 421.7 885.5 C421.9 883.8 423.0 880.8 423.3 878.6 C423.6 876.3 423.4 873.2 423.5 872.1 Z" fill="#A020F0" stroke="#222" stroke-width="1.1"/>
<path d="M461.4 889.4 L462.4 889.4 C462.6 891.6 463.3 897.8 463.6 902.9 C464.0 908.1 464.3 914.5 464.5 920.3 C464.7 926.1 464.8 931.9 464.8 937.7 C464.9 943.5 465.1 949.3 465.0 955.1 C465.0 960.9 464.8 966.6 464.5 972.4 C464.2 978.2 463.6 984.3 463.3 989.8 C463.0 995.3 462.8 1002.9 462.8 1005.5 L461.0 1005.5 C460.9 1002.9 460.8 995.3 460.5 989.8 C460.2 984.3 459.6 978.2 459.3 972.4 C459.0 966.6 458.8 960.9 458.8 955.1 C458.7 949.3 458.8 943.5 458.9 937.7 C459.0 931.9 459.1 926.1 459.3 920.3 C459.5 914.5 459.8 908.1 460.2 902.9 C460.5 897.8 461.2 891.6 461.4 889.4 Z" fill="#DEEDBA" stroke="#8E8E8E" stroke-width="0.6"/>
<path d="M498.4 890.4 L499.8 890.4 C499.8 893.9 499.8 905.2 500.0 911.6 C500.1 918.0 499.2 924.6 500.5 929.0 C501.8 933.3 505.4 935.4 507.8 937.7 C510.2 940.0 514.4 941.2 514.7 942.9 C515.0 944.6 511.7 946.1 509.5 948.1 C507.3 950.1 503.3 952.5 501.7 955.1 C500.1 957.7 500.3 955.3 500.0 963.7 C499.6 972.2 499.8 998.5 499.8 1005.5 L498.4 1005.5 C498.4 998.5 498.5 972.2 498.2 963.7 C497.9 955.3 498.1 957.7 496.5 955.1 C494.9 952.5 490.8 950.1 488.7 948.1 C486.5 946.1 483.2 944.6 483.4 942.9 C483.7 941.2 488.0 940.0 490.4 937.7 C492.8 935.4 496.4 933.3 497.7 929.0 C499.0 924.6 498.1 918.0 498.2 911.6 C498.3 905.2 498.4 893.9 498.4 890.4 Z" fill="#CFDFF6" stroke="#8E8E8E" stroke-width="0.6"/>
<path d="M535.4 858.6 L537.2 858.6 C537.2 859.6 537.6 863.1 537.5 864.7 C537.4 866.3 536.9 858.9 536.8 868.1 C536.7 877.4 536.3 910.4 536.8 920.3 C537.3 930.1 538.3 924.6 539.8 927.2 C541.3 929.9 544.4 933.0 545.8 935.9 C547.3 938.8 548.9 942.3 548.5 944.6 C548.0 946.9 544.8 948.1 543.2 949.8 C541.6 951.6 539.6 952.7 538.9 955.1 C538.2 957.4 539.2 961.4 538.9 963.7 C538.6 966.1 537.4 967.2 537.2 969.0 C537.0 970.7 537.6 972.2 537.7 974.2 C537.7 976.2 537.4 980.0 537.3 981.1 L535.2 981.1 C535.2 980.0 534.9 976.2 534.9 974.2 C534.9 972.2 535.6 970.7 535.4 969.0 C535.2 967.2 534.0 966.1 533.7 963.7 C533.4 961.4 534.4 957.4 533.7 955.1 C533.0 952.7 530.9 951.6 529.3 949.8 C527.7 948.1 524.6 946.9 524.1 944.6 C523.7 942.3 525.3 938.8 526.7 935.9 C528.2 933.0 531.3 929.9 532.8 927.2 C534.3 924.6 535.3 930.1 535.8 920.3 C536.3 910.4 535.9 877.4 535.8 868.1 C535.6 858.9 535.1 866.3 535.1 864.7 C535.0 863.1 535.4 859.6 535.4 858.6 Z" fill="#FFB4FF" stroke="#8E8E8E" stroke-width="0.6"/>
<text x="426" y="868.2" text-anchor="middle">***</text>
<line x1="562.3" y1="850.8" x2="572.7" y2="850.8" stroke="#333" stroke-width="2"/>
<line x1="562.3" y1="1005.6" x2="572.7" y2="1005.6" stroke="#333" stroke-width="2"/>
<text x="574.5" y="861.8">1</text>
<text x="574.5" y="1016.6">0</text>
<text x="30" y="913.6" text-anchor="middle" transform="rotate(-90 30 913.6)">V5</text>
<path d="M275.0 1109.4 L275.7 1109.4 C275.8 1113.1 275.8 1126.2 275.9 1131.7 C276.0 1137.1 276.3 1139.5 276.4 1142.1 C276.6 1144.7 275.1 1145.8 276.8 1147.3 C278.4 1148.8 286.2 1150.0 286.2 1151.1 C286.2 1152.3 278.5 1151.7 276.8 1154.3 C275.1 1156.8 276.1 1158.8 275.9 1166.4 C275.7 1174.1 275.8 1194.7 275.7 1200.3 L275.0 1200.3 C275.0 1194.7 275.0 1174.1 274.9 1166.4 C274.7 1158.8 275.7 1156.8 274.0 1154.3 C272.3 1151.7 264.6 1152.3 264.6 1151.1 C264.6 1150.0 272.4 1148.8 274.0 1147.3 C275.6 1145.8 274.2 1144.7 274.3 1142.1 C274.5 1139.5 274.7 1137.1 274.9 1131.7 C275.0 1126.2 275.0 1113.1 275.0 1109.4 Z" fill="#F4B6B6" stroke="#8E8E8E" stroke-width="0.6"/>
<path d="M311.5 1111.7 L313.6 1111.7 C313.5 1112.1 313.2 1111.0 313.1 1114.3 C313.0 1117.6 313.1 1126.5 313.3 1131.7 C313.4 1136.9 310.7 1142.2 314.0 1145.6 C317.3 1149.0 333.0 1150.7 333.1 1152.2 C333.1 1153.6 317.6 1152.9 314.3 1154.3 C311.0 1155.6 313.6 1159.3 313.4 1160.4 L311.7 1160.4 C311.6 1159.3 314.1 1155.6 310.8 1154.3 C307.6 1152.9 292.0 1153.6 292.1 1152.2 C292.1 1150.7 307.9 1149.0 311.2 1145.6 C314.5 1142.2 311.7 1136.9 311.9 1131.7 C312.0 1126.5 312.1 1117.6 312.1 1114.3 C312.0 1111.0 311.6 1112.1 311.5 1111.7 Z" fill="#BDD3EA" stroke="#8E8E8E" stroke-width="0.6"/>
<path d="M349.3 1056.9 L350.6 1056.9 C350.8 1059.2 351.0 1066.5 351.3 1070.8 C351.7 1075.2 352.0 1078.7 352.6 1083.0 C353.1 1087.4 354.5 1092.9 354.6 1096.9 C354.8 1101.0 353.9 1103.9 353.4 1107.3 C352.9 1110.8 352.1 1113.7 351.7 1117.8 C351.3 1121.8 351.0 1128.1 350.8 1131.7 C350.6 1135.3 350.5 1138.2 350.5 1139.5 L349.4 1139.5 C349.4 1138.2 349.3 1135.3 349.1 1131.7 C348.9 1128.1 348.6 1121.8 348.2 1117.8 C347.8 1113.7 347.0 1110.8 346.5 1107.3 C346.0 1103.9 345.1 1101.0 345.3 1096.9 C345.4 1092.9 346.8 1087.4 347.3 1083.0 C347.9 1078.7 348.2 1075.2 348.6 1070.8 C348.9 1066.5 349.1 1059.2 349.3 1056.9 Z" fill="#FFDFA6" stroke="#8E8E8E" stroke-width="0.6"/>
<path d="M387.0 1065.6 L387.7 1065.6 C387.7 1073.7 387.8 1103.3 387.8 1114.3 C387.9 1125.3 388.0 1125.9 388.2 1131.7 C388.3 1137.5 388.3 1144.7 388.7 1149.1 C389.1 1153.4 388.5 1155.5 390.8 1157.7 C393.1 1160.0 402.8 1161.0 402.6 1162.4 C402.5 1163.9 392.4 1164.3 389.9 1166.4 C387.5 1168.6 388.4 1172.1 388.0 1175.1 C387.7 1178.2 387.9 1183.1 387.8 1184.7 L386.8 1184.7 C386.8 1183.1 387.0 1178.2 386.6 1175.1 C386.3 1172.1 387.1 1168.6 384.7 1166.4 C382.3 1164.3 372.2 1163.9 372.0 1162.4 C371.9 1161.0 381.5 1160.0 383.8 1157.7 C386.2 1155.5 385.5 1153.4 385.9 1149.1 C386.4 1144.7 386.3 1137.5 386.5 1131.7 C386.6 1125.9 386.7 1125.3 386.8 1114.3 C386.9 1103.3 386.9 1073.7 387.0 1065.6 Z" fill="#B5DBD6" stroke="#8E8E8E" stroke-width="0.6"/>
<path d="M424.0 1048.2 L424.7 1048.2 C424.7 1056.4 424.9 1084.5 425.0 1096.9 C425.2 1109.4 425.4 1116.6 425.7 1123.0 C426.1 1129.4 426.5 1130.8 427.0 1135.2 C427.4 1139.5 428.7 1143.8 428.7 1149.1 C428.7 1154.3 427.4 1160.6 427.0 1166.4 C426.5 1172.2 426.1 1178.2 425.7 1183.8 C425.4 1189.5 425.0 1197.6 424.9 1200.3 L423.8 1200.3 C423.7 1197.6 423.3 1189.5 423.0 1183.8 C422.6 1178.2 422.2 1172.2 421.7 1166.4 C421.2 1160.6 420.0 1154.3 420.0 1149.1 C420.0 1143.8 421.2 1139.5 421.7 1135.2 C422.2 1130.8 422.6 1129.4 423.0 1123.0 C423.3 1116.6 423.5 1109.4 423.6 1096.9 C423.8 1084.5 423.9 1056.4 424.0 1048.2 Z" fill="#DEB8F6" stroke="#8E8E8E" stroke-width="0.6"/>
<path d="M461.4 1048.2 L462.4 1048.2 C462.5 1052.0 462.6 1066.2 462.8 1070.8 C462.9 1075.5 463.3 1074.3 463.3 1076.1 C463.3 1077.8 462.4 1079.5 462.9 1081.3 C463.4 1083.0 465.1 1084.5 466.2 1086.5 C467.4 1088.5 468.4 1091.4 469.7 1093.4 C471.0 1095.5 473.4 1097.2 474.1 1098.6 C474.7 1100.1 474.1 1101.1 473.7 1102.1 C473.3 1103.1 471.8 1104.3 471.4 1104.7 L452.3 1104.7 C452.0 1104.3 450.5 1103.1 450.1 1102.1 C449.6 1101.1 449.1 1100.1 449.7 1098.6 C450.4 1097.2 452.8 1095.5 454.1 1093.4 C455.4 1091.4 456.4 1088.5 457.5 1086.5 C458.7 1084.5 460.4 1083.0 460.8 1081.3 C461.3 1079.5 460.5 1077.8 460.5 1076.1 C460.5 1074.3 460.9 1075.5 461.0 1070.8 C461.2 1066.2 461.3 1052.0 461.4 1048.2 Z" fill="#9ACD32" stroke="#222" stroke-width="1.1"/>
<path d="M498.6 1085.6 L499.6 1085.6 C499.6 1090.4 499.4 1107.2 499.8 1114.3 C500.1 1121.4 500.1 1124.7 501.7 1128.2 C503.3 1131.7 507.3 1133.3 509.5 1135.2 C511.7 1137.0 515.1 1138.0 515.1 1139.5 C515.1 1140.9 511.7 1142.2 509.5 1143.8 C507.3 1145.4 503.3 1146.7 501.7 1149.1 C500.1 1151.4 500.1 1156.3 499.8 1157.7 L498.4 1157.7 C498.1 1156.3 498.1 1151.4 496.5 1149.1 C494.9 1146.7 490.9 1145.4 488.7 1143.8 C486.4 1142.2 483.1 1140.9 483.1 1139.5 C483.1 1138.0 486.4 1137.0 488.7 1135.2 C490.9 1133.3 494.9 1131.7 496.5 1128.2 C498.1 1124.7 498.0 1121.4 498.4 1114.3 C498.7 1107.2 498.5 1090.4 498.6 1085.6 Z" fill="#CFDFF6" stroke="#8E8E8E" stroke-width="0.6"/>
<path d="M531.4 1126.5 L541.2 1126.5 C541.2 1127.0 541.2 1128.5 541.5 1129.9 C541.8 1131.4 541.9 1133.7 543.2 1135.2 C544.5 1136.6 547.7 1137.5 549.3 1138.6 C550.9 1139.8 553.5 1140.9 552.8 1142.1 C552.1 1143.3 547.4 1144.4 545.0 1145.6 C542.5 1146.7 539.3 1147.0 538.0 1149.1 C536.7 1151.1 537.4 1154.9 537.3 1157.7 C537.3 1160.6 537.7 1163.5 537.7 1166.4 C537.6 1169.3 537.2 1171.9 537.2 1175.1 C537.1 1178.3 537.2 1183.8 537.2 1185.6 L535.4 1185.6 C535.4 1183.8 535.5 1178.3 535.4 1175.1 C535.3 1171.9 534.9 1169.3 534.9 1166.4 C534.9 1163.5 535.3 1160.6 535.2 1157.7 C535.2 1154.9 535.8 1151.1 534.5 1149.1 C533.3 1147.0 530.1 1146.7 527.6 1145.6 C525.1 1144.4 520.5 1143.3 519.8 1142.1 C519.0 1140.9 521.7 1139.8 523.2 1138.6 C524.8 1137.5 528.0 1136.6 529.3 1135.2 C530.6 1133.7 530.7 1131.4 531.1 1129.9 C531.4 1128.5 531.4 1127.0 531.4 1126.5 Z" fill="#FFB4FF" stroke="#8E8E8E" stroke-width="0.6"/>
<text x="458.2" y="1043.1" text-anchor="middle">***</text>
<line x1="562.3" y1="1048.4" x2="572.7" y2="1048.4" stroke="#333" stroke-width="2"/>
<line x1="562.3" y1="1200.5" x2="572.7" y2="1200.5" stroke="#333" stroke-width="2"/>
<text x="574.5" y="1059.4">1</text>
<text x="574.5" y="1211.5">0</text>
<text x="30" y="1108.2" text-anchor="middle" transform="rotate(-90 30 1108.2)">V6</text>
<path d="M270.2 1299.6 L272.2 1299.6 C272.2 1300.2 271.7 1299.6 271.7 1303.1 C271.8 1306.6 272.6 1316.7 272.6 1320.5 C272.6 1324.2 271.7 1323.9 271.7 1325.7 C271.8 1327.4 272.9 1329.2 272.9 1330.9 C272.9 1332.6 271.7 1333.8 271.7 1336.1 C271.8 1338.4 273.1 1342.8 273.3 1344.8 C273.4 1346.8 271.8 1347.1 272.6 1348.3 C273.4 1349.4 275.3 1350.3 278.2 1351.7 C281.0 1353.2 289.5 1355.5 289.5 1357.0 C289.5 1358.4 280.8 1359.3 278.2 1360.4 C275.6 1361.6 274.6 1362.6 273.8 1363.9 C273.0 1365.2 273.6 1366.8 273.3 1368.3 C273.0 1369.7 272.1 1370.4 271.9 1372.6 C271.7 1374.8 272.0 1379.9 272.1 1381.3 L270.3 1381.3 C270.4 1379.9 270.7 1374.8 270.5 1372.6 C270.3 1370.4 269.4 1369.7 269.1 1368.3 C268.8 1366.8 269.4 1365.2 268.6 1363.9 C267.8 1362.6 266.9 1361.6 264.3 1360.4 C261.6 1359.3 253.0 1358.4 253.0 1357.0 C253.0 1355.5 261.4 1353.2 264.3 1351.7 C267.1 1350.3 269.0 1349.4 269.8 1348.3 C270.6 1347.1 269.0 1346.8 269.1 1344.8 C269.3 1342.8 270.6 1338.4 270.7 1336.1 C270.7 1333.8 269.5 1332.6 269.5 1330.9 C269.5 1329.2 270.6 1327.4 270.7 1325.7 C270.7 1323.9 269.8 1324.2 269.8 1320.5 C269.8 1316.7 270.6 1306.6 270.7 1303.1 C270.7 1299.6 270.3 1300.2 270.2 1299.6 Z" fill="#F4B6B6" stroke="#8E8E8E" stroke-width="0.6"/>
<path d="M308.1 1286.9 L309.1 1286.9 C309.2 1289.3 309.6 1297.2 310.0 1301.3 C310.3 1305.5 311.0 1307.7 311.2 1311.8 C311.4 1315.8 310.9 1321.0 311.2 1325.7 C311.5 1330.3 311.9 1335.8 312.9 1339.6 C313.9 1343.3 315.6 1345.4 317.3 1348.3 C318.9 1351.2 322.7 1354.4 322.8 1357.0 C323.0 1359.6 320.2 1361.6 318.1 1363.9 C316.1 1366.2 311.6 1369.7 310.3 1370.9 L306.8 1370.9 C305.5 1369.7 301.1 1366.2 299.0 1363.9 C296.9 1361.6 294.2 1359.6 294.3 1357.0 C294.5 1354.4 298.2 1351.2 299.9 1348.3 C301.5 1345.4 303.2 1343.3 304.2 1339.6 C305.2 1335.8 305.7 1330.3 306.0 1325.7 C306.3 1321.0 305.8 1315.8 306.0 1311.8 C306.2 1307.7 306.8 1305.5 307.2 1301.3 C307.5 1297.2 307.9 1289.3 308.1 1286.9 Z" fill="#BDD3EA" stroke="#8E8E8E" stroke-width="0.6"/>
<path d="M345.1 1264.0 L346.1 1264.0 C346.2 1268.5 346.1 1282.9 346.3 1290.9 C346.5 1298.9 346.7 1306.0 347.3 1311.8 C347.9 1317.6 348.9 1321.3 349.9 1325.7 C351.0 1330.0 352.4 1333.8 353.4 1337.8 C354.4 1341.9 356.0 1346.5 356.0 1350.0 C356.0 1353.5 354.4 1355.9 353.4 1358.7 C352.4 1361.5 350.5 1365.2 349.9 1366.5 L341.3 1366.5 C340.7 1365.2 338.8 1361.5 337.8 1358.7 C336.8 1355.9 335.2 1353.5 335.2 1350.0 C335.2 1346.5 336.8 1341.9 337.8 1337.8 C338.8 1333.8 340.2 1330.0 341.3 1325.7 C342.3 1321.3 343.3 1317.6 343.9 1311.8 C344.5 1306.0 344.7 1298.9 344.9 1290.9 C345.1 1282.9 345.1 1268.5 345.1 1264.0 Z" fill="#FFDFA6" stroke="#8E8E8E" stroke-width="0.6"/>
<path d="M382.5 1257.5 L383.5 1257.5 C383.6 1260.2 383.5 1268.5 383.8 1273.5 C384.2 1278.5 385.0 1282.8 385.6 1287.4 C386.2 1292.1 386.7 1296.4 387.3 1301.3 C388.0 1306.3 388.9 1312.3 389.6 1317.0 C390.3 1321.6 391.6 1326.0 391.7 1329.2 C391.7 1332.3 390.7 1333.8 389.9 1336.1 C389.2 1338.4 388.2 1340.2 387.3 1343.1 C386.5 1346.0 385.1 1351.7 384.7 1353.5 L381.2 1353.5 C380.8 1351.7 379.5 1346.0 378.6 1343.1 C377.8 1340.2 376.7 1338.4 376.0 1336.1 C375.3 1333.8 374.2 1332.3 374.3 1329.2 C374.3 1326.0 375.6 1321.6 376.4 1317.0 C377.1 1312.3 378.0 1306.3 378.6 1301.3 C379.3 1296.4 379.8 1292.1 380.4 1287.4 C380.9 1282.8 381.8 1278.5 382.1 1273.5 C382.5 1268.5 382.4 1260.2 382.5 1257.5 Z" fill="#B5DBD6" stroke="#8E8E8E" stroke-width="0.6"/>
<path d="M419.8 1310.9 L420.9 1310.9 C421.0 1313.4 421.2 1320.3 421.7 1325.7 C422.2 1331.0 422.8 1338.1 423.8 1343.1 C424.9 1348.0 426.9 1351.5 428.2 1355.2 C429.5 1359.0 430.9 1362.5 431.6 1365.7 C432.4 1368.8 433.3 1371.4 432.9 1374.3 C432.4 1377.2 430.8 1380.1 429.0 1383.0 C427.3 1385.9 423.7 1389.4 422.4 1391.7 C421.1 1394.0 421.4 1396.1 421.2 1396.9 L419.5 1396.9 C419.3 1396.1 419.6 1394.0 418.3 1391.7 C417.0 1389.4 413.4 1385.9 411.7 1383.0 C409.9 1380.1 408.3 1377.2 407.8 1374.3 C407.4 1371.4 408.3 1368.8 409.0 1365.7 C409.8 1362.5 411.2 1359.0 412.5 1355.2 C413.8 1351.5 415.8 1348.0 416.9 1343.1 C417.9 1338.1 418.5 1331.0 419.0 1325.7 C419.4 1320.3 419.7 1313.4 419.8 1310.9 Z" fill="#DEB8F6" stroke="#8E8E8E" stroke-width="0.6"/>
<path d="M456.2 1306.2 L458.9 1306.2 C458.9 1307.1 458.5 1308.5 458.6 1311.8 C458.6 1315.0 459.2 1321.6 459.3 1325.7 C459.4 1329.7 459.3 1333.2 459.3 1336.1 C459.3 1339.0 458.1 1340.7 459.3 1343.1 C460.4 1345.4 463.8 1347.5 466.2 1350.0 C468.7 1352.5 473.5 1355.5 474.1 1357.8 C474.6 1360.2 471.3 1362.0 469.7 1363.9 C468.1 1365.8 465.8 1367.5 464.5 1369.1 C463.2 1370.7 462.3 1372.8 461.9 1373.5 L453.2 1373.5 C452.8 1372.8 451.9 1370.7 450.6 1369.1 C449.3 1367.5 447.0 1365.8 445.4 1363.9 C443.8 1362.0 440.5 1360.2 441.0 1357.8 C441.6 1355.5 446.4 1352.5 448.9 1350.0 C451.3 1347.5 454.6 1345.4 455.8 1343.1 C457.0 1340.7 455.8 1339.0 455.8 1336.1 C455.8 1333.2 455.7 1329.7 455.8 1325.7 C455.9 1321.6 456.4 1315.0 456.5 1311.8 C456.6 1308.5 456.2 1307.1 456.2 1306.2 Z" fill="#DEEDBA" stroke="#8E8E8E" stroke-width="0.6"/>
<path d="M492.0 1262.2 L498.2 1262.2 C498.4 1263.0 498.4 1264.7 499.4 1266.6 C500.5 1268.5 503.3 1271.5 504.6 1273.5 C506.0 1275.6 506.0 1277.0 507.3 1278.7 C508.6 1280.5 511.5 1282.5 512.5 1284.0 C513.5 1285.4 514.2 1286.3 513.3 1287.4 C512.5 1288.6 508.3 1290.3 507.3 1290.9 L482.9 1290.9 C481.9 1290.3 477.7 1288.6 476.8 1287.4 C476.0 1286.3 476.7 1285.4 477.7 1284.0 C478.7 1282.5 481.6 1280.5 482.9 1278.7 C484.2 1277.0 484.2 1275.6 485.5 1273.5 C486.8 1271.5 489.7 1268.5 490.7 1266.6 C491.8 1264.7 491.8 1263.0 492.0 1262.2 Z" fill="#6495ED" stroke="#222" stroke-width="1.1"/>
<path d="M531.8 1311.8 L532.8 1311.8 C532.9 1313.5 533.0 1319.9 533.2 1322.2 C533.4 1324.5 533.3 1323.4 534.0 1325.7 C534.7 1328.0 536.3 1333.2 537.5 1336.1 C538.7 1339.0 539.1 1341.1 541.0 1343.1 C542.9 1345.0 549.1 1346.5 548.8 1347.9 C548.5 1349.4 541.7 1350.5 539.2 1351.7 C536.8 1353.0 534.9 1353.2 534.0 1355.2 C533.2 1357.3 534.2 1361.4 534.0 1363.9 C533.9 1366.5 533.3 1369.4 533.2 1370.5 L531.4 1370.5 C531.3 1369.4 530.7 1366.5 530.5 1363.9 C530.4 1361.4 531.4 1357.3 530.5 1355.2 C529.7 1353.2 527.8 1353.0 525.3 1351.7 C522.9 1350.5 516.1 1349.4 515.8 1347.9 C515.5 1346.5 521.7 1345.0 523.6 1343.1 C525.5 1341.1 525.9 1339.0 527.1 1336.1 C528.2 1333.2 529.8 1328.0 530.5 1325.7 C531.3 1323.4 531.2 1324.5 531.4 1322.2 C531.6 1319.9 531.7 1313.5 531.8 1311.8 Z" fill="#FFB4FF" stroke="#8E8E8E" stroke-width="0.6"/>
<text x="496.4" y="1244" text-anchor="middle">***</text>
<line x1="562.3" y1="1256" x2="572.7" y2="1256" stroke="#333" stroke-width="2"/>
<line x1="562.3" y1="1393.3" x2="572.7" y2="1393.3" stroke="#333" stroke-width="2"/>
<text x="574.5" y="1267">1</text>
<text x="574.5" y="1404.3">0</text>
<text x="30" y="1302.5" text-anchor="middle" transform="rotate(-90 30 1302.5)">V7</text>
<path d="M270.9 1471.0 L271.6 1471.0 C271.6 1479.1 271.6 1509.8 271.7 1519.7 C271.8 1529.5 271.9 1527.5 272.2 1530.1 C272.6 1532.7 271.8 1533.7 273.8 1535.3 C275.8 1536.9 284.3 1538.5 284.2 1539.7 C284.2 1540.8 275.3 1541.0 273.3 1542.3 C271.3 1543.6 272.5 1545.5 272.2 1547.5 C272.0 1549.5 272.1 1553.3 272.1 1554.4 L270.3 1554.4 C270.3 1553.3 270.4 1549.5 270.2 1547.5 C270.0 1545.5 271.1 1543.6 269.1 1542.3 C267.1 1541.0 258.3 1540.8 258.2 1539.7 C258.1 1538.5 266.6 1536.9 268.6 1535.3 C270.6 1533.7 269.8 1532.7 270.2 1530.1 C270.5 1527.5 270.6 1529.5 270.7 1519.7 C270.8 1509.8 270.8 1479.1 270.9 1471.0 Z" fill="#F4B6B6" stroke="#8E8E8E" stroke-width="0.6"/>
<path d="M308.2 1513.1 L308.9 1513.1 C309.0 1516.5 308.9 1529.6 309.1 1533.6 C309.3 1537.6 306.7 1535.9 310.0 1537.1 C313.2 1538.2 328.5 1539.7 328.6 1540.5 C328.6 1541.4 313.5 1540.8 310.3 1542.3 C307.2 1543.7 309.8 1546.8 309.6 1549.2 C309.4 1551.7 309.2 1555.7 309.1 1557.0 L308.1 1557.0 C308.0 1555.7 307.7 1551.7 307.5 1549.2 C307.3 1546.8 310.0 1543.7 306.8 1542.3 C303.7 1540.8 288.5 1541.4 288.6 1540.5 C288.6 1539.7 303.9 1538.2 307.2 1537.1 C310.4 1535.9 307.9 1537.6 308.1 1533.6 C308.2 1529.6 308.2 1516.5 308.2 1513.1 Z" fill="#BDD3EA" stroke="#8E8E8E" stroke-width="0.6"/>
<path d="M345.3 1435.4 L345.9 1435.4 C346.0 1439.3 346.1 1452.0 346.5 1458.8 C346.8 1465.6 347.6 1470.4 348.2 1476.2 C348.8 1482.0 349.4 1486.4 349.9 1493.6 C350.5 1500.8 351.2 1512.4 351.7 1519.7 C352.2 1526.9 352.9 1532.7 352.9 1537.1 C352.9 1541.4 352.5 1542.0 351.7 1545.7 C350.9 1549.5 349.1 1555.3 348.2 1559.7 C347.3 1564.0 346.8 1567.3 346.5 1571.8 C346.1 1576.3 346.2 1584.1 346.1 1586.6 L345.1 1586.6 C345.0 1584.1 345.1 1576.3 344.7 1571.8 C344.4 1567.3 343.9 1564.0 343.0 1559.7 C342.1 1555.3 340.3 1549.5 339.5 1545.7 C338.7 1542.0 338.3 1541.4 338.3 1537.1 C338.3 1532.7 339.0 1526.9 339.5 1519.7 C340.0 1512.4 340.7 1500.8 341.3 1493.6 C341.8 1486.4 342.4 1482.0 343.0 1476.2 C343.6 1470.4 344.4 1465.6 344.7 1458.8 C345.1 1452.0 345.2 1439.3 345.3 1435.4 Z" fill="#FFDFA6" stroke="#8E8E8E" stroke-width="0.6"/>
<path d="M382.5 1465.3 L383.5 1465.3 C383.6 1468.5 383.8 1479.9 384.0 1484.9 C384.3 1489.9 384.7 1491.0 385.1 1495.3 C385.5 1499.7 385.9 1506.3 386.5 1511.0 C387.0 1515.6 387.3 1519.4 388.2 1523.2 C389.1 1526.9 390.4 1529.8 391.7 1533.6 C392.9 1537.3 395.5 1542.3 395.5 1545.7 C395.5 1549.2 393.0 1551.8 391.7 1554.4 C390.3 1557.0 388.2 1559.7 387.3 1561.4 C386.4 1563.1 386.3 1564.0 386.1 1564.5 L379.8 1564.5 C379.6 1564.0 379.6 1563.1 378.6 1561.4 C377.7 1559.7 375.6 1557.0 374.3 1554.4 C372.9 1551.8 370.5 1549.2 370.5 1545.7 C370.5 1542.3 373.1 1537.3 374.3 1533.6 C375.5 1529.8 376.9 1526.9 377.8 1523.2 C378.6 1519.4 379.0 1515.6 379.5 1511.0 C380.0 1506.3 380.5 1499.7 380.9 1495.3 C381.3 1491.0 381.7 1489.9 381.9 1484.9 C382.2 1479.9 382.4 1468.5 382.5 1465.3 Z" fill="#B5DBD6" stroke="#8E8E8E" stroke-width="0.6"/>
<path d="M419.0 1491.0 L421.7 1491.0 C421.9 1492.9 422.5 1497.5 423.0 1502.3 C423.4 1507.1 424.1 1513.9 424.7 1519.7 C425.3 1525.5 425.9 1531.8 426.4 1537.1 C427.0 1542.3 427.6 1547.2 428.2 1551.0 C428.7 1554.7 429.3 1557.3 429.9 1559.7 C430.5 1562.0 431.4 1563.4 431.6 1564.9 C431.9 1566.3 431.6 1567.8 431.6 1568.3 L409.0 1568.3 C409.0 1567.8 408.8 1566.3 409.0 1564.9 C409.3 1563.4 410.2 1562.0 410.8 1559.7 C411.4 1557.3 411.9 1554.7 412.5 1551.0 C413.1 1547.2 413.7 1542.3 414.3 1537.1 C414.8 1531.8 415.4 1525.5 416.0 1519.7 C416.6 1513.9 417.2 1507.1 417.7 1502.3 C418.2 1497.5 418.8 1492.9 419.0 1491.0 Z" fill="#DEB8F6" stroke="#8E8E8E" stroke-width="0.6"/>
<path d="M456.8 1521.4 L458.2 1521.4 C458.3 1522.6 458.6 1526.3 458.6 1528.4 C458.6 1530.4 457.8 1531.6 458.2 1533.6 C458.6 1535.6 458.8 1537.6 461.0 1540.5 C463.2 1543.4 471.6 1548.6 471.4 1551.0 C471.3 1553.3 462.3 1552.4 460.2 1554.4 C458.0 1556.5 458.6 1560.2 458.4 1563.1 C458.2 1566.0 459.0 1569.1 458.9 1571.8 C458.9 1574.6 458.2 1578.3 458.1 1579.6 L457.0 1579.6 C456.9 1578.3 456.2 1574.6 456.2 1571.8 C456.1 1569.1 456.9 1566.0 456.7 1563.1 C456.5 1560.2 457.1 1556.5 454.9 1554.4 C452.8 1552.4 443.8 1553.3 443.6 1551.0 C443.5 1548.6 451.9 1543.4 454.1 1540.5 C456.3 1537.6 456.4 1535.6 456.8 1533.6 C457.3 1531.6 456.5 1530.4 456.5 1528.4 C456.5 1526.3 456.8 1522.6 456.8 1521.4 Z" fill="#DEEDBA" stroke="#8E8E8E" stroke-width="0.6"/>
<path d="M494.6 1463.5 L495.6 1463.5 C495.6 1467.1 495.7 1477.9 495.8 1484.9 C495.8 1492.0 495.2 1500.6 496.0 1505.8 C496.7 1511.0 498.4 1513.3 500.3 1516.2 C502.2 1519.1 505.5 1521.3 507.3 1523.2 C509.1 1525.0 511.1 1526.0 511.1 1527.5 C511.1 1528.9 509.5 1530.0 507.3 1531.8 C505.0 1533.7 499.6 1536.5 497.7 1538.8 C495.8 1541.1 496.3 1541.7 496.0 1545.7 C495.6 1549.8 495.8 1560.2 495.8 1563.1 L494.4 1563.1 C494.4 1560.2 494.5 1549.8 494.2 1545.7 C493.9 1541.7 494.4 1541.1 492.5 1538.8 C490.6 1536.5 485.2 1533.7 482.9 1531.8 C480.7 1530.0 479.1 1528.9 479.1 1527.5 C479.1 1526.0 481.1 1525.0 482.9 1523.2 C484.7 1521.3 488.0 1519.1 489.9 1516.2 C491.8 1513.3 493.5 1511.0 494.2 1505.8 C495.0 1500.6 494.3 1492.0 494.4 1484.9 C494.5 1477.9 494.5 1467.1 494.6 1463.5 Z" fill="#CFDFF6" stroke="#8E8E8E" stroke-width="0.6"/>
<path d="M530.9 1437.6 L533.7 1437.6 C533.6 1438.3 533.5 1440.2 533.3 1441.5 C533.2 1442.7 532.9 1438.3 532.8 1444.9 C532.8 1451.6 532.8 1474.2 533.0 1481.4 C533.1 1488.7 532.9 1486.6 533.7 1488.4 C534.4 1490.1 536.3 1490.7 537.5 1491.9 C538.7 1493.0 539.1 1494.2 541.0 1495.3 C542.9 1496.5 548.5 1497.8 548.8 1498.8 C549.1 1499.8 543.7 1501.0 542.7 1501.4 L521.9 1501.4 C520.8 1501.0 515.5 1499.8 515.8 1498.8 C516.1 1497.8 521.7 1496.5 523.6 1495.3 C525.5 1494.2 525.9 1493.0 527.1 1491.9 C528.3 1490.7 530.1 1490.1 530.9 1488.4 C531.7 1486.6 531.4 1488.7 531.6 1481.4 C531.7 1474.2 531.8 1451.6 531.8 1444.9 C531.7 1438.3 531.4 1442.7 531.2 1441.5 C531.1 1440.2 531.0 1438.3 530.9 1437.6 Z" fill="#FF00FF" stroke="#222" stroke-width="1.1"/>
<text x="533.8" y="1429" text-anchor="middle">***</text>
<line x1="562.3" y1="1432.5" x2="572.7" y2="1432.5" stroke="#333" stroke-width="2"/>
<line x1="562.3" y1="1591" x2="572.7" y2="1591" stroke="#333" stroke-width="2"/>
<text x="574.5" y="1443.5">1</text>
<text x="574.5" y="1602">0</text>
<text x="30" y="1496.5" text-anchor="middle" transform="rotate(-90 30 1496.5)">V8</text>
<text x="599.6" y="831.4" text-anchor="middle" transform="rotate(90 599.6 831.4)">Score</text>
<line x1="54.3" y1="1595.6" x2="54.3" y2="1604.3" stroke="#222" stroke-width="2.2"/>
<text x="68" y="1646.5" transform="rotate(-90 68 1646.5)">V1</text>
<line x1="271.1" y1="1593.5" x2="271.1" y2="1601" stroke="#333" stroke-width="2"/>
<text x="282.6" y="1645" transform="rotate(-90 282.6 1645)">V1</text>
<line x1="79.9" y1="1595.6" x2="79.9" y2="1604.3" stroke="#222" stroke-width="2.2"/>
<text x="92.8" y="1646.5" transform="rotate(-90 92.8 1646.5)">V2</text>
<line x1="308.3" y1="1593.5" x2="308.3" y2="1601" stroke="#333" stroke-width="2"/>
<text x="319.8" y="1645" transform="rotate(-90 319.8 1645)">V2</text>
<line x1="105.4" y1="1595.6" x2="105.4" y2="1604.3" stroke="#222" stroke-width="2.2"/>
<text x="117.7" y="1646.5" transform="rotate(-90 117.7 1646.5)">V3</text>
<line x1="345.6" y1="1593.5" x2="345.6" y2="1601" stroke="#333" stroke-width="2"/>
<text x="357.1" y="1645" transform="rotate(-90 357.1 1645)">V3</text>
<line x1="131" y1="1595.6" x2="131" y2="1604.3" stroke="#222" stroke-width="2.2"/>
<text x="142.6" y="1646.5" transform="rotate(-90 142.6 1646.5)">V4</text>
<line x1="382.8" y1="1593.5" x2="382.8" y2="1601" stroke="#333" stroke-width="2"/>
<text x="394.3" y="1645" transform="rotate(-90 394.3 1645)">V4</text>
<line x1="156.5" y1="1595.6" x2="156.5" y2="1604.3" stroke="#222" stroke-width="2.2"/>
<text x="167.4" y="1646.5" transform="rotate(-90 167.4 1646.5)">V5</text>
<line x1="420.1" y1="1593.5" x2="420.1" y2="1601" stroke="#333" stroke-width="2"/>
<text x="431.6" y="1645" transform="rotate(-90 431.6 1645)">V5</text>
<line x1="182.1" y1="1595.6" x2="182.1" y2="1604.3" stroke="#222" stroke-width="2.2"/>
<text x="192.2" y="1646.5" transform="rotate(-90 192.2 1646.5)">V6</text>
<line x1="457.3" y1="1593.5" x2="457.3" y2="1601" stroke="#333" stroke-width="2"/>
<text x="468.8" y="1645" transform="rotate(-90 468.8 1645)">V6</text>
<line x1="207.7" y1="1595.6" x2="207.7" y2="1604.3" stroke="#222" stroke-width="2.2"/>
<text x="217.1" y="1646.5" transform="rotate(-90 217.1 1646.5)">V7</text>
<line x1="494.5" y1="1593.5" x2="494.5" y2="1601" stroke="#333" stroke-width="2"/>
<text x="506" y="1645" transform="rotate(-90 506 1645)">V7</text>
<line x1="233.2" y1="1595.6" x2="233.2" y2="1604.3" stroke="#222" stroke-width="2.2"/>
<text x="242" y="1646.5" transform="rotate(-90 242 1646.5)">V8</text>
<line x1="531.8" y1="1593.5" x2="531.8" y2="1601" stroke="#333" stroke-width="2"/>
<text x="543.3" y="1645" transform="rotate(-90 543.3 1645)">V8</text>
<text x="75.3" y="1688.3">Score</text>
<defs><linearGradient id="agrad" x1="0" y1="0" x2="1" y2="0"><stop offset="0" stop-color="#D2D2D2"/><stop offset="0.5" stop-color="#FFFFFF"/><stop offset="0.52" stop-color="#FCEAFC"/><stop offset="0.75" stop-color="#E68AE6"/><stop offset="1" stop-color="#CC00CC"/></linearGradient></defs>
<rect x="164.4" y="1665.1" width="182.5" height="23.9" fill="url(#agrad)"/>
<text x="167.6" y="1722" text-anchor="middle">0</text>
<text x="257.7" y="1722" text-anchor="middle">0.5</text>
<text x="346" y="1722" text-anchor="middle">1</text>
<text x="667" y="31" style="font-size:44px;">B</text>
<text x="873.7" y="44.5" text-anchor="middle">V1</text>
<rect x="736" y="53.5" width="276" height="213" fill="none" stroke="#333" stroke-width="2.2"/>
<line x1="731.5" y1="83.4" x2="736" y2="83.4" stroke="#333" stroke-width="2"/>
<text x="725.4" y="96" text-anchor="end">0.7</text>
<line x1="731.5" y1="129.4" x2="736" y2="129.4" stroke="#333" stroke-width="2"/>
<text x="725.4" y="142" text-anchor="end">0.6</text>
<line x1="731.5" y1="175.8" x2="736" y2="175.8" stroke="#333" stroke-width="2"/>
<text x="725.4" y="188.4" text-anchor="end">0.5</text>
<line x1="731.5" y1="221.9" x2="736" y2="221.9" stroke="#333" stroke-width="2"/>
<text x="725.4" y="234.5" text-anchor="end">0.4</text>
<line x1="768" y1="266.5" x2="768" y2="272.5" stroke="#333" stroke-width="2"/>
<line x1="821" y1="266.5" x2="821" y2="272.5" stroke="#333" stroke-width="2"/>
<line x1="874" y1="266.5" x2="874" y2="272.5" stroke="#333" stroke-width="2"/>
<line x1="927" y1="266.5" x2="927" y2="272.5" stroke="#333" stroke-width="2"/>
<line x1="980" y1="266.5" x2="980" y2="272.5" stroke="#333" stroke-width="2"/>
<line x1="768" y1="63.4" x2="768" y2="75.4" stroke="#2E7EBF" stroke-width="2.5"/>
<line x1="760" y1="63.4" x2="776" y2="63.4" stroke="#2E7EBF" stroke-width="2.5"/>
<line x1="760" y1="75.4" x2="776" y2="75.4" stroke="#2E7EBF" stroke-width="2.5"/>
<circle cx="768" cy="69.4" r="6.5" fill="#2E7EBF"/>
<line x1="821" y1="72.6" x2="821" y2="84.6" stroke="#2E7EBF" stroke-width="2.5"/>
<line x1="813" y1="72.6" x2="829" y2="72.6" stroke="#2E7EBF" stroke-width="2.5"/>
<line x1="813" y1="84.6" x2="829" y2="84.6" stroke="#2E7EBF" stroke-width="2.5"/>
<circle cx="821" cy="78.6" r="6.5" fill="#2E7EBF"/>
<line x1="874" y1="82.2" x2="874" y2="94.2" stroke="#2E7EBF" stroke-width="2.5"/>
<line x1="866" y1="82.2" x2="882" y2="82.2" stroke="#2E7EBF" stroke-width="2.5"/>
<line x1="866" y1="94.2" x2="882" y2="94.2" stroke="#2E7EBF" stroke-width="2.5"/>
<circle cx="874" cy="88.2" r="6.5" fill="#2E7EBF"/>
<line x1="927" y1="89.3" x2="927" y2="101.3" stroke="#2E7EBF" stroke-width="2.5"/>
<line x1="919" y1="89.3" x2="935" y2="89.3" stroke="#2E7EBF" stroke-width="2.5"/>
<line x1="919" y1="101.3" x2="935" y2="101.3" stroke="#2E7EBF" stroke-width="2.5"/>
<circle cx="927" cy="95.3" r="6.5" fill="#2E7EBF"/>
<line x1="971" y1="255.7" x2="989" y2="255.7" stroke="#2E7EBF" stroke-width="2.5"/>
<circle cx="980" cy="255.7" r="6.5" fill="#2E7EBF"/>
<path d="M768 69.4 L821 78.6 L874 88.2 L927 95.3 L980 255.7" fill="none" stroke="#000" stroke-width="2" stroke-dasharray="7 5"/>
<text x="749" y="256.5" style="font-style:italic;">p-trend = 0.0137</text>
<text x="1196.3" y="44.5" text-anchor="middle">V2</text>
<rect x="1064" y="53.5" width="276" height="213" fill="none" stroke="#333" stroke-width="2.2"/>
<line x1="1059.5" y1="75.2" x2="1064" y2="75.2" stroke="#333" stroke-width="2"/>
<text x="1058.5" y="84.2" text-anchor="end">0.7</text>
<line x1="1059.5" y1="122.7" x2="1064" y2="122.7" stroke="#333" stroke-width="2"/>
<text x="1058.5" y="131.7" text-anchor="end">0.6</text>
<line x1="1059.5" y1="169.7" x2="1064" y2="169.7" stroke="#333" stroke-width="2"/>
<text x="1058.5" y="178.7" text-anchor="end">0.5</text>
<line x1="1059.5" y1="217.2" x2="1064" y2="217.2" stroke="#333" stroke-width="2"/>
<text x="1058.5" y="226.2" text-anchor="end">0.4</text>
<line x1="1059.5" y1="264.8" x2="1064" y2="264.8" stroke="#333" stroke-width="2"/>
<text x="1058.5" y="273.8" text-anchor="end">0.3</text>
<line x1="1096" y1="266.5" x2="1096" y2="272.5" stroke="#333" stroke-width="2"/>
<line x1="1149" y1="266.5" x2="1149" y2="272.5" stroke="#333" stroke-width="2"/>
<line x1="1202" y1="266.5" x2="1202" y2="272.5" stroke="#333" stroke-width="2"/>
<line x1="1255" y1="266.5" x2="1255" y2="272.5" stroke="#333" stroke-width="2"/>
<line x1="1308" y1="266.5" x2="1308" y2="272.5" stroke="#333" stroke-width="2"/>
<line x1="1096" y1="64" x2="1096" y2="74" stroke="#2E7EBF" stroke-width="2.5"/>
<line x1="1088" y1="64" x2="1104" y2="64" stroke="#2E7EBF" stroke-width="2.5"/>
<line x1="1088" y1="74" x2="1104" y2="74" stroke="#2E7EBF" stroke-width="2.5"/>
<circle cx="1096" cy="69" r="6.5" fill="#2E7EBF"/>
<line x1="1149" y1="93.2" x2="1149" y2="103.2" stroke="#2E7EBF" stroke-width="2.5"/>
<line x1="1141" y1="93.2" x2="1157" y2="93.2" stroke="#2E7EBF" stroke-width="2.5"/>
<line x1="1141" y1="103.2" x2="1157" y2="103.2" stroke="#2E7EBF" stroke-width="2.5"/>
<circle cx="1149" cy="98.2" r="6.5" fill="#2E7EBF"/>
<line x1="1202" y1="113.3" x2="1202" y2="123.3" stroke="#2E7EBF" stroke-width="2.5"/>
<line x1="1194" y1="113.3" x2="1210" y2="113.3" stroke="#2E7EBF" stroke-width="2.5"/>
<line x1="1194" y1="123.3" x2="1210" y2="123.3" stroke="#2E7EBF" stroke-width="2.5"/>
<circle cx="1202" cy="118.3" r="6.5" fill="#2E7EBF"/>
<line x1="1255" y1="130.8" x2="1255" y2="140.8" stroke="#2E7EBF" stroke-width="2.5"/>
<line x1="1247" y1="130.8" x2="1263" y2="130.8" stroke="#2E7EBF" stroke-width="2.5"/>
<line x1="1247" y1="140.8" x2="1263" y2="140.8" stroke="#2E7EBF" stroke-width="2.5"/>
<circle cx="1255" cy="135.8" r="6.5" fill="#2E7EBF"/>
<line x1="1299" y1="255.7" x2="1317" y2="255.7" stroke="#2E7EBF" stroke-width="2.5"/>
<circle cx="1308" cy="255.7" r="6.5" fill="#2E7EBF"/>
<path d="M1096 69 L1149 98.2 L1202 118.3 L1255 135.8 L1308 255.7" fill="none" stroke="#000" stroke-width="2" stroke-dasharray="7 5"/>
<text x="1077" y="256.5" style="font-style:italic;">p-trend = 0.0137</text>
<text x="1519.4" y="44.5" text-anchor="middle">V3</text>
<rect x="1391.5" y="53.5" width="276" height="213" fill="none" stroke="#333" stroke-width="2.2"/>
<line x1="1387" y1="72.3" x2="1391.5" y2="72.3" stroke="#333" stroke-width="2"/>
<text x="1386.2" y="77.3" text-anchor="end">0.8</text>
<line x1="1387" y1="146.8" x2="1391.5" y2="146.8" stroke="#333" stroke-width="2"/>
<text x="1386.2" y="151.8" text-anchor="end">0.6</text>
<line x1="1387" y1="221.3" x2="1391.5" y2="221.3" stroke="#333" stroke-width="2"/>
<text x="1386.2" y="226.3" text-anchor="end">0.4</text>
<line x1="1423.5" y1="266.5" x2="1423.5" y2="272.5" stroke="#333" stroke-width="2"/>
<line x1="1476.5" y1="266.5" x2="1476.5" y2="272.5" stroke="#333" stroke-width="2"/>
<line x1="1529.5" y1="266.5" x2="1529.5" y2="272.5" stroke="#333" stroke-width="2"/>
<line x1="1582.5" y1="266.5" x2="1582.5" y2="272.5" stroke="#333" stroke-width="2"/>
<line x1="1635.5" y1="266.5" x2="1635.5" y2="272.5" stroke="#333" stroke-width="2"/>
<line x1="1423.5" y1="61.5" x2="1423.5" y2="70.5" stroke="#2E7EBF" stroke-width="2.5"/>
<line x1="1415.5" y1="61.5" x2="1431.5" y2="61.5" stroke="#2E7EBF" stroke-width="2.5"/>
<line x1="1415.5" y1="70.5" x2="1431.5" y2="70.5" stroke="#2E7EBF" stroke-width="2.5"/>
<circle cx="1423.5" cy="66" r="6.5" fill="#2E7EBF"/>
<line x1="1476.5" y1="70.7" x2="1476.5" y2="79.7" stroke="#2E7EBF" stroke-width="2.5"/>
<line x1="1468.5" y1="70.7" x2="1484.5" y2="70.7" stroke="#2E7EBF" stroke-width="2.5"/>
<line x1="1468.5" y1="79.7" x2="1484.5" y2="79.7" stroke="#2E7EBF" stroke-width="2.5"/>
<circle cx="1476.5" cy="75.2" r="6.5" fill="#2E7EBF"/>
<line x1="1529.5" y1="78.2" x2="1529.5" y2="87.2" stroke="#2E7EBF" stroke-width="2.5"/>
<line x1="1521.5" y1="78.2" x2="1537.5" y2="78.2" stroke="#2E7EBF" stroke-width="2.5"/>
<line x1="1521.5" y1="87.2" x2="1537.5" y2="87.2" stroke="#2E7EBF" stroke-width="2.5"/>
<circle cx="1529.5" cy="82.7" r="6.5" fill="#2E7EBF"/>
<line x1="1582.5" y1="85.7" x2="1582.5" y2="95.7" stroke="#2E7EBF" stroke-width="2.5"/>
<line x1="1574.5" y1="85.7" x2="1590.5" y2="85.7" stroke="#2E7EBF" stroke-width="2.5"/>
<line x1="1574.5" y1="95.7" x2="1590.5" y2="95.7" stroke="#2E7EBF" stroke-width="2.5"/>
<circle cx="1582.5" cy="90.7" r="6.5" fill="#2E7EBF"/>
<line x1="1626.5" y1="256.2" x2="1644.5" y2="256.2" stroke="#2E7EBF" stroke-width="2.5"/>
<circle cx="1635.5" cy="256.2" r="6.5" fill="#2E7EBF"/>
<path d="M1423.5 66 L1476.5 75.2 L1529.5 82.7 L1582.5 90.7 L1635.5 256.2" fill="none" stroke="#000" stroke-width="2" stroke-dasharray="7 5"/>
<text x="1404.5" y="256.5" style="font-style:italic;">p-trend = 0.0137</text>
<text x="1843.2" y="44.5" text-anchor="middle">V4</text>
<rect x="1719" y="53.5" width="276" height="213" fill="none" stroke="#333" stroke-width="2.2"/>
<line x1="1714.5" y1="66.8" x2="1719" y2="66.8" stroke="#333" stroke-width="2"/>
<text x="1713" y="71.4" text-anchor="end">0.8</text>
<line x1="1714.5" y1="135.7" x2="1719" y2="135.7" stroke="#333" stroke-width="2"/>
<text x="1713" y="140.3" text-anchor="end">0.6</text>
<line x1="1714.5" y1="203.7" x2="1719" y2="203.7" stroke="#333" stroke-width="2"/>
<text x="1713" y="208.3" text-anchor="end">0.4</text>
<line x1="1751" y1="266.5" x2="1751" y2="272.5" stroke="#333" stroke-width="2"/>
<line x1="1804" y1="266.5" x2="1804" y2="272.5" stroke="#333" stroke-width="2"/>
<line x1="1857" y1="266.5" x2="1857" y2="272.5" stroke="#333" stroke-width="2"/>
<line x1="1910" y1="266.5" x2="1910" y2="272.5" stroke="#333" stroke-width="2"/>
<line x1="1963" y1="266.5" x2="1963" y2="272.5" stroke="#333" stroke-width="2"/>
<line x1="1751" y1="62" x2="1751" y2="70" stroke="#2E7EBF" stroke-width="2.5"/>
<line x1="1743" y1="62" x2="1759" y2="62" stroke="#2E7EBF" stroke-width="2.5"/>
<line x1="1743" y1="70" x2="1759" y2="70" stroke="#2E7EBF" stroke-width="2.5"/>
<circle cx="1751" cy="66" r="6.5" fill="#2E7EBF"/>
<line x1="1804" y1="101.3" x2="1804" y2="109.3" stroke="#2E7EBF" stroke-width="2.5"/>
<line x1="1796" y1="101.3" x2="1812" y2="101.3" stroke="#2E7EBF" stroke-width="2.5"/>
<line x1="1796" y1="109.3" x2="1812" y2="109.3" stroke="#2E7EBF" stroke-width="2.5"/>
<circle cx="1804" cy="105.3" r="6.5" fill="#2E7EBF"/>
<line x1="1857" y1="126.8" x2="1857" y2="134.8" stroke="#2E7EBF" stroke-width="2.5"/>
<line x1="1849" y1="126.8" x2="1865" y2="126.8" stroke="#2E7EBF" stroke-width="2.5"/>
<line x1="1849" y1="134.8" x2="1865" y2="134.8" stroke="#2E7EBF" stroke-width="2.5"/>
<circle cx="1857" cy="130.8" r="6.5" fill="#2E7EBF"/>
<line x1="1910" y1="155.6" x2="1910" y2="163.6" stroke="#2E7EBF" stroke-width="2.5"/>
<line x1="1902" y1="155.6" x2="1918" y2="155.6" stroke="#2E7EBF" stroke-width="2.5"/>
<line x1="1902" y1="163.6" x2="1918" y2="163.6" stroke="#2E7EBF" stroke-width="2.5"/>
<circle cx="1910" cy="159.6" r="6.5" fill="#2E7EBF"/>
<line x1="1954" y1="256.2" x2="1972" y2="256.2" stroke="#2E7EBF" stroke-width="2.5"/>
<circle cx="1963" cy="256.2" r="6.5" fill="#2E7EBF"/>
<path d="M1751 66 L1804 105.3 L1857 130.8 L1910 159.6 L1963 256.2" fill="none" stroke="#000" stroke-width="2" stroke-dasharray="7 5"/>
<text x="1732" y="256.5" style="font-style:italic;">p-trend = 0.0137</text>
<text x="873.7" y="302.2" text-anchor="middle">V5</text>
<rect x="736" y="311.2" width="276" height="213.6" fill="none" stroke="#333" stroke-width="2.2"/>
<line x1="731.5" y1="329.9" x2="736" y2="329.9" stroke="#333" stroke-width="2"/>
<text x="725.4" y="343.1" text-anchor="end">0.6</text>
<line x1="731.5" y1="413.3" x2="736" y2="413.3" stroke="#333" stroke-width="2"/>
<text x="725.4" y="426.5" text-anchor="end">0.4</text>
<line x1="731.5" y1="496.2" x2="736" y2="496.2" stroke="#333" stroke-width="2"/>
<text x="725.4" y="509.4" text-anchor="end">0.2</text>
<line x1="768" y1="524.8" x2="768" y2="530.8" stroke="#333" stroke-width="2"/>
<line x1="821" y1="524.8" x2="821" y2="530.8" stroke="#333" stroke-width="2"/>
<line x1="874" y1="524.8" x2="874" y2="530.8" stroke="#333" stroke-width="2"/>
<line x1="927" y1="524.8" x2="927" y2="530.8" stroke="#333" stroke-width="2"/>
<line x1="980" y1="524.8" x2="980" y2="530.8" stroke="#333" stroke-width="2"/>
<line x1="768" y1="321" x2="768" y2="331" stroke="#2E7EBF" stroke-width="2.5"/>
<line x1="760" y1="321" x2="776" y2="321" stroke="#2E7EBF" stroke-width="2.5"/>
<line x1="760" y1="331" x2="776" y2="331" stroke="#2E7EBF" stroke-width="2.5"/>
<circle cx="768" cy="326" r="6.5" fill="#2E7EBF"/>
<line x1="821" y1="362.7" x2="821" y2="372.7" stroke="#2E7EBF" stroke-width="2.5"/>
<line x1="813" y1="362.7" x2="829" y2="362.7" stroke="#2E7EBF" stroke-width="2.5"/>
<line x1="813" y1="372.7" x2="829" y2="372.7" stroke="#2E7EBF" stroke-width="2.5"/>
<circle cx="821" cy="367.7" r="6.5" fill="#2E7EBF"/>
<line x1="874" y1="372.2" x2="874" y2="384.2" stroke="#2E7EBF" stroke-width="2.5"/>
<line x1="866" y1="372.2" x2="882" y2="372.2" stroke="#2E7EBF" stroke-width="2.5"/>
<line x1="866" y1="384.2" x2="882" y2="384.2" stroke="#2E7EBF" stroke-width="2.5"/>
<circle cx="874" cy="378.2" r="6.5" fill="#2E7EBF"/>
<line x1="927" y1="382.1" x2="927" y2="395.1" stroke="#2E7EBF" stroke-width="2.5"/>
<line x1="919" y1="382.1" x2="935" y2="382.1" stroke="#2E7EBF" stroke-width="2.5"/>
<line x1="919" y1="395.1" x2="935" y2="395.1" stroke="#2E7EBF" stroke-width="2.5"/>
<circle cx="927" cy="388.6" r="6.5" fill="#2E7EBF"/>
<line x1="971" y1="513.2" x2="989" y2="513.2" stroke="#2E7EBF" stroke-width="2.5"/>
<circle cx="980" cy="513.2" r="6.5" fill="#2E7EBF"/>
<path d="M768 326 L821 367.7 L874 378.2 L927 388.6 L980 513.2" fill="none" stroke="#000" stroke-width="2" stroke-dasharray="7 5"/>
<text x="749" y="514.8" style="font-style:italic;">p-trend = 0.0137</text>
<text x="778" y="550.8" text-anchor="end" transform="rotate(-45 778 550.8)">0−40</text>
<text x="831" y="550.8" text-anchor="end" transform="rotate(-45 831 550.8)">40−80</text>
<text x="884" y="550.8" text-anchor="end" transform="rotate(-45 884 550.8)">80−160</text>
<text x="937" y="550.8" text-anchor="end" transform="rotate(-45 937 550.8)">160−320</text>
<text x="989" y="551.8" text-anchor="end" transform="rotate(-45 989 551.8)">beyond</text>
<text x="1009" y="570.8" text-anchor="end" transform="rotate(-45 1009 570.8)">village</text>
<text x="1196.3" y="302.2" text-anchor="middle">V6</text>
<rect x="1064" y="311.2" width="276" height="213.6" fill="none" stroke="#333" stroke-width="2.2"/>
<line x1="1059.5" y1="321.7" x2="1064" y2="321.7" stroke="#333" stroke-width="2"/>
<text x="1058.5" y="330.2" text-anchor="end">0.7</text>
<line x1="1059.5" y1="364.3" x2="1064" y2="364.3" stroke="#333" stroke-width="2"/>
<text x="1058.5" y="372.8" text-anchor="end">0.6</text>
<line x1="1059.5" y1="407" x2="1064" y2="407" stroke="#333" stroke-width="2"/>
<text x="1058.5" y="415.5" text-anchor="end">0.5</text>
<line x1="1059.5" y1="449.6" x2="1064" y2="449.6" stroke="#333" stroke-width="2"/>
<text x="1058.5" y="458.1" text-anchor="end">0.4</text>
<line x1="1059.5" y1="492.5" x2="1064" y2="492.5" stroke="#333" stroke-width="2"/>
<text x="1058.5" y="501" text-anchor="end">0.3</text>
<line x1="1096" y1="524.8" x2="1096" y2="530.8" stroke="#333" stroke-width="2"/>
<line x1="1149" y1="524.8" x2="1149" y2="530.8" stroke="#333" stroke-width="2"/>
<line x1="1202" y1="524.8" x2="1202" y2="530.8" stroke="#333" stroke-width="2"/>
<line x1="1255" y1="524.8" x2="1255" y2="530.8" stroke="#333" stroke-width="2"/>
<line x1="1308" y1="524.8" x2="1308" y2="530.8" stroke="#333" stroke-width="2"/>
<line x1="1096" y1="320.6" x2="1096" y2="329.6" stroke="#2E7EBF" stroke-width="2.5"/>
<line x1="1088" y1="320.6" x2="1104" y2="320.6" stroke="#2E7EBF" stroke-width="2.5"/>
<line x1="1088" y1="329.6" x2="1104" y2="329.6" stroke="#2E7EBF" stroke-width="2.5"/>
<circle cx="1096" cy="325.1" r="6.5" fill="#2E7EBF"/>
<line x1="1149" y1="333.5" x2="1149" y2="343.5" stroke="#2E7EBF" stroke-width="2.5"/>
<line x1="1141" y1="333.5" x2="1157" y2="333.5" stroke="#2E7EBF" stroke-width="2.5"/>
<line x1="1141" y1="343.5" x2="1157" y2="343.5" stroke="#2E7EBF" stroke-width="2.5"/>
<circle cx="1149" cy="338.5" r="6.5" fill="#2E7EBF"/>
<line x1="1202" y1="336.2" x2="1202" y2="349.2" stroke="#2E7EBF" stroke-width="2.5"/>
<line x1="1194" y1="336.2" x2="1210" y2="336.2" stroke="#2E7EBF" stroke-width="2.5"/>
<line x1="1194" y1="349.2" x2="1210" y2="349.2" stroke="#2E7EBF" stroke-width="2.5"/>
<circle cx="1202" cy="342.7" r="6.5" fill="#2E7EBF"/>
<line x1="1255" y1="349.5" x2="1255" y2="367.5" stroke="#2E7EBF" stroke-width="2.5"/>
<line x1="1247" y1="349.5" x2="1263" y2="349.5" stroke="#2E7EBF" stroke-width="2.5"/>
<line x1="1247" y1="367.5" x2="1263" y2="367.5" stroke="#2E7EBF" stroke-width="2.5"/>
<circle cx="1255" cy="358.5" r="6.5" fill="#2E7EBF"/>
<line x1="1299" y1="514" x2="1317" y2="514" stroke="#2E7EBF" stroke-width="2.5"/>
<circle cx="1308" cy="514" r="6.5" fill="#2E7EBF"/>
<path d="M1096 325.1 L1149 338.5 L1202 342.7 L1255 358.5 L1308 514" fill="none" stroke="#000" stroke-width="2" stroke-dasharray="7 5"/>
<text x="1077" y="514.8" style="font-style:italic;">p-trend = 0.0137</text>
<text x="1106" y="550.8" text-anchor="end" transform="rotate(-45 1106 550.8)">0−40</text>
<text x="1159" y="550.8" text-anchor="end" transform="rotate(-45 1159 550.8)">40−80</text>
<text x="1212" y="550.8" text-anchor="end" transform="rotate(-45 1212 550.8)">80−160</text>
<text x="1265" y="550.8" text-anchor="end" transform="rotate(-45 1265 550.8)">160−320</text>
<text x="1317" y="551.8" text-anchor="end" transform="rotate(-45 1317 551.8)">beyond</text>
<text x="1337" y="570.8" text-anchor="end" transform="rotate(-45 1337 570.8)">village</text>
<text x="1519.4" y="302.2" text-anchor="middle">V7</text>
<rect x="1391.5" y="311.2" width="276" height="213.6" fill="none" stroke="#333" stroke-width="2.2"/>
<line x1="1387" y1="338.7" x2="1391.5" y2="338.7" stroke="#333" stroke-width="2"/>
<text x="1386.2" y="344" text-anchor="end">0.8</text>
<line x1="1387" y1="426.5" x2="1391.5" y2="426.5" stroke="#333" stroke-width="2"/>
<text x="1386.2" y="431.8" text-anchor="end">0.6</text>
<line x1="1387" y1="514.2" x2="1391.5" y2="514.2" stroke="#333" stroke-width="2"/>
<text x="1386.2" y="519.5" text-anchor="end">0.4</text>
<line x1="1423.5" y1="524.8" x2="1423.5" y2="530.8" stroke="#333" stroke-width="2"/>
<line x1="1476.5" y1="524.8" x2="1476.5" y2="530.8" stroke="#333" stroke-width="2"/>
<line x1="1529.5" y1="524.8" x2="1529.5" y2="530.8" stroke="#333" stroke-width="2"/>
<line x1="1582.5" y1="524.8" x2="1582.5" y2="530.8" stroke="#333" stroke-width="2"/>
<line x1="1635.5" y1="524.8" x2="1635.5" y2="530.8" stroke="#333" stroke-width="2"/>
<line x1="1423.5" y1="319.9" x2="1423.5" y2="327.9" stroke="#2E7EBF" stroke-width="2.5"/>
<line x1="1415.5" y1="319.9" x2="1431.5" y2="319.9" stroke="#2E7EBF" stroke-width="2.5"/>
<line x1="1415.5" y1="327.9" x2="1431.5" y2="327.9" stroke="#2E7EBF" stroke-width="2.5"/>
<circle cx="1423.5" cy="323.9" r="6.5" fill="#2E7EBF"/>
<line x1="1476.5" y1="344.3" x2="1476.5" y2="355.3" stroke="#2E7EBF" stroke-width="2.5"/>
<line x1="1468.5" y1="344.3" x2="1484.5" y2="344.3" stroke="#2E7EBF" stroke-width="2.5"/>
<line x1="1468.5" y1="355.3" x2="1484.5" y2="355.3" stroke="#2E7EBF" stroke-width="2.5"/>
<circle cx="1476.5" cy="349.8" r="6.5" fill="#2E7EBF"/>
<line x1="1529.5" y1="354.9" x2="1529.5" y2="368.9" stroke="#2E7EBF" stroke-width="2.5"/>
<line x1="1521.5" y1="354.9" x2="1537.5" y2="354.9" stroke="#2E7EBF" stroke-width="2.5"/>
<line x1="1521.5" y1="368.9" x2="1537.5" y2="368.9" stroke="#2E7EBF" stroke-width="2.5"/>
<circle cx="1529.5" cy="361.9" r="6.5" fill="#2E7EBF"/>
<line x1="1582.5" y1="364.2" x2="1582.5" y2="382.2" stroke="#2E7EBF" stroke-width="2.5"/>
<line x1="1574.5" y1="364.2" x2="1590.5" y2="364.2" stroke="#2E7EBF" stroke-width="2.5"/>
<line x1="1574.5" y1="382.2" x2="1590.5" y2="382.2" stroke="#2E7EBF" stroke-width="2.5"/>
<circle cx="1582.5" cy="373.2" r="6.5" fill="#2E7EBF"/>
<line x1="1626.5" y1="513.6" x2="1644.5" y2="513.6" stroke="#2E7EBF" stroke-width="2.5"/>
<circle cx="1635.5" cy="513.6" r="6.5" fill="#2E7EBF"/>
<path d="M1423.5 323.9 L1476.5 349.8 L1529.5 361.9 L1582.5 373.2 L1635.5 513.6" fill="none" stroke="#000" stroke-width="2" stroke-dasharray="7 5"/>
<text x="1404.5" y="514.8" style="font-style:italic;">p-trend = 0.0137</text>
<text x="1433.5" y="550.8" text-anchor="end" transform="rotate(-45 1433.5 550.8)">0−40</text>
<text x="1486.5" y="550.8" text-anchor="end" transform="rotate(-45 1486.5 550.8)">40−80</text>
<text x="1539.5" y="550.8" text-anchor="end" transform="rotate(-45 1539.5 550.8)">80−160</text>
<text x="1592.5" y="550.8" text-anchor="end" transform="rotate(-45 1592.5 550.8)">160−320</text>
<text x="1644.5" y="551.8" text-anchor="end" transform="rotate(-45 1644.5 551.8)">beyond</text>
<text x="1664.5" y="570.8" text-anchor="end" transform="rotate(-45 1664.5 570.8)">village</text>
<text x="1843.2" y="302.2" text-anchor="middle">V8</text>
<rect x="1719" y="311.2" width="276" height="213.6" fill="none" stroke="#333" stroke-width="2.2"/>
<line x1="1714.5" y1="342.3" x2="1719" y2="342.3" stroke="#333" stroke-width="2"/>
<text x="1713" y="347.2" text-anchor="end">0.6</text>
<line x1="1714.5" y1="422.7" x2="1719" y2="422.7" stroke="#333" stroke-width="2"/>
<text x="1713" y="427.6" text-anchor="end">0.5</text>
<line x1="1714.5" y1="502.5" x2="1719" y2="502.5" stroke="#333" stroke-width="2"/>
<text x="1713" y="507.4" text-anchor="end">0.4</text>
<line x1="1751" y1="524.8" x2="1751" y2="530.8" stroke="#333" stroke-width="2"/>
<line x1="1804" y1="524.8" x2="1804" y2="530.8" stroke="#333" stroke-width="2"/>
<line x1="1857" y1="524.8" x2="1857" y2="530.8" stroke="#333" stroke-width="2"/>
<line x1="1910" y1="524.8" x2="1910" y2="530.8" stroke="#333" stroke-width="2"/>
<line x1="1963" y1="524.8" x2="1963" y2="530.8" stroke="#333" stroke-width="2"/>
<line x1="1751" y1="321" x2="1751" y2="341" stroke="#2E7EBF" stroke-width="2.5"/>
<line x1="1743" y1="321" x2="1759" y2="321" stroke="#2E7EBF" stroke-width="2.5"/>
<line x1="1743" y1="341" x2="1759" y2="341" stroke="#2E7EBF" stroke-width="2.5"/>
<circle cx="1751" cy="331" r="6.5" fill="#2E7EBF"/>
<line x1="1804" y1="326.8" x2="1804" y2="346.8" stroke="#2E7EBF" stroke-width="2.5"/>
<line x1="1796" y1="326.8" x2="1812" y2="326.8" stroke="#2E7EBF" stroke-width="2.5"/>
<line x1="1796" y1="346.8" x2="1812" y2="346.8" stroke="#2E7EBF" stroke-width="2.5"/>
<circle cx="1804" cy="336.8" r="6.5" fill="#2E7EBF"/>
<line x1="1857" y1="328.3" x2="1857" y2="350.3" stroke="#2E7EBF" stroke-width="2.5"/>
<line x1="1849" y1="328.3" x2="1865" y2="328.3" stroke="#2E7EBF" stroke-width="2.5"/>
<line x1="1849" y1="350.3" x2="1865" y2="350.3" stroke="#2E7EBF" stroke-width="2.5"/>
<circle cx="1857" cy="339.3" r="6.5" fill="#2E7EBF"/>
<line x1="1910" y1="328.3" x2="1910" y2="350.3" stroke="#2E7EBF" stroke-width="2.5"/>
<line x1="1902" y1="328.3" x2="1918" y2="328.3" stroke="#2E7EBF" stroke-width="2.5"/>
<line x1="1902" y1="350.3" x2="1918" y2="350.3" stroke="#2E7EBF" stroke-width="2.5"/>
<circle cx="1910" cy="339.3" r="6.5" fill="#2E7EBF"/>
<line x1="1954" y1="514" x2="1972" y2="514" stroke="#2E7EBF" stroke-width="2.5"/>
<circle cx="1963" cy="514" r="6.5" fill="#2E7EBF"/>
<path d="M1751 331 L1804 336.8 L1857 339.3 L1910 339.3 L1963 514" fill="none" stroke="#000" stroke-width="2" stroke-dasharray="7 5"/>
<text x="1732" y="514.8" style="font-style:italic;">p-trend = 0.0432</text>
<text x="1761" y="550.8" text-anchor="end" transform="rotate(-45 1761 550.8)">0−40</text>
<text x="1814" y="550.8" text-anchor="end" transform="rotate(-45 1814 550.8)">40−80</text>
<text x="1867" y="550.8" text-anchor="end" transform="rotate(-45 1867 550.8)">80−160</text>
<text x="1920" y="550.8" text-anchor="end" transform="rotate(-45 1920 550.8)">160−320</text>
<text x="1972" y="551.8" text-anchor="end" transform="rotate(-45 1972 551.8)">beyond</text>
<text x="1992" y="570.8" text-anchor="end" transform="rotate(-45 1992 570.8)">village</text>
<text x="677" y="275" text-anchor="middle" transform="rotate(-90 677 275)">Score</text>
<text x="667" y="692" style="font-size:44px;">C</text>
<rect x="776" y="664" width="28" height="28" fill="#66C2A5"/>
<text x="827" y="688">Defined villages</text>
<rect x="1072" y="664" width="28" height="28" fill="#FC8D62"/>
<text x="1122" y="688">Perturb tumor neighbors</text>
<line x1="788.4" y1="739.5" x2="788.4" y2="959" stroke="#000" stroke-width="2.2"/>
<line x1="788.4" y1="948.6" x2="1446.6" y2="948.6" stroke="#000" stroke-width="2.2"/>
<line x1="780.5" y1="741" x2="788.4" y2="741" stroke="#000" stroke-width="2"/>
<text x="777" y="751.8" text-anchor="end">1.0</text>
<line x1="780.5" y1="848.1" x2="788.4" y2="848.1" stroke="#000" stroke-width="2"/>
<text x="777" y="852.9" text-anchor="end">0.5</text>
<line x1="780.5" y1="948.3" x2="788.4" y2="948.3" stroke="#000" stroke-width="2"/>
<text x="777" y="952.7" text-anchor="end">0.0</text>
<text x="721" y="836" text-anchor="middle" transform="rotate(-90 721 836)">F1 score</text>
<rect x="802" y="751" width="32.5" height="197.6" fill="#66C2A5"/>
<rect x="838.5" y="777.7" width="32.5" height="170.9" fill="#FC8D62"/>
<line x1="811.8" y1="751" x2="824.8" y2="751" stroke="#000" stroke-width="3"/>
<line x1="848.2" y1="777.7" x2="861.2" y2="777.7" stroke="#000" stroke-width="3"/>
<line x1="838.3" y1="948.6" x2="838.3" y2="954.6" stroke="#000" stroke-width="2"/>
<text x="838.3" y="981.5" text-anchor="middle">V1</text>
<line x1="820.3" y1="740.5" x2="856.3" y2="740.5" stroke="#000" stroke-width="2"/>
<text x="838.3" y="742.5" text-anchor="middle">***</text>
<rect x="882.5" y="754.1" width="32.5" height="194.5" fill="#66C2A5"/>
<rect x="919" y="781.1" width="32.5" height="167.5" fill="#FC8D62"/>
<line x1="892.2" y1="754.1" x2="905.2" y2="754.1" stroke="#000" stroke-width="3"/>
<line x1="928.8" y1="781.1" x2="941.8" y2="781.1" stroke="#000" stroke-width="3"/>
<line x1="918.8" y1="948.6" x2="918.8" y2="954.6" stroke="#000" stroke-width="2"/>
<text x="918.8" y="981.5" text-anchor="middle">V2</text>
<line x1="900.8" y1="740.2" x2="936.8" y2="740.2" stroke="#000" stroke-width="2"/>
<text x="918.8" y="742.2" text-anchor="middle">***</text>
<rect x="963" y="790.2" width="32.5" height="158.4" fill="#66C2A5"/>
<rect x="999.5" y="831.3" width="32.5" height="117.3" fill="#FC8D62"/>
<line x1="972.8" y1="790.2" x2="985.8" y2="790.2" stroke="#000" stroke-width="3"/>
<line x1="1009.2" y1="831.3" x2="1022.2" y2="831.3" stroke="#000" stroke-width="3"/>
<line x1="999.3" y1="948.6" x2="999.3" y2="954.6" stroke="#000" stroke-width="2"/>
<text x="999.3" y="981.5" text-anchor="middle">V3</text>
<line x1="981.3" y1="777.4" x2="1017.3" y2="777.4" stroke="#000" stroke-width="2"/>
<text x="999.3" y="779.4" text-anchor="middle">***</text>
<rect x="1043.5" y="769.6" width="32.5" height="179" fill="#66C2A5"/>
<rect x="1080" y="884.9" width="32.5" height="63.7" fill="#FC8D62"/>
<line x1="1053.2" y1="769.6" x2="1066.2" y2="769.6" stroke="#000" stroke-width="3"/>
<line x1="1089.8" y1="884.9" x2="1102.8" y2="884.9" stroke="#000" stroke-width="3"/>
<line x1="1079.8" y1="948.6" x2="1079.8" y2="954.6" stroke="#000" stroke-width="2"/>
<text x="1079.8" y="981.5" text-anchor="middle">V4</text>
<line x1="1061.8" y1="754" x2="1097.8" y2="754" stroke="#000" stroke-width="2"/>
<text x="1079.8" y="756" text-anchor="middle">***</text>
<rect x="1124" y="794.1" width="32.5" height="154.5" fill="#66C2A5"/>
<rect x="1160.5" y="941.7" width="32.5" height="6.9" fill="#FC8D62"/>
<line x1="1133.8" y1="794.1" x2="1146.8" y2="794.1" stroke="#000" stroke-width="3"/>
<line x1="1170.2" y1="941.7" x2="1183.2" y2="941.7" stroke="#000" stroke-width="3"/>
<line x1="1160.3" y1="948.6" x2="1160.3" y2="954.6" stroke="#000" stroke-width="2"/>
<text x="1160.3" y="981.5" text-anchor="middle">V5</text>
<line x1="1142.3" y1="784.7" x2="1178.3" y2="784.7" stroke="#000" stroke-width="2"/>
<text x="1160.3" y="786.7" text-anchor="middle">***</text>
<rect x="1204.5" y="812.2" width="32.5" height="136.4" fill="#66C2A5"/>
<rect x="1241" y="894.2" width="32.5" height="54.4" fill="#FC8D62"/>
<line x1="1214.2" y1="812.2" x2="1227.2" y2="812.2" stroke="#000" stroke-width="3"/>
<line x1="1250.8" y1="894.2" x2="1263.8" y2="894.2" stroke="#000" stroke-width="3"/>
<line x1="1240.8" y1="948.6" x2="1240.8" y2="954.6" stroke="#000" stroke-width="2"/>
<text x="1240.8" y="981.5" text-anchor="middle">V6</text>
<line x1="1222.8" y1="805.2" x2="1258.8" y2="805.2" stroke="#000" stroke-width="2"/>
<text x="1240.8" y="807.2" text-anchor="middle">***</text>
<rect x="1285" y="813.7" width="32.5" height="134.9" fill="#66C2A5"/>
<rect x="1321.5" y="926.8" width="32.5" height="21.8" fill="#FC8D62"/>
<line x1="1294.8" y1="813.7" x2="1307.8" y2="813.7" stroke="#000" stroke-width="3"/>
<line x1="1331.2" y1="926.8" x2="1344.2" y2="926.8" stroke="#000" stroke-width="3"/>
<line x1="1321.3" y1="948.6" x2="1321.3" y2="954.6" stroke="#000" stroke-width="2"/>
<text x="1321.3" y="981.5" text-anchor="middle">V7</text>
<line x1="1303.3" y1="798.2" x2="1339.3" y2="798.2" stroke="#000" stroke-width="2"/>
<text x="1321.3" y="800.2" text-anchor="middle">***</text>
<rect x="1365.5" y="765.7" width="32.5" height="182.9" fill="#66C2A5"/>
<rect x="1402" y="933.9" width="32.5" height="14.7" fill="#FC8D62"/>
<line x1="1375.2" y1="765.7" x2="1388.2" y2="765.7" stroke="#000" stroke-width="3"/>
<line x1="1411.8" y1="933.9" x2="1424.8" y2="933.9" stroke="#000" stroke-width="3"/>
<line x1="1401.8" y1="948.6" x2="1401.8" y2="954.6" stroke="#000" stroke-width="2"/>
<text x="1401.8" y="981.5" text-anchor="middle">V8</text>
<line x1="1383.8" y1="754.2" x2="1419.8" y2="754.2" stroke="#000" stroke-width="2"/>
<text x="1401.8" y="756.2" text-anchor="middle">***</text>
<text x="1447" y="691" style="font-size:44px;">D</text>
<text x="1514" y="742" text-anchor="middle" transform="rotate(-90 1514 742)">Expression of</text>
<text x="1546" y="741" text-anchor="middle" style="font-style:italic;" transform="rotate(-90 1546 741)">SPINK1</text>
<defs><linearGradient id="dgrad" x1="0" y1="0" x2="0" y2="1"><stop offset="0" stop-color="#F28A1C"/><stop offset="0.5" stop-color="#F8C38A"/><stop offset="1" stop-color="#FFFFFF"/></linearGradient></defs>
<rect x="1569.5" y="677.6" width="24.3" height="132.4" fill="url(#dgrad)" stroke="#555" stroke-width="1.8"/>
<line x1="1585" y1="684.7" x2="1592.5" y2="684.7" stroke="#fff" stroke-width="2"/>
<text x="1598.5" y="694.7">2</text>
<line x1="1585" y1="729" x2="1592.5" y2="729" stroke="#fff" stroke-width="2"/>
<text x="1598.5" y="739">1</text>
<line x1="1585" y1="773.3" x2="1592.5" y2="773.3" stroke="#fff" stroke-width="2"/>
<text x="1598.5" y="783.3">0</text>
<rect x="1637" y="748" width="63.1" height="51.5" fill="#F28A1E"/>
<text x="1678.5" y="737" transform="rotate(-90 1678.5 737)">Tumor</text>
<rect x="1700.1" y="748" width="63.1" height="51.5" fill="#FCE3C6"/>
<text x="1746.6" y="737" transform="rotate(-90 1746.6 737)">TAM</text>
<rect x="1763.2" y="748" width="63.1" height="51.5" fill="#FDE9D3"/>
<text x="1807.8" y="737" transform="rotate(-90 1807.8 737)">B cell</text>
<rect x="1826.3" y="748" width="63.1" height="51.5" fill="#FDE8D0"/>
<text x="1867.8" y="737" transform="rotate(-90 1867.8 737)">CAF</text>
<rect x="1889.4" y="748" width="63.1" height="51.5" fill="#FDEBDA"/>
<text x="1931" y="737" transform="rotate(-90 1931 737)">T cell</text>
<rect x="1952.5" y="748" width="63.1" height="51.5" fill="#FFFFFF"/>
<text x="1992" y="737" transform="rotate(-90 1992 737)">TEC</text>
<line x1="1700.1" y1="748" x2="1700.1" y2="799.5" stroke="#fff" stroke-width="1.5"/>
<line x1="1763.2" y1="748" x2="1763.2" y2="799.5" stroke="#fff" stroke-width="1.5"/>
<line x1="1826.3" y1="748" x2="1826.3" y2="799.5" stroke="#fff" stroke-width="1.5"/>
<line x1="1889.4" y1="748" x2="1889.4" y2="799.5" stroke="#fff" stroke-width="1.5"/>
<rect x="1636.4" y="747.4" width="381.6" height="51.8" fill="none" stroke="#333" stroke-width="2" stroke-dasharray="13 8"/>
<text x="1447" y="874" style="font-size:44px;">E</text>
<text x="1514" y="940" text-anchor="middle" transform="rotate(-90 1514 940)">Number of</text>
<text x="1546" y="935" text-anchor="middle" transform="rotate(-90 1546 935)"><tspan font-style="italic" style="font-style:italic">SPINK1</tspan> pairs</text>
<line x1="1599.2" y1="864.4" x2="1599.2" y2="986.8" stroke="#000" stroke-width="2"/>
<line x1="1599.2" y1="986.8" x2="2029.2" y2="986.8" stroke="#000" stroke-width="2"/>
<line x1="1592" y1="896.2" x2="1599.2" y2="896.2" stroke="#000" stroke-width="2"/>
<text x="1595" y="906.2" text-anchor="end">10</text>
<line x1="1592" y1="941.5" x2="1599.2" y2="941.5" stroke="#000" stroke-width="2"/>
<text x="1595" y="951.5" text-anchor="end">5</text>
<line x1="1592" y1="986.8" x2="1599.2" y2="986.8" stroke="#000" stroke-width="2"/>
<text x="1595" y="996.8" text-anchor="end">0</text>
<line x1="1621.8" y1="986.8" x2="1621.8" y2="878.1" stroke="#B2182B" stroke-width="4.5"/>
<circle cx="1621.8" cy="878.1" r="12.5" fill="#B2182B"/>
<text x="1627.8" y="1019" text-anchor="middle">V6</text>
<line x1="1677.3" y1="986.8" x2="1677.3" y2="968.7" stroke="#D6604D" stroke-width="4.5"/>
<circle cx="1677.3" cy="968.7" r="7.5" fill="#D6604D"/>
<text x="1683.3" y="1019" text-anchor="middle">V3</text>
<circle cx="1732.8" cy="986.8" r="2.5" fill="#F4A582"/>
<text x="1738.8" y="1019" text-anchor="middle">V1</text>
<circle cx="1788.3" cy="986.8" r="2.5" fill="#FDDBC7"/>
<text x="1794.3" y="1019" text-anchor="middle">V2</text>
<circle cx="1843.8" cy="986.8" r="2.5" fill="#D1E5F0"/>
<text x="1849.8" y="1019" text-anchor="middle">V4</text>
<circle cx="1899.3" cy="986.8" r="2.5" fill="#92C5DE"/>
<text x="1905.3" y="1019" text-anchor="middle">V5</text>
<circle cx="1954.8" cy="986.8" r="2.5" fill="#4393C3"/>
<text x="1960.8" y="1019" text-anchor="middle">V7</text>
<circle cx="2010.3" cy="986.8" r="2.5" fill="#2166AC"/>
<text x="2016.3" y="1019" text-anchor="middle">V8</text>
<text x="668" y="1043" style="font-size:44px;">F</text>
<rect x="807.8" y="1126.2" width="319.7" height="470.5" fill="none" stroke="#000" stroke-width="2.2"/>
<line x1="822.8" y1="1120.5" x2="822.8" y2="1126.2" stroke="#000" stroke-width="1.5"/>
<text x="832.8" y="1112" style="font-style:italic;" transform="rotate(-90 832.8 1112)">BGN</text>
<line x1="855.1" y1="1120.5" x2="855.1" y2="1126.2" stroke="#000" stroke-width="1.5"/>
<text x="865.1" y="1112" style="font-style:italic;" transform="rotate(-90 865.1 1112)">COL5A1</text>
<line x1="887.5" y1="1120.5" x2="887.5" y2="1126.2" stroke="#000" stroke-width="1.5"/>
<text x="897.5" y="1112" style="font-style:italic;" transform="rotate(-90 897.5 1112)">IGFBP7</text>
<line x1="919.8" y1="1120.5" x2="919.8" y2="1126.2" stroke="#000" stroke-width="1.5"/>
<text x="929.8" y="1112" style="font-style:italic;" transform="rotate(-90 929.8 1112)">COL1A2</text>
<line x1="952.2" y1="1120.5" x2="952.2" y2="1126.2" stroke="#000" stroke-width="1.5"/>
<text x="962.2" y="1112" style="font-style:italic;" transform="rotate(-90 962.2 1112)">VIM</text>
<line x1="984.5" y1="1120.5" x2="984.5" y2="1126.2" stroke="#000" stroke-width="1.5"/>
<text x="994.5" y="1112" style="font-style:italic;" transform="rotate(-90 994.5 1112)">COL1A1</text>
<line x1="1016.8" y1="1120.5" x2="1016.8" y2="1126.2" stroke="#000" stroke-width="1.5"/>
<text x="1026.8" y="1112" style="font-style:italic;" transform="rotate(-90 1026.8 1112)">COL4A1</text>
<line x1="1049.2" y1="1120.5" x2="1049.2" y2="1126.2" stroke="#000" stroke-width="1.5"/>
<text x="1059.2" y="1112" style="font-style:italic;" transform="rotate(-90 1059.2 1112)">MGP</text>
<line x1="1081.5" y1="1120.5" x2="1081.5" y2="1126.2" stroke="#000" stroke-width="1.5"/>
<text x="1091.5" y="1112" style="font-style:italic;" transform="rotate(-90 1091.5 1112)">TPT1</text>
<line x1="1113.9" y1="1120.5" x2="1113.9" y2="1126.2" stroke="#000" stroke-width="1.5"/>
<text x="1123.9" y="1112" style="font-style:italic;" transform="rotate(-90 1123.9 1112)">LUM</text>
<line x1="801.5" y1="1156" x2="807.8" y2="1156" stroke="#000" stroke-width="1.5"/>
<text x="801" y="1165" text-anchor="end">SMC</text>
<circle cx="822.8" cy="1156" r="6" fill="#FFD700" stroke="#333" stroke-width="1"/>
<circle cx="855.1" cy="1156" r="1.9" fill="#FFE000" stroke="#333" stroke-width="1"/>
<circle cx="887.5" cy="1156" r="9" fill="#FFBB00" stroke="#333" stroke-width="1"/>
<circle cx="919.8" cy="1156" r="3.7" fill="#FFD000" stroke="#333" stroke-width="1"/>
<circle cx="952.2" cy="1156" r="7.5" fill="#FF4500" stroke="#333" stroke-width="1"/>
<circle cx="984.5" cy="1156" r="6.2" fill="#FFEE00" stroke="#333" stroke-width="1"/>
<circle cx="1016.8" cy="1156" r="5.6" fill="#FF8000" stroke="#333" stroke-width="1"/>
<circle cx="1049.2" cy="1156" r="5.8" fill="#FFA500" stroke="#333" stroke-width="1"/>
<circle cx="1081.5" cy="1156" r="6.2" fill="#FFB000" stroke="#333" stroke-width="1"/>
<circle cx="1113.9" cy="1156" r="1.2" fill="#333"/>
<line x1="801.5" y1="1214.8" x2="807.8" y2="1214.8" stroke="#000" stroke-width="1.5"/>
<text x="801" y="1223.8" text-anchor="end">mCAF</text>
<circle cx="822.8" cy="1214.8" r="8.4" fill="#FF2200" stroke="#333" stroke-width="1"/>
<circle cx="855.1" cy="1214.8" r="5.4" fill="#FF0000" stroke="#333" stroke-width="1"/>
<circle cx="887.5" cy="1214.8" r="9.9" fill="#FF5500" stroke="#333" stroke-width="1"/>
<circle cx="919.8" cy="1214.8" r="8" fill="#FF2800" stroke="#333" stroke-width="1"/>
<circle cx="952.2" cy="1214.8" r="7.5" fill="#FFB800" stroke="#333" stroke-width="1"/>
<circle cx="984.5" cy="1214.8" r="10.3" fill="#FF2800" stroke="#333" stroke-width="1"/>
<circle cx="1016.8" cy="1214.8" r="7.1" fill="#FF6600" stroke="#333" stroke-width="1"/>
<circle cx="1049.2" cy="1214.8" r="7.3" fill="#FF7700" stroke="#333" stroke-width="1"/>
<circle cx="1081.5" cy="1214.8" r="5.2" fill="#EEE080" stroke="#333" stroke-width="1"/>
<circle cx="1113.9" cy="1214.8" r="5.6" fill="#FF6600" stroke="#333" stroke-width="1"/>
<line x1="801.5" y1="1273.4" x2="807.8" y2="1273.4" stroke="#000" stroke-width="1.5"/>
<text x="801" y="1282.4" text-anchor="end">tCAF</text>
<circle cx="822.8" cy="1273.4" r="4.9" fill="#FFD700" stroke="#333" stroke-width="1"/>
<circle cx="855.1" cy="1273.4" r="1.1" fill="#FFE000" stroke="#333" stroke-width="1"/>
<circle cx="887.5" cy="1273.4" r="6.9" fill="#FFFF00" stroke="#333" stroke-width="1"/>
<circle cx="919.8" cy="1273.4" r="1.9" fill="#FFE000" stroke="#333" stroke-width="1"/>
<circle cx="952.2" cy="1273.4" r="4.3" fill="#FFE800" stroke="#333" stroke-width="1"/>
<circle cx="984.5" cy="1273.4" r="4.7" fill="#FFE800" stroke="#333" stroke-width="1"/>
<circle cx="1016.8" cy="1273.4" r="2.1" fill="#FFE800" stroke="#333" stroke-width="1"/>
<circle cx="1049.2" cy="1273.4" r="3" fill="#FFE000" stroke="#333" stroke-width="1"/>
<circle cx="1081.5" cy="1273.4" r="4.3" fill="#FFD700" stroke="#333" stroke-width="1"/>
<circle cx="1113.9" cy="1273.4" r="1.9" fill="#FFE000" stroke="#333" stroke-width="1"/>
<line x1="801.5" y1="1332" x2="807.8" y2="1332" stroke="#000" stroke-width="1.5"/>
<text x="801" y="1341" text-anchor="end">eCAF</text>
<circle cx="822.8" cy="1332" r="4.5" fill="#F0E68C" stroke="#333" stroke-width="1"/>
<circle cx="855.1" cy="1332" r="1.5" fill="#FFE060" stroke="#333" stroke-width="1"/>
<circle cx="887.5" cy="1332" r="7.1" fill="#F5EB70" stroke="#333" stroke-width="1"/>
<circle cx="919.8" cy="1332" r="1.9" fill="#FFEE60" stroke="#333" stroke-width="1"/>
<circle cx="952.2" cy="1332" r="4.3" fill="#F0E68C" stroke="#333" stroke-width="1"/>
<circle cx="984.5" cy="1332" r="5.2" fill="#FFF000" stroke="#333" stroke-width="1"/>
<circle cx="1016.8" cy="1332" r="2.4" fill="#FFEE40" stroke="#333" stroke-width="1"/>
<circle cx="1049.2" cy="1332" r="4.3" fill="#FFD500" stroke="#333" stroke-width="1"/>
<circle cx="1081.5" cy="1332" r="3.4" fill="#EEE08C" stroke="#333" stroke-width="1"/>
<circle cx="1113.9" cy="1332" r="1.9" fill="#FFE040" stroke="#333" stroke-width="1"/>
<line x1="801.5" y1="1391.4" x2="807.8" y2="1391.4" stroke="#000" stroke-width="1.5"/>
<text x="801" y="1400.4" text-anchor="end"><tspan style="font-style:italic">CXCL12</tspan><tspan style="font-size:17px" dy="-11">+</tspan><tspan dy="11"> CAF</tspan></text>
<circle cx="822.8" cy="1391.4" r="6.7" fill="#FFFF00" stroke="#333" stroke-width="1"/>
<circle cx="855.1" cy="1391.4" r="1.5" fill="#FFEE66" stroke="#333" stroke-width="1"/>
<circle cx="887.5" cy="1391.4" r="8.6" fill="#EEE48C" stroke="#333" stroke-width="1"/>
<circle cx="919.8" cy="1391.4" r="2.8" fill="#F5EA70" stroke="#333" stroke-width="1"/>
<circle cx="952.2" cy="1391.4" r="6.5" fill="#F5EB70" stroke="#333" stroke-width="1"/>
<circle cx="984.5" cy="1391.4" r="5.6" fill="#EEE48C" stroke="#333" stroke-width="1"/>
<circle cx="1016.8" cy="1391.4" r="3.7" fill="#FFF040" stroke="#333" stroke-width="1"/>
<circle cx="1049.2" cy="1391.4" r="3.2" fill="#D3D3D3" stroke="#333" stroke-width="1"/>
<circle cx="1081.5" cy="1391.4" r="8" fill="#FF5A00" stroke="#333" stroke-width="1"/>
<circle cx="1113.9" cy="1391.4" r="1.5" fill="#F5EA70" stroke="#333" stroke-width="1"/>
<line x1="801.5" y1="1444.9" x2="807.8" y2="1444.9" stroke="#000" stroke-width="1.5"/>
<text x="801" y="1453.9" text-anchor="end"><tspan style="font-style:italic">IL32</tspan><tspan style="font-size:17px" dy="-11">+</tspan><tspan dy="11"> CAF</tspan></text>
<circle cx="822.8" cy="1444.9" r="5.8" fill="#FFE000" stroke="#333" stroke-width="1"/>
<circle cx="855.1" cy="1444.9" r="1.7" fill="#FFD700" stroke="#333" stroke-width="1"/>
<circle cx="887.5" cy="1444.9" r="8" fill="#FFFF20" stroke="#333" stroke-width="1"/>
<circle cx="919.8" cy="1444.9" r="3.5" fill="#FFD000" stroke="#333" stroke-width="1"/>
<circle cx="952.2" cy="1444.9" r="6" fill="#FFC800" stroke="#333" stroke-width="1"/>
<circle cx="984.5" cy="1444.9" r="6.7" fill="#FFD000" stroke="#333" stroke-width="1"/>
<circle cx="1016.8" cy="1444.9" r="3.9" fill="#FFD000" stroke="#333" stroke-width="1"/>
<circle cx="1049.2" cy="1444.9" r="5.8" fill="#FFAA00" stroke="#333" stroke-width="1"/>
<circle cx="1081.5" cy="1444.9" r="4.5" fill="#FFF030" stroke="#333" stroke-width="1"/>
<circle cx="1113.9" cy="1444.9" r="2.1" fill="#FFE000" stroke="#333" stroke-width="1"/>
<line x1="801.5" y1="1503.5" x2="807.8" y2="1503.5" stroke="#000" stroke-width="1.5"/>
<text x="801" y="1512.5" text-anchor="end"><tspan style="font-style:italic">CCL19</tspan><tspan style="font-size:17px" dy="-11">+</tspan><tspan dy="11"> CAF</tspan></text>
<circle cx="822.8" cy="1503.5" r="6.3" fill="#FFDA00" stroke="#333" stroke-width="1"/>
<circle cx="855.1" cy="1503.5" r="1.7" fill="#FFE000" stroke="#333" stroke-width="1"/>
<circle cx="887.5" cy="1503.5" r="9" fill="#FFA500" stroke="#333" stroke-width="1"/>
<circle cx="919.8" cy="1503.5" r="3" fill="#FFE000" stroke="#333" stroke-width="1"/>
<circle cx="952.2" cy="1503.5" r="6.5" fill="#FFD700" stroke="#333" stroke-width="1"/>
<circle cx="984.5" cy="1503.5" r="6.2" fill="#FFEE00" stroke="#333" stroke-width="1"/>
<circle cx="1016.8" cy="1503.5" r="2.6" fill="#FFEE60" stroke="#333" stroke-width="1"/>
<circle cx="1049.2" cy="1503.5" r="4.9" fill="#FFEE00" stroke="#333" stroke-width="1"/>
<circle cx="1081.5" cy="1503.5" r="6.3" fill="#FFB000" stroke="#333" stroke-width="1"/>
<circle cx="1113.9" cy="1503.5" r="4.1" fill="#FF9900" stroke="#333" stroke-width="1"/>
<line x1="801.5" y1="1566.4" x2="807.8" y2="1566.4" stroke="#000" stroke-width="1.5"/>
<text x="801" y="1575.4" text-anchor="end">apCAF</text>
<circle cx="822.8" cy="1566.4" r="6.7" fill="#FFC800" stroke="#333" stroke-width="1"/>
<circle cx="855.1" cy="1566.4" r="2.4" fill="#FFD000" stroke="#333" stroke-width="1"/>
<circle cx="887.5" cy="1566.4" r="9" fill="#FFC500" stroke="#333" stroke-width="1"/>
<circle cx="919.8" cy="1566.4" r="4.1" fill="#FFC000" stroke="#333" stroke-width="1"/>
<circle cx="952.2" cy="1566.4" r="6.7" fill="#FFD700" stroke="#333" stroke-width="1"/>
<circle cx="984.5" cy="1566.4" r="7.1" fill="#FFC800" stroke="#333" stroke-width="1"/>
<circle cx="1016.8" cy="1566.4" r="4.1" fill="#FFD000" stroke="#333" stroke-width="1"/>
<circle cx="1049.2" cy="1566.4" r="5" fill="#FFD700" stroke="#333" stroke-width="1"/>
<circle cx="1081.5" cy="1566.4" r="6.2" fill="#FFC000" stroke="#333" stroke-width="1"/>
<circle cx="1113.9" cy="1566.4" r="3.2" fill="#FFB800" stroke="#333" stroke-width="1"/>
<text x="702" y="1636.3">Mean expression</text>
<defs><linearGradient id="fgrad" x1="0" y1="0" x2="1" y2="0"><stop offset="0" stop-color="#D8D8D8"/><stop offset="0.16" stop-color="#F0E68C"/><stop offset="0.33" stop-color="#FFFF00"/><stop offset="0.5" stop-color="#FFD200"/><stop offset="0.7" stop-color="#FFA000"/><stop offset="0.86" stop-color="#FF6000"/><stop offset="1" stop-color="#FF0000"/></linearGradient></defs>
<rect x="712" y="1648.9" width="189.1" height="24.5" fill="url(#fgrad)"/>
<line x1="754.7" y1="1648.9" x2="754.7" y2="1653.5" stroke="#fff" stroke-width="1.2"/>
<line x1="754.7" y1="1668.8" x2="754.7" y2="1673.4" stroke="#fff" stroke-width="1.2"/>
<line x1="798.3" y1="1648.9" x2="798.3" y2="1653.5" stroke="#fff" stroke-width="1.2"/>
<line x1="798.3" y1="1668.8" x2="798.3" y2="1673.4" stroke="#fff" stroke-width="1.2"/>
<line x1="842.4" y1="1648.9" x2="842.4" y2="1653.5" stroke="#fff" stroke-width="1.2"/>
<line x1="842.4" y1="1668.8" x2="842.4" y2="1673.4" stroke="#fff" stroke-width="1.2"/>
<line x1="886.3" y1="1648.9" x2="886.3" y2="1653.5" stroke="#fff" stroke-width="1.2"/>
<line x1="886.3" y1="1668.8" x2="886.3" y2="1673.4" stroke="#fff" stroke-width="1.2"/>
<text x="737" y="1699" text-anchor="middle">−1</text>
<text x="801.5" y="1699" text-anchor="middle">0</text>
<text x="846" y="1699" text-anchor="middle">1</text>
<text x="889.8" y="1699" text-anchor="middle">2</text>
<text x="937" y="1640.1">Percent of cells</text>
<circle cx="990.8" cy="1660.9" r="8.8" fill="#000"/>
<text x="990.8" y="1696.5" text-anchor="middle">75</text>
<circle cx="1046.5" cy="1660.9" r="5.8" fill="#000"/>
<text x="1046.5" y="1696.5" text-anchor="middle">50</text>
<circle cx="1101.9" cy="1660.9" r="2.5" fill="#000"/>
<text x="1101.9" y="1696.5" text-anchor="middle">25</text>
<text x="1141" y="1043" style="font-size:44px;">G</text>
<text x="1171" y="1364" text-anchor="middle" transform="rotate(-90 1171 1364)">Distances of <tspan style="font-style:italic">SPINK1</tspan> to</text>
<line x1="1236.6" y1="1117" x2="1236.6" y2="1347" stroke="#000" stroke-width="2"/>
<line x1="1236.6" y1="1347" x2="1359.1" y2="1347" stroke="#000" stroke-width="2"/>
<line x1="1232.1" y1="1159.9" x2="1236.6" y2="1159.9" stroke="#000" stroke-width="1.5"/>
<text x="1225.8" y="1169.9" text-anchor="end">5.0</text>
<line x1="1232.1" y1="1252.7" x2="1236.6" y2="1252.7" stroke="#000" stroke-width="1.5"/>
<text x="1225.8" y="1262.7" text-anchor="end">2.5</text>
<line x1="1270" y1="1347" x2="1270" y2="1352" stroke="#000" stroke-width="1.5"/>
<line x1="1326.3" y1="1347" x2="1326.3" y2="1352" stroke="#000" stroke-width="1.5"/>
<line x1="1270" y1="1235.8" x2="1270" y2="1257.3" stroke="#333" stroke-width="2"/>
<line x1="1270" y1="1298.8" x2="1270" y2="1329.6" stroke="#333" stroke-width="2"/>
<line x1="1265.5" y1="1235.8" x2="1274.5" y2="1235.8" stroke="#333" stroke-width="2"/>
<line x1="1265.5" y1="1329.6" x2="1274.5" y2="1329.6" stroke="#333" stroke-width="2"/>
<rect x="1258.5" y="1257.3" width="23" height="41.5" fill="#66C2A5" stroke="#333" stroke-width="2"/>
<line x1="1258.5" y1="1282.9" x2="1281.5" y2="1282.9" stroke="#333" stroke-width="2.5"/>
<line x1="1326.3" y1="1237.3" x2="1326.3" y2="1256.8" stroke="#333" stroke-width="2"/>
<line x1="1326.3" y1="1277.3" x2="1326.3" y2="1281.9" stroke="#333" stroke-width="2"/>
<line x1="1321.8" y1="1237.3" x2="1330.8" y2="1237.3" stroke="#333" stroke-width="2"/>
<line x1="1321.8" y1="1281.9" x2="1330.8" y2="1281.9" stroke="#333" stroke-width="2"/>
<rect x="1314.8" y="1256.8" width="23" height="20.5" fill="#FC8D62" stroke="#333" stroke-width="2"/>
<line x1="1314.8" y1="1269.1" x2="1337.8" y2="1269.1" stroke="#333" stroke-width="2.5"/>
<path d="M1270 1158.6 V1148.6 H1326.3 V1158.6" fill="none" stroke="#333" stroke-width="2"/>
<text x="1251.6" y="1377.8">obs. bg.</text>
<text x="1293" y="1077" text-anchor="middle" style="font-style:italic;">BGN</text>
<text x="1304.4" y="1110" text-anchor="middle" style="font-style:italic;">p=1.6e−02</text>
<line x1="1400.6" y1="1117" x2="1400.6" y2="1347" stroke="#000" stroke-width="2"/>
<line x1="1400.6" y1="1347" x2="1523.1" y2="1347" stroke="#000" stroke-width="2"/>
<line x1="1396.1" y1="1159.9" x2="1400.6" y2="1159.9" stroke="#000" stroke-width="1.5"/>
<text x="1388.8" y="1169.9" text-anchor="end">4</text>
<line x1="1396.1" y1="1266.5" x2="1400.6" y2="1266.5" stroke="#000" stroke-width="1.5"/>
<text x="1388.8" y="1276.5" text-anchor="end">2</text>
<line x1="1434" y1="1347" x2="1434" y2="1352" stroke="#000" stroke-width="1.5"/>
<line x1="1490.3" y1="1347" x2="1490.3" y2="1352" stroke="#000" stroke-width="1.5"/>
<line x1="1434" y1="1177.3" x2="1434" y2="1246.5" stroke="#333" stroke-width="2"/>
<line x1="1434" y1="1301.9" x2="1434" y2="1329.6" stroke="#333" stroke-width="2"/>
<line x1="1429.5" y1="1177.3" x2="1438.5" y2="1177.3" stroke="#333" stroke-width="2"/>
<line x1="1429.5" y1="1329.6" x2="1438.5" y2="1329.6" stroke="#333" stroke-width="2"/>
<rect x="1422.5" y="1246.5" width="23" height="55.4" fill="#66C2A5" stroke="#333" stroke-width="2"/>
<line x1="1422.5" y1="1279.9" x2="1445.5" y2="1279.9" stroke="#333" stroke-width="2.5"/>
<line x1="1490.3" y1="1218.4" x2="1490.3" y2="1242.4" stroke="#333" stroke-width="2"/>
<line x1="1490.3" y1="1273.7" x2="1490.3" y2="1278.8" stroke="#333" stroke-width="2"/>
<line x1="1485.8" y1="1218.4" x2="1494.8" y2="1218.4" stroke="#333" stroke-width="2"/>
<line x1="1485.8" y1="1278.8" x2="1494.8" y2="1278.8" stroke="#333" stroke-width="2"/>
<rect x="1478.8" y="1242.4" width="23" height="31.3" fill="#FC8D62" stroke="#333" stroke-width="2"/>
<line x1="1478.8" y1="1259.4" x2="1501.8" y2="1259.4" stroke="#333" stroke-width="2.5"/>
<path d="M1434 1158.6 V1148.6 H1490.3 V1158.6" fill="none" stroke="#333" stroke-width="2"/>
<text x="1418.6" y="1377.8">obs. bg.</text>
<text x="1460.1" y="1077" text-anchor="middle" style="font-style:italic;">COL1A1</text>
<text x="1471.6" y="1110" text-anchor="middle" style="font-style:italic;">p=4.1e−03</text>
<line x1="1564" y1="1119.4" x2="1564" y2="1347" stroke="#000" stroke-width="2"/>
<line x1="1564" y1="1347" x2="1686.5" y2="1347" stroke="#000" stroke-width="2"/>
<line x1="1559.5" y1="1174.3" x2="1564" y2="1174.3" stroke="#000" stroke-width="1.5"/>
<text x="1556.7" y="1184.3" text-anchor="end">3</text>
<line x1="1559.5" y1="1239.9" x2="1564" y2="1239.9" stroke="#000" stroke-width="1.5"/>
<text x="1556.7" y="1249.9" text-anchor="end">2</text>
<line x1="1559.5" y1="1306" x2="1564" y2="1306" stroke="#000" stroke-width="1.5"/>
<text x="1556.7" y="1316" text-anchor="end">1</text>
<line x1="1597.4" y1="1347" x2="1597.4" y2="1352" stroke="#000" stroke-width="1.5"/>
<line x1="1653.7" y1="1347" x2="1653.7" y2="1352" stroke="#000" stroke-width="1.5"/>
<line x1="1597.4" y1="1157.4" x2="1597.4" y2="1229.6" stroke="#333" stroke-width="2"/>
<line x1="1597.4" y1="1280.4" x2="1597.4" y2="1331.6" stroke="#333" stroke-width="2"/>
<line x1="1592.9" y1="1157.4" x2="1601.9" y2="1157.4" stroke="#333" stroke-width="2"/>
<line x1="1592.9" y1="1331.6" x2="1601.9" y2="1331.6" stroke="#333" stroke-width="2"/>
<rect x="1585.9" y="1229.6" width="23" height="50.8" fill="#66C2A5" stroke="#333" stroke-width="2"/>
<line x1="1585.9" y1="1260.4" x2="1608.9" y2="1260.4" stroke="#333" stroke-width="2.5"/>
<line x1="1653.7" y1="1182" x2="1653.7" y2="1213.2" stroke="#333" stroke-width="2"/>
<line x1="1653.7" y1="1249.6" x2="1653.7" y2="1255.8" stroke="#333" stroke-width="2"/>
<line x1="1649.2" y1="1182" x2="1658.2" y2="1182" stroke="#333" stroke-width="2"/>
<line x1="1649.2" y1="1255.8" x2="1658.2" y2="1255.8" stroke="#333" stroke-width="2"/>
<rect x="1642.2" y="1213.2" width="23" height="36.4" fill="#FC8D62" stroke="#333" stroke-width="2"/>
<line x1="1642.2" y1="1232.2" x2="1665.2" y2="1232.2" stroke="#333" stroke-width="2.5"/>
<path d="M1597.4 1154 V1144 H1653.7 V1154" fill="none" stroke="#333" stroke-width="2"/>
<text x="1581" y="1377.8">obs. bg.</text>
<text x="1620.5" y="1077" text-anchor="middle" style="font-style:italic;">COL1A2</text>
<text x="1645.1" y="1110" text-anchor="middle" style="font-style:italic;">p=1.4e−04</text>
<line x1="1737.4" y1="1117" x2="1737.4" y2="1347" stroke="#000" stroke-width="2"/>
<line x1="1737.4" y1="1347" x2="1859.9" y2="1347" stroke="#000" stroke-width="2"/>
<line x1="1732.9" y1="1156.3" x2="1737.4" y2="1156.3" stroke="#000" stroke-width="1.5"/>
<text x="1719.3" y="1166.3" text-anchor="end">3</text>
<line x1="1732.9" y1="1243" x2="1737.4" y2="1243" stroke="#000" stroke-width="1.5"/>
<text x="1719.3" y="1253" text-anchor="end">2</text>
<line x1="1732.9" y1="1329.1" x2="1737.4" y2="1329.1" stroke="#000" stroke-width="1.5"/>
<text x="1719.3" y="1339.1" text-anchor="end">1</text>
<line x1="1770.8" y1="1347" x2="1770.8" y2="1352" stroke="#000" stroke-width="1.5"/>
<line x1="1827.1" y1="1347" x2="1827.1" y2="1352" stroke="#000" stroke-width="1.5"/>
<line x1="1770.8" y1="1238.8" x2="1770.8" y2="1265" stroke="#333" stroke-width="2"/>
<line x1="1770.8" y1="1304.5" x2="1770.8" y2="1329.6" stroke="#333" stroke-width="2"/>
<line x1="1766.3" y1="1238.8" x2="1775.3" y2="1238.8" stroke="#333" stroke-width="2"/>
<line x1="1766.3" y1="1329.6" x2="1775.3" y2="1329.6" stroke="#333" stroke-width="2"/>
<rect x="1759.3" y="1265" width="23" height="39.5" fill="#66C2A5" stroke="#333" stroke-width="2"/>
<line x1="1759.3" y1="1286.5" x2="1782.3" y2="1286.5" stroke="#333" stroke-width="2.5"/>
<line x1="1827.1" y1="1174.8" x2="1827.1" y2="1207.6" stroke="#333" stroke-width="2"/>
<line x1="1827.1" y1="1254.2" x2="1827.1" y2="1263.5" stroke="#333" stroke-width="2"/>
<line x1="1822.6" y1="1174.8" x2="1831.6" y2="1174.8" stroke="#333" stroke-width="2"/>
<line x1="1822.6" y1="1263.5" x2="1831.6" y2="1263.5" stroke="#333" stroke-width="2"/>
<rect x="1815.6" y="1207.6" width="23" height="46.6" fill="#FC8D62" stroke="#333" stroke-width="2"/>
<line x1="1815.6" y1="1233.7" x2="1838.6" y2="1233.7" stroke="#333" stroke-width="2.5"/>
<path d="M1770.8 1158.6 V1148.6 H1827.1 V1158.6" fill="none" stroke="#333" stroke-width="2"/>
<text x="1754.4" y="1377.8">obs. bg.</text>
<text x="1791.2" y="1077" text-anchor="middle" style="font-style:italic;">COL4A1</text>
<text x="1807.1" y="1110" text-anchor="middle" style="font-style:italic;">p=4.0e−08</text>
<line x1="1907.6" y1="1117" x2="1907.6" y2="1347" stroke="#000" stroke-width="2"/>
<line x1="1907.6" y1="1347" x2="2030.1" y2="1347" stroke="#000" stroke-width="2"/>
<line x1="1903.1" y1="1134.3" x2="1907.6" y2="1134.3" stroke="#000" stroke-width="1.5"/>
<text x="1905" y="1144.3" text-anchor="end">10</text>
<line x1="1903.1" y1="1242.4" x2="1907.6" y2="1242.4" stroke="#000" stroke-width="1.5"/>
<text x="1905" y="1252.4" text-anchor="end">5</text>
<line x1="1941" y1="1347" x2="1941" y2="1352" stroke="#000" stroke-width="1.5"/>
<line x1="1997.3" y1="1347" x2="1997.3" y2="1352" stroke="#000" stroke-width="1.5"/>
<line x1="1941" y1="1248.6" x2="1941" y2="1288" stroke="#333" stroke-width="2"/>
<line x1="1941" y1="1318.3" x2="1941" y2="1329.6" stroke="#333" stroke-width="2"/>
<line x1="1936.5" y1="1248.6" x2="1945.5" y2="1248.6" stroke="#333" stroke-width="2"/>
<line x1="1936.5" y1="1329.6" x2="1945.5" y2="1329.6" stroke="#333" stroke-width="2"/>
<rect x="1929.5" y="1288" width="23" height="30.3" fill="#66C2A5" stroke="#333" stroke-width="2"/>
<line x1="1929.5" y1="1312.7" x2="1952.5" y2="1312.7" stroke="#333" stroke-width="2.5"/>
<line x1="1997.3" y1="1179.4" x2="1997.3" y2="1249.1" stroke="#333" stroke-width="2"/>
<line x1="1997.3" y1="1307.5" x2="1997.3" y2="1313.2" stroke="#333" stroke-width="2"/>
<line x1="1992.8" y1="1179.4" x2="2001.8" y2="1179.4" stroke="#333" stroke-width="2"/>
<line x1="1992.8" y1="1313.2" x2="2001.8" y2="1313.2" stroke="#333" stroke-width="2"/>
<rect x="1985.8" y="1249.1" width="23" height="58.4" fill="#FC8D62" stroke="#333" stroke-width="2"/>
<line x1="1985.8" y1="1298.8" x2="2008.8" y2="1298.8" stroke="#333" stroke-width="2.5"/>
<path d="M1941 1158.6 V1148.6 H1997.3 V1158.6" fill="none" stroke="#333" stroke-width="2"/>
<text x="1928.6" y="1377.8">obs. bg.</text>
<text x="1969.1" y="1077" text-anchor="middle" style="font-style:italic;">COL5A1</text>
<text x="1980.8" y="1110" text-anchor="middle" style="font-style:italic;">p=1.1e−03</text>
<line x1="1236.6" y1="1472.3" x2="1236.6" y2="1674.7" stroke="#000" stroke-width="2"/>
<line x1="1236.6" y1="1674.7" x2="1359.1" y2="1674.7" stroke="#000" stroke-width="2"/>
<line x1="1232.1" y1="1492.8" x2="1236.6" y2="1492.8" stroke="#000" stroke-width="1.5"/>
<text x="1215.6" y="1502.8" text-anchor="end">4</text>
<line x1="1232.1" y1="1584.5" x2="1236.6" y2="1584.5" stroke="#000" stroke-width="1.5"/>
<text x="1215.6" y="1594.5" text-anchor="end">2</text>
<line x1="1270" y1="1674.7" x2="1270" y2="1679.7" stroke="#000" stroke-width="1.5"/>
<line x1="1326.3" y1="1674.7" x2="1326.3" y2="1679.7" stroke="#000" stroke-width="1.5"/>
<line x1="1270" y1="1531.7" x2="1270" y2="1572.2" stroke="#333" stroke-width="2"/>
<line x1="1270" y1="1617.3" x2="1270" y2="1657.3" stroke="#333" stroke-width="2"/>
<line x1="1265.5" y1="1531.7" x2="1274.5" y2="1531.7" stroke="#333" stroke-width="2"/>
<line x1="1265.5" y1="1657.3" x2="1274.5" y2="1657.3" stroke="#333" stroke-width="2"/>
<rect x="1258.5" y="1572.2" width="23" height="45.1" fill="#66C2A5" stroke="#333" stroke-width="2"/>
<line x1="1258.5" y1="1597.3" x2="1281.5" y2="1597.3" stroke="#333" stroke-width="2.5"/>
<line x1="1326.3" y1="1555.3" x2="1326.3" y2="1576.3" stroke="#333" stroke-width="2"/>
<line x1="1326.3" y1="1591.2" x2="1326.3" y2="1596.3" stroke="#333" stroke-width="2"/>
<line x1="1321.8" y1="1555.3" x2="1330.8" y2="1555.3" stroke="#333" stroke-width="2"/>
<line x1="1321.8" y1="1596.3" x2="1330.8" y2="1596.3" stroke="#333" stroke-width="2"/>
<rect x="1314.8" y="1576.3" width="23" height="14.9" fill="#FC8D62" stroke="#333" stroke-width="2"/>
<line x1="1314.8" y1="1582.5" x2="1337.8" y2="1582.5" stroke="#333" stroke-width="2.5"/>
<path d="M1270 1508.9 V1498.9 H1326.3 V1508.9" fill="none" stroke="#333" stroke-width="2"/>
<text x="1251.6" y="1705.5">obs. bg.</text>
<text x="1302.2" y="1428.7" text-anchor="middle" style="font-style:italic;">IGFBP7</text>
<text x="1304.4" y="1464.6" text-anchor="middle" style="font-style:italic;">p=2.1e−02</text>
<line x1="1400.1" y1="1472.3" x2="1400.1" y2="1674.7" stroke="#000" stroke-width="2"/>
<line x1="1400.1" y1="1674.7" x2="1522.6" y2="1674.7" stroke="#000" stroke-width="2"/>
<line x1="1395.6" y1="1541.5" x2="1400.1" y2="1541.5" stroke="#000" stroke-width="1.5"/>
<text x="1397.5" y="1551.5" text-anchor="end">10</text>
<line x1="1395.6" y1="1662.4" x2="1400.1" y2="1662.4" stroke="#000" stroke-width="1.5"/>
<text x="1397.5" y="1672.4" text-anchor="end">0</text>
<line x1="1433.5" y1="1674.7" x2="1433.5" y2="1679.7" stroke="#000" stroke-width="1.5"/>
<line x1="1489.8" y1="1674.7" x2="1489.8" y2="1679.7" stroke="#000" stroke-width="1.5"/>
<line x1="1433.5" y1="1626.5" x2="1433.5" y2="1637.8" stroke="#333" stroke-width="2"/>
<line x1="1433.5" y1="1646.5" x2="1433.5" y2="1657.3" stroke="#333" stroke-width="2"/>
<line x1="1429" y1="1626.5" x2="1438" y2="1626.5" stroke="#333" stroke-width="2"/>
<line x1="1429" y1="1657.3" x2="1438" y2="1657.3" stroke="#333" stroke-width="2"/>
<rect x="1422" y="1637.8" width="23" height="8.7" fill="#66C2A5" stroke="#333" stroke-width="2"/>
<line x1="1422" y1="1641.9" x2="1445" y2="1641.9" stroke="#333" stroke-width="2.5"/>
<line x1="1489.8" y1="1622.4" x2="1489.8" y2="1633.2" stroke="#333" stroke-width="2"/>
<line x1="1489.8" y1="1640.9" x2="1489.8" y2="1641.9" stroke="#333" stroke-width="2"/>
<line x1="1485.3" y1="1622.4" x2="1494.3" y2="1622.4" stroke="#333" stroke-width="2"/>
<line x1="1485.3" y1="1641.9" x2="1494.3" y2="1641.9" stroke="#333" stroke-width="2"/>
<rect x="1478.3" y="1633.2" width="23" height="7.7" fill="#FC8D62" stroke="#333" stroke-width="2"/>
<line x1="1478.3" y1="1636.3" x2="1501.3" y2="1636.3" stroke="#333" stroke-width="2.5"/>
<path d="M1433.5 1508.9 V1498.9 H1489.8 V1508.9" fill="none" stroke="#333" stroke-width="2"/>
<text x="1419.8" y="1705.5">obs. bg.</text>
<text x="1469.6" y="1428.7" text-anchor="middle" style="font-style:italic;">LUM</text>
<text x="1471.6" y="1464.6" text-anchor="middle" style="font-style:italic;">p=1.2e−04</text>
<line x1="1564.1" y1="1472.3" x2="1564.1" y2="1674.7" stroke="#000" stroke-width="2"/>
<line x1="1564.1" y1="1674.7" x2="1686.6" y2="1674.7" stroke="#000" stroke-width="2"/>
<line x1="1559.6" y1="1495.8" x2="1564.1" y2="1495.8" stroke="#000" stroke-width="1.5"/>
<text x="1556.4" y="1505.8" text-anchor="end">4</text>
<line x1="1559.6" y1="1585" x2="1564.1" y2="1585" stroke="#000" stroke-width="1.5"/>
<text x="1556.4" y="1595" text-anchor="end">2</text>
<line x1="1597.5" y1="1674.7" x2="1597.5" y2="1679.7" stroke="#000" stroke-width="1.5"/>
<line x1="1653.8" y1="1674.7" x2="1653.8" y2="1679.7" stroke="#000" stroke-width="1.5"/>
<line x1="1597.5" y1="1545.6" x2="1597.5" y2="1573.7" stroke="#333" stroke-width="2"/>
<line x1="1597.5" y1="1615.3" x2="1597.5" y2="1657.3" stroke="#333" stroke-width="2"/>
<line x1="1593" y1="1545.6" x2="1602" y2="1545.6" stroke="#333" stroke-width="2"/>
<line x1="1593" y1="1657.3" x2="1602" y2="1657.3" stroke="#333" stroke-width="2"/>
<rect x="1586" y="1573.7" width="23" height="41.6" fill="#66C2A5" stroke="#333" stroke-width="2"/>
<line x1="1586" y1="1604" x2="1609" y2="1604" stroke="#333" stroke-width="2.5"/>
<line x1="1653.8" y1="1510.2" x2="1653.8" y2="1553.2" stroke="#333" stroke-width="2"/>
<line x1="1653.8" y1="1585.5" x2="1653.8" y2="1595.8" stroke="#333" stroke-width="2"/>
<line x1="1649.3" y1="1510.2" x2="1658.3" y2="1510.2" stroke="#333" stroke-width="2"/>
<line x1="1649.3" y1="1595.8" x2="1658.3" y2="1595.8" stroke="#333" stroke-width="2"/>
<rect x="1642.3" y="1553.2" width="23" height="32.3" fill="#FC8D62" stroke="#333" stroke-width="2"/>
<line x1="1642.3" y1="1577.3" x2="1665.3" y2="1577.3" stroke="#333" stroke-width="2.5"/>
<path d="M1597.5 1508.9 V1498.9 H1653.8 V1508.9" fill="none" stroke="#333" stroke-width="2"/>
<text x="1582.6" y="1705.5">obs. bg.</text>
<text x="1630.5" y="1428.7" text-anchor="middle" style="font-style:italic;">MGP</text>
<text x="1645.1" y="1464.6" text-anchor="middle" style="font-style:italic;">p=1.5e−04</text>
<line x1="1737.4" y1="1472.3" x2="1737.4" y2="1674.7" stroke="#000" stroke-width="2"/>
<line x1="1737.4" y1="1674.7" x2="1859.9" y2="1674.7" stroke="#000" stroke-width="2"/>
<line x1="1732.9" y1="1519.4" x2="1737.4" y2="1519.4" stroke="#000" stroke-width="1.5"/>
<text x="1728.1" y="1529.4" text-anchor="end">5.0</text>
<line x1="1732.9" y1="1599.4" x2="1737.4" y2="1599.4" stroke="#000" stroke-width="1.5"/>
<text x="1728.1" y="1609.4" text-anchor="end">2.5</text>
<line x1="1770.8" y1="1674.7" x2="1770.8" y2="1679.7" stroke="#000" stroke-width="1.5"/>
<line x1="1827.1" y1="1674.7" x2="1827.1" y2="1679.7" stroke="#000" stroke-width="1.5"/>
<line x1="1770.8" y1="1603.5" x2="1770.8" y2="1620.9" stroke="#333" stroke-width="2"/>
<line x1="1770.8" y1="1637.8" x2="1770.8" y2="1657.3" stroke="#333" stroke-width="2"/>
<line x1="1766.3" y1="1603.5" x2="1775.3" y2="1603.5" stroke="#333" stroke-width="2"/>
<line x1="1766.3" y1="1657.3" x2="1775.3" y2="1657.3" stroke="#333" stroke-width="2"/>
<rect x="1759.3" y="1620.9" width="23" height="16.9" fill="#66C2A5" stroke="#333" stroke-width="2"/>
<line x1="1759.3" y1="1629.1" x2="1782.3" y2="1629.1" stroke="#333" stroke-width="2.5"/>
<line x1="1827.1" y1="1594.8" x2="1827.1" y2="1609.1" stroke="#333" stroke-width="2"/>
<line x1="1827.1" y1="1619.4" x2="1827.1" y2="1623.5" stroke="#333" stroke-width="2"/>
<line x1="1822.6" y1="1594.8" x2="1831.6" y2="1594.8" stroke="#333" stroke-width="2"/>
<line x1="1822.6" y1="1623.5" x2="1831.6" y2="1623.5" stroke="#333" stroke-width="2"/>
<rect x="1815.6" y="1609.1" width="23" height="10.3" fill="#FC8D62" stroke="#333" stroke-width="2"/>
<line x1="1815.6" y1="1613.7" x2="1838.6" y2="1613.7" stroke="#333" stroke-width="2.5"/>
<path d="M1770.8 1508.9 V1498.9 H1827.1 V1508.9" fill="none" stroke="#333" stroke-width="2"/>
<text x="1755.9" y="1705.5">obs. bg.</text>
<text x="1801.4" y="1428.7" text-anchor="middle" style="font-style:italic;">TPT1</text>
<text x="1807.1" y="1464.6" text-anchor="middle" style="font-style:italic;">p=1.9e−06</text>
<line x1="1908.1" y1="1472.3" x2="1908.1" y2="1674.7" stroke="#000" stroke-width="2"/>
<line x1="1908.1" y1="1674.7" x2="2030.6" y2="1674.7" stroke="#000" stroke-width="2"/>
<line x1="1903.6" y1="1559.4" x2="1908.1" y2="1559.4" stroke="#000" stroke-width="1.5"/>
<text x="1899.8" y="1569.4" text-anchor="end">2</text>
<line x1="1903.6" y1="1668.1" x2="1908.1" y2="1668.1" stroke="#000" stroke-width="1.5"/>
<text x="1899.8" y="1678.1" text-anchor="end">0</text>
<line x1="1941.5" y1="1674.7" x2="1941.5" y2="1679.7" stroke="#000" stroke-width="1.5"/>
<line x1="1997.8" y1="1674.7" x2="1997.8" y2="1679.7" stroke="#000" stroke-width="1.5"/>
<line x1="1941.5" y1="1537.4" x2="1941.5" y2="1564" stroke="#333" stroke-width="2"/>
<line x1="1941.5" y1="1600.4" x2="1941.5" y2="1621.9" stroke="#333" stroke-width="2"/>
<line x1="1937" y1="1537.4" x2="1946" y2="1537.4" stroke="#333" stroke-width="2"/>
<line x1="1937" y1="1621.9" x2="1946" y2="1621.9" stroke="#333" stroke-width="2"/>
<rect x="1930" y="1564" width="23" height="36.4" fill="#66C2A5" stroke="#333" stroke-width="2"/>
<line x1="1930" y1="1588.6" x2="1953" y2="1588.6" stroke="#333" stroke-width="2.5"/>
<line x1="1997.8" y1="1525" x2="1997.8" y2="1550.2" stroke="#333" stroke-width="2"/>
<line x1="1997.8" y1="1568.1" x2="1997.8" y2="1573.7" stroke="#333" stroke-width="2"/>
<line x1="1993.3" y1="1525" x2="2002.3" y2="1525" stroke="#333" stroke-width="2"/>
<line x1="1993.3" y1="1573.7" x2="2002.3" y2="1573.7" stroke="#333" stroke-width="2"/>
<rect x="1986.3" y="1550.2" width="23" height="17.9" fill="#FC8D62" stroke="#333" stroke-width="2"/>
<line x1="1986.3" y1="1557.9" x2="2009.3" y2="1557.9" stroke="#333" stroke-width="2.5"/>
<path d="M1941.5 1508.9 V1498.9 H1997.8 V1508.9" fill="none" stroke="#333" stroke-width="2"/>
<text x="1931.1" y="1705.5">obs. bg.</text>
<text x="1979.6" y="1428.7" text-anchor="middle" style="font-style:italic;">VIM</text>
<text x="1980.8" y="1464.6" text-anchor="middle" style="font-style:italic;">p=1.5e−06</text>
<line x1="1648.3" y1="1510.2" x2="1658.3" y2="1510.2" stroke="#333" stroke-width="2"/>
<text x="2" y="1789" style="font-size:44px;">H</text>
<text x="50.7" y="1797.7" fill="#5B8FCB"><tspan style="font-style:italic">SPINK1</tspan><tspan style="font-size:17px" dy="-11">-</tspan><tspan dy="11"> tumor cells</tspan></text>
<text x="347" y="1799.7" fill="#F08A78"><tspan style="font-style:italic">SPINK1</tspan><tspan style="font-size:17px" dy="-11">+</tspan><tspan dy="11"> tumor cells</tspan></text>
<line x1="44" y1="1822" x2="620" y2="1822" stroke="#000" stroke-width="2"/>
<path d="M36 1822 L52 1815 L48 1822 L52 1829 Z" fill="#000"/>
<path d="M629 1822 L613 1815 L617 1822 L613 1829 Z" fill="#000"/>
<rect x="330.7" y="1836.7" width="271.1" height="42.5" fill="#F7BDB3"/>
<rect x="330.7" y="1884.3" width="232.9" height="42.5" fill="#F7BDB3"/>
<rect x="330.7" y="1931.9" width="224.3" height="42.5" fill="#F7BDB3"/>
<rect x="330.7" y="1979.5" width="201.7" height="42.5" fill="#F7BDB3"/>
<rect x="330.7" y="2027.1" width="200.9" height="42.5" fill="#F7BDB3"/>
<rect x="108" y="2074.7" width="222.7" height="42.5" fill="#CAD6EA"/>
<rect x="87.4" y="2122.3" width="243.3" height="42.5" fill="#CAD6EA"/>
<rect x="37" y="2169.9" width="293.7" height="42.5" fill="#CAD6EA"/>
<text x="340" y="1865.7">Metastasis</text>
<text x="320.6" y="1869.7" text-anchor="end" style="font-style:italic;">p = 1.0e−04</text>
<text x="340" y="1913.3">Quiescence</text>
<text x="320.6" y="1917.3" text-anchor="end" style="font-style:italic;">p = 5.7e−03</text>
<text x="340" y="1960.9">KRAS_signaling_up</text>
<text x="320.6" y="1964.9" text-anchor="end" style="font-style:italic;">p = 9.1e−03</text>
<text x="340" y="2012.5">Estrogen_response_late</text>
<text x="320.6" y="2012.5" text-anchor="end" style="font-style:italic;">p = 2.8e−02</text>
<text x="337.7" y="2060.1">Estrogen_response_early</text>
<text x="320.6" y="2060.1" text-anchor="end" style="font-style:italic;">p = 3.4e−02</text>
<text x="324" y="2110.2" text-anchor="end">Bile_acid_metabolism</text>
<text x="346" y="2111.2" style="font-style:italic;">p = 1.7e−02</text>
<text x="324" y="2157.8" text-anchor="end">Xenobiotic_metabolism</text>
<text x="346" y="2158.8" style="font-style:italic;">p = 2.3e−03</text>
<text x="324" y="2205.4" text-anchor="end">Coagulation</text>
<text x="346" y="2206.4" style="font-style:italic;">p = 7.1e−05</text>
<line x1="330.7" y1="1822" x2="330.7" y2="2233" stroke="#000" stroke-width="2"/>
<line x1="34" y1="2223.6" x2="634.6" y2="2223.6" stroke="#000" stroke-width="2"/>
<line x1="76.9" y1="2223.6" x2="76.9" y2="2231" stroke="#000" stroke-width="2"/>
<text x="83.9" y="2267.3" text-anchor="middle">−2</text>
<line x1="203.8" y1="2223.6" x2="203.8" y2="2231" stroke="#000" stroke-width="2"/>
<text x="210.8" y="2267.3" text-anchor="middle">−1</text>
<line x1="330.7" y1="2223.6" x2="330.7" y2="2231" stroke="#000" stroke-width="2"/>
<text x="337.7" y="2267.3" text-anchor="middle">0</text>
<line x1="457.6" y1="2223.6" x2="457.6" y2="2231" stroke="#000" stroke-width="2"/>
<text x="464.6" y="2267.3" text-anchor="middle">1</text>
<line x1="584.5" y1="2223.6" x2="584.5" y2="2231" stroke="#000" stroke-width="2"/>
<text x="591.5" y="2267.3" text-anchor="middle">2</text>
<text x="334" y="2304.7" text-anchor="middle">Normalized Enrichment Score (NES)</text>
<text x="733" y="1789" style="font-size:44px;">I</text>
<line x1="1084.7" y1="1823.6" x2="1084.7" y2="2217.4" stroke="#999" stroke-width="2" stroke-dasharray="9 9"/>
<text x="893.8" y="1853.3" text-anchor="middle"><tspan style="font-style:italic">SPINK1</tspan><tspan style="font-size:17px" dy="-11">+</tspan><tspan dy="11"> tumor cells</tspan></text>
<text x="893.8" y="1879.3" text-anchor="middle">as senders</text>
<text x="1286.7" y="1853.3" text-anchor="middle"><tspan style="font-style:italic">SPINK1</tspan><tspan style="font-size:17px" dy="-11">+</tspan><tspan dy="11"> tumor cells</tspan></text>
<text x="1286.7" y="1887.1" text-anchor="middle">as receivers</text>
<path d="M816 2068 C 860 2056, 915 2042, 972 2003" fill="none" stroke="#F4939F" stroke-width="21" stroke-linecap="round"/>
<path d="M996.0 1984.3 Q977.9 1986.8 957.4 1986.8 L976.0 1997.2 L977.5 2018.6 Q986.1 1999.8 996.0 1984.3 Z" fill="#F4939F"/>
<path d="M816 2071 C 860 2110, 900 2140, 985 2162" fill="none" stroke="#F4939F" stroke-width="2.5"/>
<path d="M1001.0 2165.7 Q992.8 2157.3 985.0 2146.5 L986.3 2160.7 L975.0 2170.5 Q988.7 2167.1 1001.0 2165.7 Z" fill="#F4939F"/>
<circle cx="816.1" cy="2071.2" r="11" fill="#E31A1C"/>
<circle cx="1003.4" cy="1977.5" r="10.5" fill="#2E7EBF"/>
<circle cx="1003.4" cy="2165.8" r="3.5" fill="#4DAF4A"/>
<text x="994.3" y="1953.8" text-anchor="middle">mCAFs</text>
<text x="739.4" y="2001.3"><tspan style="font-style:italic">SPINK1</tspan><tspan style="font-size:17px" dy="-11">+</tspan><tspan dy="11"></tspan></text>
<text x="739.4" y="2029.2">tumor cells</text>
<text x="905.2" y="2202.8">other CAFs</text>
<path d="M1184 1978 C 1220 1988, 1262 2000, 1300 2020 C 1315 2028, 1325 2036, 1336 2044" fill="none" stroke="#7BA7DB" stroke-width="21" stroke-linecap="round"/>
<path d="M1360.3 2065.6 Q1352.2 2049.7 1345.7 2030.8 L1341.8 2051.7 L1322.0 2060.7 Q1342.5 2062.0 1360.3 2065.6 Z" fill="#7BA7DB"/>
<path d="M1182 2164 C 1240 2120, 1280 2095, 1350 2076" fill="none" stroke="#A9D57F" stroke-width="2.5"/>
<path d="M1359.6 2074.7 Q1347.9 2072.9 1335.2 2069.1 L1345.0 2079.1 L1342.2 2092.8 Q1350.8 2082.6 1359.6 2074.7 Z" fill="#A9D57F"/>
<circle cx="1182.5" cy="1976.2" r="10.5" fill="#2E7EBF"/>
<circle cx="1369.8" cy="2069.8" r="11" fill="#E31A1C"/>
<circle cx="1181.6" cy="2163.9" r="3.5" fill="#4DAF4A"/>
<text x="1133.6" y="1953.8">mCAFs</text>
<text x="1324.1" y="1990.3"><tspan style="font-style:italic">SPINK1</tspan><tspan style="font-size:17px" dy="-11">+</tspan><tspan dy="11"></tspan></text>
<text x="1324.1" y="2017.3">tumor cells</text>
<text x="1136.8" y="2202.8">other CAFs</text>
<text x="1505" y="1789" style="font-size:44px;">J</text>
<line x1="1633.1" y1="1815.3" x2="1633.1" y2="2175" stroke="#000" stroke-width="2"/>
<line x1="1633.1" y1="2161.7" x2="1956.3" y2="2161.7" stroke="#000" stroke-width="2"/>
<line x1="1626" y1="1821.9" x2="1633.1" y2="1821.9" stroke="#000" stroke-width="2"/>
<text x="1622" y="1831.9" text-anchor="end">1.0</text>
<line x1="1626" y1="1889.9" x2="1633.1" y2="1889.9" stroke="#000" stroke-width="2"/>
<text x="1622" y="1899.9" text-anchor="end">0.8</text>
<line x1="1626" y1="1957.8" x2="1633.1" y2="1957.8" stroke="#000" stroke-width="2"/>
<text x="1622" y="1967.8" text-anchor="end">0.6</text>
<line x1="1626" y1="2025.8" x2="1633.1" y2="2025.8" stroke="#000" stroke-width="2"/>
<text x="1622" y="2035.8" text-anchor="end">0.4</text>
<line x1="1626" y1="2093.7" x2="1633.1" y2="2093.7" stroke="#000" stroke-width="2"/>
<text x="1622" y="2103.7" text-anchor="end">0.2</text>
<line x1="1626" y1="2161.7" x2="1633.1" y2="2161.7" stroke="#000" stroke-width="2"/>
<text x="1622" y="2171.7" text-anchor="end">0.0</text>
<text x="1558" y="1986" text-anchor="middle" transform="rotate(-90 1558 1986)">F1 score</text>
<rect x="1657.2" y="1893.9" width="39.7" height="267.8" fill="#66C2A5"/>
<line x1="1670" y1="1893.9" x2="1684" y2="1893.9" stroke="#000" stroke-width="3"/>
<rect x="1701.3" y="1903.1" width="39.7" height="258.6" fill="#8DA0CB"/>
<line x1="1714.1" y1="1903.1" x2="1728.1" y2="1903.1" stroke="#000" stroke-width="3"/>
<rect x="1745.5" y="1963.6" width="39.7" height="198.1" fill="#FC8D62"/>
<line x1="1758.3" y1="1963.6" x2="1772.3" y2="1963.6" stroke="#000" stroke-width="3"/>
<rect x="1804.2" y="1931.3" width="39.7" height="230.4" fill="#66C2A5"/>
<line x1="1817" y1="1931.3" x2="1831" y2="1931.3" stroke="#000" stroke-width="3"/>
<rect x="1848.4" y="2034.3" width="39.7" height="127.4" fill="#8DA0CB"/>
<line x1="1861.2" y1="2034.3" x2="1875.2" y2="2034.3" stroke="#000" stroke-width="3"/>
<rect x="1892.8" y="2070.6" width="39.7" height="91.1" fill="#FC8D62"/>
<line x1="1905.6" y1="2070.6" x2="1919.6" y2="2070.6" stroke="#000" stroke-width="3"/>
<line x1="1721.3" y1="2161.7" x2="1721.3" y2="2168.7" stroke="#000" stroke-width="2"/>
<text x="1724.3" y="2200.5" text-anchor="middle">V3</text>
<line x1="1868.1" y1="2161.7" x2="1868.1" y2="2168.7" stroke="#000" stroke-width="2"/>
<text x="1871.1" y="2200.5" text-anchor="middle">V6</text>
<line x1="1679.4" y1="1851.1" x2="1765.2" y2="1851.1" stroke="#000" stroke-width="2"/>
<text x="1723.9" y="1852.6" text-anchor="middle">***</text>
<line x1="1679.4" y1="1882.3" x2="1722.3" y2="1882.3" stroke="#000" stroke-width="2"/>
<text x="1700.7" y="1883.8" text-anchor="middle">***</text>
<line x1="1832.5" y1="1878.8" x2="1911.2" y2="1878.8" stroke="#000" stroke-width="2"/>
<text x="1872.8" y="1880.3" text-anchor="middle">***</text>
<line x1="1823" y1="1915" x2="1865.2" y2="1915" stroke="#000" stroke-width="2"/>
<text x="1844.2" y="1916.5" text-anchor="middle">***</text>
<rect x="1552.4" y="2229" width="27.6" height="27.6" fill="#66C2A5"/>
<rect x="1552.4" y="2265.5" width="27.6" height="27.6" fill="#8DA0CB"/>
<rect x="1552.4" y="2304.6" width="27.6" height="27.6" fill="#FC8D62"/>
<text x="1593.7" y="2249.7">Defined villages</text>
<text x="1593.7" y="2289.4">Perturb <tspan style="font-style:italic">SPINK1</tspan><tspan style="font-size:17px" dy="-11">+</tspan><tspan dy="11"> tumor neighbors</tspan></text>
<text x="1593.7" y="2327.5">Perturb tumor neighbors</text>
</svg></body></html>
